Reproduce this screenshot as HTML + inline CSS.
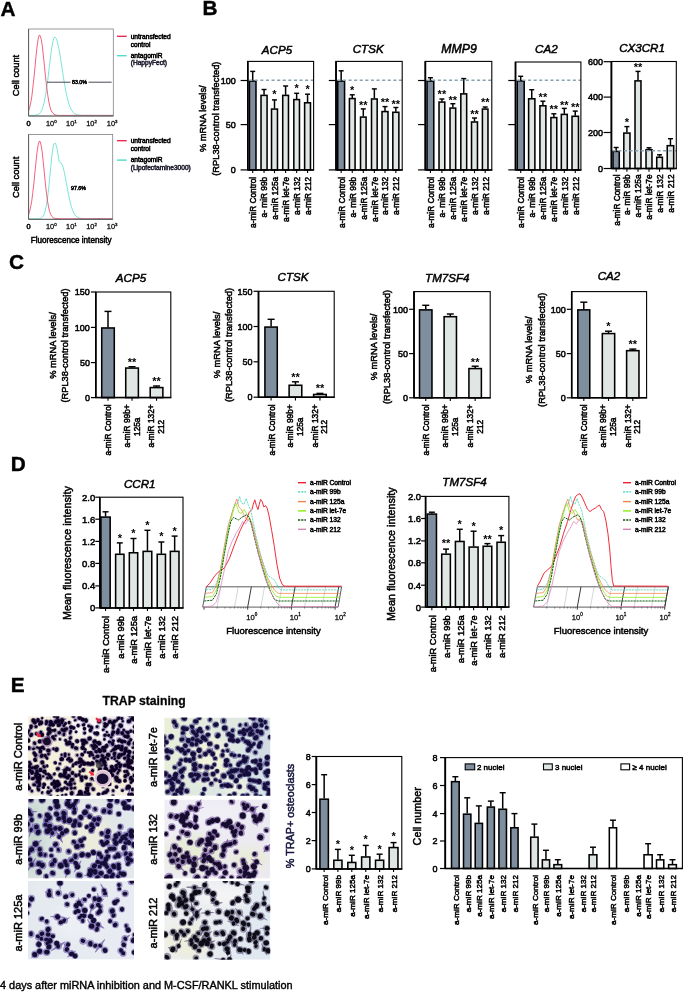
<!DOCTYPE html>
<html><head><meta charset="utf-8"><title>Figure</title>
<style>
html,body{margin:0;padding:0;background:#fff;}
svg{display:block;font-family:"Liberation Sans", sans-serif;}
</style></head>
<body>
<svg width="683" height="992" viewBox="0 0 683 992">
<defs>
<filter id="ident" x="0" y="0" width="683" height="992" filterUnits="userSpaceOnUse"><feOffset dx="0" dy="0"/></filter>
<filter id="blur1" x="-5%" y="-5%" width="110%" height="110%"><feGaussianBlur stdDeviation="0.5"/></filter>
<filter id="blur2" x="-20%" y="-20%" width="140%" height="140%"><feGaussianBlur stdDeviation="4"/></filter>
</defs>
<rect width="683" height="992" fill="#ffffff"/>
<g filter="url(#ident)">
<text font-size="20.8" text-anchor="start" fill="#000" font-weight="bold" x="0.40" y="16.00" stroke="#000" stroke-width="0.4">A</text>
<path d="M28.6 115.4 L29.7 115.4 L30.7 115.4 L31.8 115.4 L32.8 115.4 L33.9 115.3 L35.0 115.3 L36.0 115.1 L37.1 114.9 L38.1 114.5 L39.2 113.8 L40.2 112.7 L41.3 111.1 L42.4 108.7 L43.4 105.4 L44.5 101.0 L45.5 95.4 L46.6 88.6 L47.7 80.6 L48.7 71.9 L49.8 63.0 L50.8 54.4 L51.9 46.9 L53.0 41.2 L54.0 37.8 L55.1 37.1 L56.1 38.3 L57.2 41.2 L58.2 45.5 L59.3 50.9 L60.4 57.2 L61.4 64.0 L62.5 71.0 L63.5 77.9 L64.6 84.3 L65.7 90.2 L66.7 95.5 L67.8 99.9 L68.8 103.7 L69.9 106.7 L70.9 109.1 L72.0 110.9 L73.1 112.3 L74.1 113.3 L75.2 114.0 L76.2 114.5 L77.3 114.8 L78.4 115.0 L79.4 115.2 L80.5 115.3 L81.5 115.3 L82.6 115.4 L83.7 115.4 L84.7 115.4 L85.8 115.4 L86.8 115.4 L87.9 115.4 L88.9 115.4 L90.0 115.4 L91.1 115.4 L92.1 115.4 L93.2 115.4 L94.2 115.4 L95.3 115.4 L96.4 115.4 L97.4 115.4 L98.5 115.4 L99.5 115.4 L100.6 115.4 L101.7 115.4 L102.7 115.4 L103.8 115.4 L104.8 115.4 L105.9 115.4 L106.9 115.4 L108.0 115.4 L109.1 115.4 L110.1 115.4 L111.2 115.4 L112.2 115.4 L113.3 115.4" fill="none" stroke="#4fdcc8" stroke-width="0.75" stroke-linejoin="round" />
<path d="M28.6 110.8 L29.7 107.6 L30.7 102.9 L31.8 96.5 L32.8 88.1 L33.9 78.2 L35.0 67.1 L36.0 56.1 L37.1 46.3 L38.1 39.0 L39.2 35.3 L40.2 35.7 L41.3 39.7 L42.4 46.8 L43.4 56.1 L44.5 66.4 L45.5 76.8 L46.6 86.4 L47.7 94.6 L48.7 101.2 L49.8 106.1 L50.8 109.6 L51.9 111.9 L53.0 113.4 L54.0 114.3 L55.1 114.8 L56.1 115.1 L57.2 115.3 L58.2 115.3 L59.3 115.4 L60.4 115.4 L61.4 115.4 L62.5 115.4 L63.5 115.4 L64.6 115.4 L65.7 115.4 L66.7 115.4 L67.8 115.4 L68.8 115.4 L69.9 115.4 L70.9 115.4 L72.0 115.4 L73.1 115.4 L74.1 115.4 L75.2 115.4 L76.2 115.4 L77.3 115.4 L78.4 115.4 L79.4 115.4 L80.5 115.4 L81.5 115.4 L82.6 115.4 L83.7 115.4 L84.7 115.4 L85.8 115.4 L86.8 115.4 L87.9 115.4 L88.9 115.4 L90.0 115.4 L91.1 115.4 L92.1 115.4 L93.2 115.4 L94.2 115.4 L95.3 115.4 L96.4 115.4 L97.4 115.4 L98.5 115.4 L99.5 115.4 L100.6 115.4 L101.7 115.4 L102.7 115.4 L103.8 115.4 L104.8 115.4 L105.9 115.4 L106.9 115.4 L108.0 115.4 L109.1 115.4 L110.1 115.4 L111.2 115.4 L112.2 115.4 L113.3 115.4" fill="none" stroke="#ee2c55" stroke-width="0.75" stroke-linejoin="round" />
<rect x="28.60" y="29.00" width="84.70" height="87.00" fill="none" stroke="#808080" stroke-width="0.8"/>
<line x1="28.60" y1="29.00" x2="28.60" y2="116.00" stroke="#555" stroke-width="0.9" />
<line x1="28.60" y1="116.00" x2="113.30" y2="116.00" stroke="#555" stroke-width="0.9" />
<text font-size="7.4" text-anchor="middle" fill="#000" stroke="#000" stroke-width="0.5" x="28.60" y="125.60" >0</text>
<text x="51.30" y="125.60" font-size="7.4" text-anchor="middle" fill="#111" stroke="#111" stroke-width="0.3">10<tspan font-size="4.4" dy="-3.1">0</tspan></text>
<text x="71.40" y="125.60" font-size="7.4" text-anchor="middle" fill="#111" stroke="#111" stroke-width="0.3">10<tspan font-size="4.4" dy="-3.1">1</tspan></text>
<text x="91.60" y="125.60" font-size="7.4" text-anchor="middle" fill="#111" stroke="#111" stroke-width="0.3">10<tspan font-size="4.4" dy="-3.1">2</tspan></text>
<text x="112.20" y="125.60" font-size="7.4" text-anchor="middle" fill="#111" stroke="#111" stroke-width="0.3">10<tspan font-size="4.4" dy="-3.1">3</tspan></text>
<text font-size="9.3" text-anchor="middle" fill="#000" stroke="#000" stroke-width="0.5" transform="translate(18.87 75.50) rotate(-90)" >Cell count</text>
<line x1="117.00" y1="36.30" x2="126.70" y2="36.30" stroke="#ee2c55" stroke-width="1.4" />
<text font-size="6.6" text-anchor="start" fill="#000" stroke="#000" stroke-width="0.5" x="130.70" y="38.60" >untransfected</text>
<text font-size="6.6" text-anchor="start" fill="#000" stroke="#000" stroke-width="0.5" x="130.70" y="46.50" >control</text>
<line x1="117.00" y1="55.70" x2="126.70" y2="55.70" stroke="#4fdcc8" stroke-width="1.4" />
<text font-size="6.6" text-anchor="start" fill="#000" stroke="#000" stroke-width="0.5" x="130.70" y="57.50" >antagomiR</text>
<text font-size="6.6" text-anchor="start" fill="#223" stroke="#223" stroke-width="0.5" x="130.70" y="65.30" >(HappyFect)</text>
<path d="M28.6 218.7 L29.7 218.7 L30.7 218.7 L31.8 218.7 L32.8 218.7 L33.9 218.7 L34.9 218.7 L36.0 218.7 L37.0 218.7 L38.1 218.6 L39.1 218.5 L40.2 218.4 L41.2 218.0 L42.3 217.2 L43.3 215.9 L44.4 213.6 L45.4 210.1 L46.5 204.9 L47.5 197.9 L48.6 189.0 L49.6 178.6 L50.7 167.7 L51.7 157.4 L52.8 149.0 L53.8 144.0 L54.9 142.9 L55.9 144.6 L57.0 148.6 L58.0 154.3 L59.1 161.3 L60.1 162.6 L61.2 162.9 L62.2 164.7 L63.3 167.9 L64.3 172.3 L65.4 177.6 L66.4 183.2 L67.5 189.0 L68.5 194.5 L69.6 199.6 L70.7 204.0 L71.7 207.7 L72.8 210.7 L73.8 213.1 L74.9 214.9 L75.9 216.1 L77.0 217.0 L78.0 217.7 L79.1 218.1 L80.1 218.3 L81.2 218.5 L82.2 218.6 L83.3 218.6 L84.3 218.7 L85.4 218.7 L86.4 218.7 L87.5 218.7 L88.5 218.7 L89.6 218.7 L90.6 218.7 L91.7 218.7 L92.7 218.7 L93.8 218.7 L94.8 218.7 L95.9 218.7 L96.9 218.7 L98.0 218.7 L99.0 218.7 L100.1 218.7 L101.1 218.7 L102.2 218.7 L103.2 218.7 L104.3 218.7 L105.3 218.7 L106.4 218.7 L107.4 218.7 L108.5 218.7 L109.5 218.7 L110.6 218.7 L111.6 218.7 L112.7 218.7" fill="none" stroke="#4fdcc8" stroke-width="0.75" stroke-linejoin="round" />
<path d="M28.6 214.2 L29.7 211.2 L30.7 206.7 L31.8 200.6 L32.8 192.6 L33.9 183.1 L34.9 172.5 L36.0 161.9 L37.0 152.4 L38.1 145.2 L39.1 141.4 L40.2 141.6 L41.2 145.6 L42.3 153.0 L43.3 162.6 L44.4 173.3 L45.4 183.8 L46.5 193.2 L47.5 201.1 L48.6 207.1 L49.6 211.5 L50.7 214.4 L51.7 216.3 L52.8 217.4 L53.8 218.1 L54.9 218.4 L55.9 218.6 L57.0 218.6 L58.0 218.7 L59.1 218.7 L60.1 218.7 L61.2 218.7 L62.2 218.7 L63.3 218.7 L64.3 218.7 L65.4 218.7 L66.4 218.7 L67.5 218.7 L68.5 218.7 L69.6 218.7 L70.7 218.7 L71.7 218.7 L72.8 218.7 L73.8 218.7 L74.9 218.7 L75.9 218.7 L77.0 218.7 L78.0 218.7 L79.1 218.7 L80.1 218.7 L81.2 218.7 L82.2 218.7 L83.3 218.7 L84.3 218.7 L85.4 218.7 L86.4 218.7 L87.5 218.7 L88.5 218.7 L89.6 218.7 L90.6 218.7 L91.7 218.7 L92.7 218.7 L93.8 218.7 L94.8 218.7 L95.9 218.7 L96.9 218.7 L98.0 218.7 L99.0 218.7 L100.1 218.7 L101.1 218.7 L102.2 218.7 L103.2 218.7 L104.3 218.7 L105.3 218.7 L106.4 218.7 L107.4 218.7 L108.5 218.7 L109.5 218.7 L110.6 218.7 L111.6 218.7 L112.7 218.7" fill="none" stroke="#ee2c55" stroke-width="0.75" stroke-linejoin="round" />
<rect x="28.60" y="134.40" width="84.10" height="84.90" fill="none" stroke="#808080" stroke-width="0.8"/>
<line x1="28.60" y1="134.40" x2="28.60" y2="219.30" stroke="#555" stroke-width="0.9" />
<line x1="28.60" y1="219.30" x2="112.70" y2="219.30" stroke="#555" stroke-width="0.9" />
<text font-size="7.4" text-anchor="middle" fill="#000" stroke="#000" stroke-width="0.5" x="28.60" y="228.90" >0</text>
<text x="51.30" y="228.90" font-size="7.4" text-anchor="middle" fill="#111" stroke="#111" stroke-width="0.3">10<tspan font-size="4.4" dy="-3.1">0</tspan></text>
<text x="71.40" y="228.90" font-size="7.4" text-anchor="middle" fill="#111" stroke="#111" stroke-width="0.3">10<tspan font-size="4.4" dy="-3.1">1</tspan></text>
<text x="91.60" y="228.90" font-size="7.4" text-anchor="middle" fill="#111" stroke="#111" stroke-width="0.3">10<tspan font-size="4.4" dy="-3.1">2</tspan></text>
<text x="112.20" y="228.90" font-size="7.4" text-anchor="middle" fill="#111" stroke="#111" stroke-width="0.3">10<tspan font-size="4.4" dy="-3.1">3</tspan></text>
<text font-size="9.3" text-anchor="middle" fill="#000" stroke="#000" stroke-width="0.5" transform="translate(18.87 177.35) rotate(-90)" >Cell count</text>
<line x1="117.00" y1="140.70" x2="126.70" y2="140.70" stroke="#ee2c55" stroke-width="1.4" />
<text font-size="6.6" text-anchor="start" fill="#000" stroke="#000" stroke-width="0.5" x="130.70" y="143.00" >untransfected</text>
<text font-size="6.6" text-anchor="start" fill="#000" stroke="#000" stroke-width="0.5" x="130.70" y="150.90" >control</text>
<line x1="117.00" y1="160.10" x2="126.70" y2="160.10" stroke="#4fdcc8" stroke-width="1.4" />
<text font-size="6.6" text-anchor="start" fill="#000" stroke="#000" stroke-width="0.5" x="130.70" y="161.90" >antagomiR</text>
<text font-size="6.6" text-anchor="start" fill="#223" stroke="#223" stroke-width="0.5" x="130.70" y="169.70" >(Lipofectamine3000)</text>
<line x1="47.00" y1="82.20" x2="70.50" y2="82.20" stroke="#334" stroke-width="0.9" />
<line x1="88.50" y1="82.20" x2="111.60" y2="82.20" stroke="#334" stroke-width="0.9" />
<text font-size="5.3" text-anchor="middle" fill="#000" stroke="#000" stroke-width="0.5" x="79.50" y="84.20" >83.0%</text>
<text font-size="5.3" text-anchor="middle" fill="#000" stroke="#000" stroke-width="0.5" x="78.50" y="189.50" >97.6%</text>
<text font-size="8.15" text-anchor="middle" fill="#000" stroke="#000" stroke-width="0.5" x="71.20" y="243.40" >Fluorescence intensity</text>
<text font-size="20.8" text-anchor="start" fill="#000" font-weight="bold" x="202.50" y="14.50" stroke="#000" stroke-width="0.4">B</text>
<text font-size="9.3" text-anchor="middle" fill="#000" stroke="#000" stroke-width="0.5" transform="translate(206.07 118.70) rotate(-90)" >% mRNA levels/</text>
<text font-size="9.3" text-anchor="middle" fill="#000" stroke="#000" stroke-width="0.5" transform="translate(218.57 118.70) rotate(-90)" >(RPL38-control transfected)</text>
<line x1="252.70" y1="71.40" x2="252.70" y2="80.50" stroke="#000" stroke-width="1.5" />
<line x1="250.20" y1="71.40" x2="255.20" y2="71.40" stroke="#000" stroke-width="1.45" />
<rect x="249.43" y="81.08" width="6.55" height="88.83" fill="#7f8e9e" stroke="#000" stroke-width="1.55"/>
<line x1="264.05" y1="89.50" x2="264.05" y2="94.80" stroke="#000" stroke-width="1.5" />
<line x1="261.55" y1="89.50" x2="266.55" y2="89.50" stroke="#000" stroke-width="1.45" />
<rect x="261.02" y="95.38" width="6.05" height="74.53" fill="#e0e6e4" stroke="#000" stroke-width="1.55"/>
<line x1="274.50" y1="99.90" x2="274.50" y2="108.50" stroke="#000" stroke-width="1.5" />
<line x1="272.00" y1="99.90" x2="277.00" y2="99.90" stroke="#000" stroke-width="1.45" />
<rect x="271.52" y="109.08" width="5.95" height="60.83" fill="#e0e6e4" stroke="#000" stroke-width="1.55"/>
<text font-size="11" text-anchor="middle" fill="#000" font-weight="bold" x="274.50" y="97.80" >*</text>
<line x1="285.60" y1="86.00" x2="285.60" y2="94.80" stroke="#000" stroke-width="1.5" />
<line x1="283.10" y1="86.00" x2="288.10" y2="86.00" stroke="#000" stroke-width="1.45" />
<rect x="282.72" y="95.38" width="5.75" height="74.53" fill="#e0e6e4" stroke="#000" stroke-width="1.55"/>
<line x1="296.65" y1="93.30" x2="296.65" y2="99.00" stroke="#000" stroke-width="1.5" />
<line x1="294.15" y1="93.30" x2="299.15" y2="93.30" stroke="#000" stroke-width="1.45" />
<rect x="293.82" y="99.58" width="5.65" height="70.33" fill="#e0e6e4" stroke="#000" stroke-width="1.55"/>
<text font-size="11" text-anchor="middle" fill="#000" font-weight="bold" x="296.65" y="91.50" >*</text>
<line x1="307.55" y1="94.20" x2="307.55" y2="102.20" stroke="#000" stroke-width="1.5" />
<line x1="305.05" y1="94.20" x2="310.05" y2="94.20" stroke="#000" stroke-width="1.45" />
<rect x="304.62" y="102.78" width="5.85" height="67.12" fill="#e0e6e4" stroke="#000" stroke-width="1.55"/>
<text font-size="11" text-anchor="middle" fill="#000" font-weight="bold" x="307.55" y="92.70" >*</text>
<line x1="249.10" y1="80.30" x2="313.60" y2="80.30" stroke="#8aa2b2" stroke-width="1.6" stroke-dasharray="3.1 2.5"/>
<rect x="247.60" y="61.40" width="66.00" height="108.50" fill="none" stroke="#000" stroke-width="1.1"/>
<line x1="247.40" y1="169.90" x2="314.10" y2="169.90" stroke="#000" stroke-width="1.5" />
<line x1="247.90" y1="61.40" x2="247.90" y2="169.90" stroke="#000" stroke-width="1.7" />
<line x1="240.60" y1="80.50" x2="247.60" y2="80.50" stroke="#000" stroke-width="1.2" />
<text font-size="9.0" text-anchor="end" fill="#000" stroke="#000" stroke-width="0.5" x="235.80" y="83.74" >100</text>
<line x1="240.60" y1="124.60" x2="247.60" y2="124.60" stroke="#000" stroke-width="1.2" />
<text font-size="9.0" text-anchor="end" fill="#000" stroke="#000" stroke-width="0.5" x="235.80" y="127.84" >50</text>
<line x1="240.60" y1="169.90" x2="247.60" y2="169.90" stroke="#000" stroke-width="1.2" />
<text font-size="9.0" text-anchor="end" fill="#000" stroke="#000" stroke-width="0.5" x="235.80" y="173.14" >0</text>
<line x1="252.70" y1="169.90" x2="252.70" y2="173.10" stroke="#000" stroke-width="1.1" />
<text font-size="8.3" text-anchor="end" fill="#000" stroke="#000" stroke-width="0.5" transform="translate(256.14 176.80) rotate(-90)" >a-miR Control</text>
<line x1="264.05" y1="169.90" x2="264.05" y2="173.10" stroke="#000" stroke-width="1.1" />
<text font-size="8.3" text-anchor="end" fill="#000" stroke="#000" stroke-width="0.5" transform="translate(267.49 176.80) rotate(-90)" >a- miR 99b</text>
<line x1="274.50" y1="169.90" x2="274.50" y2="173.10" stroke="#000" stroke-width="1.1" />
<text font-size="8.3" text-anchor="end" fill="#000" stroke="#000" stroke-width="0.5" transform="translate(277.94 176.80) rotate(-90)" >a-miR 125a</text>
<line x1="285.60" y1="169.90" x2="285.60" y2="173.10" stroke="#000" stroke-width="1.1" />
<text font-size="8.3" text-anchor="end" fill="#000" stroke="#000" stroke-width="0.5" transform="translate(289.04 176.80) rotate(-90)" >a-miR let-7e</text>
<line x1="296.65" y1="169.90" x2="296.65" y2="173.10" stroke="#000" stroke-width="1.1" />
<text font-size="8.3" text-anchor="end" fill="#000" stroke="#000" stroke-width="0.5" transform="translate(300.09 176.80) rotate(-90)" >a-miR 132</text>
<line x1="307.55" y1="169.90" x2="307.55" y2="173.10" stroke="#000" stroke-width="1.1" />
<text font-size="8.3" text-anchor="end" fill="#000" stroke="#000" stroke-width="0.5" transform="translate(310.99 176.80) rotate(-90)" >a-miR 212</text>
<text font-size="11.6" text-anchor="middle" fill="#000" stroke="#000" stroke-width="0.5" font-style="italic" x="277.00" y="53.90" >ACP5</text>
<line x1="341.15" y1="70.80" x2="341.15" y2="80.50" stroke="#000" stroke-width="1.5" />
<line x1="338.65" y1="70.80" x2="343.65" y2="70.80" stroke="#000" stroke-width="1.45" />
<rect x="337.72" y="81.08" width="6.85" height="88.83" fill="#7f8e9e" stroke="#000" stroke-width="1.55"/>
<line x1="352.25" y1="94.80" x2="352.25" y2="98.00" stroke="#000" stroke-width="1.5" />
<line x1="349.75" y1="94.80" x2="354.75" y2="94.80" stroke="#000" stroke-width="1.45" />
<rect x="349.42" y="98.58" width="5.65" height="71.33" fill="#e0e6e4" stroke="#000" stroke-width="1.55"/>
<text font-size="11" text-anchor="middle" fill="#000" font-weight="bold" x="352.25" y="94.00" >*</text>
<line x1="363.30" y1="108.90" x2="363.30" y2="116.50" stroke="#000" stroke-width="1.5" />
<line x1="360.80" y1="108.90" x2="365.80" y2="108.90" stroke="#000" stroke-width="1.45" />
<rect x="360.52" y="117.08" width="5.55" height="52.83" fill="#e0e6e4" stroke="#000" stroke-width="1.55"/>
<text font-size="11" text-anchor="middle" fill="#000" font-weight="bold" x="363.30" y="108.70" >**</text>
<line x1="374.35" y1="88.90" x2="374.35" y2="98.40" stroke="#000" stroke-width="1.5" />
<line x1="371.85" y1="88.90" x2="376.85" y2="88.90" stroke="#000" stroke-width="1.45" />
<rect x="371.52" y="98.98" width="5.65" height="70.92" fill="#e0e6e4" stroke="#000" stroke-width="1.55"/>
<line x1="385.00" y1="106.60" x2="385.00" y2="111.00" stroke="#000" stroke-width="1.5" />
<line x1="382.50" y1="106.60" x2="387.50" y2="106.60" stroke="#000" stroke-width="1.45" />
<rect x="382.02" y="111.58" width="5.95" height="58.33" fill="#e0e6e4" stroke="#000" stroke-width="1.55"/>
<text font-size="11" text-anchor="middle" fill="#000" font-weight="bold" x="385.00" y="106.40" >**</text>
<line x1="395.85" y1="107.50" x2="395.85" y2="111.70" stroke="#000" stroke-width="1.5" />
<line x1="393.35" y1="107.50" x2="398.35" y2="107.50" stroke="#000" stroke-width="1.45" />
<rect x="392.82" y="112.28" width="6.05" height="57.62" fill="#e0e6e4" stroke="#000" stroke-width="1.55"/>
<text font-size="11" text-anchor="middle" fill="#000" font-weight="bold" x="395.85" y="107.70" >**</text>
<line x1="337.30" y1="80.30" x2="402.20" y2="80.30" stroke="#8aa2b2" stroke-width="1.6" stroke-dasharray="3.1 2.5"/>
<rect x="335.80" y="61.40" width="66.40" height="108.50" fill="none" stroke="#000" stroke-width="1.1"/>
<line x1="335.60" y1="169.90" x2="402.70" y2="169.90" stroke="#000" stroke-width="1.5" />
<line x1="336.10" y1="61.40" x2="336.10" y2="169.90" stroke="#000" stroke-width="1.7" />
<line x1="328.80" y1="80.50" x2="335.80" y2="80.50" stroke="#000" stroke-width="1.2" />
<line x1="328.80" y1="124.60" x2="335.80" y2="124.60" stroke="#000" stroke-width="1.2" />
<line x1="328.80" y1="169.90" x2="335.80" y2="169.90" stroke="#000" stroke-width="1.2" />
<line x1="341.15" y1="169.90" x2="341.15" y2="173.10" stroke="#000" stroke-width="1.1" />
<text font-size="8.3" text-anchor="end" fill="#000" stroke="#000" stroke-width="0.5" transform="translate(344.59 176.80) rotate(-90)" >a-miR Control</text>
<line x1="352.25" y1="169.90" x2="352.25" y2="173.10" stroke="#000" stroke-width="1.1" />
<text font-size="8.3" text-anchor="end" fill="#000" stroke="#000" stroke-width="0.5" transform="translate(355.69 176.80) rotate(-90)" >a- miR 99b</text>
<line x1="363.30" y1="169.90" x2="363.30" y2="173.10" stroke="#000" stroke-width="1.1" />
<text font-size="8.3" text-anchor="end" fill="#000" stroke="#000" stroke-width="0.5" transform="translate(366.74 176.80) rotate(-90)" >a-miR 125a</text>
<line x1="374.35" y1="169.90" x2="374.35" y2="173.10" stroke="#000" stroke-width="1.1" />
<text font-size="8.3" text-anchor="end" fill="#000" stroke="#000" stroke-width="0.5" transform="translate(377.79 176.80) rotate(-90)" >a-miR let-7e</text>
<line x1="385.00" y1="169.90" x2="385.00" y2="173.10" stroke="#000" stroke-width="1.1" />
<text font-size="8.3" text-anchor="end" fill="#000" stroke="#000" stroke-width="0.5" transform="translate(388.44 176.80) rotate(-90)" >a-miR 132</text>
<line x1="395.85" y1="169.90" x2="395.85" y2="173.10" stroke="#000" stroke-width="1.1" />
<text font-size="8.3" text-anchor="end" fill="#000" stroke="#000" stroke-width="0.5" transform="translate(399.29 176.80) rotate(-90)" >a-miR 212</text>
<text font-size="11.6" text-anchor="middle" fill="#000" stroke="#000" stroke-width="0.5" font-style="italic" x="368.20" y="53.30" >CTSK</text>
<line x1="430.40" y1="77.70" x2="430.40" y2="80.50" stroke="#000" stroke-width="1.5" />
<line x1="427.90" y1="77.70" x2="432.90" y2="77.70" stroke="#000" stroke-width="1.45" />
<rect x="427.02" y="81.08" width="6.75" height="88.83" fill="#7f8e9e" stroke="#000" stroke-width="1.55"/>
<line x1="441.90" y1="99.00" x2="441.90" y2="101.50" stroke="#000" stroke-width="1.5" />
<line x1="439.40" y1="99.00" x2="444.40" y2="99.00" stroke="#000" stroke-width="1.45" />
<rect x="439.02" y="102.08" width="5.75" height="67.83" fill="#e0e6e4" stroke="#000" stroke-width="1.55"/>
<text font-size="11" text-anchor="middle" fill="#000" font-weight="bold" x="441.90" y="97.80" >**</text>
<line x1="452.85" y1="103.70" x2="452.85" y2="107.50" stroke="#000" stroke-width="1.5" />
<line x1="450.35" y1="103.70" x2="455.35" y2="103.70" stroke="#000" stroke-width="1.45" />
<rect x="450.02" y="108.08" width="5.65" height="61.83" fill="#e0e6e4" stroke="#000" stroke-width="1.55"/>
<text font-size="11" text-anchor="middle" fill="#000" font-weight="bold" x="452.85" y="103.50" >**</text>
<line x1="463.75" y1="78.60" x2="463.75" y2="93.30" stroke="#000" stroke-width="1.5" />
<line x1="461.25" y1="78.60" x2="466.25" y2="78.60" stroke="#000" stroke-width="1.45" />
<rect x="460.82" y="93.88" width="5.85" height="76.03" fill="#e0e6e4" stroke="#000" stroke-width="1.55"/>
<line x1="474.50" y1="118.00" x2="474.50" y2="121.40" stroke="#000" stroke-width="1.5" />
<line x1="472.00" y1="118.00" x2="477.00" y2="118.00" stroke="#000" stroke-width="1.45" />
<rect x="471.52" y="121.98" width="5.95" height="47.92" fill="#e0e6e4" stroke="#000" stroke-width="1.55"/>
<text font-size="11" text-anchor="middle" fill="#000" font-weight="bold" x="474.50" y="117.80" >**</text>
<line x1="485.20" y1="107.00" x2="485.20" y2="108.50" stroke="#000" stroke-width="1.5" />
<line x1="482.70" y1="107.00" x2="487.70" y2="107.00" stroke="#000" stroke-width="1.45" />
<rect x="482.42" y="109.08" width="5.55" height="60.83" fill="#e0e6e4" stroke="#000" stroke-width="1.55"/>
<text font-size="11" text-anchor="middle" fill="#000" font-weight="bold" x="485.20" y="106.40" >**</text>
<line x1="426.60" y1="80.30" x2="491.80" y2="80.30" stroke="#8aa2b2" stroke-width="1.6" stroke-dasharray="3.1 2.5"/>
<rect x="425.10" y="61.40" width="66.70" height="108.50" fill="none" stroke="#000" stroke-width="1.1"/>
<line x1="424.90" y1="169.90" x2="492.30" y2="169.90" stroke="#000" stroke-width="1.5" />
<line x1="425.40" y1="61.40" x2="425.40" y2="169.90" stroke="#000" stroke-width="1.7" />
<line x1="418.10" y1="80.50" x2="425.10" y2="80.50" stroke="#000" stroke-width="1.2" />
<line x1="418.10" y1="124.60" x2="425.10" y2="124.60" stroke="#000" stroke-width="1.2" />
<line x1="418.10" y1="169.90" x2="425.10" y2="169.90" stroke="#000" stroke-width="1.2" />
<line x1="430.40" y1="169.90" x2="430.40" y2="173.10" stroke="#000" stroke-width="1.1" />
<text font-size="8.3" text-anchor="end" fill="#000" stroke="#000" stroke-width="0.5" transform="translate(433.84 176.80) rotate(-90)" >a-miR Control</text>
<line x1="441.90" y1="169.90" x2="441.90" y2="173.10" stroke="#000" stroke-width="1.1" />
<text font-size="8.3" text-anchor="end" fill="#000" stroke="#000" stroke-width="0.5" transform="translate(445.34 176.80) rotate(-90)" >a- miR 99b</text>
<line x1="452.85" y1="169.90" x2="452.85" y2="173.10" stroke="#000" stroke-width="1.1" />
<text font-size="8.3" text-anchor="end" fill="#000" stroke="#000" stroke-width="0.5" transform="translate(456.29 176.80) rotate(-90)" >a-miR 125a</text>
<line x1="463.75" y1="169.90" x2="463.75" y2="173.10" stroke="#000" stroke-width="1.1" />
<text font-size="8.3" text-anchor="end" fill="#000" stroke="#000" stroke-width="0.5" transform="translate(467.19 176.80) rotate(-90)" >a-miR let-7e</text>
<line x1="474.50" y1="169.90" x2="474.50" y2="173.10" stroke="#000" stroke-width="1.1" />
<text font-size="8.3" text-anchor="end" fill="#000" stroke="#000" stroke-width="0.5" transform="translate(477.94 176.80) rotate(-90)" >a-miR 132</text>
<line x1="485.20" y1="169.90" x2="485.20" y2="173.10" stroke="#000" stroke-width="1.1" />
<text font-size="8.3" text-anchor="end" fill="#000" stroke="#000" stroke-width="0.5" transform="translate(488.64 176.80) rotate(-90)" >a-miR 212</text>
<text font-size="12.3" text-anchor="middle" fill="#000" stroke="#000" stroke-width="0.5" font-style="italic" x="459.00" y="53.30" >MMP9</text>
<line x1="520.70" y1="76.30" x2="520.70" y2="80.30" stroke="#000" stroke-width="1.5" />
<line x1="518.20" y1="76.30" x2="523.20" y2="76.30" stroke="#000" stroke-width="1.45" />
<rect x="517.23" y="80.88" width="6.95" height="89.03" fill="#7f8e9e" stroke="#000" stroke-width="1.55"/>
<line x1="531.75" y1="89.70" x2="531.75" y2="98.20" stroke="#000" stroke-width="1.5" />
<line x1="529.25" y1="89.70" x2="534.25" y2="89.70" stroke="#000" stroke-width="1.45" />
<rect x="528.62" y="98.78" width="6.25" height="71.12" fill="#e0e6e4" stroke="#000" stroke-width="1.55"/>
<line x1="542.90" y1="101.20" x2="542.90" y2="105.20" stroke="#000" stroke-width="1.5" />
<line x1="540.40" y1="101.20" x2="545.40" y2="101.20" stroke="#000" stroke-width="1.45" />
<rect x="539.92" y="105.78" width="5.95" height="64.12" fill="#e0e6e4" stroke="#000" stroke-width="1.55"/>
<text font-size="11" text-anchor="middle" fill="#000" font-weight="bold" x="542.90" y="100.50" >**</text>
<line x1="553.85" y1="113.80" x2="553.85" y2="117.00" stroke="#000" stroke-width="1.5" />
<line x1="551.35" y1="113.80" x2="556.35" y2="113.80" stroke="#000" stroke-width="1.45" />
<rect x="550.92" y="117.58" width="5.85" height="52.33" fill="#e0e6e4" stroke="#000" stroke-width="1.55"/>
<text font-size="11" text-anchor="middle" fill="#000" font-weight="bold" x="553.85" y="112.50" >**</text>
<line x1="564.30" y1="108.40" x2="564.30" y2="113.80" stroke="#000" stroke-width="1.5" />
<line x1="561.80" y1="108.40" x2="566.80" y2="108.40" stroke="#000" stroke-width="1.45" />
<rect x="561.32" y="114.38" width="5.95" height="55.53" fill="#e0e6e4" stroke="#000" stroke-width="1.55"/>
<text font-size="11" text-anchor="middle" fill="#000" font-weight="bold" x="564.30" y="108.50" >**</text>
<line x1="575.25" y1="111.10" x2="575.25" y2="115.70" stroke="#000" stroke-width="1.5" />
<line x1="572.75" y1="111.10" x2="577.75" y2="111.10" stroke="#000" stroke-width="1.45" />
<rect x="572.02" y="116.28" width="6.45" height="53.62" fill="#e0e6e4" stroke="#000" stroke-width="1.55"/>
<text font-size="11" text-anchor="middle" fill="#000" font-weight="bold" x="575.25" y="110.50" >**</text>
<line x1="516.80" y1="80.30" x2="580.90" y2="80.30" stroke="#8aa2b2" stroke-width="1.6" stroke-dasharray="3.1 2.5"/>
<rect x="515.30" y="62.00" width="65.60" height="107.90" fill="none" stroke="#000" stroke-width="1.1"/>
<line x1="515.10" y1="169.90" x2="581.40" y2="169.90" stroke="#000" stroke-width="1.5" />
<line x1="515.60" y1="62.00" x2="515.60" y2="169.90" stroke="#000" stroke-width="1.7" />
<line x1="508.30" y1="80.50" x2="515.30" y2="80.50" stroke="#000" stroke-width="1.2" />
<line x1="508.30" y1="124.60" x2="515.30" y2="124.60" stroke="#000" stroke-width="1.2" />
<line x1="508.30" y1="169.90" x2="515.30" y2="169.90" stroke="#000" stroke-width="1.2" />
<line x1="520.70" y1="169.90" x2="520.70" y2="173.10" stroke="#000" stroke-width="1.1" />
<text font-size="8.3" text-anchor="end" fill="#000" stroke="#000" stroke-width="0.5" transform="translate(524.14 176.80) rotate(-90)" >a-miR Control</text>
<line x1="531.75" y1="169.90" x2="531.75" y2="173.10" stroke="#000" stroke-width="1.1" />
<text font-size="8.3" text-anchor="end" fill="#000" stroke="#000" stroke-width="0.5" transform="translate(535.19 176.80) rotate(-90)" >a- miR 99b</text>
<line x1="542.90" y1="169.90" x2="542.90" y2="173.10" stroke="#000" stroke-width="1.1" />
<text font-size="8.3" text-anchor="end" fill="#000" stroke="#000" stroke-width="0.5" transform="translate(546.34 176.80) rotate(-90)" >a-miR 125a</text>
<line x1="553.85" y1="169.90" x2="553.85" y2="173.10" stroke="#000" stroke-width="1.1" />
<text font-size="8.3" text-anchor="end" fill="#000" stroke="#000" stroke-width="0.5" transform="translate(557.29 176.80) rotate(-90)" >a-miR let-7e</text>
<line x1="564.30" y1="169.90" x2="564.30" y2="173.10" stroke="#000" stroke-width="1.1" />
<text font-size="8.3" text-anchor="end" fill="#000" stroke="#000" stroke-width="0.5" transform="translate(567.74 176.80) rotate(-90)" >a-miR 132</text>
<line x1="575.25" y1="169.90" x2="575.25" y2="173.10" stroke="#000" stroke-width="1.1" />
<text font-size="8.3" text-anchor="end" fill="#000" stroke="#000" stroke-width="0.5" transform="translate(578.69 176.80) rotate(-90)" >a-miR 212</text>
<text font-size="11.6" text-anchor="middle" fill="#000" stroke="#000" stroke-width="0.5" font-style="italic" x="546.40" y="52.70" >CA2</text>
<line x1="616.15" y1="147.50" x2="616.15" y2="150.80" stroke="#000" stroke-width="1.5" />
<line x1="613.65" y1="147.50" x2="618.65" y2="147.50" stroke="#000" stroke-width="1.45" />
<rect x="613.02" y="151.38" width="6.25" height="17.12" fill="#7f8e9e" stroke="#000" stroke-width="1.55"/>
<line x1="626.90" y1="126.60" x2="626.90" y2="132.50" stroke="#000" stroke-width="1.5" />
<line x1="624.40" y1="126.60" x2="629.40" y2="126.60" stroke="#000" stroke-width="1.45" />
<rect x="623.82" y="133.08" width="6.15" height="35.42" fill="#e0e6e4" stroke="#000" stroke-width="1.55"/>
<text font-size="11" text-anchor="middle" fill="#000" font-weight="bold" x="626.90" y="126.00" >*</text>
<line x1="638.00" y1="71.40" x2="638.00" y2="80.30" stroke="#000" stroke-width="1.5" />
<line x1="635.50" y1="71.40" x2="640.50" y2="71.40" stroke="#000" stroke-width="1.45" />
<rect x="635.02" y="80.88" width="5.95" height="87.62" fill="#e0e6e4" stroke="#000" stroke-width="1.55"/>
<text font-size="11" text-anchor="middle" fill="#000" font-weight="bold" x="638.00" y="71.00" >**</text>
<line x1="649.00" y1="147.80" x2="649.00" y2="149.20" stroke="#000" stroke-width="1.5" />
<line x1="646.50" y1="147.80" x2="651.50" y2="147.80" stroke="#000" stroke-width="1.45" />
<rect x="646.02" y="149.78" width="5.95" height="18.72" fill="#e0e6e4" stroke="#000" stroke-width="1.55"/>
<line x1="659.55" y1="154.80" x2="659.55" y2="156.70" stroke="#000" stroke-width="1.5" />
<line x1="657.05" y1="154.80" x2="662.05" y2="154.80" stroke="#000" stroke-width="1.45" />
<rect x="656.73" y="157.28" width="5.65" height="11.22" fill="#e0e6e4" stroke="#000" stroke-width="1.55"/>
<line x1="670.45" y1="138.70" x2="670.45" y2="145.10" stroke="#000" stroke-width="1.5" />
<line x1="667.95" y1="138.70" x2="672.95" y2="138.70" stroke="#000" stroke-width="1.45" />
<rect x="667.23" y="145.68" width="6.45" height="22.82" fill="#e0e6e4" stroke="#000" stroke-width="1.55"/>
<line x1="612.70" y1="150.80" x2="676.30" y2="150.80" stroke="#8aa2b2" stroke-width="1.6" stroke-dasharray="3.1 2.5"/>
<rect x="611.20" y="61.50" width="65.10" height="107.00" fill="none" stroke="#000" stroke-width="1.1"/>
<line x1="611.00" y1="168.50" x2="676.80" y2="168.50" stroke="#000" stroke-width="1.5" />
<line x1="611.50" y1="61.50" x2="611.50" y2="168.50" stroke="#000" stroke-width="1.7" />
<line x1="603.60" y1="61.70" x2="611.20" y2="61.70" stroke="#000" stroke-width="1.2" />
<text font-size="9.0" text-anchor="end" fill="#000" stroke="#000" stroke-width="0.5" x="603.00" y="64.94" >600</text>
<line x1="603.60" y1="97.10" x2="611.20" y2="97.10" stroke="#000" stroke-width="1.2" />
<text font-size="9.0" text-anchor="end" fill="#000" stroke="#000" stroke-width="0.5" x="603.00" y="100.34" >400</text>
<line x1="603.60" y1="132.50" x2="611.20" y2="132.50" stroke="#000" stroke-width="1.2" />
<text font-size="9.0" text-anchor="end" fill="#000" stroke="#000" stroke-width="0.5" x="603.00" y="135.74" >200</text>
<line x1="603.60" y1="168.50" x2="611.20" y2="168.50" stroke="#000" stroke-width="1.2" />
<text font-size="9.0" text-anchor="end" fill="#000" stroke="#000" stroke-width="0.5" x="603.00" y="171.74" >0</text>
<line x1="616.15" y1="168.50" x2="616.15" y2="171.70" stroke="#000" stroke-width="1.1" />
<text font-size="8.3" text-anchor="end" fill="#000" stroke="#000" stroke-width="0.5" transform="translate(619.59 174.50) rotate(-90)" >a-miR Control</text>
<line x1="626.90" y1="168.50" x2="626.90" y2="171.70" stroke="#000" stroke-width="1.1" />
<text font-size="8.3" text-anchor="end" fill="#000" stroke="#000" stroke-width="0.5" transform="translate(630.34 174.50) rotate(-90)" >a- miR 99b</text>
<line x1="638.00" y1="168.50" x2="638.00" y2="171.70" stroke="#000" stroke-width="1.1" />
<text font-size="8.3" text-anchor="end" fill="#000" stroke="#000" stroke-width="0.5" transform="translate(641.44 174.50) rotate(-90)" >a-miR 125a</text>
<line x1="649.00" y1="168.50" x2="649.00" y2="171.70" stroke="#000" stroke-width="1.1" />
<text font-size="8.3" text-anchor="end" fill="#000" stroke="#000" stroke-width="0.5" transform="translate(652.44 174.50) rotate(-90)" >a-miR let-7e</text>
<line x1="659.55" y1="168.50" x2="659.55" y2="171.70" stroke="#000" stroke-width="1.1" />
<text font-size="8.3" text-anchor="end" fill="#000" stroke="#000" stroke-width="0.5" transform="translate(662.99 174.50) rotate(-90)" >a-miR 132</text>
<line x1="670.45" y1="168.50" x2="670.45" y2="171.70" stroke="#000" stroke-width="1.1" />
<text font-size="8.3" text-anchor="end" fill="#000" stroke="#000" stroke-width="0.5" transform="translate(673.89 174.50) rotate(-90)" >a-miR 212</text>
<text font-size="11.6" text-anchor="middle" fill="#000" stroke="#000" stroke-width="0.5" font-style="italic" x="642.00" y="51.60" >CX3CR1</text>
<text font-size="20.8" text-anchor="start" fill="#000" font-weight="bold" x="9.00" y="268.90" stroke="#000" stroke-width="0.4">C</text>
<text font-size="9.3" text-anchor="middle" fill="#000" stroke="#000" stroke-width="0.5" transform="translate(55.77 345.50) rotate(-90)" >% mRNA levels/</text>
<text font-size="9.3" text-anchor="middle" fill="#000" stroke="#000" stroke-width="0.5" transform="translate(68.47 345.50) rotate(-90)" >(RPL38-control transfected)</text>
<line x1="108.00" y1="311.40" x2="108.00" y2="327.40" stroke="#000" stroke-width="1.5" />
<line x1="104.50" y1="311.40" x2="111.50" y2="311.40" stroke="#000" stroke-width="1.45" />
<rect x="101.73" y="327.97" width="12.55" height="69.63" fill="#7f8e9e" stroke="#000" stroke-width="1.55"/>
<line x1="132.05" y1="366.70" x2="132.05" y2="367.50" stroke="#000" stroke-width="1.5" />
<line x1="128.55" y1="366.70" x2="135.55" y2="366.70" stroke="#000" stroke-width="1.45" />
<rect x="125.73" y="368.07" width="12.65" height="29.53" fill="#e0e6e4" stroke="#000" stroke-width="1.55"/>
<text font-size="11" text-anchor="middle" fill="#000" font-weight="bold" x="132.05" y="365.50" >**</text>
<line x1="156.55" y1="386.00" x2="156.55" y2="387.00" stroke="#000" stroke-width="1.5" />
<line x1="153.05" y1="386.00" x2="160.05" y2="386.00" stroke="#000" stroke-width="1.45" />
<rect x="150.22" y="387.57" width="12.65" height="10.03" fill="#e0e6e4" stroke="#000" stroke-width="1.55"/>
<text font-size="11" text-anchor="middle" fill="#000" font-weight="bold" x="156.55" y="385.00" >**</text>
<rect x="95.60" y="292.00" width="75.20" height="105.60" fill="none" stroke="#000" stroke-width="1.1"/>
<line x1="95.40" y1="397.60" x2="171.30" y2="397.60" stroke="#000" stroke-width="1.5" />
<line x1="95.90" y1="292.00" x2="95.90" y2="397.60" stroke="#000" stroke-width="1.7" />
<line x1="90.90" y1="292.00" x2="95.60" y2="292.00" stroke="#000" stroke-width="1.2" />
<text font-size="9.0" text-anchor="end" fill="#000" stroke="#000" stroke-width="0.5" x="89.90" y="295.24" >150</text>
<line x1="90.90" y1="327.40" x2="95.60" y2="327.40" stroke="#000" stroke-width="1.2" />
<text font-size="9.0" text-anchor="end" fill="#000" stroke="#000" stroke-width="0.5" x="89.90" y="330.64" >100</text>
<line x1="90.90" y1="362.60" x2="95.60" y2="362.60" stroke="#000" stroke-width="1.2" />
<text font-size="9.0" text-anchor="end" fill="#000" stroke="#000" stroke-width="0.5" x="89.90" y="365.84" >50</text>
<line x1="90.90" y1="397.60" x2="95.60" y2="397.60" stroke="#000" stroke-width="1.2" />
<text font-size="9.0" text-anchor="end" fill="#000" stroke="#000" stroke-width="0.5" x="89.90" y="400.84" >0</text>
<line x1="108.00" y1="397.60" x2="108.00" y2="400.80" stroke="#000" stroke-width="1.1" />
<text font-size="8.3" text-anchor="end" fill="#000" stroke="#000" stroke-width="0.5" transform="translate(111.44 404.40) rotate(-90)" >a-miR Control</text>
<line x1="132.05" y1="397.60" x2="132.05" y2="400.80" stroke="#000" stroke-width="1.1" />
<text font-size="8.3" text-anchor="end" fill="#000" stroke="#000" stroke-width="0.5" transform="translate(129.89 404.40) rotate(-90)" >a-miR 99b+</text>
<text font-size="8.3" text-anchor="middle" fill="#000" stroke="#000" stroke-width="0.5" transform="translate(139.59 426.74) rotate(-90)" >125a</text>
<line x1="156.55" y1="397.60" x2="156.55" y2="400.80" stroke="#000" stroke-width="1.1" />
<text font-size="8.3" text-anchor="end" fill="#000" stroke="#000" stroke-width="0.5" transform="translate(154.39 404.40) rotate(-90)" >a-miR 132+</text>
<text font-size="8.3" text-anchor="middle" fill="#000" stroke="#000" stroke-width="0.5" transform="translate(164.09 426.74) rotate(-90)" >212</text>
<text font-size="11.6" text-anchor="middle" fill="#000" stroke="#000" stroke-width="0.5" font-style="italic" x="131.00" y="282.40" >ACP5</text>
<text font-size="9.3" text-anchor="middle" fill="#000" stroke="#000" stroke-width="0.5" transform="translate(220.07 345.00) rotate(-90)" >% mRNA levels/</text>
<text font-size="9.3" text-anchor="middle" fill="#000" stroke="#000" stroke-width="0.5" transform="translate(232.37 345.00) rotate(-90)" >(RPL38-control transfected)</text>
<line x1="271.10" y1="319.30" x2="271.10" y2="326.50" stroke="#000" stroke-width="1.5" />
<line x1="267.60" y1="319.30" x2="274.60" y2="319.30" stroke="#000" stroke-width="1.45" />
<rect x="264.92" y="327.07" width="12.35" height="70.12" fill="#7f8e9e" stroke="#000" stroke-width="1.55"/>
<line x1="295.45" y1="381.80" x2="295.45" y2="384.70" stroke="#000" stroke-width="1.5" />
<line x1="291.95" y1="381.80" x2="298.95" y2="381.80" stroke="#000" stroke-width="1.45" />
<rect x="289.12" y="385.27" width="12.65" height="11.93" fill="#e0e6e4" stroke="#000" stroke-width="1.55"/>
<text font-size="11" text-anchor="middle" fill="#000" font-weight="bold" x="295.45" y="380.50" >**</text>
<line x1="319.95" y1="393.40" x2="319.95" y2="393.90" stroke="#000" stroke-width="1.5" />
<line x1="316.45" y1="393.40" x2="323.45" y2="393.40" stroke="#000" stroke-width="1.45" />
<rect x="313.62" y="394.47" width="12.65" height="2.73" fill="#e0e6e4" stroke="#000" stroke-width="1.55"/>
<text font-size="11" text-anchor="middle" fill="#000" font-weight="bold" x="319.95" y="392.00" >**</text>
<rect x="258.30" y="291.30" width="75.90" height="105.90" fill="none" stroke="#000" stroke-width="1.1"/>
<line x1="258.10" y1="397.20" x2="334.70" y2="397.20" stroke="#000" stroke-width="1.5" />
<line x1="258.60" y1="291.30" x2="258.60" y2="397.20" stroke="#000" stroke-width="1.7" />
<line x1="253.60" y1="291.30" x2="258.30" y2="291.30" stroke="#000" stroke-width="1.2" />
<text font-size="9.0" text-anchor="end" fill="#000" stroke="#000" stroke-width="0.5" x="252.60" y="294.54" >150</text>
<line x1="253.60" y1="326.50" x2="258.30" y2="326.50" stroke="#000" stroke-width="1.2" />
<text font-size="9.0" text-anchor="end" fill="#000" stroke="#000" stroke-width="0.5" x="252.60" y="329.74" >100</text>
<line x1="253.60" y1="361.80" x2="258.30" y2="361.80" stroke="#000" stroke-width="1.2" />
<text font-size="9.0" text-anchor="end" fill="#000" stroke="#000" stroke-width="0.5" x="252.60" y="365.04" >50</text>
<line x1="253.60" y1="397.20" x2="258.30" y2="397.20" stroke="#000" stroke-width="1.2" />
<text font-size="9.0" text-anchor="end" fill="#000" stroke="#000" stroke-width="0.5" x="252.60" y="400.44" >0</text>
<line x1="271.10" y1="397.20" x2="271.10" y2="400.40" stroke="#000" stroke-width="1.1" />
<text font-size="8.3" text-anchor="end" fill="#000" stroke="#000" stroke-width="0.5" transform="translate(274.54 404.40) rotate(-90)" >a-miR Control</text>
<line x1="295.45" y1="397.20" x2="295.45" y2="400.40" stroke="#000" stroke-width="1.1" />
<text font-size="8.3" text-anchor="end" fill="#000" stroke="#000" stroke-width="0.5" transform="translate(293.29 404.40) rotate(-90)" >a-miR 99b+</text>
<text font-size="8.3" text-anchor="middle" fill="#000" stroke="#000" stroke-width="0.5" transform="translate(302.99 426.74) rotate(-90)" >125a</text>
<line x1="319.95" y1="397.20" x2="319.95" y2="400.40" stroke="#000" stroke-width="1.1" />
<text font-size="8.3" text-anchor="end" fill="#000" stroke="#000" stroke-width="0.5" transform="translate(317.79 404.40) rotate(-90)" >a-miR 132+</text>
<text font-size="8.3" text-anchor="middle" fill="#000" stroke="#000" stroke-width="0.5" transform="translate(327.49 426.74) rotate(-90)" >212</text>
<text font-size="11.6" text-anchor="middle" fill="#000" stroke="#000" stroke-width="0.5" font-style="italic" x="293.00" y="281.00" >CTSK</text>
<text font-size="9.3" text-anchor="middle" fill="#000" stroke="#000" stroke-width="0.5" transform="translate(377.37 347.00) rotate(-90)" >% mRNA levels/</text>
<text font-size="9.3" text-anchor="middle" fill="#000" stroke="#000" stroke-width="0.5" transform="translate(389.77 347.00) rotate(-90)" >(RPL38-control transfected)</text>
<line x1="425.75" y1="305.30" x2="425.75" y2="309.30" stroke="#000" stroke-width="1.5" />
<line x1="422.25" y1="305.30" x2="429.25" y2="305.30" stroke="#000" stroke-width="1.45" />
<rect x="419.52" y="309.88" width="12.45" height="87.93" fill="#7f8e9e" stroke="#000" stroke-width="1.55"/>
<line x1="450.30" y1="314.00" x2="450.30" y2="316.10" stroke="#000" stroke-width="1.5" />
<line x1="446.80" y1="314.00" x2="453.80" y2="314.00" stroke="#000" stroke-width="1.45" />
<rect x="444.12" y="316.68" width="12.35" height="81.12" fill="#e0e6e4" stroke="#000" stroke-width="1.55"/>
<line x1="475.15" y1="366.20" x2="475.15" y2="368.00" stroke="#000" stroke-width="1.5" />
<line x1="471.65" y1="366.20" x2="478.65" y2="366.20" stroke="#000" stroke-width="1.45" />
<rect x="468.92" y="368.57" width="12.45" height="29.23" fill="#e0e6e4" stroke="#000" stroke-width="1.55"/>
<text font-size="11" text-anchor="middle" fill="#000" font-weight="bold" x="475.15" y="366.00" >**</text>
<rect x="413.80" y="291.60" width="76.40" height="106.20" fill="none" stroke="#000" stroke-width="1.1"/>
<line x1="413.60" y1="397.80" x2="490.70" y2="397.80" stroke="#000" stroke-width="1.5" />
<line x1="414.10" y1="291.60" x2="414.10" y2="397.80" stroke="#000" stroke-width="1.7" />
<line x1="409.10" y1="309.30" x2="413.80" y2="309.30" stroke="#000" stroke-width="1.2" />
<text font-size="9.0" text-anchor="end" fill="#000" stroke="#000" stroke-width="0.5" x="408.10" y="312.54" >100</text>
<line x1="409.10" y1="353.60" x2="413.80" y2="353.60" stroke="#000" stroke-width="1.2" />
<text font-size="9.0" text-anchor="end" fill="#000" stroke="#000" stroke-width="0.5" x="408.10" y="356.84" >50</text>
<line x1="409.10" y1="397.80" x2="413.80" y2="397.80" stroke="#000" stroke-width="1.2" />
<text font-size="9.0" text-anchor="end" fill="#000" stroke="#000" stroke-width="0.5" x="408.10" y="401.04" >0</text>
<line x1="425.75" y1="397.80" x2="425.75" y2="401.00" stroke="#000" stroke-width="1.1" />
<text font-size="8.3" text-anchor="end" fill="#000" stroke="#000" stroke-width="0.5" transform="translate(429.19 404.40) rotate(-90)" >a-miR Control</text>
<line x1="450.30" y1="397.80" x2="450.30" y2="401.00" stroke="#000" stroke-width="1.1" />
<text font-size="8.3" text-anchor="end" fill="#000" stroke="#000" stroke-width="0.5" transform="translate(448.14 404.40) rotate(-90)" >a-miR 99b+</text>
<text font-size="8.3" text-anchor="middle" fill="#000" stroke="#000" stroke-width="0.5" transform="translate(457.84 426.74) rotate(-90)" >125a</text>
<line x1="475.15" y1="397.80" x2="475.15" y2="401.00" stroke="#000" stroke-width="1.1" />
<text font-size="8.3" text-anchor="end" fill="#000" stroke="#000" stroke-width="0.5" transform="translate(472.99 404.40) rotate(-90)" >a-miR 132+</text>
<text font-size="8.3" text-anchor="middle" fill="#000" stroke="#000" stroke-width="0.5" transform="translate(482.69 426.74) rotate(-90)" >212</text>
<text font-size="11.6" text-anchor="middle" fill="#000" stroke="#000" stroke-width="0.5" font-style="italic" x="447.30" y="281.60" >TM7SF4</text>
<text font-size="9.3" text-anchor="middle" fill="#000" stroke="#000" stroke-width="0.5" transform="translate(532.47 349.80) rotate(-90)" >% mRNA levels/</text>
<text font-size="9.3" text-anchor="middle" fill="#000" stroke="#000" stroke-width="0.5" transform="translate(544.77 349.80) rotate(-90)" >(RPL38-control transfected)</text>
<line x1="583.80" y1="302.20" x2="583.80" y2="309.30" stroke="#000" stroke-width="1.5" />
<line x1="580.30" y1="302.20" x2="587.30" y2="302.20" stroke="#000" stroke-width="1.45" />
<rect x="577.82" y="309.88" width="11.95" height="87.93" fill="#7f8e9e" stroke="#000" stroke-width="1.55"/>
<line x1="608.50" y1="331.20" x2="608.50" y2="333.00" stroke="#000" stroke-width="1.5" />
<line x1="605.00" y1="331.20" x2="612.00" y2="331.20" stroke="#000" stroke-width="1.45" />
<rect x="602.32" y="333.57" width="12.35" height="64.23" fill="#e0e6e4" stroke="#000" stroke-width="1.55"/>
<text font-size="11" text-anchor="middle" fill="#000" font-weight="bold" x="608.50" y="330.00" >*</text>
<line x1="632.80" y1="349.10" x2="632.80" y2="350.10" stroke="#000" stroke-width="1.5" />
<line x1="629.30" y1="349.10" x2="636.30" y2="349.10" stroke="#000" stroke-width="1.45" />
<rect x="626.62" y="350.68" width="12.35" height="47.12" fill="#e0e6e4" stroke="#000" stroke-width="1.55"/>
<text font-size="11" text-anchor="middle" fill="#000" font-weight="bold" x="632.80" y="347.50" >**</text>
<rect x="571.50" y="291.60" width="75.10" height="106.20" fill="none" stroke="#000" stroke-width="1.1"/>
<line x1="571.30" y1="397.80" x2="647.10" y2="397.80" stroke="#000" stroke-width="1.5" />
<line x1="571.80" y1="291.60" x2="571.80" y2="397.80" stroke="#000" stroke-width="1.7" />
<line x1="566.80" y1="309.30" x2="571.50" y2="309.30" stroke="#000" stroke-width="1.2" />
<text font-size="9.0" text-anchor="end" fill="#000" stroke="#000" stroke-width="0.5" x="565.80" y="312.54" >100</text>
<line x1="566.80" y1="353.60" x2="571.50" y2="353.60" stroke="#000" stroke-width="1.2" />
<text font-size="9.0" text-anchor="end" fill="#000" stroke="#000" stroke-width="0.5" x="565.80" y="356.84" >50</text>
<line x1="566.80" y1="397.80" x2="571.50" y2="397.80" stroke="#000" stroke-width="1.2" />
<text font-size="9.0" text-anchor="end" fill="#000" stroke="#000" stroke-width="0.5" x="565.80" y="401.04" >0</text>
<line x1="583.80" y1="397.80" x2="583.80" y2="401.00" stroke="#000" stroke-width="1.1" />
<text font-size="8.3" text-anchor="end" fill="#000" stroke="#000" stroke-width="0.5" transform="translate(587.24 404.40) rotate(-90)" >a-miR Control</text>
<line x1="608.50" y1="397.80" x2="608.50" y2="401.00" stroke="#000" stroke-width="1.1" />
<text font-size="8.3" text-anchor="end" fill="#000" stroke="#000" stroke-width="0.5" transform="translate(606.34 404.40) rotate(-90)" >a-miR 99b+</text>
<text font-size="8.3" text-anchor="middle" fill="#000" stroke="#000" stroke-width="0.5" transform="translate(616.04 426.74) rotate(-90)" >125a</text>
<line x1="632.80" y1="397.80" x2="632.80" y2="401.00" stroke="#000" stroke-width="1.1" />
<text font-size="8.3" text-anchor="end" fill="#000" stroke="#000" stroke-width="0.5" transform="translate(630.64 404.40) rotate(-90)" >a-miR 132+</text>
<text font-size="8.3" text-anchor="middle" fill="#000" stroke="#000" stroke-width="0.5" transform="translate(640.34 426.74) rotate(-90)" >212</text>
<text font-size="11.6" text-anchor="middle" fill="#000" stroke="#000" stroke-width="0.5" font-style="italic" x="609.00" y="279.80" >CA2</text>
<text font-size="20.8" text-anchor="start" fill="#000" font-weight="bold" x="10.80" y="470.90" stroke="#000" stroke-width="0.4">D</text>
<text font-size="10.8" text-anchor="middle" fill="#000" stroke="#000" stroke-width="0.5" transform="translate(71.46 553.10) rotate(-90)" >Mean fluorescence intensity</text>
<line x1="105.55" y1="511.80" x2="105.55" y2="516.50" stroke="#000" stroke-width="1.5" />
<line x1="102.55" y1="511.80" x2="108.55" y2="511.80" stroke="#000" stroke-width="1.45" />
<rect x="100.93" y="517.07" width="9.25" height="90.83" fill="#7f8e9e" stroke="#000" stroke-width="1.55"/>
<line x1="119.80" y1="542.90" x2="119.80" y2="553.70" stroke="#000" stroke-width="1.5" />
<line x1="116.80" y1="542.90" x2="122.80" y2="542.90" stroke="#000" stroke-width="1.45" />
<rect x="115.62" y="554.27" width="8.35" height="53.62" fill="#e0e6e4" stroke="#000" stroke-width="1.55"/>
<text font-size="11" text-anchor="middle" fill="#000" font-weight="bold" x="119.80" y="542.20" >*</text>
<line x1="133.50" y1="538.50" x2="133.50" y2="552.20" stroke="#000" stroke-width="1.5" />
<line x1="130.50" y1="538.50" x2="136.50" y2="538.50" stroke="#000" stroke-width="1.45" />
<rect x="129.33" y="552.77" width="8.35" height="55.12" fill="#e0e6e4" stroke="#000" stroke-width="1.55"/>
<text font-size="11" text-anchor="middle" fill="#000" font-weight="bold" x="133.50" y="537.20" >*</text>
<line x1="147.45" y1="530.30" x2="147.45" y2="550.80" stroke="#000" stroke-width="1.5" />
<line x1="144.45" y1="530.30" x2="150.45" y2="530.30" stroke="#000" stroke-width="1.45" />
<rect x="143.12" y="551.37" width="8.65" height="56.53" fill="#e0e6e4" stroke="#000" stroke-width="1.55"/>
<text font-size="11" text-anchor="middle" fill="#000" font-weight="bold" x="147.45" y="528.50" >*</text>
<line x1="161.35" y1="542.00" x2="161.35" y2="553.70" stroke="#000" stroke-width="1.5" />
<line x1="158.35" y1="542.00" x2="164.35" y2="542.00" stroke="#000" stroke-width="1.45" />
<rect x="157.22" y="554.27" width="8.25" height="53.62" fill="#e0e6e4" stroke="#000" stroke-width="1.55"/>
<text font-size="11" text-anchor="middle" fill="#000" font-weight="bold" x="161.35" y="540.20" >*</text>
<line x1="174.65" y1="536.10" x2="174.65" y2="550.80" stroke="#000" stroke-width="1.5" />
<line x1="171.65" y1="536.10" x2="177.65" y2="536.10" stroke="#000" stroke-width="1.45" />
<rect x="170.33" y="551.37" width="8.65" height="56.53" fill="#e0e6e4" stroke="#000" stroke-width="1.55"/>
<text font-size="11" text-anchor="middle" fill="#000" font-weight="bold" x="174.65" y="534.90" >*</text>
<rect x="99.60" y="497.20" width="83.40" height="110.70" fill="none" stroke="#000" stroke-width="1.1"/>
<line x1="99.40" y1="607.90" x2="183.50" y2="607.90" stroke="#000" stroke-width="1.5" />
<line x1="99.90" y1="497.20" x2="99.90" y2="607.90" stroke="#000" stroke-width="1.7" />
<line x1="95.30" y1="497.20" x2="99.60" y2="497.20" stroke="#000" stroke-width="1.2" />
<text font-size="9.5" text-anchor="end" fill="#000" stroke="#000" stroke-width="0.5" x="95.30" y="500.62" >2.0</text>
<line x1="95.30" y1="519.20" x2="99.60" y2="519.20" stroke="#000" stroke-width="1.2" />
<text font-size="9.5" text-anchor="end" fill="#000" stroke="#000" stroke-width="0.5" x="95.30" y="522.62" >1.6</text>
<line x1="95.30" y1="541.40" x2="99.60" y2="541.40" stroke="#000" stroke-width="1.2" />
<text font-size="9.5" text-anchor="end" fill="#000" stroke="#000" stroke-width="0.5" x="95.30" y="544.82" >1.2</text>
<line x1="95.30" y1="563.40" x2="99.60" y2="563.40" stroke="#000" stroke-width="1.2" />
<text font-size="9.5" text-anchor="end" fill="#000" stroke="#000" stroke-width="0.5" x="95.30" y="566.82" >0.8</text>
<line x1="95.30" y1="585.90" x2="99.60" y2="585.90" stroke="#000" stroke-width="1.2" />
<text font-size="9.5" text-anchor="end" fill="#000" stroke="#000" stroke-width="0.5" x="95.30" y="589.32" >0.4</text>
<line x1="95.30" y1="607.90" x2="99.60" y2="607.90" stroke="#000" stroke-width="1.2" />
<text font-size="9.5" text-anchor="end" fill="#000" stroke="#000" stroke-width="0.5" x="95.30" y="611.32" >0</text>
<line x1="105.55" y1="607.90" x2="105.55" y2="611.10" stroke="#000" stroke-width="1.1" />
<text font-size="9.25" text-anchor="end" fill="#000" stroke="#000" stroke-width="0.5" transform="translate(109.30 616.00) rotate(-90)" >a-miR Control</text>
<line x1="119.80" y1="607.90" x2="119.80" y2="611.10" stroke="#000" stroke-width="1.1" />
<text font-size="9.25" text-anchor="end" fill="#000" stroke="#000" stroke-width="0.5" transform="translate(123.55 616.00) rotate(-90)" >a-miR 99b</text>
<line x1="133.50" y1="607.90" x2="133.50" y2="611.10" stroke="#000" stroke-width="1.1" />
<text font-size="9.25" text-anchor="end" fill="#000" stroke="#000" stroke-width="0.5" transform="translate(137.25 616.00) rotate(-90)" >a-miR 125a</text>
<line x1="147.45" y1="607.90" x2="147.45" y2="611.10" stroke="#000" stroke-width="1.1" />
<text font-size="9.25" text-anchor="end" fill="#000" stroke="#000" stroke-width="0.5" transform="translate(151.20 616.00) rotate(-90)" >a-miR let-7e</text>
<line x1="161.35" y1="607.90" x2="161.35" y2="611.10" stroke="#000" stroke-width="1.1" />
<text font-size="9.25" text-anchor="end" fill="#000" stroke="#000" stroke-width="0.5" transform="translate(165.10 616.00) rotate(-90)" >a-miR 132</text>
<line x1="174.65" y1="607.90" x2="174.65" y2="611.10" stroke="#000" stroke-width="1.1" />
<text font-size="9.25" text-anchor="end" fill="#000" stroke="#000" stroke-width="0.5" transform="translate(178.40 616.00) rotate(-90)" >a-miR 212</text>
<text font-size="11.6" text-anchor="middle" fill="#000" stroke="#000" stroke-width="0.5" font-style="italic" x="139.70" y="487.80" >CCR1</text>
<text font-size="10.8" text-anchor="middle" fill="#000" stroke="#000" stroke-width="0.5" transform="translate(395.16 554.20) rotate(-90)" >Mean fluorescence intensity</text>
<line x1="431.85" y1="512.20" x2="431.85" y2="513.50" stroke="#000" stroke-width="1.5" />
<line x1="428.85" y1="512.20" x2="434.85" y2="512.20" stroke="#000" stroke-width="1.45" />
<rect x="427.22" y="514.07" width="9.25" height="93.03" fill="#7f8e9e" stroke="#000" stroke-width="1.55"/>
<line x1="446.05" y1="549.10" x2="446.05" y2="553.60" stroke="#000" stroke-width="1.5" />
<line x1="443.05" y1="549.10" x2="449.05" y2="549.10" stroke="#000" stroke-width="1.45" />
<rect x="441.72" y="554.17" width="8.65" height="52.93" fill="#e0e6e4" stroke="#000" stroke-width="1.55"/>
<text font-size="11" text-anchor="middle" fill="#000" font-weight="bold" x="446.05" y="547.20" >**</text>
<line x1="459.75" y1="529.30" x2="459.75" y2="540.90" stroke="#000" stroke-width="1.5" />
<line x1="456.75" y1="529.30" x2="462.75" y2="529.30" stroke="#000" stroke-width="1.45" />
<rect x="455.42" y="541.47" width="8.65" height="65.63" fill="#e0e6e4" stroke="#000" stroke-width="1.55"/>
<text font-size="11" text-anchor="middle" fill="#000" font-weight="bold" x="459.75" y="528.00" >*</text>
<line x1="473.60" y1="531.20" x2="473.60" y2="546.50" stroke="#000" stroke-width="1.5" />
<line x1="470.60" y1="531.20" x2="476.60" y2="531.20" stroke="#000" stroke-width="1.45" />
<rect x="469.12" y="547.07" width="8.95" height="60.03" fill="#e0e6e4" stroke="#000" stroke-width="1.55"/>
<text font-size="11" text-anchor="middle" fill="#000" font-weight="bold" x="473.60" y="530.10" >*</text>
<line x1="487.45" y1="543.60" x2="487.45" y2="545.70" stroke="#000" stroke-width="1.5" />
<line x1="484.45" y1="543.60" x2="490.45" y2="543.60" stroke="#000" stroke-width="1.45" />
<rect x="483.12" y="546.27" width="8.65" height="60.83" fill="#e0e6e4" stroke="#000" stroke-width="1.55"/>
<text font-size="11" text-anchor="middle" fill="#000" font-weight="bold" x="487.45" y="542.70" >**</text>
<line x1="501.15" y1="535.60" x2="501.15" y2="541.70" stroke="#000" stroke-width="1.5" />
<line x1="498.15" y1="535.60" x2="504.15" y2="535.60" stroke="#000" stroke-width="1.45" />
<rect x="497.02" y="542.27" width="8.25" height="64.83" fill="#e0e6e4" stroke="#000" stroke-width="1.55"/>
<text font-size="11" text-anchor="middle" fill="#000" font-weight="bold" x="501.15" y="534.00" >*</text>
<rect x="425.40" y="496.40" width="83.50" height="110.70" fill="none" stroke="#000" stroke-width="1.1"/>
<line x1="425.20" y1="607.10" x2="509.40" y2="607.10" stroke="#000" stroke-width="1.5" />
<line x1="425.70" y1="496.40" x2="425.70" y2="607.10" stroke="#000" stroke-width="1.7" />
<line x1="421.10" y1="496.40" x2="425.40" y2="496.40" stroke="#000" stroke-width="1.2" />
<text font-size="9.5" text-anchor="end" fill="#000" stroke="#000" stroke-width="0.5" x="421.10" y="499.82" >2.0</text>
<line x1="421.10" y1="518.50" x2="425.40" y2="518.50" stroke="#000" stroke-width="1.2" />
<text font-size="9.5" text-anchor="end" fill="#000" stroke="#000" stroke-width="0.5" x="421.10" y="521.92" >1.6</text>
<line x1="421.10" y1="540.90" x2="425.40" y2="540.90" stroke="#000" stroke-width="1.2" />
<text font-size="9.5" text-anchor="end" fill="#000" stroke="#000" stroke-width="0.5" x="421.10" y="544.32" >1.2</text>
<line x1="421.10" y1="562.80" x2="425.40" y2="562.80" stroke="#000" stroke-width="1.2" />
<text font-size="9.5" text-anchor="end" fill="#000" stroke="#000" stroke-width="0.5" x="421.10" y="566.22" >0.8</text>
<line x1="421.10" y1="585.20" x2="425.40" y2="585.20" stroke="#000" stroke-width="1.2" />
<text font-size="9.5" text-anchor="end" fill="#000" stroke="#000" stroke-width="0.5" x="421.10" y="588.62" >0.4</text>
<line x1="421.10" y1="607.10" x2="425.40" y2="607.10" stroke="#000" stroke-width="1.2" />
<text font-size="9.5" text-anchor="end" fill="#000" stroke="#000" stroke-width="0.5" x="421.10" y="610.52" >0</text>
<line x1="431.85" y1="607.10" x2="431.85" y2="610.30" stroke="#000" stroke-width="1.1" />
<text font-size="9.25" text-anchor="end" fill="#000" stroke="#000" stroke-width="0.5" transform="translate(435.60 615.30) rotate(-90)" >a-miR Control</text>
<line x1="446.05" y1="607.10" x2="446.05" y2="610.30" stroke="#000" stroke-width="1.1" />
<text font-size="9.25" text-anchor="end" fill="#000" stroke="#000" stroke-width="0.5" transform="translate(449.80 615.30) rotate(-90)" >a-miR 99b</text>
<line x1="459.75" y1="607.10" x2="459.75" y2="610.30" stroke="#000" stroke-width="1.1" />
<text font-size="9.25" text-anchor="end" fill="#000" stroke="#000" stroke-width="0.5" transform="translate(463.50 615.30) rotate(-90)" >a-miR 125a</text>
<line x1="473.60" y1="607.10" x2="473.60" y2="610.30" stroke="#000" stroke-width="1.1" />
<text font-size="9.25" text-anchor="end" fill="#000" stroke="#000" stroke-width="0.5" transform="translate(477.35 615.30) rotate(-90)" >a-miR let-7e</text>
<line x1="487.45" y1="607.10" x2="487.45" y2="610.30" stroke="#000" stroke-width="1.1" />
<text font-size="9.25" text-anchor="end" fill="#000" stroke="#000" stroke-width="0.5" transform="translate(491.20 615.30) rotate(-90)" >a-miR 132</text>
<line x1="501.15" y1="607.10" x2="501.15" y2="610.30" stroke="#000" stroke-width="1.1" />
<text font-size="9.25" text-anchor="end" fill="#000" stroke="#000" stroke-width="0.5" transform="translate(504.90 615.30) rotate(-90)" >a-miR 212</text>
<text font-size="11.6" text-anchor="middle" fill="#000" stroke="#000" stroke-width="0.5" font-style="italic" x="464.60" y="486.40" >TM7SF4</text>
<line x1="204.00" y1="607.06" x2="204.00" y2="609.66" stroke="#222" stroke-width="0.9" />
<line x1="217.16" y1="607.06" x2="220.85" y2="586.76" stroke="#b4bcc2" stroke-width="0.6" />
<line x1="217.16" y1="607.06" x2="217.16" y2="608.56" stroke="#444" stroke-width="0.6" />
<line x1="224.85" y1="607.06" x2="224.85" y2="608.56" stroke="#444" stroke-width="0.6" />
<line x1="230.31" y1="607.06" x2="230.31" y2="608.56" stroke="#444" stroke-width="0.6" />
<line x1="234.54" y1="607.06" x2="238.24" y2="586.76" stroke="#b4bcc2" stroke-width="0.6" />
<line x1="234.54" y1="607.06" x2="234.54" y2="608.56" stroke="#444" stroke-width="0.6" />
<line x1="238.01" y1="607.06" x2="238.01" y2="608.56" stroke="#444" stroke-width="0.6" />
<line x1="240.93" y1="607.06" x2="240.93" y2="608.56" stroke="#444" stroke-width="0.6" />
<line x1="243.47" y1="607.06" x2="243.47" y2="608.56" stroke="#444" stroke-width="0.6" />
<line x1="245.70" y1="607.06" x2="245.70" y2="608.56" stroke="#444" stroke-width="0.6" />
<line x1="247.70" y1="607.06" x2="251.39" y2="586.76" stroke="#222" stroke-width="0.9" />
<line x1="247.70" y1="607.06" x2="247.70" y2="609.66" stroke="#222" stroke-width="0.9" />
<line x1="260.86" y1="607.06" x2="264.55" y2="586.76" stroke="#b4bcc2" stroke-width="0.6" />
<line x1="260.86" y1="607.06" x2="260.86" y2="608.56" stroke="#444" stroke-width="0.6" />
<line x1="268.55" y1="607.06" x2="268.55" y2="608.56" stroke="#444" stroke-width="0.6" />
<line x1="274.01" y1="607.06" x2="274.01" y2="608.56" stroke="#444" stroke-width="0.6" />
<line x1="278.24" y1="607.06" x2="281.94" y2="586.76" stroke="#b4bcc2" stroke-width="0.6" />
<line x1="278.24" y1="607.06" x2="278.24" y2="608.56" stroke="#444" stroke-width="0.6" />
<line x1="281.71" y1="607.06" x2="281.71" y2="608.56" stroke="#444" stroke-width="0.6" />
<line x1="284.63" y1="607.06" x2="284.63" y2="608.56" stroke="#444" stroke-width="0.6" />
<line x1="287.17" y1="607.06" x2="287.17" y2="608.56" stroke="#444" stroke-width="0.6" />
<line x1="289.40" y1="607.06" x2="289.40" y2="608.56" stroke="#444" stroke-width="0.6" />
<line x1="291.40" y1="607.06" x2="295.09" y2="586.76" stroke="#222" stroke-width="0.9" />
<line x1="291.40" y1="607.06" x2="291.40" y2="609.66" stroke="#222" stroke-width="0.9" />
<line x1="304.56" y1="607.06" x2="308.25" y2="586.76" stroke="#b4bcc2" stroke-width="0.6" />
<line x1="304.56" y1="607.06" x2="304.56" y2="608.56" stroke="#444" stroke-width="0.6" />
<line x1="312.25" y1="607.06" x2="312.25" y2="608.56" stroke="#444" stroke-width="0.6" />
<line x1="317.71" y1="607.06" x2="317.71" y2="608.56" stroke="#444" stroke-width="0.6" />
<line x1="321.94" y1="607.06" x2="325.64" y2="586.76" stroke="#b4bcc2" stroke-width="0.6" />
<line x1="321.94" y1="607.06" x2="321.94" y2="608.56" stroke="#444" stroke-width="0.6" />
<line x1="325.41" y1="607.06" x2="325.41" y2="608.56" stroke="#444" stroke-width="0.6" />
<line x1="328.33" y1="607.06" x2="328.33" y2="608.56" stroke="#444" stroke-width="0.6" />
<line x1="330.87" y1="607.06" x2="330.87" y2="608.56" stroke="#444" stroke-width="0.6" />
<line x1="333.10" y1="607.06" x2="333.10" y2="608.56" stroke="#444" stroke-width="0.6" />
<line x1="335.10" y1="607.06" x2="338.79" y2="586.76" stroke="#222" stroke-width="0.9" />
<line x1="335.10" y1="607.06" x2="335.10" y2="609.66" stroke="#222" stroke-width="0.9" />
<path d="M206.3 586.8 L341.6 586.8 L338.1 607.1 L202.7 607.1 Z" fill="none" stroke="#333" stroke-width="0.8"/>
<path d="M206.3 586.8 L209.8 583.3 L215.0 575.4 L219.0 571.5 L224.3 568.0 L229.5 558.3 L234.8 543.8 L240.1 530.6 L244.0 522.7 L246.7 518.8 L249.3 512.2 L251.9 509.5 L253.3 504.3 L254.8 499.8 L256.4 505.6 L258.0 509.5 L259.3 504.3 L260.6 499.5 L262.2 501.6 L263.8 506.9 L265.6 505.6 L267.2 508.2 L269.1 516.1 L271.7 530.6 L274.3 546.4 L277.0 564.9 L279.6 578.1 L282.3 584.7 L284.9 586.2 L341.6 586.2" fill="none" stroke="#f0202e" stroke-width="0.95" stroke-linejoin="round" />
<path d="M205.8 589.9 L212.4 589.1 L216.4 583.3 L220.3 570.2 L224.3 549.1 L228.2 528.0 L232.2 512.2 L235.3 502.9 L237.4 504.3 L239.6 496.4 L241.4 502.9 L244.0 504.3 L246.1 498.5 L248.5 505.6 L250.6 509.5 L253.3 522.7 L255.9 535.9 L259.8 551.7 L263.8 564.9 L267.8 575.4 L271.7 578.1 L274.9 580.7 L278.3 587.3 L280.9 589.9 L340.8 589.9" fill="none" stroke="#3fd2b4" stroke-width="0.75" stroke-linejoin="round" stroke-dasharray="2.2 0.8"/>
<path d="M205.3 593.4 L212.4 592.6 L216.4 586.0 L220.3 570.2 L224.3 546.4 L228.2 525.4 L232.2 512.2 L234.8 504.3 L236.9 499.0 L238.8 506.9 L241.4 509.5 L244.0 514.8 L246.7 520.1 L249.3 518.8 L251.9 522.7 L254.6 533.3 L258.5 549.1 L262.5 562.3 L266.4 575.4 L270.4 583.3 L274.3 589.9 L278.3 593.4 L340.2 593.4" fill="none" stroke="#f0844c" stroke-width="0.75" stroke-linejoin="round" />
<path d="M204.8 597.3 L212.4 596.5 L216.4 589.9 L220.3 575.4 L224.3 551.7 L228.2 530.6 L231.6 517.4 L234.3 506.9 L236.4 504.3 L238.8 512.2 L241.4 513.5 L244.0 509.5 L246.7 513.5 L249.3 517.4 L251.9 526.7 L255.9 541.2 L259.8 557.0 L263.8 570.2 L267.8 580.7 L271.7 589.9 L275.7 596.0 L279.6 597.3 L339.7 597.3" fill="none" stroke="#86ee10" stroke-width="0.75" stroke-linejoin="round" />
<path d="M204.2 601.0 L212.4 600.2 L216.4 593.9 L220.3 578.1 L224.3 554.3 L228.2 533.3 L230.9 521.4 L233.5 517.4 L236.1 518.8 L238.8 520.1 L241.4 517.4 L244.0 516.1 L246.7 514.8 L249.3 517.4 L251.1 522.7 L254.6 538.5 L258.5 554.3 L262.5 567.5 L266.4 580.7 L270.4 591.2 L274.3 599.2 L278.3 601.0 L339.2 601.0" fill="none" stroke="#0e5a12" stroke-width="1.0" stroke-linejoin="round" stroke-dasharray="2.2 0.8"/>
<path d="M203.2 607.1 L212.4 606.0 L216.4 601.8 L220.3 588.6 L224.3 570.2 L228.2 551.7 L232.2 541.2 L236.1 533.3 L240.1 526.7 L242.7 521.4 L245.4 524.0 L248.0 520.1 L250.6 522.7 L253.3 530.6 L257.2 549.1 L261.2 564.9 L265.1 578.1 L269.1 588.6 L273.0 596.5 L277.0 603.1 L280.9 606.5 L338.1 606.5" fill="none" stroke="#d684b4" stroke-width="0.75" stroke-linejoin="round" />
<text x="251.80" y="619.66" font-size="7.6" text-anchor="middle" fill="#111" stroke="#111" stroke-width="0.3">10<tspan font-size="4.6" dy="-3.2">0</tspan></text>
<text x="295.20" y="619.66" font-size="7.6" text-anchor="middle" fill="#111" stroke="#111" stroke-width="0.3">10<tspan font-size="4.6" dy="-3.2">1</tspan></text>
<text x="340.20" y="619.66" font-size="7.6" text-anchor="middle" fill="#111" stroke="#111" stroke-width="0.3">10<tspan font-size="4.6" dy="-3.2">2</tspan></text>
<text font-size="9.5" text-anchor="middle" fill="#000" stroke="#000" stroke-width="0.5" x="273.50" y="633.60" >Fluorescence intensity</text>
<line x1="298.00" y1="482.70" x2="306.00" y2="482.70" stroke="#f0202e" stroke-width="1.4" />
<text font-size="6.65" text-anchor="start" fill="#000" stroke="#000" stroke-width="0.5" x="310.00" y="485.10" >a-miR Control</text>
<line x1="298.00" y1="491.90" x2="306.00" y2="491.90" stroke="#3fd2b4" stroke-width="1.4" stroke-dasharray="2.2 1"/>
<text font-size="6.65" text-anchor="start" fill="#000" stroke="#000" stroke-width="0.5" x="310.00" y="494.30" >a-miR 99b</text>
<line x1="298.00" y1="501.60" x2="306.00" y2="501.60" stroke="#f0844c" stroke-width="1.4" />
<text font-size="6.65" text-anchor="start" fill="#000" stroke="#000" stroke-width="0.5" x="310.00" y="504.00" >a-miR 125a</text>
<line x1="298.00" y1="510.90" x2="306.00" y2="510.90" stroke="#86ee10" stroke-width="1.4" />
<text font-size="6.65" text-anchor="start" fill="#000" stroke="#000" stroke-width="0.5" x="310.00" y="513.30" >a-miR let-7e</text>
<line x1="298.00" y1="520.00" x2="306.00" y2="520.00" stroke="#0e5a12" stroke-width="1.4" stroke-dasharray="2.2 1"/>
<text font-size="6.65" text-anchor="start" fill="#000" stroke="#000" stroke-width="0.5" x="310.00" y="522.40" >a-miR 132</text>
<line x1="298.00" y1="529.30" x2="306.00" y2="529.30" stroke="#d684b4" stroke-width="1.4" />
<text font-size="6.65" text-anchor="start" fill="#000" stroke="#000" stroke-width="0.5" x="310.00" y="531.70" >a-miR 212</text>
<line x1="546.76" y1="607.06" x2="550.45" y2="586.76" stroke="#b4bcc2" stroke-width="0.6" />
<line x1="546.76" y1="607.06" x2="546.76" y2="608.56" stroke="#444" stroke-width="0.6" />
<line x1="554.45" y1="607.06" x2="554.45" y2="608.56" stroke="#444" stroke-width="0.6" />
<line x1="559.91" y1="607.06" x2="559.91" y2="608.56" stroke="#444" stroke-width="0.6" />
<line x1="564.14" y1="607.06" x2="567.84" y2="586.76" stroke="#b4bcc2" stroke-width="0.6" />
<line x1="564.14" y1="607.06" x2="564.14" y2="608.56" stroke="#444" stroke-width="0.6" />
<line x1="567.61" y1="607.06" x2="567.61" y2="608.56" stroke="#444" stroke-width="0.6" />
<line x1="570.53" y1="607.06" x2="570.53" y2="608.56" stroke="#444" stroke-width="0.6" />
<line x1="573.07" y1="607.06" x2="573.07" y2="608.56" stroke="#444" stroke-width="0.6" />
<line x1="575.30" y1="607.06" x2="575.30" y2="608.56" stroke="#444" stroke-width="0.6" />
<line x1="577.30" y1="607.06" x2="580.99" y2="586.76" stroke="#222" stroke-width="0.9" />
<line x1="577.30" y1="607.06" x2="577.30" y2="609.66" stroke="#222" stroke-width="0.9" />
<line x1="590.46" y1="607.06" x2="594.15" y2="586.76" stroke="#b4bcc2" stroke-width="0.6" />
<line x1="590.46" y1="607.06" x2="590.46" y2="608.56" stroke="#444" stroke-width="0.6" />
<line x1="598.15" y1="607.06" x2="598.15" y2="608.56" stroke="#444" stroke-width="0.6" />
<line x1="603.61" y1="607.06" x2="603.61" y2="608.56" stroke="#444" stroke-width="0.6" />
<line x1="607.84" y1="607.06" x2="611.54" y2="586.76" stroke="#b4bcc2" stroke-width="0.6" />
<line x1="607.84" y1="607.06" x2="607.84" y2="608.56" stroke="#444" stroke-width="0.6" />
<line x1="611.31" y1="607.06" x2="611.31" y2="608.56" stroke="#444" stroke-width="0.6" />
<line x1="614.23" y1="607.06" x2="614.23" y2="608.56" stroke="#444" stroke-width="0.6" />
<line x1="616.77" y1="607.06" x2="616.77" y2="608.56" stroke="#444" stroke-width="0.6" />
<line x1="619.00" y1="607.06" x2="619.00" y2="608.56" stroke="#444" stroke-width="0.6" />
<line x1="621.00" y1="607.06" x2="624.69" y2="586.76" stroke="#222" stroke-width="0.9" />
<line x1="621.00" y1="607.06" x2="621.00" y2="609.66" stroke="#222" stroke-width="0.9" />
<line x1="634.16" y1="607.06" x2="637.85" y2="586.76" stroke="#b4bcc2" stroke-width="0.6" />
<line x1="634.16" y1="607.06" x2="634.16" y2="608.56" stroke="#444" stroke-width="0.6" />
<line x1="641.85" y1="607.06" x2="641.85" y2="608.56" stroke="#444" stroke-width="0.6" />
<line x1="647.31" y1="607.06" x2="647.31" y2="608.56" stroke="#444" stroke-width="0.6" />
<line x1="651.54" y1="607.06" x2="655.24" y2="586.76" stroke="#b4bcc2" stroke-width="0.6" />
<line x1="651.54" y1="607.06" x2="651.54" y2="608.56" stroke="#444" stroke-width="0.6" />
<line x1="655.01" y1="607.06" x2="655.01" y2="608.56" stroke="#444" stroke-width="0.6" />
<line x1="657.93" y1="607.06" x2="657.93" y2="608.56" stroke="#444" stroke-width="0.6" />
<line x1="660.47" y1="607.06" x2="660.47" y2="608.56" stroke="#444" stroke-width="0.6" />
<line x1="662.70" y1="607.06" x2="662.70" y2="608.56" stroke="#444" stroke-width="0.6" />
<line x1="664.70" y1="607.06" x2="668.39" y2="586.76" stroke="#222" stroke-width="0.9" />
<line x1="664.70" y1="607.06" x2="664.70" y2="609.66" stroke="#222" stroke-width="0.9" />
<path d="M537.3 586.8 L668.3 586.8 L664.8 607.1 L533.6 607.1 Z" fill="none" stroke="#333" stroke-width="0.8"/>
<path d="M537.3 586.2 L539.9 582.0 L543.9 573.3 L547.8 569.6 L551.8 566.2 L555.7 557.0 L559.7 546.4 L563.6 533.3 L567.6 521.4 L571.0 509.5 L573.6 501.6 L575.7 496.4 L577.9 494.5 L580.0 493.7 L582.1 497.1 L584.7 502.9 L587.3 509.0 L590.0 511.6 L592.6 509.5 L595.3 508.2 L597.4 506.4 L599.5 505.1 L601.6 509.5 L603.7 511.6 L605.8 520.1 L607.9 533.3 L609.7 549.1 L611.1 567.5 L612.4 580.7 L613.7 586.0 L668.3 586.2" fill="none" stroke="#f0202e" stroke-width="0.95" stroke-linejoin="round" />
<path d="M536.7 589.9 L543.3 589.1 L547.3 583.3 L551.2 570.2 L555.2 549.1 L559.1 528.0 L563.1 512.2 L566.3 502.9 L568.4 504.3 L570.5 496.4 L572.3 502.9 L575.0 504.3 L577.1 498.5 L579.4 505.6 L581.5 509.5 L584.2 522.7 L586.8 535.9 L590.8 551.7 L594.7 564.9 L598.7 575.4 L602.6 578.1 L605.8 580.7 L609.2 587.3 L611.9 589.9 L667.5 589.9" fill="none" stroke="#3fd2b4" stroke-width="0.75" stroke-linejoin="round" stroke-dasharray="2.2 0.8"/>
<path d="M536.2 593.4 L543.3 592.6 L547.3 586.0 L551.2 570.2 L555.2 546.4 L559.1 525.4 L563.1 512.2 L565.7 504.3 L567.8 499.0 L569.7 506.9 L572.3 509.5 L575.0 514.8 L577.6 520.1 L580.2 518.8 L582.9 522.7 L585.5 533.3 L589.5 549.1 L593.4 562.3 L597.4 575.4 L601.3 583.3 L605.3 589.9 L609.2 593.4 L666.9 593.4" fill="none" stroke="#f0844c" stroke-width="0.75" stroke-linejoin="round" />
<path d="M535.7 597.3 L543.3 596.5 L547.3 589.9 L551.2 575.4 L555.2 551.7 L559.1 530.6 L562.6 517.4 L565.2 506.9 L567.3 504.3 L569.7 512.2 L572.3 513.5 L575.0 509.5 L577.6 513.5 L580.2 517.4 L582.9 526.7 L586.8 541.2 L590.8 557.0 L594.7 570.2 L598.7 580.7 L602.6 589.9 L606.6 596.0 L610.5 597.3 L666.4 597.3" fill="none" stroke="#86ee10" stroke-width="0.75" stroke-linejoin="round" />
<path d="M535.2 601.0 L543.3 600.2 L547.3 593.9 L551.2 578.1 L555.2 554.3 L559.1 533.3 L561.8 521.4 L564.4 517.4 L567.0 518.8 L569.7 520.1 L572.3 517.4 L575.0 516.1 L577.6 514.8 L580.2 517.4 L582.1 522.7 L585.5 538.5 L589.5 554.3 L593.4 567.5 L597.4 580.7 L601.3 591.2 L605.3 599.2 L609.2 601.0 L665.9 601.0" fill="none" stroke="#0e5a12" stroke-width="1.0" stroke-linejoin="round" stroke-dasharray="2.2 0.8"/>
<path d="M534.1 607.1 L543.3 606.0 L547.3 601.8 L551.2 588.6 L555.2 570.2 L559.1 551.7 L563.1 541.2 L567.0 533.3 L571.0 526.7 L573.6 521.4 L576.3 524.0 L578.9 520.1 L581.5 522.7 L584.2 530.6 L588.1 549.1 L592.1 564.9 L596.0 578.1 L600.0 588.6 L603.9 596.5 L607.9 603.1 L611.9 606.5 L664.8 606.5" fill="none" stroke="#d684b4" stroke-width="0.75" stroke-linejoin="round" />
<text x="577.20" y="619.66" font-size="7.6" text-anchor="middle" fill="#111" stroke="#111" stroke-width="0.3">10<tspan font-size="4.6" dy="-3.2">0</tspan></text>
<text x="620.90" y="619.66" font-size="7.6" text-anchor="middle" fill="#111" stroke="#111" stroke-width="0.3">10<tspan font-size="4.6" dy="-3.2">1</tspan></text>
<text x="665.00" y="619.66" font-size="7.6" text-anchor="middle" fill="#111" stroke="#111" stroke-width="0.3">10<tspan font-size="4.6" dy="-3.2">2</tspan></text>
<text font-size="9.5" text-anchor="middle" fill="#000" stroke="#000" stroke-width="0.5" x="601.00" y="633.60" >Fluorescence intensity</text>
<line x1="623.00" y1="482.70" x2="631.00" y2="482.70" stroke="#f0202e" stroke-width="1.4" />
<text font-size="6.65" text-anchor="start" fill="#000" stroke="#000" stroke-width="0.5" x="635.00" y="485.10" >a-miR Control</text>
<line x1="623.00" y1="491.90" x2="631.00" y2="491.90" stroke="#3fd2b4" stroke-width="1.4" stroke-dasharray="2.2 1"/>
<text font-size="6.65" text-anchor="start" fill="#000" stroke="#000" stroke-width="0.5" x="635.00" y="494.30" >a-miR 99b</text>
<line x1="623.00" y1="501.60" x2="631.00" y2="501.60" stroke="#f0844c" stroke-width="1.4" />
<text font-size="6.65" text-anchor="start" fill="#000" stroke="#000" stroke-width="0.5" x="635.00" y="504.00" >a-miR 125a</text>
<line x1="623.00" y1="510.90" x2="631.00" y2="510.90" stroke="#86ee10" stroke-width="1.4" />
<text font-size="6.65" text-anchor="start" fill="#000" stroke="#000" stroke-width="0.5" x="635.00" y="513.30" >a-miR let-7e</text>
<line x1="623.00" y1="520.00" x2="631.00" y2="520.00" stroke="#0e5a12" stroke-width="1.4" stroke-dasharray="2.2 1"/>
<text font-size="6.65" text-anchor="start" fill="#000" stroke="#000" stroke-width="0.5" x="635.00" y="522.40" >a-miR 132</text>
<line x1="623.00" y1="529.30" x2="631.00" y2="529.30" stroke="#d684b4" stroke-width="1.4" />
<text font-size="6.65" text-anchor="start" fill="#000" stroke="#000" stroke-width="0.5" x="635.00" y="531.70" >a-miR 212</text>
<text font-size="20.8" text-anchor="start" fill="#000" font-weight="bold" x="10.80" y="691.50" stroke="#000" stroke-width="0.4">E</text>
<text font-size="12.2" text-anchor="start" fill="#000" font-weight="bold" x="102.60" y="705.00" stroke="#111" stroke-width="0.3">TRAP staining</text>
<defs><clipPath id="mc1"><rect x="28" y="716.3" width="106.0" height="79.5"/></clipPath><linearGradient id="mg1" x1="0" y1="0" x2="1" y2="0.3"><stop offset="0" stop-color="#f4f0da"/><stop offset="1" stop-color="#f2eee4"/></linearGradient></defs>
<g clip-path="url(#mc1)">
<rect x="28" y="716.3" width="106.0" height="79.5" fill="url(#mg1)"/>
<g filter="url(#blur2)">
<ellipse cx="90.0" cy="726.3" rx="18" ry="10" fill="#fbfbfa"/>
<ellipse cx="116.0" cy="738.3" rx="16" ry="9" fill="#f4f2f8"/>
<ellipse cx="126.0" cy="724.3" rx="10" ry="8" fill="#f0eef6"/>
<ellipse cx="43.0" cy="766.3" rx="14" ry="10" fill="#f6f1d4"/>
<ellipse cx="88.0" cy="778.3" rx="30" ry="14" fill="#f5f0d2"/>
<ellipse cx="123.0" cy="778.3" rx="12" ry="10" fill="#f4efd4"/>
</g><g filter="url(#blur1)">
<circle cx="87.1" cy="790.7" r="2.4" fill="#4a3288" opacity="0.45"/><circle cx="90.7" cy="730.7" r="2.6" fill="#4a3288" opacity="0.45"/><circle cx="112.4" cy="723.3" r="2.4" fill="#4a3288" opacity="0.45"/><circle cx="104.9" cy="718.5" r="2.5" fill="#4a3288" opacity="0.45"/><circle cx="75.6" cy="775.2" r="2.8" fill="#4a3288" opacity="0.45"/><circle cx="116.5" cy="720.7" r="2.0" fill="#4a3288" opacity="0.45"/><circle cx="91.5" cy="779.0" r="2.6" fill="#4a3288" opacity="0.45"/><circle cx="48.4" cy="734.1" r="2.6" fill="#4a3288" opacity="0.45"/><circle cx="31.8" cy="772.2" r="3.3" fill="#4a3288" opacity="0.45"/><circle cx="117.7" cy="773.2" r="2.3" fill="#4a3288" opacity="0.45"/><ellipse cx="58.2" cy="721.0" rx="8.9" ry="1.1" fill="#4a3288" opacity="0.8" transform="rotate(166 58.2 721.0)"/><circle cx="58.4" cy="720.8" r="3.2" fill="#4a3288" opacity="0.45"/><circle cx="118.7" cy="746.9" r="3.1" fill="#4a3288" opacity="0.45"/><circle cx="26.8" cy="732.4" r="3.2" fill="#4a3288" opacity="0.45"/><circle cx="132.7" cy="747.3" r="2.1" fill="#4a3288" opacity="0.45"/><circle cx="111.0" cy="737.7" r="2.2" fill="#4a3288" opacity="0.45"/><circle cx="130.9" cy="777.5" r="2.1" fill="#4a3288" opacity="0.45"/><circle cx="37.7" cy="720.4" r="2.8" fill="#4a3288" opacity="0.45"/><circle cx="110.2" cy="771.9" r="3.1" fill="#4a3288" opacity="0.45"/><circle cx="72.4" cy="746.9" r="2.6" fill="#4a3288" opacity="0.45"/><circle cx="27.3" cy="786.1" r="3.1" fill="#4a3288" opacity="0.45"/><circle cx="134.6" cy="717.0" r="2.3" fill="#4a3288" opacity="0.45"/><circle cx="92.2" cy="762.6" r="2.1" fill="#4a3288" opacity="0.45"/><circle cx="127.5" cy="761.9" r="2.4" fill="#4a3288" opacity="0.45"/><circle cx="34.6" cy="722.4" r="2.5" fill="#4a3288" opacity="0.45"/><circle cx="91.6" cy="745.7" r="2.5" fill="#4a3288" opacity="0.45"/><circle cx="78.9" cy="762.0" r="2.8" fill="#4a3288" opacity="0.45"/><circle cx="61.5" cy="789.8" r="2.8" fill="#4a3288" opacity="0.45"/><circle cx="44.1" cy="766.4" r="2.8" fill="#4a3288" opacity="0.45"/><circle cx="68.7" cy="754.5" r="2.3" fill="#4a3288" opacity="0.45"/><circle cx="48.1" cy="774.6" r="2.5" fill="#4a3288" opacity="0.45"/><circle cx="54.9" cy="782.4" r="2.9" fill="#4a3288" opacity="0.45"/><circle cx="45.8" cy="773.8" r="2.0" fill="#4a3288" opacity="0.45"/><circle cx="87.2" cy="784.9" r="2.8" fill="#4a3288" opacity="0.45"/><circle cx="126.0" cy="731.8" r="2.2" fill="#4a3288" opacity="0.45"/><circle cx="75.5" cy="720.0" r="2.3" fill="#4a3288" opacity="0.45"/><circle cx="89.2" cy="725.8" r="2.5" fill="#4a3288" opacity="0.45"/><circle cx="132.9" cy="769.0" r="2.6" fill="#4a3288" opacity="0.45"/><circle cx="42.0" cy="717.8" r="1.8" fill="#4a3288" opacity="0.45"/><circle cx="102.7" cy="793.4" r="1.9" fill="#4a3288" opacity="0.45"/><circle cx="78.8" cy="775.0" r="2.2" fill="#4a3288" opacity="0.45"/><circle cx="35.5" cy="759.7" r="2.9" fill="#4a3288" opacity="0.45"/><circle cx="106.4" cy="772.9" r="3.1" fill="#4a3288" opacity="0.45"/><circle cx="65.2" cy="771.5" r="2.9" fill="#4a3288" opacity="0.45"/><circle cx="72.2" cy="780.0" r="3.3" fill="#4a3288" opacity="0.45"/><circle cx="94.4" cy="746.1" r="2.5" fill="#4a3288" opacity="0.45"/><circle cx="35.4" cy="767.8" r="3.3" fill="#4a3288" opacity="0.45"/><circle cx="105.9" cy="746.6" r="2.7" fill="#4a3288" opacity="0.45"/><circle cx="74.3" cy="783.4" r="2.3" fill="#4a3288" opacity="0.45"/><circle cx="30.3" cy="764.6" r="2.8" fill="#4a3288" opacity="0.45"/><circle cx="102.7" cy="755.6" r="2.9" fill="#4a3288" opacity="0.45"/><circle cx="54.4" cy="716.3" r="2.3" fill="#4a3288" opacity="0.45"/><circle cx="49.0" cy="728.9" r="3.0" fill="#4a3288" opacity="0.45"/><circle cx="75.1" cy="788.1" r="2.3" fill="#4a3288" opacity="0.45"/><circle cx="48.5" cy="750.6" r="3.2" fill="#4a3288" opacity="0.45"/><circle cx="121.9" cy="746.4" r="2.8" fill="#4a3288" opacity="0.45"/><circle cx="41.3" cy="756.1" r="3.1" fill="#4a3288" opacity="0.45"/><circle cx="103.9" cy="792.9" r="2.4" fill="#4a3288" opacity="0.45"/><circle cx="114.8" cy="753.4" r="2.9" fill="#4a3288" opacity="0.45"/><circle cx="83.6" cy="770.0" r="2.7" fill="#4a3288" opacity="0.45"/><circle cx="94.5" cy="741.6" r="3.0" fill="#4a3288" opacity="0.45"/><circle cx="92.6" cy="770.3" r="2.3" fill="#4a3288" opacity="0.45"/><circle cx="97.3" cy="761.2" r="2.8" fill="#4a3288" opacity="0.45"/><circle cx="47.2" cy="778.4" r="2.4" fill="#4a3288" opacity="0.45"/><circle cx="112.9" cy="795.6" r="2.1" fill="#4a3288" opacity="0.45"/><circle cx="103.0" cy="759.0" r="3.2" fill="#4a3288" opacity="0.45"/><circle cx="48.9" cy="753.9" r="2.4" fill="#4a3288" opacity="0.45"/><circle cx="126.7" cy="751.3" r="2.4" fill="#4a3288" opacity="0.45"/><circle cx="85.3" cy="792.4" r="2.4" fill="#4a3288" opacity="0.45"/><circle cx="43.8" cy="784.5" r="2.7" fill="#4a3288" opacity="0.45"/><circle cx="71.0" cy="788.1" r="2.5" fill="#4a3288" opacity="0.45"/><circle cx="48.5" cy="787.7" r="2.2" fill="#4a3288" opacity="0.45"/><circle cx="97.8" cy="756.4" r="2.8" fill="#4a3288" opacity="0.45"/><circle cx="62.3" cy="795.5" r="2.0" fill="#4a3288" opacity="0.45"/><circle cx="113.1" cy="790.9" r="2.4" fill="#4a3288" opacity="0.45"/><circle cx="69.5" cy="722.7" r="2.3" fill="#4a3288" opacity="0.45"/><circle cx="127.8" cy="736.5" r="3.0" fill="#4a3288" opacity="0.45"/><circle cx="112.4" cy="768.7" r="2.7" fill="#4a3288" opacity="0.45"/><circle cx="79.5" cy="717.8" r="2.9" fill="#4a3288" opacity="0.45"/><circle cx="105.2" cy="726.1" r="3.0" fill="#4a3288" opacity="0.45"/><circle cx="78.2" cy="796.4" r="3.0" fill="#4a3288" opacity="0.45"/><circle cx="100.2" cy="751.1" r="3.2" fill="#4a3288" opacity="0.45"/><circle cx="101.5" cy="776.7" r="2.4" fill="#4a3288" opacity="0.45"/><circle cx="116.5" cy="760.7" r="2.1" fill="#4a3288" opacity="0.45"/><circle cx="124.6" cy="736.1" r="2.8" fill="#4a3288" opacity="0.45"/><circle cx="120.6" cy="765.1" r="2.2" fill="#4a3288" opacity="0.45"/><circle cx="101.8" cy="765.3" r="2.4" fill="#4a3288" opacity="0.45"/><circle cx="81.2" cy="764.6" r="2.1" fill="#4a3288" opacity="0.45"/><circle cx="82.6" cy="747.8" r="2.9" fill="#4a3288" opacity="0.45"/><circle cx="80.0" cy="771.5" r="2.3" fill="#4a3288" opacity="0.45"/><circle cx="72.0" cy="793.0" r="3.1" fill="#4a3288" opacity="0.45"/><circle cx="78.4" cy="725.4" r="2.4" fill="#4a3288" opacity="0.45"/><circle cx="124.3" cy="753.8" r="2.3" fill="#4a3288" opacity="0.45"/><circle cx="111.5" cy="767.3" r="3.0" fill="#4a3288" opacity="0.45"/><circle cx="31.2" cy="728.3" r="2.1" fill="#4a3288" opacity="0.45"/><circle cx="104.8" cy="735.4" r="2.5" fill="#4a3288" opacity="0.45"/><circle cx="90.1" cy="785.1" r="3.0" fill="#4a3288" opacity="0.45"/><circle cx="103.1" cy="787.0" r="1.9" fill="#4a3288" opacity="0.45"/><circle cx="116.1" cy="765.9" r="2.5" fill="#4a3288" opacity="0.45"/><circle cx="84.4" cy="733.0" r="2.4" fill="#4a3288" opacity="0.45"/><circle cx="64.7" cy="730.4" r="2.8" fill="#4a3288" opacity="0.45"/><circle cx="64.6" cy="787.7" r="2.3" fill="#4a3288" opacity="0.45"/><circle cx="128.5" cy="759.9" r="2.9" fill="#4a3288" opacity="0.45"/><circle cx="94.9" cy="780.0" r="2.2" fill="#4a3288" opacity="0.45"/><circle cx="65.4" cy="782.4" r="2.4" fill="#4a3288" opacity="0.45"/><circle cx="93.4" cy="789.2" r="2.7" fill="#4a3288" opacity="0.45"/><ellipse cx="38.7" cy="780.5" rx="7.1" ry="0.7" fill="#4a3288" opacity="0.8" transform="rotate(74 38.7 780.5)"/><circle cx="38.5" cy="780.2" r="3.1" fill="#4a3288" opacity="0.45"/><circle cx="109.9" cy="742.1" r="2.6" fill="#4a3288" opacity="0.45"/><circle cx="73.6" cy="764.4" r="2.0" fill="#4a3288" opacity="0.45"/><circle cx="118.5" cy="729.8" r="2.5" fill="#4a3288" opacity="0.45"/><circle cx="70.5" cy="731.1" r="2.4" fill="#4a3288" opacity="0.45"/><circle cx="28.8" cy="788.4" r="2.9" fill="#4a3288" opacity="0.45"/><circle cx="119.7" cy="766.5" r="2.7" fill="#4a3288" opacity="0.45"/><circle cx="81.2" cy="795.3" r="3.0" fill="#4a3288" opacity="0.45"/><circle cx="125.7" cy="776.2" r="2.9" fill="#4a3288" opacity="0.45"/><circle cx="109.5" cy="777.5" r="2.7" fill="#4a3288" opacity="0.45"/><circle cx="34.6" cy="743.4" r="2.8" fill="#4a3288" opacity="0.45"/><circle cx="63.5" cy="725.9" r="2.3" fill="#4a3288" opacity="0.45"/><circle cx="130.6" cy="739.5" r="2.2" fill="#4a3288" opacity="0.45"/><circle cx="46.8" cy="721.7" r="2.8" fill="#4a3288" opacity="0.45"/><circle cx="49.7" cy="725.0" r="2.6" fill="#4a3288" opacity="0.45"/><circle cx="39.7" cy="724.4" r="2.2" fill="#4a3288" opacity="0.45"/><circle cx="81.6" cy="777.2" r="2.8" fill="#4a3288" opacity="0.45"/><circle cx="52.9" cy="737.2" r="2.5" fill="#4a3288" opacity="0.45"/><circle cx="131.6" cy="761.9" r="3.0" fill="#4a3288" opacity="0.45"/><circle cx="114.5" cy="721.3" r="2.7" fill="#4a3288" opacity="0.45"/><circle cx="32.0" cy="791.2" r="2.3" fill="#4a3288" opacity="0.45"/><circle cx="45.2" cy="756.0" r="2.9" fill="#4a3288" opacity="0.45"/><circle cx="121.7" cy="754.6" r="2.8" fill="#4a3288" opacity="0.45"/><circle cx="57.9" cy="768.8" r="2.9" fill="#4a3288" opacity="0.45"/><circle cx="104.5" cy="739.6" r="2.0" fill="#4a3288" opacity="0.45"/><circle cx="129.1" cy="721.2" r="3.2" fill="#4a3288" opacity="0.45"/><circle cx="78.7" cy="794.4" r="2.2" fill="#4a3288" opacity="0.45"/><circle cx="127.9" cy="774.3" r="2.6" fill="#4a3288" opacity="0.45"/><circle cx="75.9" cy="731.8" r="1.9" fill="#4a3288" opacity="0.45"/><circle cx="40.3" cy="751.5" r="2.8" fill="#4a3288" opacity="0.45"/><circle cx="55.0" cy="762.8" r="2.4" fill="#4a3288" opacity="0.45"/><circle cx="84.1" cy="796.6" r="3.3" fill="#4a3288" opacity="0.45"/><circle cx="52.6" cy="724.6" r="3.0" fill="#4a3288" opacity="0.45"/><circle cx="94.7" cy="744.2" r="2.4" fill="#4a3288" opacity="0.45"/><circle cx="88.2" cy="763.9" r="2.9" fill="#4a3288" opacity="0.45"/><circle cx="122.1" cy="718.5" r="2.3" fill="#4a3288" opacity="0.45"/><circle cx="72.6" cy="765.9" r="2.0" fill="#4a3288" opacity="0.45"/><circle cx="64.4" cy="776.2" r="2.8" fill="#4a3288" opacity="0.45"/><circle cx="26.9" cy="774.6" r="3.1" fill="#4a3288" opacity="0.45"/><circle cx="54.2" cy="774.3" r="2.3" fill="#4a3288" opacity="0.45"/><circle cx="107.2" cy="790.4" r="2.8" fill="#4a3288" opacity="0.45"/><circle cx="37.7" cy="786.9" r="2.3" fill="#4a3288" opacity="0.45"/><circle cx="99.6" cy="762.7" r="2.8" fill="#4a3288" opacity="0.45"/><circle cx="27.7" cy="740.2" r="3.1" fill="#4a3288" opacity="0.45"/><circle cx="122.0" cy="733.4" r="2.8" fill="#4a3288" opacity="0.45"/><circle cx="124.9" cy="741.9" r="2.6" fill="#4a3288" opacity="0.45"/><circle cx="124.8" cy="771.6" r="2.2" fill="#4a3288" opacity="0.45"/><circle cx="134.0" cy="752.6" r="2.5" fill="#4a3288" opacity="0.45"/><circle cx="105.6" cy="757.5" r="2.0" fill="#4a3288" opacity="0.45"/><circle cx="30.0" cy="770.7" r="2.9" fill="#4a3288" opacity="0.45"/><circle cx="107.2" cy="745.6" r="2.6" fill="#4a3288" opacity="0.45"/><circle cx="105.2" cy="764.9" r="3.0" fill="#4a3288" opacity="0.45"/><circle cx="57.0" cy="717.0" r="2.7" fill="#4a3288" opacity="0.45"/><circle cx="88.4" cy="794.2" r="2.9" fill="#4a3288" opacity="0.45"/><circle cx="35.7" cy="773.9" r="2.4" fill="#4a3288" opacity="0.45"/><circle cx="67.4" cy="743.7" r="3.0" fill="#4a3288" opacity="0.45"/><circle cx="50.6" cy="777.7" r="2.8" fill="#4a3288" opacity="0.45"/><circle cx="69.3" cy="743.0" r="3.2" fill="#4a3288" opacity="0.45"/><circle cx="80.2" cy="759.1" r="2.9" fill="#4a3288" opacity="0.45"/><circle cx="126.0" cy="748.9" r="2.8" fill="#4a3288" opacity="0.45"/><circle cx="119.3" cy="781.0" r="2.9" fill="#4a3288" opacity="0.45"/><circle cx="130.3" cy="767.3" r="2.4" fill="#4a3288" opacity="0.45"/><circle cx="113.5" cy="749.4" r="2.5" fill="#4a3288" opacity="0.45"/><circle cx="69.4" cy="758.5" r="2.5" fill="#4a3288" opacity="0.45"/><circle cx="70.3" cy="782.2" r="2.3" fill="#4a3288" opacity="0.45"/><circle cx="113.2" cy="740.8" r="2.3" fill="#4a3288" opacity="0.45"/><circle cx="90.5" cy="764.2" r="2.5" fill="#4a3288" opacity="0.45"/><circle cx="128.4" cy="766.5" r="3.3" fill="#4a3288" opacity="0.45"/><circle cx="119.1" cy="754.4" r="2.3" fill="#4a3288" opacity="0.45"/><circle cx="98.4" cy="778.2" r="2.1" fill="#4a3288" opacity="0.45"/><circle cx="70.2" cy="733.0" r="2.3" fill="#4a3288" opacity="0.45"/><circle cx="132.4" cy="780.1" r="3.0" fill="#4a3288" opacity="0.45"/><circle cx="124.4" cy="751.6" r="2.5" fill="#4a3288" opacity="0.45"/><circle cx="121.8" cy="749.2" r="2.9" fill="#4a3288" opacity="0.45"/><circle cx="99.4" cy="721.3" r="3.1" fill="#4a3288" opacity="0.45"/><circle cx="82.4" cy="719.6" r="2.7" fill="#4a3288" opacity="0.45"/><circle cx="67.3" cy="777.4" r="2.9" fill="#4a3288" opacity="0.45"/><circle cx="36.2" cy="776.0" r="2.8" fill="#4a3288" opacity="0.45"/><circle cx="28.9" cy="730.6" r="2.4" fill="#4a3288" opacity="0.45"/><circle cx="111.2" cy="751.1" r="2.1" fill="#4a3288" opacity="0.45"/><circle cx="80.4" cy="792.1" r="3.0" fill="#4a3288" opacity="0.45"/><circle cx="70.6" cy="760.5" r="3.2" fill="#4a3288" opacity="0.45"/><circle cx="88.3" cy="752.4" r="2.0" fill="#4a3288" opacity="0.45"/><circle cx="113.2" cy="731.8" r="2.7" fill="#4a3288" opacity="0.45"/><circle cx="67.9" cy="759.5" r="2.3" fill="#4a3288" opacity="0.45"/><circle cx="69.3" cy="769.6" r="2.4" fill="#4a3288" opacity="0.45"/><circle cx="65.5" cy="740.3" r="2.2" fill="#4a3288" opacity="0.45"/><circle cx="96.1" cy="751.4" r="2.5" fill="#4a3288" opacity="0.45"/><circle cx="113.8" cy="770.7" r="2.7" fill="#4a3288" opacity="0.45"/><circle cx="37.6" cy="773.1" r="2.3" fill="#4a3288" opacity="0.45"/><circle cx="91.5" cy="727.7" r="2.9" fill="#4a3288" opacity="0.45"/><circle cx="115.6" cy="747.1" r="2.5" fill="#4a3288" opacity="0.45"/><circle cx="29.0" cy="748.3" r="3.0" fill="#4a3288" opacity="0.45"/><circle cx="54.9" cy="730.5" r="2.6" fill="#4a3288" opacity="0.45"/><circle cx="48.8" cy="742.0" r="2.4" fill="#4a3288" opacity="0.45"/><circle cx="65.3" cy="755.8" r="2.3" fill="#4a3288" opacity="0.45"/><circle cx="133.9" cy="757.3" r="3.0" fill="#4a3288" opacity="0.45"/><circle cx="48.3" cy="792.7" r="2.8" fill="#4a3288" opacity="0.45"/><circle cx="39.5" cy="775.3" r="2.6" fill="#4a3288" opacity="0.45"/><circle cx="85.7" cy="720.5" r="3.1" fill="#4a3288" opacity="0.45"/><circle cx="70.4" cy="737.6" r="2.7" fill="#4a3288" opacity="0.45"/><circle cx="107.1" cy="724.7" r="2.3" fill="#4a3288" opacity="0.45"/><circle cx="66.3" cy="728.7" r="2.8" fill="#4a3288" opacity="0.45"/><circle cx="76.4" cy="748.5" r="3.0" fill="#4a3288" opacity="0.45"/><circle cx="135.2" cy="726.6" r="2.9" fill="#4a3288" opacity="0.45"/><circle cx="124.6" cy="765.3" r="3.0" fill="#4a3288" opacity="0.45"/><circle cx="44.3" cy="749.1" r="1.9" fill="#4a3288" opacity="0.45"/><circle cx="40.0" cy="748.1" r="2.2" fill="#4a3288" opacity="0.45"/><circle cx="58.8" cy="784.6" r="3.0" fill="#4a3288" opacity="0.45"/><circle cx="63.9" cy="734.4" r="2.7" fill="#4a3288" opacity="0.45"/><circle cx="108.5" cy="754.7" r="3.1" fill="#4a3288" opacity="0.45"/><circle cx="125.0" cy="758.1" r="2.8" fill="#4a3288" opacity="0.45"/><circle cx="59.9" cy="763.9" r="2.2" fill="#4a3288" opacity="0.45"/><circle cx="128.9" cy="763.2" r="3.4" fill="#4a3288" opacity="0.45"/><circle cx="38.6" cy="789.6" r="2.8" fill="#4a3288" opacity="0.45"/><circle cx="128.2" cy="787.1" r="3.1" fill="#4a3288" opacity="0.45"/><circle cx="42.9" cy="776.4" r="2.2" fill="#4a3288" opacity="0.45"/><circle cx="129.7" cy="715.6" r="2.4" fill="#4a3288" opacity="0.45"/><circle cx="62.0" cy="720.1" r="3.2" fill="#4a3288" opacity="0.45"/><circle cx="104.5" cy="723.0" r="2.3" fill="#4a3288" opacity="0.45"/><circle cx="126.8" cy="788.4" r="2.5" fill="#4a3288" opacity="0.45"/><circle cx="64.9" cy="754.1" r="2.3" fill="#4a3288" opacity="0.45"/><circle cx="134.5" cy="731.6" r="2.6" fill="#4a3288" opacity="0.45"/><circle cx="56.4" cy="749.4" r="3.1" fill="#4a3288" opacity="0.45"/><circle cx="130.6" cy="778.9" r="2.6" fill="#4a3288" opacity="0.45"/><circle cx="95.0" cy="733.4" r="2.4" fill="#4a3288" opacity="0.45"/><circle cx="83.5" cy="724.6" r="2.5" fill="#4a3288" opacity="0.45"/><circle cx="123.8" cy="730.3" r="2.1" fill="#4a3288" opacity="0.45"/><circle cx="72.5" cy="744.8" r="2.3" fill="#4a3288" opacity="0.45"/><circle cx="53.7" cy="780.4" r="2.0" fill="#4a3288" opacity="0.45"/><circle cx="109.0" cy="735.4" r="2.2" fill="#4a3288" opacity="0.45"/><circle cx="134.8" cy="747.4" r="2.2" fill="#4a3288" opacity="0.45"/><circle cx="33.3" cy="720.7" r="3.0" fill="#4a3288" opacity="0.45"/><circle cx="61.9" cy="754.9" r="2.2" fill="#4a3288" opacity="0.45"/><circle cx="84.5" cy="763.3" r="2.9" fill="#4a3288" opacity="0.45"/><circle cx="112.4" cy="734.7" r="2.8" fill="#4a3288" opacity="0.45"/><circle cx="89.9" cy="756.1" r="2.0" fill="#4a3288" opacity="0.45"/><circle cx="104.5" cy="761.7" r="2.9" fill="#4a3288" opacity="0.45"/><circle cx="57.7" cy="782.3" r="3.1" fill="#4a3288" opacity="0.45"/><circle cx="104.9" cy="784.8" r="1.8" fill="#4a3288" opacity="0.45"/><circle cx="42.7" cy="740.7" r="2.3" fill="#4a3288" opacity="0.45"/><circle cx="94.1" cy="758.0" r="2.4" fill="#4a3288" opacity="0.45"/><circle cx="36.4" cy="782.5" r="2.4" fill="#4a3288" opacity="0.45"/><circle cx="44.3" cy="771.3" r="2.9" fill="#4a3288" opacity="0.45"/><circle cx="33.4" cy="748.5" r="2.5" fill="#4a3288" opacity="0.45"/><circle cx="132.1" cy="718.4" r="2.8" fill="#4a3288" opacity="0.45"/><circle cx="31.1" cy="734.7" r="2.9" fill="#4a3288" opacity="0.45"/><circle cx="100.1" cy="773.8" r="3.3" fill="#4a3288" opacity="0.45"/><circle cx="58.7" cy="724.9" r="2.9" fill="#4a3288" opacity="0.45"/><circle cx="36.6" cy="733.6" r="2.6" fill="#4a3288" opacity="0.45"/><circle cx="134.5" cy="775.0" r="2.8" fill="#4a3288" opacity="0.45"/><circle cx="122.3" cy="790.2" r="2.2" fill="#4a3288" opacity="0.45"/><circle cx="128.0" cy="732.6" r="2.6" fill="#4a3288" opacity="0.45"/><circle cx="57.2" cy="790.1" r="2.7" fill="#4a3288" opacity="0.45"/><circle cx="80.0" cy="766.4" r="2.2" fill="#4a3288" opacity="0.45"/><circle cx="85.1" cy="749.8" r="2.2" fill="#4a3288" opacity="0.45"/><circle cx="82.5" cy="761.8" r="2.7" fill="#4a3288" opacity="0.45"/><circle cx="41.8" cy="734.6" r="2.9" fill="#4a3288" opacity="0.45"/><circle cx="55.6" cy="721.9" r="3.2" fill="#4a3288" opacity="0.45"/><circle cx="55.0" cy="787.0" r="2.9" fill="#4a3288" opacity="0.45"/><circle cx="93.0" cy="755.3" r="2.2" fill="#4a3288" opacity="0.45"/><circle cx="40.8" cy="732.5" r="2.7" fill="#4a3288" opacity="0.45"/><circle cx="84.9" cy="752.1" r="2.0" fill="#4a3288" opacity="0.45"/><circle cx="65.1" cy="723.3" r="2.3" fill="#4a3288" opacity="0.45"/><circle cx="28.6" cy="777.5" r="3.1" fill="#4a3288" opacity="0.45"/><circle cx="34.1" cy="784.5" r="2.8" fill="#4a3288" opacity="0.45"/><circle cx="40.0" cy="778.3" r="2.6" fill="#4a3288" opacity="0.45"/><circle cx="50.9" cy="790.4" r="2.4" fill="#4a3288" opacity="0.45"/><circle cx="64.8" cy="773.1" r="2.5" fill="#4a3288" opacity="0.45"/><circle cx="125.1" cy="780.7" r="2.4" fill="#4a3288" opacity="0.45"/><circle cx="119.2" cy="740.2" r="3.1" fill="#4a3288" opacity="0.45"/><circle cx="67.9" cy="784.5" r="2.4" fill="#4a3288" opacity="0.45"/><circle cx="122.8" cy="721.5" r="2.0" fill="#4a3288" opacity="0.45"/><ellipse cx="96.4" cy="746.6" rx="7.8" ry="0.7" fill="#4a3288" opacity="0.8" transform="rotate(113 96.4 746.6)"/><circle cx="96.4" cy="746.4" r="2.3" fill="#4a3288" opacity="0.45"/><circle cx="32.1" cy="768.2" r="2.5" fill="#4a3288" opacity="0.45"/><circle cx="116.4" cy="786.7" r="2.3" fill="#4a3288" opacity="0.45"/><circle cx="31.4" cy="726.0" r="2.5" fill="#4a3288" opacity="0.45"/><circle cx="66.0" cy="794.8" r="2.0" fill="#4a3288" opacity="0.45"/><circle cx="133.2" cy="715.6" r="2.9" fill="#4a3288" opacity="0.45"/><circle cx="109.9" cy="721.3" r="3.1" fill="#4a3288" opacity="0.45"/><circle cx="101.8" cy="780.5" r="2.5" fill="#4a3288" opacity="0.45"/><circle cx="32.9" cy="778.6" r="2.7" fill="#4a3288" opacity="0.45"/><circle cx="130.9" cy="782.7" r="2.1" fill="#4a3288" opacity="0.45"/><circle cx="108.2" cy="758.9" r="2.2" fill="#4a3288" opacity="0.45"/><circle cx="62.0" cy="729.5" r="2.6" fill="#4a3288" opacity="0.45"/><circle cx="119.0" cy="756.8" r="3.0" fill="#4a3288" opacity="0.45"/><circle cx="114.9" cy="758.7" r="2.3" fill="#4a3288" opacity="0.45"/><circle cx="81.4" cy="780.2" r="2.6" fill="#4a3288" opacity="0.45"/><circle cx="108.8" cy="783.6" r="2.8" fill="#4a3288" opacity="0.45"/><circle cx="72.2" cy="772.7" r="2.8" fill="#4a3288" opacity="0.45"/><circle cx="113.9" cy="725.2" r="2.6" fill="#4a3288" opacity="0.45"/><circle cx="51.8" cy="730.6" r="2.1" fill="#4a3288" opacity="0.45"/><ellipse cx="128.6" cy="794.4" rx="6.4" ry="0.7" fill="#4a3288" opacity="0.8" transform="rotate(102 128.6 794.4)"/><circle cx="129.0" cy="794.5" r="2.1" fill="#4a3288" opacity="0.45"/><circle cx="133.6" cy="719.1" r="2.9" fill="#4a3288" opacity="0.45"/><circle cx="97.0" cy="733.8" r="2.9" fill="#4a3288" opacity="0.45"/><circle cx="42.1" cy="762.4" r="2.9" fill="#4a3288" opacity="0.45"/><circle cx="57.9" cy="785.9" r="2.8" fill="#4a3288" opacity="0.45"/><circle cx="87.5" cy="788.3" r="3.0" fill="#4a3288" opacity="0.45"/><circle cx="43.2" cy="787.1" r="2.2" fill="#4a3288" opacity="0.45"/><circle cx="97.4" cy="726.9" r="2.5" fill="#4a3288" opacity="0.45"/><circle cx="101.0" cy="760.4" r="2.2" fill="#4a3288" opacity="0.45"/><circle cx="56.0" cy="784.6" r="2.5" fill="#4a3288" opacity="0.45"/><circle cx="112.6" cy="775.2" r="2.4" fill="#4a3288" opacity="0.45"/><circle cx="116.2" cy="777.6" r="3.3" fill="#4a3288" opacity="0.45"/><circle cx="29.6" cy="762.0" r="2.2" fill="#4a3288" opacity="0.45"/><ellipse cx="66.9" cy="768.8" rx="5.7" ry="1.0" fill="#4a3288" opacity="0.8" transform="rotate(168 66.9 768.8)"/><circle cx="66.5" cy="768.6" r="3.0" fill="#4a3288" opacity="0.45"/><circle cx="61.9" cy="723.4" r="2.6" fill="#4a3288" opacity="0.45"/><circle cx="50.1" cy="776.1" r="2.7" fill="#4a3288" opacity="0.45"/><circle cx="46.2" cy="723.7" r="2.3" fill="#4a3288" opacity="0.45"/><circle cx="73.5" cy="715.7" r="2.8" fill="#4a3288" opacity="0.45"/><circle cx="61.8" cy="758.9" r="2.9" fill="#4a3288" opacity="0.45"/><circle cx="122.2" cy="741.3" r="2.7" fill="#4a3288" opacity="0.45"/><circle cx="103.5" cy="729.7" r="2.3" fill="#4a3288" opacity="0.45"/><circle cx="129.1" cy="741.4" r="2.4" fill="#4a3288" opacity="0.45"/><circle cx="39.4" cy="783.9" r="2.6" fill="#4a3288" opacity="0.45"/><circle cx="98.9" cy="749.5" r="2.4" fill="#4a3288" opacity="0.45"/><circle cx="60.1" cy="739.2" r="2.1" fill="#4a3288" opacity="0.45"/><circle cx="61.1" cy="775.3" r="3.4" fill="#4a3288" opacity="0.45"/><circle cx="120.5" cy="725.8" r="3.3" fill="#4a3288" opacity="0.45"/><circle cx="52.3" cy="783.7" r="2.6" fill="#4a3288" opacity="0.45"/><circle cx="116.2" cy="780.4" r="2.5" fill="#4a3288" opacity="0.45"/><circle cx="48.0" cy="738.3" r="2.8" fill="#4a3288" opacity="0.45"/><circle cx="100.2" cy="769.3" r="3.2" fill="#4a3288" opacity="0.45"/><circle cx="134.6" cy="743.5" r="2.9" fill="#4a3288" opacity="0.45"/><circle cx="112.9" cy="727.8" r="2.3" fill="#4a3288" opacity="0.45"/><circle cx="47.0" cy="766.2" r="2.0" fill="#4a3288" opacity="0.45"/><circle cx="76.9" cy="755.2" r="2.3" fill="#4a3288" opacity="0.45"/><circle cx="84.5" cy="741.0" r="3.3" fill="#4a3288" opacity="0.45"/><circle cx="87.3" cy="796.1" r="2.6" fill="#4a3288" opacity="0.45"/><circle cx="102.7" cy="784.2" r="3.3" fill="#4a3288" opacity="0.45"/><circle cx="49.7" cy="732.6" r="3.0" fill="#4a3288" opacity="0.45"/><circle cx="71.2" cy="727.2" r="2.8" fill="#4a3288" opacity="0.45"/><circle cx="115.8" cy="748.4" r="2.5" fill="#4a3288" opacity="0.45"/><circle cx="128.7" cy="743.7" r="3.1" fill="#4a3288" opacity="0.45"/><circle cx="89.5" cy="738.4" r="2.9" fill="#4a3288" opacity="0.45"/><circle cx="119.5" cy="770.1" r="2.7" fill="#4a3288" opacity="0.45"/><circle cx="68.7" cy="775.7" r="2.9" fill="#4a3288" opacity="0.45"/><circle cx="53.2" cy="748.9" r="2.1" fill="#4a3288" opacity="0.45"/><circle cx="119.0" cy="763.2" r="2.6" fill="#4a3288" opacity="0.45"/><circle cx="67.3" cy="788.5" r="2.4" fill="#4a3288" opacity="0.45"/><circle cx="99.5" cy="743.5" r="3.0" fill="#4a3288" opacity="0.45"/><circle cx="29.2" cy="766.7" r="2.5" fill="#4a3288" opacity="0.45"/><circle cx="76.9" cy="741.2" r="2.7" fill="#4a3288" opacity="0.45"/><circle cx="132.1" cy="794.6" r="3.0" fill="#4a3288" opacity="0.45"/><circle cx="116.5" cy="768.0" r="2.8" fill="#4a3288" opacity="0.45"/><circle cx="34.1" cy="753.3" r="2.5" fill="#4a3288" opacity="0.45"/><circle cx="50.2" cy="795.6" r="2.5" fill="#4a3288" opacity="0.45"/><circle cx="42.5" cy="747.7" r="2.8" fill="#4a3288" opacity="0.45"/><circle cx="70.3" cy="784.0" r="3.1" fill="#4a3288" opacity="0.45"/><circle cx="98.7" cy="794.6" r="2.7" fill="#4a3288" opacity="0.45"/><circle cx="73.9" cy="727.9" r="2.3" fill="#4a3288" opacity="0.45"/><circle cx="82.2" cy="740.6" r="2.6" fill="#4a3288" opacity="0.45"/><circle cx="90.8" cy="753.4" r="3.0" fill="#4a3288" opacity="0.45"/><circle cx="114.3" cy="756.2" r="2.3" fill="#4a3288" opacity="0.45"/><circle cx="93.9" cy="748.3" r="2.8" fill="#4a3288" opacity="0.45"/><circle cx="85.5" cy="777.4" r="2.8" fill="#4a3288" opacity="0.45"/><circle cx="59.7" cy="732.8" r="2.9" fill="#4a3288" opacity="0.45"/><circle cx="37.7" cy="766.2" r="2.3" fill="#4a3288" opacity="0.45"/><circle cx="50.6" cy="722.2" r="2.9" fill="#4a3288" opacity="0.45"/><circle cx="96.9" cy="742.9" r="1.9" fill="#4a3288" opacity="0.45"/><circle cx="84.6" cy="728.7" r="2.3" fill="#4a3288" opacity="0.45"/><circle cx="105.9" cy="769.2" r="3.0" fill="#4a3288" opacity="0.45"/><circle cx="117.8" cy="732.8" r="3.2" fill="#4a3288" opacity="0.45"/><circle cx="37.5" cy="778.0" r="2.9" fill="#4a3288" opacity="0.45"/><circle cx="37.2" cy="747.9" r="2.4" fill="#4a3288" opacity="0.45"/><circle cx="57.5" cy="797.1" r="2.4" fill="#4a3288" opacity="0.45"/><circle cx="35.7" cy="726.9" r="2.3" fill="#4a3288" opacity="0.45"/><circle cx="40.0" cy="741.5" r="2.8" fill="#4a3288" opacity="0.45"/><circle cx="40.8" cy="769.8" r="2.9" fill="#4a3288" opacity="0.45"/><circle cx="102.8" cy="748.0" r="2.6" fill="#4a3288" opacity="0.45"/><circle cx="39.6" cy="785.8" r="2.0" fill="#4a3288" opacity="0.45"/><circle cx="42.4" cy="792.9" r="2.1" fill="#4a3288" opacity="0.45"/><circle cx="82.0" cy="754.4" r="2.5" fill="#4a3288" opacity="0.45"/><circle cx="76.3" cy="763.5" r="2.6" fill="#4a3288" opacity="0.45"/><circle cx="128.6" cy="756.1" r="2.8" fill="#4a3288" opacity="0.45"/><circle cx="104.6" cy="750.5" r="2.8" fill="#4a3288" opacity="0.45"/><circle cx="132.7" cy="789.6" r="2.5" fill="#4a3288" opacity="0.45"/><circle cx="118.5" cy="717.8" r="2.7" fill="#4a3288" opacity="0.45"/><circle cx="86.8" cy="742.5" r="2.4" fill="#4a3288" opacity="0.45"/><ellipse cx="109.6" cy="781.0" rx="5.3" ry="1.1" fill="#4a3288" opacity="0.8" transform="rotate(74 109.6 781.0)"/><circle cx="109.5" cy="780.9" r="2.0" fill="#4a3288" opacity="0.45"/><circle cx="127.0" cy="771.3" r="2.4" fill="#4a3288" opacity="0.45"/><circle cx="55.6" cy="735.4" r="2.3" fill="#4a3288" opacity="0.45"/><circle cx="54.8" cy="739.5" r="2.2" fill="#4a3288" opacity="0.45"/><circle cx="129.4" cy="752.3" r="2.8" fill="#4a3288" opacity="0.45"/><circle cx="40.8" cy="722.6" r="3.2" fill="#4a3288" opacity="0.45"/><circle cx="105.5" cy="792.3" r="2.7" fill="#4a3288" opacity="0.45"/><circle cx="130.8" cy="730.9" r="2.3" fill="#4a3288" opacity="0.45"/><circle cx="112.5" cy="744.3" r="3.1" fill="#4a3288" opacity="0.45"/><circle cx="112.1" cy="758.1" r="2.1" fill="#4a3288" opacity="0.45"/><circle cx="47.1" cy="758.1" r="2.4" fill="#4a3288" opacity="0.45"/><circle cx="35.9" cy="755.3" r="2.8" fill="#4a3288" opacity="0.45"/><circle cx="83.6" cy="744.0" r="2.7" fill="#4a3288" opacity="0.45"/><circle cx="92.8" cy="763.9" r="2.7" fill="#4a3288" opacity="0.45"/><circle cx="107.1" cy="732.3" r="2.0" fill="#4a3288" opacity="0.45"/><circle cx="37.4" cy="770.8" r="2.7" fill="#4a3288" opacity="0.45"/>
<ellipse cx="87.5" cy="790.6" rx="1.9" ry="1.7" fill="#0b0620" transform="rotate(13 87.5 790.6)"/><ellipse cx="90.4" cy="730.3" rx="1.9" ry="1.8" fill="#0b0620" transform="rotate(42 90.4 730.3)"/><ellipse cx="112.6" cy="723.0" rx="1.7" ry="1.6" fill="#0b0620" transform="rotate(12 112.6 723.0)"/><ellipse cx="104.6" cy="718.9" rx="2.0" ry="2.0" fill="#0b0620" transform="rotate(76 104.6 718.9)"/><ellipse cx="75.9" cy="775.5" rx="2.1" ry="1.7" fill="#0b0620" transform="rotate(57 75.9 775.5)"/><ellipse cx="116.8" cy="720.4" rx="1.3" ry="1.0" fill="#0b0620" transform="rotate(43 116.8 720.4)"/><ellipse cx="91.8" cy="778.7" rx="1.7" ry="1.6" fill="#0b0620" transform="rotate(66 91.8 778.7)"/><ellipse cx="48.1" cy="734.3" rx="1.7" ry="1.6" fill="#0b0620" transform="rotate(131 48.1 734.3)"/><ellipse cx="32.1" cy="772.4" rx="2.5" ry="2.0" fill="#0b0620" transform="rotate(94 32.1 772.4)"/><ellipse cx="117.7" cy="773.0" rx="1.7" ry="1.3" fill="#0b0620" transform="rotate(118 117.7 773.0)"/><ellipse cx="58.2" cy="721.0" rx="2.2" ry="2.0" fill="#0b0620" transform="rotate(19 58.2 721.0)"/><ellipse cx="118.4" cy="746.8" rx="2.4" ry="2.4" fill="#0b0620" transform="rotate(88 118.4 746.8)"/><ellipse cx="27.1" cy="732.4" rx="2.4" ry="2.1" fill="#0b0620" transform="rotate(105 27.1 732.4)"/><ellipse cx="132.9" cy="747.7" rx="1.4" ry="1.3" fill="#0b0620" transform="rotate(173 132.9 747.7)"/><ellipse cx="111.1" cy="737.3" rx="1.4" ry="1.1" fill="#0b0620" transform="rotate(4 111.1 737.3)"/><ellipse cx="131.1" cy="777.1" rx="1.4" ry="1.4" fill="#0b0620" transform="rotate(101 131.1 777.1)"/><ellipse cx="37.9" cy="720.2" rx="2.3" ry="1.8" fill="#0b0620" transform="rotate(104 37.9 720.2)"/><ellipse cx="110.3" cy="771.8" rx="2.5" ry="2.5" fill="#0b0620" transform="rotate(88 110.3 771.8)"/><ellipse cx="72.3" cy="746.6" rx="1.8" ry="1.5" fill="#0b0620" transform="rotate(101 72.3 746.6)"/><ellipse cx="27.1" cy="785.7" rx="2.5" ry="2.2" fill="#0b0620" transform="rotate(73 27.1 785.7)"/><ellipse cx="134.8" cy="716.9" rx="1.5" ry="1.1" fill="#0b0620" transform="rotate(86 134.8 716.9)"/><ellipse cx="92.0" cy="762.3" rx="1.4" ry="1.2" fill="#0b0620" transform="rotate(119 92.0 762.3)"/><ellipse cx="127.5" cy="761.6" rx="1.7" ry="1.3" fill="#0b0620" transform="rotate(58 127.5 761.6)"/><ellipse cx="34.9" cy="722.6" rx="2.0" ry="1.8" fill="#0b0620" transform="rotate(9 34.9 722.6)"/><ellipse cx="91.9" cy="745.6" rx="1.8" ry="1.4" fill="#0b0620" transform="rotate(35 91.9 745.6)"/><ellipse cx="79.2" cy="762.1" rx="2.3" ry="1.8" fill="#0b0620" transform="rotate(155 79.2 762.1)"/><ellipse cx="61.7" cy="789.6" rx="2.0" ry="2.0" fill="#0b0620" transform="rotate(116 61.7 789.6)"/><ellipse cx="44.1" cy="766.6" rx="2.0" ry="1.5" fill="#0b0620" transform="rotate(44 44.1 766.6)"/><ellipse cx="68.9" cy="754.6" rx="1.4" ry="1.1" fill="#0b0620" transform="rotate(86 68.9 754.6)"/><ellipse cx="48.4" cy="774.4" rx="1.6" ry="1.5" fill="#0b0620" transform="rotate(85 48.4 774.4)"/><ellipse cx="54.8" cy="782.4" rx="2.0" ry="1.9" fill="#0b0620" transform="rotate(176 54.8 782.4)"/><ellipse cx="45.9" cy="774.0" rx="1.4" ry="1.1" fill="#0b0620" transform="rotate(110 45.9 774.0)"/><ellipse cx="87.4" cy="784.8" rx="2.0" ry="1.9" fill="#0b0620" transform="rotate(120 87.4 784.8)"/><ellipse cx="126.1" cy="731.9" rx="1.3" ry="1.0" fill="#0b0620" transform="rotate(48 126.1 731.9)"/><ellipse cx="75.1" cy="720.2" rx="1.5" ry="1.1" fill="#0b0620" transform="rotate(159 75.1 720.2)"/><ellipse cx="88.8" cy="726.0" rx="1.7" ry="1.4" fill="#0b0620" transform="rotate(28 88.8 726.0)"/><ellipse cx="132.9" cy="768.8" rx="2.1" ry="1.7" fill="#0b0620" transform="rotate(139 132.9 768.8)"/><ellipse cx="42.2" cy="718.2" rx="1.3" ry="1.2" fill="#0b0620" transform="rotate(105 42.2 718.2)"/><ellipse cx="102.7" cy="793.8" rx="1.3" ry="1.1" fill="#0b0620" transform="rotate(179 102.7 793.8)"/><ellipse cx="79.1" cy="774.8" rx="1.7" ry="1.6" fill="#0b0620" transform="rotate(95 79.1 774.8)"/><ellipse cx="35.1" cy="759.8" rx="2.2" ry="1.9" fill="#0b0620" transform="rotate(61 35.1 759.8)"/><ellipse cx="106.6" cy="772.7" rx="2.3" ry="2.0" fill="#0b0620" transform="rotate(39 106.6 772.7)"/><ellipse cx="65.0" cy="771.1" rx="2.4" ry="2.0" fill="#0b0620" transform="rotate(86 65.0 771.1)"/><ellipse cx="72.1" cy="779.7" rx="2.3" ry="2.0" fill="#0b0620" transform="rotate(171 72.1 779.7)"/><ellipse cx="94.5" cy="746.5" rx="2.0" ry="1.6" fill="#0b0620" transform="rotate(178 94.5 746.5)"/><ellipse cx="35.7" cy="767.4" rx="2.5" ry="2.2" fill="#0b0620" transform="rotate(168 35.7 767.4)"/><ellipse cx="105.6" cy="747.0" rx="2.2" ry="1.7" fill="#0b0620" transform="rotate(176 105.6 747.0)"/><ellipse cx="74.6" cy="783.6" rx="1.4" ry="1.2" fill="#0b0620" transform="rotate(0 74.6 783.6)"/><ellipse cx="30.2" cy="764.3" rx="1.9" ry="1.6" fill="#0b0620" transform="rotate(141 30.2 764.3)"/><ellipse cx="102.4" cy="755.8" rx="2.0" ry="1.7" fill="#0b0620" transform="rotate(16 102.4 755.8)"/><ellipse cx="54.6" cy="716.2" rx="1.7" ry="1.4" fill="#0b0620" transform="rotate(134 54.6 716.2)"/><ellipse cx="48.9" cy="729.1" rx="2.4" ry="2.2" fill="#0b0620" transform="rotate(178 48.9 729.1)"/><ellipse cx="74.7" cy="788.0" rx="1.7" ry="1.3" fill="#0b0620" transform="rotate(150 74.7 788.0)"/><ellipse cx="48.4" cy="750.4" rx="2.3" ry="1.8" fill="#0b0620" transform="rotate(6 48.4 750.4)"/><ellipse cx="122.1" cy="746.6" rx="2.0" ry="1.6" fill="#0b0620" transform="rotate(78 122.1 746.6)"/><ellipse cx="41.7" cy="755.8" rx="2.3" ry="1.8" fill="#0b0620" transform="rotate(132 41.7 755.8)"/><ellipse cx="103.8" cy="792.7" rx="1.6" ry="1.4" fill="#0b0620" transform="rotate(144 103.8 792.7)"/><ellipse cx="114.5" cy="753.7" rx="2.3" ry="1.9" fill="#0b0620" transform="rotate(109 114.5 753.7)"/><ellipse cx="83.2" cy="770.1" rx="2.2" ry="1.8" fill="#0b0620" transform="rotate(108 83.2 770.1)"/><ellipse cx="94.5" cy="741.4" rx="2.3" ry="1.9" fill="#0b0620" transform="rotate(151 94.5 741.4)"/><ellipse cx="92.6" cy="770.6" rx="1.6" ry="1.6" fill="#0b0620" transform="rotate(54 92.6 770.6)"/><ellipse cx="97.1" cy="761.3" rx="2.1" ry="1.6" fill="#0b0620" transform="rotate(39 97.1 761.3)"/><ellipse cx="47.5" cy="778.0" rx="1.6" ry="1.4" fill="#0b0620" transform="rotate(66 47.5 778.0)"/><ellipse cx="113.1" cy="795.5" rx="1.4" ry="1.1" fill="#0b0620" transform="rotate(5 113.1 795.5)"/><ellipse cx="102.9" cy="758.8" rx="2.5" ry="1.9" fill="#0b0620" transform="rotate(136 102.9 758.8)"/><ellipse cx="48.5" cy="754.0" rx="1.5" ry="1.4" fill="#0b0620" transform="rotate(89 48.5 754.0)"/><ellipse cx="126.4" cy="750.9" rx="1.6" ry="1.2" fill="#0b0620" transform="rotate(9 126.4 750.9)"/><ellipse cx="85.3" cy="792.5" rx="1.9" ry="1.6" fill="#0b0620" transform="rotate(78 85.3 792.5)"/><ellipse cx="44.2" cy="784.5" rx="2.1" ry="1.8" fill="#0b0620" transform="rotate(39 44.2 784.5)"/><ellipse cx="71.3" cy="788.1" rx="1.8" ry="1.6" fill="#0b0620" transform="rotate(72 71.3 788.1)"/><ellipse cx="48.3" cy="787.6" rx="1.3" ry="1.2" fill="#0b0620" transform="rotate(37 48.3 787.6)"/><ellipse cx="97.5" cy="756.3" rx="2.3" ry="1.8" fill="#0b0620" transform="rotate(4 97.5 756.3)"/><ellipse cx="62.3" cy="795.4" rx="1.4" ry="1.2" fill="#0b0620" transform="rotate(112 62.3 795.4)"/><ellipse cx="113.2" cy="790.6" rx="1.4" ry="1.4" fill="#0b0620" transform="rotate(126 113.2 790.6)"/><ellipse cx="69.1" cy="722.5" rx="1.7" ry="1.5" fill="#0b0620" transform="rotate(65 69.1 722.5)"/><ellipse cx="127.7" cy="736.6" rx="2.2" ry="2.1" fill="#0b0620" transform="rotate(142 127.7 736.6)"/><ellipse cx="112.7" cy="769.0" rx="2.0" ry="1.8" fill="#0b0620" transform="rotate(85 112.7 769.0)"/><ellipse cx="79.6" cy="717.6" rx="2.3" ry="2.2" fill="#0b0620" transform="rotate(86 79.6 717.6)"/><ellipse cx="105.2" cy="725.9" rx="2.1" ry="2.0" fill="#0b0620" transform="rotate(138 105.2 725.9)"/><ellipse cx="77.8" cy="796.8" rx="2.4" ry="2.1" fill="#0b0620" transform="rotate(137 77.8 796.8)"/><ellipse cx="100.2" cy="751.2" rx="2.4" ry="2.0" fill="#0b0620" transform="rotate(164 100.2 751.2)"/><ellipse cx="101.4" cy="777.1" rx="1.8" ry="1.7" fill="#0b0620" transform="rotate(10 101.4 777.1)"/><ellipse cx="116.8" cy="761.1" rx="1.5" ry="1.1" fill="#0b0620" transform="rotate(166 116.8 761.1)"/><ellipse cx="125.0" cy="736.2" rx="2.1" ry="1.7" fill="#0b0620" transform="rotate(31 125.0 736.2)"/><ellipse cx="121.0" cy="765.0" rx="1.7" ry="1.5" fill="#0b0620" transform="rotate(158 121.0 765.0)"/><ellipse cx="101.6" cy="765.3" rx="1.5" ry="1.2" fill="#0b0620" transform="rotate(147 101.6 765.3)"/><ellipse cx="81.3" cy="764.6" rx="1.3" ry="1.3" fill="#0b0620" transform="rotate(145 81.3 764.6)"/><ellipse cx="82.7" cy="747.9" rx="2.3" ry="2.1" fill="#0b0620" transform="rotate(7 82.7 747.9)"/><ellipse cx="80.0" cy="771.6" rx="1.4" ry="1.2" fill="#0b0620" transform="rotate(83 80.0 771.6)"/><ellipse cx="71.7" cy="793.3" rx="2.4" ry="1.9" fill="#0b0620" transform="rotate(104 71.7 793.3)"/><ellipse cx="78.1" cy="725.6" rx="1.8" ry="1.6" fill="#0b0620" transform="rotate(60 78.1 725.6)"/><ellipse cx="124.3" cy="754.1" rx="1.7" ry="1.4" fill="#0b0620" transform="rotate(172 124.3 754.1)"/><ellipse cx="111.8" cy="767.0" rx="2.1" ry="2.0" fill="#0b0620" transform="rotate(135 111.8 767.0)"/><ellipse cx="30.8" cy="728.0" rx="1.3" ry="1.2" fill="#0b0620" transform="rotate(10 30.8 728.0)"/><ellipse cx="105.1" cy="735.2" rx="1.9" ry="1.7" fill="#0b0620" transform="rotate(168 105.1 735.2)"/><ellipse cx="89.9" cy="784.7" rx="2.0" ry="1.9" fill="#0b0620" transform="rotate(2 89.9 784.7)"/><ellipse cx="102.7" cy="786.9" rx="1.3" ry="1.1" fill="#0b0620" transform="rotate(32 102.7 786.9)"/><ellipse cx="116.1" cy="765.5" rx="1.9" ry="1.6" fill="#0b0620" transform="rotate(143 116.1 765.5)"/><ellipse cx="84.7" cy="733.1" rx="1.6" ry="1.4" fill="#0b0620" transform="rotate(142 84.7 733.1)"/><ellipse cx="64.5" cy="730.1" rx="2.0" ry="2.0" fill="#0b0620" transform="rotate(145 64.5 730.1)"/><ellipse cx="64.4" cy="787.9" rx="1.8" ry="1.3" fill="#0b0620" transform="rotate(123 64.4 787.9)"/><ellipse cx="128.6" cy="759.6" rx="2.1" ry="1.8" fill="#0b0620" transform="rotate(117 128.6 759.6)"/><ellipse cx="94.8" cy="780.4" rx="1.4" ry="1.2" fill="#0b0620" transform="rotate(36 94.8 780.4)"/><ellipse cx="65.6" cy="782.2" rx="1.7" ry="1.7" fill="#0b0620" transform="rotate(120 65.6 782.2)"/><ellipse cx="93.2" cy="789.1" rx="1.9" ry="1.8" fill="#0b0620" transform="rotate(58 93.2 789.1)"/><ellipse cx="38.7" cy="780.5" rx="2.5" ry="2.2" fill="#0b0620" transform="rotate(100 38.7 780.5)"/><ellipse cx="109.6" cy="741.9" rx="1.9" ry="1.5" fill="#0b0620" transform="rotate(2 109.6 741.9)"/><ellipse cx="73.4" cy="764.3" rx="1.3" ry="1.1" fill="#0b0620" transform="rotate(8 73.4 764.3)"/><ellipse cx="118.2" cy="730.1" rx="1.8" ry="1.5" fill="#0b0620" transform="rotate(78 118.2 730.1)"/><ellipse cx="70.8" cy="731.2" rx="1.5" ry="1.3" fill="#0b0620" transform="rotate(12 70.8 731.2)"/><ellipse cx="28.7" cy="788.1" rx="2.3" ry="2.1" fill="#0b0620" transform="rotate(26 28.7 788.1)"/><ellipse cx="120.0" cy="766.6" rx="1.8" ry="1.7" fill="#0b0620" transform="rotate(107 120.0 766.6)"/><ellipse cx="81.5" cy="795.4" rx="2.3" ry="1.7" fill="#0b0620" transform="rotate(94 81.5 795.4)"/><ellipse cx="125.4" cy="776.0" rx="2.2" ry="1.9" fill="#0b0620" transform="rotate(134 125.4 776.0)"/><ellipse cx="109.9" cy="777.7" rx="1.8" ry="1.4" fill="#0b0620" transform="rotate(145 109.9 777.7)"/><ellipse cx="34.6" cy="743.2" rx="1.9" ry="1.5" fill="#0b0620" transform="rotate(51 34.6 743.2)"/><ellipse cx="63.8" cy="725.7" rx="1.4" ry="1.3" fill="#0b0620" transform="rotate(19 63.8 725.7)"/><ellipse cx="130.8" cy="739.7" rx="1.6" ry="1.6" fill="#0b0620" transform="rotate(18 130.8 739.7)"/><ellipse cx="46.7" cy="721.6" rx="1.9" ry="1.6" fill="#0b0620" transform="rotate(45 46.7 721.6)"/><ellipse cx="50.0" cy="725.0" rx="1.8" ry="1.6" fill="#0b0620" transform="rotate(122 50.0 725.0)"/><ellipse cx="39.4" cy="724.1" rx="1.6" ry="1.3" fill="#0b0620" transform="rotate(87 39.4 724.1)"/><ellipse cx="81.5" cy="777.3" rx="2.1" ry="1.6" fill="#0b0620" transform="rotate(140 81.5 777.3)"/><ellipse cx="52.9" cy="737.2" rx="2.0" ry="1.9" fill="#0b0620" transform="rotate(70 52.9 737.2)"/><ellipse cx="131.5" cy="761.6" rx="2.5" ry="2.0" fill="#0b0620" transform="rotate(91 131.5 761.6)"/><ellipse cx="114.4" cy="721.5" rx="2.0" ry="1.8" fill="#0b0620" transform="rotate(132 114.4 721.5)"/><ellipse cx="31.9" cy="791.1" rx="1.5" ry="1.3" fill="#0b0620" transform="rotate(91 31.9 791.1)"/><ellipse cx="45.3" cy="755.7" rx="2.0" ry="1.6" fill="#0b0620" transform="rotate(83 45.3 755.7)"/><ellipse cx="121.6" cy="754.8" rx="2.0" ry="1.6" fill="#0b0620" transform="rotate(130 121.6 754.8)"/><ellipse cx="57.9" cy="768.7" rx="2.0" ry="1.8" fill="#0b0620" transform="rotate(173 57.9 768.7)"/><ellipse cx="104.4" cy="739.4" rx="1.3" ry="1.3" fill="#0b0620" transform="rotate(98 104.4 739.4)"/><ellipse cx="129.0" cy="721.3" rx="2.4" ry="2.0" fill="#0b0620" transform="rotate(168 129.0 721.3)"/><ellipse cx="78.6" cy="794.6" rx="1.6" ry="1.4" fill="#0b0620" transform="rotate(151 78.6 794.6)"/><ellipse cx="128.2" cy="774.2" rx="1.9" ry="1.4" fill="#0b0620" transform="rotate(106 128.2 774.2)"/><ellipse cx="76.2" cy="731.9" rx="1.4" ry="1.3" fill="#0b0620" transform="rotate(155 76.2 731.9)"/><ellipse cx="40.4" cy="751.4" rx="2.1" ry="1.8" fill="#0b0620" transform="rotate(115 40.4 751.4)"/><ellipse cx="55.3" cy="762.8" rx="1.8" ry="1.6" fill="#0b0620" transform="rotate(51 55.3 762.8)"/><ellipse cx="84.3" cy="796.6" rx="2.4" ry="2.1" fill="#0b0620" transform="rotate(164 84.3 796.6)"/><ellipse cx="52.7" cy="724.6" rx="2.4" ry="2.0" fill="#0b0620" transform="rotate(17 52.7 724.6)"/><ellipse cx="94.5" cy="744.6" rx="1.6" ry="1.4" fill="#0b0620" transform="rotate(50 94.5 744.6)"/><ellipse cx="88.0" cy="763.5" rx="2.1" ry="2.0" fill="#0b0620" transform="rotate(15 88.0 763.5)"/><ellipse cx="121.9" cy="718.5" rx="1.4" ry="1.4" fill="#0b0620" transform="rotate(80 121.9 718.5)"/><ellipse cx="72.9" cy="766.1" rx="1.4" ry="1.3" fill="#0b0620" transform="rotate(56 72.9 766.1)"/><ellipse cx="64.1" cy="776.0" rx="2.3" ry="1.8" fill="#0b0620" transform="rotate(26 64.1 776.0)"/><ellipse cx="27.2" cy="774.3" rx="2.3" ry="2.1" fill="#0b0620" transform="rotate(28 27.2 774.3)"/><ellipse cx="54.4" cy="773.9" rx="1.7" ry="1.3" fill="#0b0620" transform="rotate(127 54.4 773.9)"/><ellipse cx="107.6" cy="790.3" rx="1.8" ry="1.5" fill="#0b0620" transform="rotate(72 107.6 790.3)"/><ellipse cx="37.5" cy="786.6" rx="1.4" ry="1.1" fill="#0b0620" transform="rotate(89 37.5 786.6)"/><ellipse cx="99.6" cy="762.5" rx="1.9" ry="1.6" fill="#0b0620" transform="rotate(28 99.6 762.5)"/><ellipse cx="28.0" cy="740.6" rx="2.4" ry="2.4" fill="#0b0620" transform="rotate(175 28.0 740.6)"/><ellipse cx="122.2" cy="733.1" rx="2.1" ry="1.9" fill="#0b0620" transform="rotate(51 122.2 733.1)"/><ellipse cx="124.9" cy="741.6" rx="1.8" ry="1.5" fill="#0b0620" transform="rotate(44 124.9 741.6)"/><ellipse cx="124.5" cy="771.3" rx="1.6" ry="1.3" fill="#0b0620" transform="rotate(92 124.5 771.3)"/><ellipse cx="134.2" cy="752.6" rx="1.6" ry="1.4" fill="#0b0620" transform="rotate(36 134.2 752.6)"/><ellipse cx="105.8" cy="757.4" rx="1.4" ry="1.1" fill="#0b0620" transform="rotate(91 105.8 757.4)"/><ellipse cx="29.6" cy="770.5" rx="2.0" ry="1.9" fill="#0b0620" transform="rotate(78 29.6 770.5)"/><ellipse cx="106.8" cy="745.3" rx="1.8" ry="1.4" fill="#0b0620" transform="rotate(45 106.8 745.3)"/><ellipse cx="105.1" cy="765.1" rx="2.2" ry="1.7" fill="#0b0620" transform="rotate(52 105.1 765.1)"/><ellipse cx="57.4" cy="717.1" rx="1.9" ry="1.9" fill="#0b0620" transform="rotate(31 57.4 717.1)"/><ellipse cx="88.3" cy="794.1" rx="2.1" ry="2.1" fill="#0b0620" transform="rotate(96 88.3 794.1)"/><ellipse cx="35.7" cy="773.6" rx="1.7" ry="1.3" fill="#0b0620" transform="rotate(12 35.7 773.6)"/><ellipse cx="67.1" cy="743.5" rx="2.1" ry="2.0" fill="#0b0620" transform="rotate(55 67.1 743.5)"/><ellipse cx="50.8" cy="777.7" rx="1.9" ry="1.7" fill="#0b0620" transform="rotate(2 50.8 777.7)"/><ellipse cx="69.6" cy="742.8" rx="2.5" ry="2.0" fill="#0b0620" transform="rotate(84 69.6 742.8)"/><ellipse cx="80.3" cy="759.1" rx="2.2" ry="1.8" fill="#0b0620" transform="rotate(24 80.3 759.1)"/><ellipse cx="125.8" cy="748.8" rx="2.3" ry="1.9" fill="#0b0620" transform="rotate(113 125.8 748.8)"/><ellipse cx="119.2" cy="781.0" rx="2.3" ry="2.1" fill="#0b0620" transform="rotate(54 119.2 781.0)"/><ellipse cx="130.4" cy="767.5" rx="1.9" ry="1.7" fill="#0b0620" transform="rotate(6 130.4 767.5)"/><ellipse cx="113.6" cy="749.7" rx="1.8" ry="1.7" fill="#0b0620" transform="rotate(145 113.6 749.7)"/><ellipse cx="69.0" cy="758.4" rx="1.6" ry="1.5" fill="#0b0620" transform="rotate(80 69.0 758.4)"/><ellipse cx="70.1" cy="781.9" rx="1.3" ry="1.2" fill="#0b0620" transform="rotate(20 70.1 781.9)"/><ellipse cx="113.4" cy="740.8" rx="1.5" ry="1.4" fill="#0b0620" transform="rotate(19 113.4 740.8)"/><ellipse cx="90.5" cy="764.2" rx="1.9" ry="1.8" fill="#0b0620" transform="rotate(38 90.5 764.2)"/><ellipse cx="128.2" cy="766.4" rx="2.4" ry="1.9" fill="#0b0620" transform="rotate(59 128.2 766.4)"/><ellipse cx="119.2" cy="754.8" rx="1.8" ry="1.5" fill="#0b0620" transform="rotate(99 119.2 754.8)"/><ellipse cx="98.3" cy="778.2" rx="1.4" ry="1.4" fill="#0b0620" transform="rotate(38 98.3 778.2)"/><ellipse cx="70.1" cy="733.0" rx="1.5" ry="1.3" fill="#0b0620" transform="rotate(127 70.1 733.0)"/><ellipse cx="132.4" cy="780.1" rx="2.2" ry="1.9" fill="#0b0620" transform="rotate(77 132.4 780.1)"/><ellipse cx="124.8" cy="752.0" rx="1.6" ry="1.6" fill="#0b0620" transform="rotate(16 124.8 752.0)"/><ellipse cx="121.5" cy="749.2" rx="2.2" ry="2.2" fill="#0b0620" transform="rotate(5 121.5 749.2)"/><ellipse cx="99.2" cy="721.3" rx="2.2" ry="2.1" fill="#0b0620" transform="rotate(175 99.2 721.3)"/><ellipse cx="82.7" cy="719.6" rx="2.0" ry="2.0" fill="#0b0620" transform="rotate(99 82.7 719.6)"/><ellipse cx="67.2" cy="777.6" rx="2.3" ry="1.8" fill="#0b0620" transform="rotate(40 67.2 777.6)"/><ellipse cx="35.9" cy="776.3" rx="2.0" ry="1.8" fill="#0b0620" transform="rotate(61 35.9 776.3)"/><ellipse cx="29.1" cy="730.6" rx="1.5" ry="1.2" fill="#0b0620" transform="rotate(147 29.1 730.6)"/><ellipse cx="111.4" cy="751.2" rx="1.3" ry="1.0" fill="#0b0620" transform="rotate(151 111.4 751.2)"/><ellipse cx="80.4" cy="792.4" rx="2.5" ry="2.4" fill="#0b0620" transform="rotate(168 80.4 792.4)"/><ellipse cx="70.8" cy="760.6" rx="2.5" ry="1.9" fill="#0b0620" transform="rotate(153 70.8 760.6)"/><ellipse cx="87.9" cy="752.6" rx="1.3" ry="1.3" fill="#0b0620" transform="rotate(14 87.9 752.6)"/><ellipse cx="113.3" cy="732.1" rx="2.0" ry="1.9" fill="#0b0620" transform="rotate(6 113.3 732.1)"/><ellipse cx="67.6" cy="759.3" rx="1.7" ry="1.3" fill="#0b0620" transform="rotate(154 67.6 759.3)"/><ellipse cx="69.4" cy="769.6" rx="1.6" ry="1.4" fill="#0b0620" transform="rotate(90 69.4 769.6)"/><ellipse cx="65.7" cy="740.5" rx="1.6" ry="1.6" fill="#0b0620" transform="rotate(97 65.7 740.5)"/><ellipse cx="96.2" cy="751.7" rx="1.8" ry="1.7" fill="#0b0620" transform="rotate(17 96.2 751.7)"/><ellipse cx="114.2" cy="770.5" rx="2.1" ry="1.7" fill="#0b0620" transform="rotate(145 114.2 770.5)"/><ellipse cx="37.4" cy="773.4" rx="1.8" ry="1.6" fill="#0b0620" transform="rotate(29 37.4 773.4)"/><ellipse cx="91.6" cy="727.5" rx="2.1" ry="1.6" fill="#0b0620" transform="rotate(70 91.6 727.5)"/><ellipse cx="115.7" cy="746.8" rx="1.7" ry="1.6" fill="#0b0620" transform="rotate(26 115.7 746.8)"/><ellipse cx="28.7" cy="748.0" rx="2.1" ry="1.9" fill="#0b0620" transform="rotate(178 28.7 748.0)"/><ellipse cx="54.6" cy="730.3" rx="1.8" ry="1.6" fill="#0b0620" transform="rotate(160 54.6 730.3)"/><ellipse cx="49.1" cy="742.4" rx="1.7" ry="1.6" fill="#0b0620" transform="rotate(49 49.1 742.4)"/><ellipse cx="65.1" cy="756.1" rx="1.5" ry="1.4" fill="#0b0620" transform="rotate(78 65.1 756.1)"/><ellipse cx="133.6" cy="757.4" rx="2.2" ry="2.0" fill="#0b0620" transform="rotate(173 133.6 757.4)"/><ellipse cx="48.3" cy="792.3" rx="2.1" ry="1.9" fill="#0b0620" transform="rotate(14 48.3 792.3)"/><ellipse cx="39.7" cy="775.6" rx="1.8" ry="1.5" fill="#0b0620" transform="rotate(83 39.7 775.6)"/><ellipse cx="86.0" cy="720.5" rx="2.4" ry="1.9" fill="#0b0620" transform="rotate(69 86.0 720.5)"/><ellipse cx="70.4" cy="737.9" rx="2.0" ry="1.5" fill="#0b0620" transform="rotate(132 70.4 737.9)"/><ellipse cx="107.1" cy="724.5" rx="1.7" ry="1.7" fill="#0b0620" transform="rotate(87 107.1 724.5)"/><ellipse cx="66.2" cy="728.8" rx="2.0" ry="1.6" fill="#0b0620" transform="rotate(168 66.2 728.8)"/><ellipse cx="76.1" cy="748.2" rx="2.2" ry="1.7" fill="#0b0620" transform="rotate(21 76.1 748.2)"/><ellipse cx="134.9" cy="726.6" rx="2.2" ry="1.8" fill="#0b0620" transform="rotate(163 134.9 726.6)"/><ellipse cx="124.9" cy="765.4" rx="2.1" ry="1.9" fill="#0b0620" transform="rotate(172 124.9 765.4)"/><ellipse cx="44.1" cy="748.9" rx="1.3" ry="1.1" fill="#0b0620" transform="rotate(171 44.1 748.9)"/><ellipse cx="39.8" cy="748.4" rx="1.7" ry="1.6" fill="#0b0620" transform="rotate(74 39.8 748.4)"/><ellipse cx="58.9" cy="784.4" rx="2.1" ry="2.0" fill="#0b0620" transform="rotate(134 58.9 784.4)"/><ellipse cx="63.9" cy="734.3" rx="1.9" ry="1.4" fill="#0b0620" transform="rotate(105 63.9 734.3)"/><ellipse cx="108.2" cy="754.9" rx="2.5" ry="2.1" fill="#0b0620" transform="rotate(11 108.2 754.9)"/><ellipse cx="124.8" cy="758.2" rx="1.9" ry="1.6" fill="#0b0620" transform="rotate(170 124.8 758.2)"/><ellipse cx="59.9" cy="763.7" rx="1.4" ry="1.1" fill="#0b0620" transform="rotate(178 59.9 763.7)"/><ellipse cx="128.6" cy="763.5" rx="2.5" ry="2.4" fill="#0b0620" transform="rotate(106 128.6 763.5)"/><ellipse cx="38.4" cy="789.5" rx="2.0" ry="1.6" fill="#0b0620" transform="rotate(55 38.4 789.5)"/><ellipse cx="128.5" cy="787.0" rx="2.5" ry="2.5" fill="#0b0620" transform="rotate(153 128.5 787.0)"/><ellipse cx="43.2" cy="776.4" rx="1.4" ry="1.1" fill="#0b0620" transform="rotate(166 43.2 776.4)"/><ellipse cx="129.7" cy="715.3" rx="1.6" ry="1.4" fill="#0b0620" transform="rotate(31 129.7 715.3)"/><ellipse cx="62.1" cy="720.4" rx="2.4" ry="2.0" fill="#0b0620" transform="rotate(88 62.1 720.4)"/><ellipse cx="104.7" cy="723.3" rx="1.5" ry="1.2" fill="#0b0620" transform="rotate(162 104.7 723.3)"/><ellipse cx="126.6" cy="788.4" rx="1.5" ry="1.2" fill="#0b0620" transform="rotate(103 126.6 788.4)"/><ellipse cx="65.2" cy="753.8" rx="1.5" ry="1.4" fill="#0b0620" transform="rotate(134 65.2 753.8)"/><ellipse cx="134.5" cy="731.8" rx="2.1" ry="1.9" fill="#0b0620" transform="rotate(123 134.5 731.8)"/><ellipse cx="56.6" cy="749.6" rx="2.4" ry="2.0" fill="#0b0620" transform="rotate(124 56.6 749.6)"/><ellipse cx="130.4" cy="778.8" rx="1.8" ry="1.5" fill="#0b0620" transform="rotate(73 130.4 778.8)"/><ellipse cx="94.7" cy="733.1" rx="1.5" ry="1.5" fill="#0b0620" transform="rotate(24 94.7 733.1)"/><ellipse cx="83.6" cy="724.7" rx="1.9" ry="1.5" fill="#0b0620" transform="rotate(150 83.6 724.7)"/><ellipse cx="123.7" cy="730.0" rx="1.6" ry="1.4" fill="#0b0620" transform="rotate(83 123.7 730.0)"/><ellipse cx="72.6" cy="744.4" rx="1.8" ry="1.6" fill="#0b0620" transform="rotate(148 72.6 744.4)"/><ellipse cx="54.1" cy="780.8" rx="1.4" ry="1.2" fill="#0b0620" transform="rotate(77 54.1 780.8)"/><ellipse cx="108.6" cy="735.3" rx="1.6" ry="1.5" fill="#0b0620" transform="rotate(129 108.6 735.3)"/><ellipse cx="134.9" cy="747.3" rx="1.3" ry="1.1" fill="#0b0620" transform="rotate(92 134.9 747.3)"/><ellipse cx="33.5" cy="720.5" rx="2.2" ry="2.1" fill="#0b0620" transform="rotate(24 33.5 720.5)"/><ellipse cx="61.6" cy="754.7" rx="1.3" ry="1.2" fill="#0b0620" transform="rotate(81 61.6 754.7)"/><ellipse cx="84.4" cy="763.7" rx="2.2" ry="2.2" fill="#0b0620" transform="rotate(59 84.4 763.7)"/><ellipse cx="112.4" cy="734.5" rx="1.9" ry="1.5" fill="#0b0620" transform="rotate(93 112.4 734.5)"/><ellipse cx="89.6" cy="756.0" rx="1.3" ry="1.0" fill="#0b0620" transform="rotate(71 89.6 756.0)"/><ellipse cx="104.2" cy="762.0" rx="2.3" ry="2.3" fill="#0b0620" transform="rotate(140 104.2 762.0)"/><ellipse cx="57.7" cy="782.0" rx="2.3" ry="1.9" fill="#0b0620" transform="rotate(70 57.7 782.0)"/><ellipse cx="105.1" cy="785.1" rx="1.3" ry="1.3" fill="#0b0620" transform="rotate(29 105.1 785.1)"/><ellipse cx="42.8" cy="740.6" rx="1.4" ry="1.1" fill="#0b0620" transform="rotate(34 42.8 740.6)"/><ellipse cx="94.1" cy="758.1" rx="1.6" ry="1.4" fill="#0b0620" transform="rotate(44 94.1 758.1)"/><ellipse cx="36.6" cy="782.2" rx="1.5" ry="1.2" fill="#0b0620" transform="rotate(53 36.6 782.2)"/><ellipse cx="44.3" cy="771.6" rx="2.3" ry="2.0" fill="#0b0620" transform="rotate(148 44.3 771.6)"/><ellipse cx="33.6" cy="748.8" rx="1.7" ry="1.3" fill="#0b0620" transform="rotate(165 33.6 748.8)"/><ellipse cx="131.8" cy="718.7" rx="1.9" ry="1.5" fill="#0b0620" transform="rotate(154 131.8 718.7)"/><ellipse cx="31.2" cy="734.9" rx="2.4" ry="1.8" fill="#0b0620" transform="rotate(133 31.2 734.9)"/><ellipse cx="100.4" cy="773.7" rx="2.5" ry="2.0" fill="#0b0620" transform="rotate(98 100.4 773.7)"/><ellipse cx="58.9" cy="725.0" rx="2.3" ry="2.0" fill="#0b0620" transform="rotate(176 58.9 725.0)"/><ellipse cx="36.3" cy="733.8" rx="1.7" ry="1.5" fill="#0b0620" transform="rotate(62 36.3 733.8)"/><ellipse cx="134.4" cy="775.4" rx="2.0" ry="1.7" fill="#0b0620" transform="rotate(130 134.4 775.4)"/><ellipse cx="122.5" cy="790.6" rx="1.5" ry="1.3" fill="#0b0620" transform="rotate(179 122.5 790.6)"/><ellipse cx="128.0" cy="732.7" rx="1.8" ry="1.7" fill="#0b0620" transform="rotate(75 128.0 732.7)"/><ellipse cx="57.6" cy="790.2" rx="2.2" ry="1.8" fill="#0b0620" transform="rotate(163 57.6 790.2)"/><ellipse cx="79.9" cy="766.4" rx="1.5" ry="1.3" fill="#0b0620" transform="rotate(94 79.9 766.4)"/><ellipse cx="85.4" cy="749.5" rx="1.4" ry="1.3" fill="#0b0620" transform="rotate(34 85.4 749.5)"/><ellipse cx="82.3" cy="761.5" rx="2.1" ry="1.7" fill="#0b0620" transform="rotate(80 82.3 761.5)"/><ellipse cx="41.8" cy="734.9" rx="2.3" ry="2.2" fill="#0b0620" transform="rotate(174 41.8 734.9)"/><ellipse cx="55.9" cy="721.7" rx="2.3" ry="1.9" fill="#0b0620" transform="rotate(99 55.9 721.7)"/><ellipse cx="54.7" cy="786.9" rx="2.1" ry="1.9" fill="#0b0620" transform="rotate(96 54.7 786.9)"/><ellipse cx="92.7" cy="755.1" rx="1.5" ry="1.2" fill="#0b0620" transform="rotate(15 92.7 755.1)"/><ellipse cx="40.8" cy="732.3" rx="1.8" ry="1.4" fill="#0b0620" transform="rotate(112 40.8 732.3)"/><ellipse cx="84.8" cy="751.9" rx="1.5" ry="1.3" fill="#0b0620" transform="rotate(118 84.8 751.9)"/><ellipse cx="65.4" cy="723.7" rx="1.7" ry="1.5" fill="#0b0620" transform="rotate(122 65.4 723.7)"/><ellipse cx="28.2" cy="777.4" rx="2.2" ry="2.0" fill="#0b0620" transform="rotate(98 28.2 777.4)"/><ellipse cx="34.2" cy="784.8" rx="2.0" ry="1.5" fill="#0b0620" transform="rotate(12 34.2 784.8)"/><ellipse cx="40.2" cy="778.4" rx="1.7" ry="1.5" fill="#0b0620" transform="rotate(84 40.2 778.4)"/><ellipse cx="50.9" cy="790.7" rx="1.5" ry="1.3" fill="#0b0620" transform="rotate(116 50.9 790.7)"/><ellipse cx="64.9" cy="773.4" rx="1.9" ry="1.9" fill="#0b0620" transform="rotate(95 64.9 773.4)"/><ellipse cx="125.0" cy="780.8" rx="1.9" ry="1.8" fill="#0b0620" transform="rotate(146 125.0 780.8)"/><ellipse cx="119.1" cy="740.4" rx="2.4" ry="1.8" fill="#0b0620" transform="rotate(143 119.1 740.4)"/><ellipse cx="67.7" cy="784.3" rx="1.7" ry="1.3" fill="#0b0620" transform="rotate(12 67.7 784.3)"/><ellipse cx="122.7" cy="721.2" rx="1.3" ry="1.1" fill="#0b0620" transform="rotate(159 122.7 721.2)"/><ellipse cx="96.4" cy="746.6" rx="1.7" ry="1.5" fill="#0b0620" transform="rotate(18 96.4 746.6)"/><ellipse cx="32.3" cy="767.8" rx="1.8" ry="1.4" fill="#0b0620" transform="rotate(157 32.3 767.8)"/><ellipse cx="116.6" cy="787.0" rx="1.8" ry="1.7" fill="#0b0620" transform="rotate(53 116.6 787.0)"/><ellipse cx="31.1" cy="726.4" rx="1.9" ry="1.8" fill="#0b0620" transform="rotate(107 31.1 726.4)"/><ellipse cx="65.9" cy="794.9" rx="1.5" ry="1.5" fill="#0b0620" transform="rotate(4 65.9 794.9)"/><ellipse cx="132.8" cy="715.6" rx="2.0" ry="1.8" fill="#0b0620" transform="rotate(125 132.8 715.6)"/><ellipse cx="109.7" cy="721.7" rx="2.3" ry="1.8" fill="#0b0620" transform="rotate(129 109.7 721.7)"/><ellipse cx="101.6" cy="780.2" rx="1.6" ry="1.4" fill="#0b0620" transform="rotate(25 101.6 780.2)"/><ellipse cx="32.9" cy="778.6" rx="2.1" ry="1.7" fill="#0b0620" transform="rotate(168 32.9 778.6)"/><ellipse cx="131.1" cy="782.5" rx="1.5" ry="1.2" fill="#0b0620" transform="rotate(137 131.1 782.5)"/><ellipse cx="107.9" cy="758.8" rx="1.6" ry="1.2" fill="#0b0620" transform="rotate(91 107.9 758.8)"/><ellipse cx="62.1" cy="729.8" rx="1.9" ry="1.5" fill="#0b0620" transform="rotate(57 62.1 729.8)"/><ellipse cx="118.7" cy="757.1" rx="2.1" ry="2.1" fill="#0b0620" transform="rotate(88 118.7 757.1)"/><ellipse cx="114.7" cy="758.8" rx="1.4" ry="1.1" fill="#0b0620" transform="rotate(155 114.7 758.8)"/><ellipse cx="81.8" cy="780.2" rx="1.8" ry="1.7" fill="#0b0620" transform="rotate(70 81.8 780.2)"/><ellipse cx="109.0" cy="784.0" rx="2.3" ry="2.2" fill="#0b0620" transform="rotate(33 109.0 784.0)"/><ellipse cx="72.4" cy="772.9" rx="2.0" ry="1.8" fill="#0b0620" transform="rotate(99 72.4 772.9)"/><ellipse cx="113.5" cy="725.5" rx="1.8" ry="1.7" fill="#0b0620" transform="rotate(154 113.5 725.5)"/><ellipse cx="52.0" cy="730.3" rx="1.3" ry="1.3" fill="#0b0620" transform="rotate(147 52.0 730.3)"/><ellipse cx="128.6" cy="794.4" rx="1.5" ry="1.3" fill="#0b0620" transform="rotate(106 128.6 794.4)"/><ellipse cx="133.8" cy="719.3" rx="2.2" ry="1.9" fill="#0b0620" transform="rotate(38 133.8 719.3)"/><ellipse cx="97.2" cy="733.5" rx="2.2" ry="2.0" fill="#0b0620" transform="rotate(114 97.2 733.5)"/><ellipse cx="42.3" cy="762.3" rx="2.1" ry="2.0" fill="#0b0620" transform="rotate(65 42.3 762.3)"/><ellipse cx="57.5" cy="785.9" rx="1.8" ry="1.7" fill="#0b0620" transform="rotate(112 57.5 785.9)"/><ellipse cx="87.1" cy="788.4" rx="2.4" ry="1.9" fill="#0b0620" transform="rotate(165 87.1 788.4)"/><ellipse cx="43.4" cy="787.4" rx="1.6" ry="1.4" fill="#0b0620" transform="rotate(22 43.4 787.4)"/><ellipse cx="97.1" cy="726.6" rx="1.5" ry="1.4" fill="#0b0620" transform="rotate(167 97.1 726.6)"/><ellipse cx="101.0" cy="760.0" rx="1.6" ry="1.5" fill="#0b0620" transform="rotate(70 101.0 760.0)"/><ellipse cx="55.7" cy="784.5" rx="1.6" ry="1.3" fill="#0b0620" transform="rotate(19 55.7 784.5)"/><ellipse cx="112.6" cy="775.2" rx="1.8" ry="1.7" fill="#0b0620" transform="rotate(75 112.6 775.2)"/><ellipse cx="116.4" cy="777.9" rx="2.5" ry="2.2" fill="#0b0620" transform="rotate(42 116.4 777.9)"/><ellipse cx="29.5" cy="762.3" rx="1.6" ry="1.3" fill="#0b0620" transform="rotate(18 29.5 762.3)"/><ellipse cx="66.9" cy="768.8" rx="2.3" ry="1.8" fill="#0b0620" transform="rotate(113 66.9 768.8)"/><ellipse cx="61.7" cy="723.0" rx="1.7" ry="1.3" fill="#0b0620" transform="rotate(8 61.7 723.0)"/><ellipse cx="49.8" cy="775.9" rx="2.0" ry="1.6" fill="#0b0620" transform="rotate(83 49.8 775.9)"/><ellipse cx="46.1" cy="723.9" rx="1.5" ry="1.2" fill="#0b0620" transform="rotate(135 46.1 723.9)"/><ellipse cx="73.5" cy="716.1" rx="1.9" ry="1.8" fill="#0b0620" transform="rotate(15 73.5 716.1)"/><ellipse cx="61.7" cy="759.1" rx="2.4" ry="2.1" fill="#0b0620" transform="rotate(166 61.7 759.1)"/><ellipse cx="122.1" cy="741.5" rx="2.2" ry="2.2" fill="#0b0620" transform="rotate(47 122.1 741.5)"/><ellipse cx="103.3" cy="729.8" rx="1.6" ry="1.2" fill="#0b0620" transform="rotate(151 103.3 729.8)"/><ellipse cx="129.4" cy="741.6" rx="1.5" ry="1.3" fill="#0b0620" transform="rotate(149 129.4 741.6)"/><ellipse cx="39.3" cy="783.6" rx="2.1" ry="1.8" fill="#0b0620" transform="rotate(94 39.3 783.6)"/><ellipse cx="98.9" cy="749.5" rx="1.8" ry="1.6" fill="#0b0620" transform="rotate(89 98.9 749.5)"/><ellipse cx="59.9" cy="739.3" rx="1.4" ry="1.0" fill="#0b0620" transform="rotate(64 59.9 739.3)"/><ellipse cx="60.8" cy="775.3" rx="2.5" ry="2.3" fill="#0b0620" transform="rotate(25 60.8 775.3)"/><ellipse cx="120.7" cy="725.6" rx="2.5" ry="2.2" fill="#0b0620" transform="rotate(31 120.7 725.6)"/><ellipse cx="52.3" cy="783.8" rx="2.1" ry="1.8" fill="#0b0620" transform="rotate(146 52.3 783.8)"/><ellipse cx="116.6" cy="780.3" rx="1.9" ry="1.7" fill="#0b0620" transform="rotate(40 116.6 780.3)"/><ellipse cx="48.2" cy="738.1" rx="2.1" ry="1.8" fill="#0b0620" transform="rotate(114 48.2 738.1)"/><ellipse cx="100.2" cy="769.4" rx="2.4" ry="2.0" fill="#0b0620" transform="rotate(36 100.2 769.4)"/><ellipse cx="134.3" cy="743.2" rx="2.0" ry="1.7" fill="#0b0620" transform="rotate(105 134.3 743.2)"/><ellipse cx="113.1" cy="727.7" rx="1.7" ry="1.5" fill="#0b0620" transform="rotate(64 113.1 727.7)"/><ellipse cx="47.2" cy="765.9" rx="1.6" ry="1.2" fill="#0b0620" transform="rotate(84 47.2 765.9)"/><ellipse cx="77.3" cy="755.2" rx="1.4" ry="1.1" fill="#0b0620" transform="rotate(100 77.3 755.2)"/><ellipse cx="84.5" cy="741.1" rx="2.4" ry="2.2" fill="#0b0620" transform="rotate(51 84.5 741.1)"/><ellipse cx="87.5" cy="796.3" rx="1.8" ry="1.5" fill="#0b0620" transform="rotate(51 87.5 796.3)"/><ellipse cx="102.6" cy="784.1" rx="2.4" ry="1.9" fill="#0b0620" transform="rotate(179 102.6 784.1)"/><ellipse cx="49.5" cy="732.4" rx="2.2" ry="1.8" fill="#0b0620" transform="rotate(170 49.5 732.4)"/><ellipse cx="71.1" cy="727.2" rx="2.1" ry="2.0" fill="#0b0620" transform="rotate(162 71.1 727.2)"/><ellipse cx="115.6" cy="748.6" rx="1.8" ry="1.7" fill="#0b0620" transform="rotate(119 115.6 748.6)"/><ellipse cx="128.7" cy="743.5" rx="2.1" ry="1.9" fill="#0b0620" transform="rotate(118 128.7 743.5)"/><ellipse cx="89.6" cy="738.5" rx="2.3" ry="2.1" fill="#0b0620" transform="rotate(170 89.6 738.5)"/><ellipse cx="119.3" cy="770.4" rx="1.8" ry="1.6" fill="#0b0620" transform="rotate(89 119.3 770.4)"/><ellipse cx="68.9" cy="775.9" rx="2.0" ry="1.8" fill="#0b0620" transform="rotate(24 68.9 775.9)"/><ellipse cx="53.4" cy="748.8" rx="1.5" ry="1.1" fill="#0b0620" transform="rotate(99 53.4 748.8)"/><ellipse cx="118.8" cy="763.4" rx="2.0" ry="1.8" fill="#0b0620" transform="rotate(82 118.8 763.4)"/><ellipse cx="67.0" cy="788.8" rx="1.7" ry="1.5" fill="#0b0620" transform="rotate(123 67.0 788.8)"/><ellipse cx="99.3" cy="743.3" rx="2.4" ry="2.0" fill="#0b0620" transform="rotate(72 99.3 743.3)"/><ellipse cx="29.5" cy="766.9" rx="1.9" ry="1.5" fill="#0b0620" transform="rotate(55 29.5 766.9)"/><ellipse cx="77.2" cy="741.1" rx="2.1" ry="2.0" fill="#0b0620" transform="rotate(47 77.2 741.1)"/><ellipse cx="131.8" cy="794.9" rx="2.5" ry="2.2" fill="#0b0620" transform="rotate(49 131.8 794.9)"/><ellipse cx="116.5" cy="768.3" rx="2.1" ry="1.6" fill="#0b0620" transform="rotate(102 116.5 768.3)"/><ellipse cx="34.2" cy="753.0" rx="1.8" ry="1.7" fill="#0b0620" transform="rotate(2 34.2 753.0)"/><ellipse cx="50.6" cy="796.0" rx="1.6" ry="1.3" fill="#0b0620" transform="rotate(124 50.6 796.0)"/><ellipse cx="42.4" cy="747.5" rx="2.2" ry="1.9" fill="#0b0620" transform="rotate(153 42.4 747.5)"/><ellipse cx="70.5" cy="784.3" rx="2.2" ry="2.1" fill="#0b0620" transform="rotate(164 70.5 784.3)"/><ellipse cx="98.6" cy="794.3" rx="1.9" ry="1.7" fill="#0b0620" transform="rotate(152 98.6 794.3)"/><ellipse cx="73.8" cy="728.0" rx="1.7" ry="1.5" fill="#0b0620" transform="rotate(125 73.8 728.0)"/><ellipse cx="82.0" cy="740.4" rx="1.7" ry="1.6" fill="#0b0620" transform="rotate(166 82.0 740.4)"/><ellipse cx="90.8" cy="753.3" rx="2.5" ry="2.1" fill="#0b0620" transform="rotate(93 90.8 753.3)"/><ellipse cx="114.4" cy="756.4" rx="1.5" ry="1.1" fill="#0b0620" transform="rotate(35 114.4 756.4)"/><ellipse cx="93.8" cy="748.3" rx="1.9" ry="1.8" fill="#0b0620" transform="rotate(82 93.8 748.3)"/><ellipse cx="85.7" cy="777.4" rx="2.2" ry="1.8" fill="#0b0620" transform="rotate(27 85.7 777.4)"/><ellipse cx="59.3" cy="732.8" rx="1.9" ry="1.7" fill="#0b0620" transform="rotate(1 59.3 732.8)"/><ellipse cx="37.5" cy="766.3" rx="1.6" ry="1.3" fill="#0b0620" transform="rotate(57 37.5 766.3)"/><ellipse cx="50.8" cy="722.2" rx="2.3" ry="2.1" fill="#0b0620" transform="rotate(69 50.8 722.2)"/><ellipse cx="97.1" cy="742.5" rx="1.4" ry="1.4" fill="#0b0620" transform="rotate(158 97.1 742.5)"/><ellipse cx="84.4" cy="728.6" rx="1.8" ry="1.7" fill="#0b0620" transform="rotate(81 84.4 728.6)"/><ellipse cx="105.7" cy="769.2" rx="2.5" ry="2.4" fill="#0b0620" transform="rotate(127 105.7 769.2)"/><ellipse cx="117.7" cy="732.4" rx="2.2" ry="2.1" fill="#0b0620" transform="rotate(60 117.7 732.4)"/><ellipse cx="37.5" cy="777.8" rx="2.3" ry="2.1" fill="#0b0620" transform="rotate(81 37.5 777.8)"/><ellipse cx="37.5" cy="747.6" rx="1.6" ry="1.2" fill="#0b0620" transform="rotate(15 37.5 747.6)"/><ellipse cx="57.5" cy="796.8" rx="1.9" ry="1.8" fill="#0b0620" transform="rotate(141 57.5 796.8)"/><ellipse cx="36.0" cy="726.6" rx="1.7" ry="1.7" fill="#0b0620" transform="rotate(90 36.0 726.6)"/><ellipse cx="39.7" cy="741.4" rx="2.2" ry="2.1" fill="#0b0620" transform="rotate(85 39.7 741.4)"/><ellipse cx="40.5" cy="770.0" rx="2.3" ry="2.0" fill="#0b0620" transform="rotate(89 40.5 770.0)"/><ellipse cx="102.9" cy="747.7" rx="2.1" ry="1.7" fill="#0b0620" transform="rotate(131 102.9 747.7)"/><ellipse cx="39.3" cy="786.0" rx="1.4" ry="1.3" fill="#0b0620" transform="rotate(173 39.3 786.0)"/><ellipse cx="42.1" cy="792.5" rx="1.5" ry="1.1" fill="#0b0620" transform="rotate(123 42.1 792.5)"/><ellipse cx="82.2" cy="754.6" rx="2.0" ry="1.8" fill="#0b0620" transform="rotate(33 82.2 754.6)"/><ellipse cx="75.9" cy="763.3" rx="1.9" ry="1.7" fill="#0b0620" transform="rotate(69 75.9 763.3)"/><ellipse cx="128.5" cy="755.9" rx="2.2" ry="2.1" fill="#0b0620" transform="rotate(155 128.5 755.9)"/><ellipse cx="104.4" cy="750.6" rx="2.0" ry="2.0" fill="#0b0620" transform="rotate(169 104.4 750.6)"/><ellipse cx="132.4" cy="789.4" rx="1.8" ry="1.5" fill="#0b0620" transform="rotate(79 132.4 789.4)"/><ellipse cx="118.5" cy="718.2" rx="2.1" ry="1.7" fill="#0b0620" transform="rotate(147 118.5 718.2)"/><ellipse cx="86.6" cy="742.4" rx="1.5" ry="1.3" fill="#0b0620" transform="rotate(84 86.6 742.4)"/><ellipse cx="109.6" cy="781.0" rx="1.4" ry="1.2" fill="#0b0620" transform="rotate(89 109.6 781.0)"/><ellipse cx="126.8" cy="771.5" rx="1.7" ry="1.7" fill="#0b0620" transform="rotate(119 126.8 771.5)"/><ellipse cx="55.6" cy="735.6" rx="1.3" ry="1.2" fill="#0b0620" transform="rotate(172 55.6 735.6)"/><ellipse cx="54.4" cy="739.2" rx="1.6" ry="1.2" fill="#0b0620" transform="rotate(170 54.4 739.2)"/><ellipse cx="129.3" cy="752.0" rx="2.3" ry="2.2" fill="#0b0620" transform="rotate(117 129.3 752.0)"/><ellipse cx="41.1" cy="722.6" rx="2.3" ry="2.1" fill="#0b0620" transform="rotate(65 41.1 722.6)"/><ellipse cx="105.8" cy="792.2" rx="1.9" ry="1.7" fill="#0b0620" transform="rotate(178 105.8 792.2)"/><ellipse cx="130.8" cy="731.2" rx="1.7" ry="1.5" fill="#0b0620" transform="rotate(103 130.8 731.2)"/><ellipse cx="112.6" cy="743.9" rx="2.1" ry="1.7" fill="#0b0620" transform="rotate(78 112.6 743.9)"/><ellipse cx="111.8" cy="757.8" rx="1.4" ry="1.2" fill="#0b0620" transform="rotate(113 111.8 757.8)"/><ellipse cx="46.9" cy="758.2" rx="1.7" ry="1.3" fill="#0b0620" transform="rotate(63 46.9 758.2)"/><ellipse cx="35.5" cy="755.0" rx="2.0" ry="1.9" fill="#0b0620" transform="rotate(137 35.5 755.0)"/><ellipse cx="83.3" cy="744.0" rx="2.1" ry="2.1" fill="#0b0620" transform="rotate(44 83.3 744.0)"/><ellipse cx="92.9" cy="763.8" rx="2.0" ry="1.6" fill="#0b0620" transform="rotate(100 92.9 763.8)"/><ellipse cx="106.9" cy="732.0" rx="1.3" ry="1.0" fill="#0b0620" transform="rotate(51 106.9 732.0)"/><ellipse cx="37.0" cy="771.1" rx="1.9" ry="1.7" fill="#0b0620" transform="rotate(132 37.0 771.1)"/>
</g></g>
<g filter="url(#blur1)"><circle cx="102.8" cy="778.5" r="9" fill="#efe4e6"/><circle cx="102.8" cy="778.5" r="7.8" fill="#cfa8c6" opacity="0.6"/><ellipse cx="102.6" cy="778.8" rx="5.9" ry="5.3" fill="#180d32"/><circle cx="46.9" cy="741.5" r="5.8" fill="#8a68a6" opacity="0.6"/><circle cx="46.9" cy="741.5" r="3.8" fill="#150c2c"/><circle cx="99" cy="765" r="3.2" fill="#3a3a40" opacity="0.8"/></g>
<g transform="translate(39.7 736.1) rotate(42)"><path d="M-4.6 -1 L-1.4 -1 L-1.4 -2.6 L1.8 0 L-1.4 2.6 L-1.4 1 L-4.6 1 Z" fill="#f02040"/></g>
<g transform="translate(99.5 721.2) rotate(40)"><path d="M-4.6 -1 L-1.4 -1 L-1.4 -2.6 L1.8 0 L-1.4 2.6 L-1.4 1 L-4.6 1 Z" fill="#f02040"/></g>
<g transform="translate(92.7 774.4) rotate(41)"><path d="M-4.6 -1 L-1.4 -1 L-1.4 -2.6 L1.8 0 L-1.4 2.6 L-1.4 1 L-4.6 1 Z" fill="#f02040"/></g>
<defs><clipPath id="mc2"><rect x="28" y="799" width="106.0" height="79.5"/></clipPath><linearGradient id="mg2" x1="0" y1="0" x2="1" y2="0.3"><stop offset="0" stop-color="#d2ded8"/><stop offset="1" stop-color="#e2e8ec"/></linearGradient></defs>
<g clip-path="url(#mc2)">
<rect x="28" y="799" width="106.0" height="79.5" fill="url(#mg2)"/>
<g filter="url(#blur2)">
<ellipse cx="33.0" cy="839.0" rx="9" ry="34" fill="#c6d6ce"/>
<ellipse cx="83.0" cy="834.0" rx="28" ry="22" fill="#ececdc"/>
<ellipse cx="88.0" cy="807.0" rx="22" ry="7" fill="#e8ecea"/>
<ellipse cx="128.0" cy="811.0" rx="10" ry="8" fill="#e2e8ee"/>
</g><g filter="url(#blur1)">
<circle cx="42.2" cy="799.9" r="3.8" fill="#6a58a8" opacity="0.70"/><circle cx="106.4" cy="842.7" r="3.8" fill="#6a58a8" opacity="0.70"/><circle cx="129.2" cy="842.3" r="3.8" fill="#6a58a8" opacity="0.70"/><circle cx="100.8" cy="873.4" r="3.8" fill="#6a58a8" opacity="0.70"/><circle cx="101.6" cy="857.0" r="3.4" fill="#6a58a8" opacity="0.70"/><ellipse cx="89.9" cy="874.4" rx="6.0" ry="1.0" fill="#6a58a8" opacity="0.8" transform="rotate(167 89.9 874.4)"/><circle cx="90.2" cy="874.4" r="4.0" fill="#6a58a8" opacity="0.70"/><circle cx="87.9" cy="855.3" r="3.5" fill="#6a58a8" opacity="0.70"/><circle cx="118.5" cy="855.1" r="4.2" fill="#6a58a8" opacity="0.70"/><circle cx="42.4" cy="865.4" r="4.0" fill="#6a58a8" opacity="0.70"/><circle cx="97.4" cy="877.0" r="3.7" fill="#6a58a8" opacity="0.70"/><circle cx="115.7" cy="843.5" r="3.5" fill="#6a58a8" opacity="0.70"/><circle cx="60.3" cy="828.3" r="3.9" fill="#6a58a8" opacity="0.70"/><circle cx="64.0" cy="813.2" r="4.1" fill="#6a58a8" opacity="0.70"/><circle cx="72.9" cy="805.6" r="3.6" fill="#6a58a8" opacity="0.70"/><circle cx="104.3" cy="863.2" r="3.9" fill="#6a58a8" opacity="0.70"/><ellipse cx="69.4" cy="820.5" rx="5.5" ry="0.8" fill="#6a58a8" opacity="0.8" transform="rotate(170 69.4 820.5)"/><circle cx="69.5" cy="820.7" r="4.3" fill="#6a58a8" opacity="0.70"/><circle cx="75.1" cy="803.4" r="2.8" fill="#6a58a8" opacity="0.70"/><circle cx="106.8" cy="851.7" r="2.8" fill="#6a58a8" opacity="0.70"/><circle cx="80.6" cy="840.7" r="3.5" fill="#6a58a8" opacity="0.70"/><circle cx="107.6" cy="836.7" r="4.0" fill="#6a58a8" opacity="0.70"/><circle cx="65.1" cy="862.2" r="3.8" fill="#6a58a8" opacity="0.70"/><circle cx="128.5" cy="799.1" r="3.6" fill="#6a58a8" opacity="0.70"/><circle cx="55.9" cy="801.7" r="3.8" fill="#6a58a8" opacity="0.70"/><circle cx="39.9" cy="816.0" r="3.0" fill="#6a58a8" opacity="0.70"/><circle cx="46.2" cy="820.4" r="3.3" fill="#6a58a8" opacity="0.70"/><circle cx="49.6" cy="825.9" r="4.1" fill="#6a58a8" opacity="0.70"/><circle cx="117.0" cy="801.3" r="3.4" fill="#6a58a8" opacity="0.70"/><circle cx="30.5" cy="814.8" r="3.5" fill="#6a58a8" opacity="0.70"/><circle cx="108.0" cy="856.6" r="3.4" fill="#6a58a8" opacity="0.70"/><circle cx="123.5" cy="874.0" r="3.7" fill="#6a58a8" opacity="0.70"/><circle cx="46.2" cy="876.5" r="3.2" fill="#6a58a8" opacity="0.70"/><circle cx="106.2" cy="859.0" r="3.2" fill="#6a58a8" opacity="0.70"/><circle cx="111.7" cy="876.9" r="3.8" fill="#6a58a8" opacity="0.70"/><circle cx="74.7" cy="832.7" r="3.4" fill="#6a58a8" opacity="0.70"/><circle cx="80.7" cy="817.6" r="3.7" fill="#6a58a8" opacity="0.70"/><circle cx="82.1" cy="854.5" r="3.8" fill="#6a58a8" opacity="0.70"/><circle cx="47.4" cy="831.4" r="4.0" fill="#6a58a8" opacity="0.70"/><circle cx="68.7" cy="851.6" r="3.4" fill="#6a58a8" opacity="0.70"/><circle cx="115.0" cy="857.0" r="3.0" fill="#6a58a8" opacity="0.70"/><circle cx="118.7" cy="813.9" r="3.2" fill="#6a58a8" opacity="0.70"/><circle cx="27.3" cy="824.1" r="4.1" fill="#6a58a8" opacity="0.70"/><circle cx="67.6" cy="803.5" r="3.9" fill="#6a58a8" opacity="0.70"/><circle cx="85.3" cy="812.7" r="4.2" fill="#6a58a8" opacity="0.70"/><ellipse cx="97.4" cy="824.2" rx="4.7" ry="1.1" fill="#6a58a8" opacity="0.8" transform="rotate(149 97.4 824.2)"/><circle cx="97.1" cy="823.9" r="3.1" fill="#6a58a8" opacity="0.70"/><circle cx="114.0" cy="866.5" r="4.1" fill="#6a58a8" opacity="0.70"/><circle cx="38.8" cy="872.0" r="3.6" fill="#6a58a8" opacity="0.70"/><circle cx="50.2" cy="808.5" r="2.9" fill="#6a58a8" opacity="0.70"/><circle cx="101.8" cy="863.2" r="3.4" fill="#6a58a8" opacity="0.70"/><circle cx="58.8" cy="819.1" r="3.3" fill="#6a58a8" opacity="0.70"/><circle cx="124.4" cy="847.9" r="3.6" fill="#6a58a8" opacity="0.70"/><circle cx="74.0" cy="842.3" r="3.4" fill="#6a58a8" opacity="0.70"/><circle cx="119.2" cy="833.8" r="3.3" fill="#6a58a8" opacity="0.70"/><circle cx="128.2" cy="807.4" r="3.6" fill="#6a58a8" opacity="0.70"/><ellipse cx="35.6" cy="843.9" rx="7.6" ry="1.0" fill="#6a58a8" opacity="0.8" transform="rotate(148 35.6 843.9)"/><circle cx="35.7" cy="843.9" r="3.9" fill="#6a58a8" opacity="0.70"/><circle cx="128.1" cy="863.6" r="3.3" fill="#6a58a8" opacity="0.70"/><circle cx="75.8" cy="856.3" r="3.9" fill="#6a58a8" opacity="0.70"/><circle cx="75.8" cy="863.4" r="3.1" fill="#6a58a8" opacity="0.70"/><circle cx="49.5" cy="818.0" r="3.7" fill="#6a58a8" opacity="0.70"/><circle cx="114.2" cy="840.1" r="3.1" fill="#6a58a8" opacity="0.70"/><circle cx="89.8" cy="816.3" r="3.5" fill="#6a58a8" opacity="0.70"/><circle cx="79.3" cy="824.5" r="3.6" fill="#6a58a8" opacity="0.70"/><ellipse cx="38.7" cy="863.8" rx="5.2" ry="1.0" fill="#6a58a8" opacity="0.8" transform="rotate(144 38.7 863.8)"/><circle cx="38.8" cy="863.4" r="3.7" fill="#6a58a8" opacity="0.70"/><circle cx="69.7" cy="806.2" r="3.8" fill="#6a58a8" opacity="0.70"/><ellipse cx="28.4" cy="811.5" rx="8.9" ry="1.0" fill="#6a58a8" opacity="0.8" transform="rotate(1 28.4 811.5)"/><circle cx="28.5" cy="811.4" r="4.1" fill="#6a58a8" opacity="0.70"/><circle cx="98.9" cy="853.6" r="3.4" fill="#6a58a8" opacity="0.70"/><circle cx="66.2" cy="831.1" r="3.6" fill="#6a58a8" opacity="0.70"/><circle cx="93.1" cy="827.8" r="2.8" fill="#6a58a8" opacity="0.70"/><circle cx="130.8" cy="831.3" r="3.9" fill="#6a58a8" opacity="0.70"/><circle cx="109.9" cy="805.9" r="3.6" fill="#6a58a8" opacity="0.70"/><circle cx="55.8" cy="844.5" r="3.7" fill="#6a58a8" opacity="0.70"/><circle cx="88.4" cy="806.7" r="3.3" fill="#6a58a8" opacity="0.70"/><circle cx="101.5" cy="842.2" r="3.2" fill="#6a58a8" opacity="0.70"/><ellipse cx="126.3" cy="834.8" rx="5.0" ry="1.0" fill="#6a58a8" opacity="0.8" transform="rotate(164 126.3 834.8)"/><circle cx="125.9" cy="834.8" r="3.3" fill="#6a58a8" opacity="0.70"/><circle cx="74.1" cy="812.5" r="3.1" fill="#6a58a8" opacity="0.70"/><ellipse cx="31.5" cy="864.6" rx="8.0" ry="1.1" fill="#6a58a8" opacity="0.8" transform="rotate(123 31.5 864.6)"/><circle cx="31.7" cy="864.4" r="3.4" fill="#6a58a8" opacity="0.70"/><circle cx="114.3" cy="848.5" r="3.4" fill="#6a58a8" opacity="0.70"/><circle cx="123.2" cy="837.6" r="3.7" fill="#6a58a8" opacity="0.70"/><circle cx="47.6" cy="815.5" r="3.9" fill="#6a58a8" opacity="0.70"/><circle cx="130.2" cy="854.1" r="3.3" fill="#6a58a8" opacity="0.70"/><circle cx="110.8" cy="848.5" r="4.0" fill="#6a58a8" opacity="0.70"/><circle cx="125.4" cy="853.8" r="3.3" fill="#6a58a8" opacity="0.70"/><circle cx="93.2" cy="852.5" r="3.5" fill="#6a58a8" opacity="0.70"/><circle cx="51.2" cy="849.5" r="2.9" fill="#6a58a8" opacity="0.70"/><circle cx="125.9" cy="838.9" r="3.2" fill="#6a58a8" opacity="0.70"/><circle cx="107.7" cy="831.7" r="4.0" fill="#6a58a8" opacity="0.70"/><circle cx="109.9" cy="811.9" r="3.3" fill="#6a58a8" opacity="0.70"/><circle cx="118.3" cy="864.5" r="3.3" fill="#6a58a8" opacity="0.70"/><circle cx="38.0" cy="832.0" r="4.2" fill="#6a58a8" opacity="0.70"/><circle cx="118.6" cy="868.0" r="3.3" fill="#6a58a8" opacity="0.70"/><circle cx="120.4" cy="826.8" r="3.4" fill="#6a58a8" opacity="0.70"/><circle cx="66.7" cy="864.8" r="3.3" fill="#6a58a8" opacity="0.70"/><ellipse cx="52.4" cy="833.1" rx="6.1" ry="1.1" fill="#6a58a8" opacity="0.8" transform="rotate(115 52.4 833.1)"/><circle cx="52.7" cy="833.4" r="3.3" fill="#6a58a8" opacity="0.70"/><circle cx="36.3" cy="826.9" r="3.8" fill="#6a58a8" opacity="0.70"/><circle cx="91.4" cy="830.4" r="3.5" fill="#6a58a8" opacity="0.70"/><ellipse cx="67.3" cy="871.7" rx="6.9" ry="0.9" fill="#6a58a8" opacity="0.8" transform="rotate(106 67.3 871.7)"/><circle cx="67.4" cy="871.6" r="3.8" fill="#6a58a8" opacity="0.70"/><circle cx="103.4" cy="844.3" r="3.1" fill="#6a58a8" opacity="0.70"/><circle cx="79.3" cy="875.5" r="4.1" fill="#6a58a8" opacity="0.70"/><circle cx="99.8" cy="866.7" r="2.7" fill="#6a58a8" opacity="0.70"/><circle cx="29.6" cy="859.3" r="3.3" fill="#6a58a8" opacity="0.70"/><circle cx="82.5" cy="845.8" r="2.8" fill="#6a58a8" opacity="0.70"/><ellipse cx="31.1" cy="829.9" rx="8.1" ry="0.7" fill="#6a58a8" opacity="0.8" transform="rotate(106 31.1 829.9)"/><circle cx="31.0" cy="830.0" r="3.2" fill="#6a58a8" opacity="0.70"/><circle cx="107.0" cy="866.6" r="3.5" fill="#6a58a8" opacity="0.70"/><circle cx="86.9" cy="826.9" r="2.9" fill="#6a58a8" opacity="0.70"/><circle cx="90.5" cy="870.4" r="3.9" fill="#6a58a8" opacity="0.70"/><ellipse cx="97.7" cy="862.0" rx="6.6" ry="0.9" fill="#6a58a8" opacity="0.8" transform="rotate(77 97.7 862.0)"/><circle cx="98.0" cy="862.1" r="3.1" fill="#6a58a8" opacity="0.70"/><ellipse cx="118.0" cy="876.5" rx="5.0" ry="0.8" fill="#6a58a8" opacity="0.8" transform="rotate(6 118.0 876.5)"/><circle cx="118.3" cy="876.1" r="3.1" fill="#6a58a8" opacity="0.70"/><circle cx="127.5" cy="858.8" r="3.7" fill="#6a58a8" opacity="0.70"/><circle cx="56.5" cy="814.1" r="3.5" fill="#6a58a8" opacity="0.70"/><circle cx="95.1" cy="809.2" r="3.3" fill="#6a58a8" opacity="0.70"/><circle cx="109.7" cy="871.1" r="4.0" fill="#6a58a8" opacity="0.70"/><circle cx="101.8" cy="833.8" r="3.2" fill="#6a58a8" opacity="0.70"/><circle cx="62.6" cy="833.8" r="3.2" fill="#6a58a8" opacity="0.70"/><circle cx="94.1" cy="866.3" r="4.0" fill="#6a58a8" opacity="0.70"/><circle cx="75.6" cy="821.4" r="3.6" fill="#6a58a8" opacity="0.70"/><circle cx="31.7" cy="849.6" r="4.0" fill="#6a58a8" opacity="0.70"/><circle cx="68.4" cy="799.9" r="3.4" fill="#6a58a8" opacity="0.70"/><circle cx="104.1" cy="810.9" r="3.9" fill="#6a58a8" opacity="0.70"/><circle cx="54.5" cy="860.7" r="3.4" fill="#6a58a8" opacity="0.70"/><circle cx="134.2" cy="808.2" r="3.8" fill="#6a58a8" opacity="0.70"/><circle cx="57.1" cy="806.5" r="4.2" fill="#6a58a8" opacity="0.70"/><circle cx="83.8" cy="838.6" r="3.0" fill="#6a58a8" opacity="0.70"/><circle cx="55.3" cy="828.2" r="3.4" fill="#6a58a8" opacity="0.70"/><circle cx="39.8" cy="849.4" r="3.6" fill="#6a58a8" opacity="0.70"/><ellipse cx="77.5" cy="866.7" rx="7.2" ry="0.9" fill="#6a58a8" opacity="0.8" transform="rotate(122 77.5 866.7)"/><circle cx="77.3" cy="866.5" r="3.5" fill="#6a58a8" opacity="0.70"/><circle cx="52.7" cy="873.3" r="3.5" fill="#6a58a8" opacity="0.70"/><circle cx="131.7" cy="835.9" r="4.2" fill="#6a58a8" opacity="0.70"/><circle cx="28.2" cy="853.1" r="3.3" fill="#6a58a8" opacity="0.70"/><ellipse cx="106.3" cy="876.9" rx="8.0" ry="0.8" fill="#6a58a8" opacity="0.8" transform="rotate(180 106.3 876.9)"/><circle cx="106.6" cy="877.2" r="3.5" fill="#6a58a8" opacity="0.70"/><circle cx="94.3" cy="819.5" r="3.5" fill="#6a58a8" opacity="0.70"/><circle cx="134.0" cy="845.1" r="3.8" fill="#6a58a8" opacity="0.70"/><circle cx="116.0" cy="836.2" r="3.6" fill="#6a58a8" opacity="0.70"/><circle cx="123.9" cy="803.3" r="3.7" fill="#6a58a8" opacity="0.70"/><circle cx="31.7" cy="819.8" r="3.1" fill="#6a58a8" opacity="0.70"/><circle cx="119.8" cy="873.1" r="3.1" fill="#6a58a8" opacity="0.70"/><circle cx="130.9" cy="860.6" r="3.6" fill="#6a58a8" opacity="0.70"/><circle cx="112.9" cy="874.5" r="2.9" fill="#6a58a8" opacity="0.70"/><circle cx="91.9" cy="825.0" r="3.7" fill="#6a58a8" opacity="0.70"/><circle cx="30.9" cy="800.0" r="3.4" fill="#6a58a8" opacity="0.70"/><circle cx="45.0" cy="855.0" r="3.2" fill="#6a58a8" opacity="0.70"/><ellipse cx="59.2" cy="836.8" rx="7.2" ry="1.1" fill="#6a58a8" opacity="0.8" transform="rotate(60 59.2 836.8)"/><circle cx="59.4" cy="836.5" r="3.3" fill="#6a58a8" opacity="0.70"/><circle cx="64.1" cy="817.4" r="4.0" fill="#6a58a8" opacity="0.70"/><circle cx="60.6" cy="865.5" r="4.0" fill="#6a58a8" opacity="0.70"/><circle cx="74.0" cy="825.2" r="3.5" fill="#6a58a8" opacity="0.70"/><circle cx="50.3" cy="829.2" r="3.4" fill="#6a58a8" opacity="0.70"/><circle cx="110.1" cy="799.3" r="3.7" fill="#6a58a8" opacity="0.70"/><circle cx="77.4" cy="846.4" r="3.9" fill="#6a58a8" opacity="0.70"/><circle cx="51.5" cy="855.8" r="2.9" fill="#6a58a8" opacity="0.70"/><circle cx="76.6" cy="800.5" r="3.5" fill="#6a58a8" opacity="0.70"/><circle cx="52.2" cy="864.0" r="3.9" fill="#6a58a8" opacity="0.70"/><circle cx="71.1" cy="860.3" r="3.7" fill="#6a58a8" opacity="0.70"/><circle cx="120.4" cy="840.6" r="3.7" fill="#6a58a8" opacity="0.70"/><circle cx="95.2" cy="871.8" r="4.0" fill="#6a58a8" opacity="0.70"/><circle cx="40.4" cy="854.1" r="3.7" fill="#6a58a8" opacity="0.70"/><ellipse cx="45.4" cy="824.9" rx="8.4" ry="0.8" fill="#6a58a8" opacity="0.8" transform="rotate(86 45.4 824.9)"/><circle cx="45.4" cy="825.1" r="3.5" fill="#6a58a8" opacity="0.70"/><circle cx="58.8" cy="850.0" r="3.2" fill="#6a58a8" opacity="0.70"/><circle cx="64.4" cy="821.1" r="3.3" fill="#6a58a8" opacity="0.70"/><circle cx="98.7" cy="818.8" r="3.7" fill="#6a58a8" opacity="0.70"/><circle cx="74.7" cy="809.2" r="3.4" fill="#6a58a8" opacity="0.70"/><circle cx="125.2" cy="807.5" r="3.2" fill="#6a58a8" opacity="0.70"/><circle cx="125.8" cy="842.9" r="2.9" fill="#6a58a8" opacity="0.70"/>
<ellipse cx="42.2" cy="799.9" rx="3.0" ry="2.7" fill="#120c34" transform="rotate(154 42.2 799.9)"/><ellipse cx="106.8" cy="842.6" rx="2.8" ry="2.1" fill="#120c34" transform="rotate(133 106.8 842.6)"/><ellipse cx="128.9" cy="842.5" rx="2.6" ry="2.2" fill="#120c34" transform="rotate(50 128.9 842.5)"/><ellipse cx="101.0" cy="873.3" rx="2.7" ry="2.3" fill="#120c34" transform="rotate(15 101.0 873.3)"/><ellipse cx="101.4" cy="856.9" rx="2.1" ry="1.9" fill="#120c34" transform="rotate(90 101.4 856.9)"/><ellipse cx="89.9" cy="874.4" rx="2.8" ry="2.6" fill="#120c34" transform="rotate(22 89.9 874.4)"/><ellipse cx="88.2" cy="854.9" rx="2.6" ry="2.4" fill="#120c34" transform="rotate(20 88.2 854.9)"/><ellipse cx="118.3" cy="855.3" rx="3.0" ry="2.2" fill="#120c34" transform="rotate(66 118.3 855.3)"/><ellipse cx="42.4" cy="865.3" rx="2.6" ry="2.4" fill="#120c34" transform="rotate(141 42.4 865.3)"/><ellipse cx="97.4" cy="877.2" rx="2.4" ry="1.8" fill="#120c34" transform="rotate(163 97.4 877.2)"/><ellipse cx="115.9" cy="843.2" rx="2.6" ry="2.6" fill="#120c34" transform="rotate(52 115.9 843.2)"/><ellipse cx="60.2" cy="828.5" rx="2.5" ry="2.5" fill="#120c34" transform="rotate(69 60.2 828.5)"/><ellipse cx="63.9" cy="813.3" rx="2.7" ry="2.2" fill="#120c34" transform="rotate(27 63.9 813.3)"/><ellipse cx="73.2" cy="805.4" rx="2.4" ry="1.9" fill="#120c34" transform="rotate(45 73.2 805.4)"/><ellipse cx="104.7" cy="863.4" rx="2.9" ry="2.6" fill="#120c34" transform="rotate(68 104.7 863.4)"/><ellipse cx="69.4" cy="820.5" rx="2.9" ry="2.6" fill="#120c34" transform="rotate(137 69.4 820.5)"/><ellipse cx="74.9" cy="803.1" rx="2.0" ry="1.6" fill="#120c34" transform="rotate(96 74.9 803.1)"/><ellipse cx="106.8" cy="851.4" rx="2.0" ry="1.8" fill="#120c34" transform="rotate(85 106.8 851.4)"/><ellipse cx="80.8" cy="840.7" rx="2.5" ry="2.3" fill="#120c34" transform="rotate(38 80.8 840.7)"/><ellipse cx="107.3" cy="836.6" rx="2.7" ry="2.1" fill="#120c34" transform="rotate(173 107.3 836.6)"/><ellipse cx="65.2" cy="861.9" rx="2.8" ry="2.1" fill="#120c34" transform="rotate(82 65.2 861.9)"/><ellipse cx="128.8" cy="799.5" rx="2.5" ry="2.2" fill="#120c34" transform="rotate(62 128.8 799.5)"/><ellipse cx="56.1" cy="801.4" rx="3.0" ry="2.9" fill="#120c34" transform="rotate(168 56.1 801.4)"/><ellipse cx="39.8" cy="815.6" rx="2.2" ry="1.6" fill="#120c34" transform="rotate(61 39.8 815.6)"/><ellipse cx="46.5" cy="820.5" rx="2.0" ry="1.8" fill="#120c34" transform="rotate(162 46.5 820.5)"/><ellipse cx="49.4" cy="826.0" rx="2.7" ry="2.1" fill="#120c34" transform="rotate(160 49.4 826.0)"/><ellipse cx="117.1" cy="801.1" rx="2.3" ry="2.2" fill="#120c34" transform="rotate(16 117.1 801.1)"/><ellipse cx="30.6" cy="814.6" rx="2.4" ry="2.0" fill="#120c34" transform="rotate(28 30.6 814.6)"/><ellipse cx="108.0" cy="856.5" rx="2.4" ry="2.1" fill="#120c34" transform="rotate(11 108.0 856.5)"/><ellipse cx="123.5" cy="874.2" rx="2.9" ry="2.5" fill="#120c34" transform="rotate(16 123.5 874.2)"/><ellipse cx="46.3" cy="876.4" rx="2.3" ry="1.7" fill="#120c34" transform="rotate(76 46.3 876.4)"/><ellipse cx="105.9" cy="859.4" rx="2.4" ry="2.4" fill="#120c34" transform="rotate(8 105.9 859.4)"/><ellipse cx="111.6" cy="877.1" rx="2.4" ry="2.0" fill="#120c34" transform="rotate(52 111.6 877.1)"/><ellipse cx="74.8" cy="833.0" rx="2.3" ry="2.2" fill="#120c34" transform="rotate(62 74.8 833.0)"/><ellipse cx="80.8" cy="817.4" rx="2.6" ry="2.4" fill="#120c34" transform="rotate(68 80.8 817.4)"/><ellipse cx="82.1" cy="854.8" rx="2.8" ry="2.5" fill="#120c34" transform="rotate(136 82.1 854.8)"/><ellipse cx="47.6" cy="831.1" rx="2.9" ry="2.8" fill="#120c34" transform="rotate(159 47.6 831.1)"/><ellipse cx="68.8" cy="851.4" rx="2.1" ry="1.7" fill="#120c34" transform="rotate(52 68.8 851.4)"/><ellipse cx="115.2" cy="857.1" rx="2.0" ry="1.8" fill="#120c34" transform="rotate(12 115.2 857.1)"/><ellipse cx="118.8" cy="814.0" rx="2.3" ry="2.2" fill="#120c34" transform="rotate(11 118.8 814.0)"/><ellipse cx="27.1" cy="824.2" rx="2.7" ry="2.7" fill="#120c34" transform="rotate(46 27.1 824.2)"/><ellipse cx="67.4" cy="803.6" rx="2.8" ry="2.4" fill="#120c34" transform="rotate(123 67.4 803.6)"/><ellipse cx="85.0" cy="812.4" rx="2.9" ry="2.7" fill="#120c34" transform="rotate(136 85.0 812.4)"/><ellipse cx="97.4" cy="824.2" rx="2.2" ry="1.7" fill="#120c34" transform="rotate(34 97.4 824.2)"/><ellipse cx="113.8" cy="866.3" rx="2.9" ry="2.4" fill="#120c34" transform="rotate(64 113.8 866.3)"/><ellipse cx="39.2" cy="871.9" rx="2.8" ry="2.4" fill="#120c34" transform="rotate(59 39.2 871.9)"/><ellipse cx="50.5" cy="808.4" rx="2.2" ry="1.9" fill="#120c34" transform="rotate(29 50.5 808.4)"/><ellipse cx="101.5" cy="863.4" rx="2.2" ry="2.0" fill="#120c34" transform="rotate(40 101.5 863.4)"/><ellipse cx="58.7" cy="818.7" rx="2.5" ry="2.1" fill="#120c34" transform="rotate(168 58.7 818.7)"/><ellipse cx="124.0" cy="847.6" rx="2.6" ry="2.4" fill="#120c34" transform="rotate(100 124.0 847.6)"/><ellipse cx="73.9" cy="841.9" rx="2.3" ry="1.8" fill="#120c34" transform="rotate(42 73.9 841.9)"/><ellipse cx="119.1" cy="833.9" rx="2.1" ry="1.6" fill="#120c34" transform="rotate(74 119.1 833.9)"/><ellipse cx="128.1" cy="807.4" rx="2.8" ry="2.7" fill="#120c34" transform="rotate(25 128.1 807.4)"/><ellipse cx="35.6" cy="843.9" rx="2.8" ry="2.7" fill="#120c34" transform="rotate(148 35.6 843.9)"/><ellipse cx="128.1" cy="863.6" rx="2.5" ry="1.9" fill="#120c34" transform="rotate(130 128.1 863.6)"/><ellipse cx="75.5" cy="856.4" rx="2.8" ry="2.1" fill="#120c34" transform="rotate(99 75.5 856.4)"/><ellipse cx="75.7" cy="863.1" rx="2.4" ry="2.1" fill="#120c34" transform="rotate(25 75.7 863.1)"/><ellipse cx="49.5" cy="817.9" rx="2.6" ry="2.1" fill="#120c34" transform="rotate(149 49.5 817.9)"/><ellipse cx="114.5" cy="839.8" rx="2.2" ry="1.9" fill="#120c34" transform="rotate(176 114.5 839.8)"/><ellipse cx="89.7" cy="816.6" rx="2.4" ry="2.2" fill="#120c34" transform="rotate(45 89.7 816.6)"/><ellipse cx="79.5" cy="824.7" rx="2.5" ry="2.1" fill="#120c34" transform="rotate(83 79.5 824.7)"/><ellipse cx="38.7" cy="863.8" rx="2.5" ry="2.4" fill="#120c34" transform="rotate(101 38.7 863.8)"/><ellipse cx="69.8" cy="806.3" rx="2.5" ry="2.3" fill="#120c34" transform="rotate(16 69.8 806.3)"/><ellipse cx="28.4" cy="811.5" rx="3.0" ry="2.6" fill="#120c34" transform="rotate(82 28.4 811.5)"/><ellipse cx="99.2" cy="853.9" rx="2.5" ry="2.3" fill="#120c34" transform="rotate(11 99.2 853.9)"/><ellipse cx="66.2" cy="830.9" rx="2.7" ry="2.4" fill="#120c34" transform="rotate(144 66.2 830.9)"/><ellipse cx="93.3" cy="827.6" rx="1.9" ry="1.6" fill="#120c34" transform="rotate(135 93.3 827.6)"/><ellipse cx="131.2" cy="831.6" rx="2.9" ry="2.7" fill="#120c34" transform="rotate(120 131.2 831.6)"/><ellipse cx="109.8" cy="805.7" rx="2.8" ry="2.6" fill="#120c34" transform="rotate(20 109.8 805.7)"/><ellipse cx="55.5" cy="844.4" rx="2.6" ry="2.1" fill="#120c34" transform="rotate(146 55.5 844.4)"/><ellipse cx="88.1" cy="806.8" rx="2.5" ry="2.0" fill="#120c34" transform="rotate(5 88.1 806.8)"/><ellipse cx="101.5" cy="841.9" rx="2.1" ry="1.9" fill="#120c34" transform="rotate(68 101.5 841.9)"/><ellipse cx="126.3" cy="834.8" rx="2.3" ry="1.8" fill="#120c34" transform="rotate(158 126.3 834.8)"/><ellipse cx="74.3" cy="812.3" rx="2.2" ry="2.2" fill="#120c34" transform="rotate(67 74.3 812.3)"/><ellipse cx="31.5" cy="864.6" rx="2.2" ry="2.1" fill="#120c34" transform="rotate(105 31.5 864.6)"/><ellipse cx="114.1" cy="848.8" rx="2.4" ry="2.0" fill="#120c34" transform="rotate(176 114.1 848.8)"/><ellipse cx="123.2" cy="837.4" rx="2.9" ry="2.4" fill="#120c34" transform="rotate(150 123.2 837.4)"/><ellipse cx="47.5" cy="815.3" rx="2.7" ry="2.5" fill="#120c34" transform="rotate(55 47.5 815.3)"/><ellipse cx="130.4" cy="854.5" rx="2.1" ry="1.9" fill="#120c34" transform="rotate(49 130.4 854.5)"/><ellipse cx="110.4" cy="848.8" rx="2.7" ry="2.1" fill="#120c34" transform="rotate(169 110.4 848.8)"/><ellipse cx="125.7" cy="853.6" rx="2.3" ry="1.8" fill="#120c34" transform="rotate(128 125.7 853.6)"/><ellipse cx="93.4" cy="852.5" rx="2.6" ry="2.5" fill="#120c34" transform="rotate(66 93.4 852.5)"/><ellipse cx="51.1" cy="849.7" rx="2.0" ry="1.9" fill="#120c34" transform="rotate(106 51.1 849.7)"/><ellipse cx="126.0" cy="839.0" rx="2.0" ry="1.7" fill="#120c34" transform="rotate(39 126.0 839.0)"/><ellipse cx="108.0" cy="831.6" rx="2.6" ry="2.3" fill="#120c34" transform="rotate(128 108.0 831.6)"/><ellipse cx="109.6" cy="812.2" rx="2.2" ry="2.1" fill="#120c34" transform="rotate(170 109.6 812.2)"/><ellipse cx="118.6" cy="864.8" rx="2.2" ry="2.0" fill="#120c34" transform="rotate(32 118.6 864.8)"/><ellipse cx="38.2" cy="832.3" rx="2.8" ry="2.4" fill="#120c34" transform="rotate(115 38.2 832.3)"/><ellipse cx="118.7" cy="868.2" rx="2.3" ry="2.2" fill="#120c34" transform="rotate(109 118.7 868.2)"/><ellipse cx="120.0" cy="826.5" rx="2.3" ry="1.9" fill="#120c34" transform="rotate(78 120.0 826.5)"/><ellipse cx="66.6" cy="865.2" rx="2.2" ry="2.1" fill="#120c34" transform="rotate(165 66.6 865.2)"/><ellipse cx="52.4" cy="833.1" rx="2.0" ry="1.9" fill="#120c34" transform="rotate(137 52.4 833.1)"/><ellipse cx="36.4" cy="826.8" rx="2.4" ry="2.4" fill="#120c34" transform="rotate(88 36.4 826.8)"/><ellipse cx="91.2" cy="830.3" rx="2.4" ry="2.3" fill="#120c34" transform="rotate(140 91.2 830.3)"/><ellipse cx="67.3" cy="871.7" rx="2.7" ry="2.5" fill="#120c34" transform="rotate(64 67.3 871.7)"/><ellipse cx="103.3" cy="844.5" rx="2.3" ry="2.2" fill="#120c34" transform="rotate(116 103.3 844.5)"/><ellipse cx="79.3" cy="875.2" rx="2.8" ry="2.2" fill="#120c34" transform="rotate(17 79.3 875.2)"/><ellipse cx="99.7" cy="866.7" rx="2.0" ry="1.9" fill="#120c34" transform="rotate(180 99.7 866.7)"/><ellipse cx="29.9" cy="859.6" rx="2.4" ry="2.1" fill="#120c34" transform="rotate(13 29.9 859.6)"/><ellipse cx="82.1" cy="845.6" rx="2.0" ry="1.8" fill="#120c34" transform="rotate(6 82.1 845.6)"/><ellipse cx="31.1" cy="829.9" rx="2.1" ry="1.7" fill="#120c34" transform="rotate(105 31.1 829.9)"/><ellipse cx="106.8" cy="866.6" rx="2.4" ry="2.1" fill="#120c34" transform="rotate(46 106.8 866.6)"/><ellipse cx="86.8" cy="826.9" rx="2.1" ry="1.9" fill="#120c34" transform="rotate(151 86.8 826.9)"/><ellipse cx="90.8" cy="870.6" rx="3.0" ry="2.4" fill="#120c34" transform="rotate(11 90.8 870.6)"/><ellipse cx="97.7" cy="862.0" rx="2.4" ry="2.0" fill="#120c34" transform="rotate(7 97.7 862.0)"/><ellipse cx="118.0" cy="876.5" rx="1.9" ry="1.9" fill="#120c34" transform="rotate(39 118.0 876.5)"/><ellipse cx="127.8" cy="858.4" rx="2.5" ry="2.3" fill="#120c34" transform="rotate(85 127.8 858.4)"/><ellipse cx="56.6" cy="814.1" rx="2.7" ry="2.4" fill="#120c34" transform="rotate(49 56.6 814.1)"/><ellipse cx="95.2" cy="809.0" rx="2.1" ry="1.6" fill="#120c34" transform="rotate(60 95.2 809.0)"/><ellipse cx="109.7" cy="871.3" rx="2.7" ry="2.4" fill="#120c34" transform="rotate(135 109.7 871.3)"/><ellipse cx="101.8" cy="833.4" rx="2.2" ry="2.0" fill="#120c34" transform="rotate(70 101.8 833.4)"/><ellipse cx="62.2" cy="833.4" rx="2.3" ry="2.2" fill="#120c34" transform="rotate(105 62.2 833.4)"/><ellipse cx="94.4" cy="865.9" rx="2.8" ry="2.4" fill="#120c34" transform="rotate(140 94.4 865.9)"/><ellipse cx="75.3" cy="821.6" rx="2.5" ry="2.3" fill="#120c34" transform="rotate(84 75.3 821.6)"/><ellipse cx="31.4" cy="849.6" rx="2.8" ry="2.4" fill="#120c34" transform="rotate(145 31.4 849.6)"/><ellipse cx="68.3" cy="799.5" rx="2.4" ry="1.9" fill="#120c34" transform="rotate(27 68.3 799.5)"/><ellipse cx="103.9" cy="811.0" rx="2.6" ry="2.2" fill="#120c34" transform="rotate(109 103.9 811.0)"/><ellipse cx="54.7" cy="860.6" rx="2.5" ry="2.0" fill="#120c34" transform="rotate(71 54.7 860.6)"/><ellipse cx="134.1" cy="808.2" rx="2.7" ry="2.7" fill="#120c34" transform="rotate(67 134.1 808.2)"/><ellipse cx="57.2" cy="806.1" rx="2.9" ry="2.7" fill="#120c34" transform="rotate(161 57.2 806.1)"/><ellipse cx="84.1" cy="838.6" rx="2.1" ry="1.7" fill="#120c34" transform="rotate(171 84.1 838.6)"/><ellipse cx="55.4" cy="828.4" rx="2.3" ry="2.2" fill="#120c34" transform="rotate(149 55.4 828.4)"/><ellipse cx="39.7" cy="849.2" rx="2.2" ry="2.1" fill="#120c34" transform="rotate(90 39.7 849.2)"/><ellipse cx="77.5" cy="866.7" rx="2.7" ry="2.6" fill="#120c34" transform="rotate(28 77.5 866.7)"/><ellipse cx="52.7" cy="873.1" rx="2.5" ry="2.1" fill="#120c34" transform="rotate(20 52.7 873.1)"/><ellipse cx="131.5" cy="836.0" rx="2.8" ry="2.4" fill="#120c34" transform="rotate(38 131.5 836.0)"/><ellipse cx="27.9" cy="853.3" rx="2.4" ry="2.3" fill="#120c34" transform="rotate(42 27.9 853.3)"/><ellipse cx="106.3" cy="876.9" rx="2.6" ry="2.6" fill="#120c34" transform="rotate(90 106.3 876.9)"/><ellipse cx="94.2" cy="819.6" rx="2.4" ry="2.1" fill="#120c34" transform="rotate(98 94.2 819.6)"/><ellipse cx="133.9" cy="844.9" rx="3.0" ry="2.4" fill="#120c34" transform="rotate(79 133.9 844.9)"/><ellipse cx="115.9" cy="836.1" rx="2.8" ry="2.3" fill="#120c34" transform="rotate(72 115.9 836.1)"/><ellipse cx="123.9" cy="803.4" rx="2.8" ry="2.7" fill="#120c34" transform="rotate(61 123.9 803.4)"/><ellipse cx="31.7" cy="819.9" rx="2.2" ry="2.1" fill="#120c34" transform="rotate(48 31.7 819.9)"/><ellipse cx="120.0" cy="873.0" rx="1.9" ry="1.4" fill="#120c34" transform="rotate(81 120.0 873.0)"/><ellipse cx="131.1" cy="860.3" rx="2.3" ry="2.1" fill="#120c34" transform="rotate(25 131.1 860.3)"/><ellipse cx="113.0" cy="874.6" rx="2.2" ry="1.9" fill="#120c34" transform="rotate(95 113.0 874.6)"/><ellipse cx="91.6" cy="824.8" rx="2.6" ry="2.3" fill="#120c34" transform="rotate(119 91.6 824.8)"/><ellipse cx="31.0" cy="799.8" rx="2.3" ry="1.9" fill="#120c34" transform="rotate(145 31.0 799.8)"/><ellipse cx="45.2" cy="855.0" rx="2.0" ry="1.5" fill="#120c34" transform="rotate(102 45.2 855.0)"/><ellipse cx="59.2" cy="836.8" rx="2.2" ry="1.8" fill="#120c34" transform="rotate(127 59.2 836.8)"/><ellipse cx="63.7" cy="817.5" rx="2.8" ry="2.3" fill="#120c34" transform="rotate(89 63.7 817.5)"/><ellipse cx="60.8" cy="865.6" rx="3.0" ry="2.8" fill="#120c34" transform="rotate(61 60.8 865.6)"/><ellipse cx="73.7" cy="825.3" rx="2.4" ry="2.4" fill="#120c34" transform="rotate(21 73.7 825.3)"/><ellipse cx="50.5" cy="829.5" rx="2.4" ry="2.1" fill="#120c34" transform="rotate(177 50.5 829.5)"/><ellipse cx="110.3" cy="799.3" rx="2.8" ry="2.7" fill="#120c34" transform="rotate(4 110.3 799.3)"/><ellipse cx="77.0" cy="846.5" rx="2.8" ry="2.4" fill="#120c34" transform="rotate(179 77.0 846.5)"/><ellipse cx="51.3" cy="855.7" rx="2.0" ry="1.6" fill="#120c34" transform="rotate(179 51.3 855.7)"/><ellipse cx="76.3" cy="800.5" rx="2.5" ry="2.0" fill="#120c34" transform="rotate(123 76.3 800.5)"/><ellipse cx="52.1" cy="864.3" rx="2.5" ry="2.1" fill="#120c34" transform="rotate(154 52.1 864.3)"/><ellipse cx="71.4" cy="860.3" rx="2.4" ry="1.8" fill="#120c34" transform="rotate(158 71.4 860.3)"/><ellipse cx="120.5" cy="840.9" rx="2.5" ry="2.0" fill="#120c34" transform="rotate(133 120.5 840.9)"/><ellipse cx="95.2" cy="871.9" rx="2.8" ry="2.3" fill="#120c34" transform="rotate(88 95.2 871.9)"/><ellipse cx="40.4" cy="854.3" rx="2.4" ry="2.2" fill="#120c34" transform="rotate(74 40.4 854.3)"/><ellipse cx="45.4" cy="824.9" rx="2.2" ry="1.8" fill="#120c34" transform="rotate(178 45.4 824.9)"/><ellipse cx="58.4" cy="849.7" rx="1.9" ry="1.5" fill="#120c34" transform="rotate(49 58.4 849.7)"/><ellipse cx="64.6" cy="821.2" rx="1.9" ry="1.8" fill="#120c34" transform="rotate(131 64.6 821.2)"/><ellipse cx="98.6" cy="819.0" rx="2.4" ry="2.3" fill="#120c34" transform="rotate(31 98.6 819.0)"/><ellipse cx="74.4" cy="808.9" rx="2.0" ry="1.6" fill="#120c34" transform="rotate(27 74.4 808.9)"/><ellipse cx="124.8" cy="807.9" rx="2.3" ry="2.2" fill="#120c34" transform="rotate(119 124.8 807.9)"/><ellipse cx="125.4" cy="843.1" rx="2.1" ry="1.6" fill="#120c34" transform="rotate(44 125.4 843.1)"/>
</g></g>
<defs><clipPath id="mc3"><rect x="28" y="880.8" width="106.0" height="78.8"/></clipPath><linearGradient id="mg3" x1="0" y1="0" x2="1" y2="0.3"><stop offset="0" stop-color="#e3e9ee"/><stop offset="1" stop-color="#e8ecf2"/></linearGradient></defs>
<g clip-path="url(#mc3)">
<rect x="28" y="880.8" width="106.0" height="78.8" fill="url(#mg3)"/>
<g filter="url(#blur2)">
<ellipse cx="78.0" cy="920.8" rx="26" ry="18" fill="#eceff4"/>
<ellipse cx="48.0" cy="890.8" rx="14" ry="8" fill="#e8ecf0"/>
</g><g filter="url(#blur1)">
<circle cx="95.4" cy="945.7" r="3.2" fill="#7464ac" opacity="0.65"/><circle cx="123.1" cy="953.4" r="3.4" fill="#7464ac" opacity="0.65"/><ellipse cx="93.6" cy="920.5" rx="6.1" ry="0.9" fill="#7464ac" opacity="0.8" transform="rotate(65 93.6 920.5)"/><circle cx="93.4" cy="920.5" r="3.5" fill="#7464ac" opacity="0.65"/><circle cx="75.0" cy="955.8" r="3.3" fill="#7464ac" opacity="0.65"/><circle cx="30.9" cy="934.1" r="3.8" fill="#7464ac" opacity="0.65"/><ellipse cx="100.1" cy="945.7" rx="8.5" ry="1.1" fill="#7464ac" opacity="0.8" transform="rotate(127 100.1 945.7)"/><circle cx="100.4" cy="945.6" r="2.8" fill="#7464ac" opacity="0.65"/><circle cx="84.5" cy="910.1" r="3.6" fill="#7464ac" opacity="0.65"/><circle cx="110.3" cy="920.9" r="3.0" fill="#7464ac" opacity="0.65"/><ellipse cx="98.1" cy="924.6" rx="7.5" ry="1.0" fill="#7464ac" opacity="0.8" transform="rotate(31 98.1 924.6)"/><circle cx="98.3" cy="924.8" r="3.2" fill="#7464ac" opacity="0.65"/><circle cx="121.8" cy="909.3" r="3.3" fill="#7464ac" opacity="0.65"/><circle cx="119.3" cy="885.0" r="3.2" fill="#7464ac" opacity="0.65"/><circle cx="27.0" cy="913.1" r="3.0" fill="#7464ac" opacity="0.65"/><circle cx="100.4" cy="911.0" r="3.2" fill="#7464ac" opacity="0.65"/><circle cx="90.6" cy="916.6" r="3.4" fill="#7464ac" opacity="0.65"/><ellipse cx="99.1" cy="899.5" rx="7.2" ry="0.8" fill="#7464ac" opacity="0.8" transform="rotate(74 99.1 899.5)"/><circle cx="99.3" cy="899.3" r="3.5" fill="#7464ac" opacity="0.65"/><circle cx="104.8" cy="950.2" r="3.6" fill="#7464ac" opacity="0.65"/><ellipse cx="125.3" cy="938.7" rx="6.3" ry="1.0" fill="#7464ac" opacity="0.8" transform="rotate(140 125.3 938.7)"/><circle cx="124.9" cy="938.6" r="3.5" fill="#7464ac" opacity="0.65"/><circle cx="46.6" cy="952.1" r="3.9" fill="#7464ac" opacity="0.65"/><ellipse cx="98.0" cy="904.8" rx="8.8" ry="0.8" fill="#7464ac" opacity="0.8" transform="rotate(135 98.0 904.8)"/><circle cx="97.7" cy="904.7" r="2.9" fill="#7464ac" opacity="0.65"/><circle cx="125.1" cy="893.5" r="3.7" fill="#7464ac" opacity="0.65"/><ellipse cx="66.8" cy="949.4" rx="6.7" ry="1.1" fill="#7464ac" opacity="0.8" transform="rotate(65 66.8 949.4)"/><circle cx="66.5" cy="949.6" r="3.6" fill="#7464ac" opacity="0.65"/><circle cx="88.7" cy="896.1" r="2.8" fill="#7464ac" opacity="0.65"/><ellipse cx="34.7" cy="954.7" rx="4.9" ry="0.6" fill="#7464ac" opacity="0.8" transform="rotate(135 34.7 954.7)"/><circle cx="35.1" cy="954.4" r="3.9" fill="#7464ac" opacity="0.65"/><circle cx="134.6" cy="935.0" r="3.1" fill="#7464ac" opacity="0.65"/><ellipse cx="71.6" cy="953.9" rx="5.6" ry="0.6" fill="#7464ac" opacity="0.8" transform="rotate(144 71.6 953.9)"/><circle cx="71.5" cy="953.5" r="3.6" fill="#7464ac" opacity="0.65"/><circle cx="84.5" cy="900.0" r="3.1" fill="#7464ac" opacity="0.65"/><circle cx="100.4" cy="906.5" r="3.1" fill="#7464ac" opacity="0.65"/><ellipse cx="80.9" cy="904.8" rx="8.2" ry="0.8" fill="#7464ac" opacity="0.8" transform="rotate(71 80.9 904.8)"/><circle cx="81.2" cy="904.5" r="2.8" fill="#7464ac" opacity="0.65"/><ellipse cx="123.8" cy="944.9" rx="4.8" ry="0.6" fill="#7464ac" opacity="0.8" transform="rotate(56 123.8 944.9)"/><circle cx="123.9" cy="944.6" r="3.2" fill="#7464ac" opacity="0.65"/><circle cx="46.3" cy="939.9" r="3.2" fill="#7464ac" opacity="0.65"/><circle cx="48.3" cy="929.2" r="3.7" fill="#7464ac" opacity="0.65"/><circle cx="117.1" cy="900.4" r="3.1" fill="#7464ac" opacity="0.65"/><circle cx="41.5" cy="919.0" r="3.3" fill="#7464ac" opacity="0.65"/><circle cx="49.1" cy="946.6" r="3.5" fill="#7464ac" opacity="0.65"/><ellipse cx="91.7" cy="926.1" rx="8.3" ry="0.8" fill="#7464ac" opacity="0.8" transform="rotate(57 91.7 926.1)"/><circle cx="91.9" cy="926.3" r="4.0" fill="#7464ac" opacity="0.65"/><circle cx="81.7" cy="915.8" r="2.8" fill="#7464ac" opacity="0.65"/><circle cx="71.9" cy="894.7" r="3.5" fill="#7464ac" opacity="0.65"/><circle cx="31.2" cy="898.7" r="4.0" fill="#7464ac" opacity="0.65"/><circle cx="112.0" cy="911.0" r="3.9" fill="#7464ac" opacity="0.65"/><circle cx="49.7" cy="940.7" r="4.0" fill="#7464ac" opacity="0.65"/><circle cx="114.9" cy="902.6" r="3.5" fill="#7464ac" opacity="0.65"/><circle cx="94.9" cy="899.1" r="3.6" fill="#7464ac" opacity="0.65"/><circle cx="113.5" cy="915.3" r="3.3" fill="#7464ac" opacity="0.65"/><circle cx="39.8" cy="951.5" r="3.8" fill="#7464ac" opacity="0.65"/><circle cx="126.4" cy="925.7" r="2.9" fill="#7464ac" opacity="0.65"/><circle cx="134.2" cy="952.2" r="3.2" fill="#7464ac" opacity="0.65"/><circle cx="90.2" cy="943.5" r="4.0" fill="#7464ac" opacity="0.65"/><ellipse cx="57.6" cy="916.8" rx="7.6" ry="0.9" fill="#7464ac" opacity="0.8" transform="rotate(3 57.6 916.8)"/><circle cx="57.2" cy="916.9" r="3.7" fill="#7464ac" opacity="0.65"/><circle cx="52.7" cy="935.8" r="3.1" fill="#7464ac" opacity="0.65"/><circle cx="28.6" cy="905.1" r="3.3" fill="#7464ac" opacity="0.65"/><ellipse cx="60.0" cy="883.0" rx="6.9" ry="0.8" fill="#7464ac" opacity="0.8" transform="rotate(88 60.0 883.0)"/><circle cx="60.0" cy="882.8" r="3.7" fill="#7464ac" opacity="0.65"/><circle cx="60.6" cy="922.4" r="3.3" fill="#7464ac" opacity="0.65"/><circle cx="78.0" cy="910.9" r="3.3" fill="#7464ac" opacity="0.65"/><circle cx="133.3" cy="940.3" r="3.6" fill="#7464ac" opacity="0.65"/><circle cx="46.8" cy="921.8" r="3.1" fill="#7464ac" opacity="0.65"/><ellipse cx="58.1" cy="946.4" rx="8.6" ry="1.1" fill="#7464ac" opacity="0.8" transform="rotate(147 58.1 946.4)"/><circle cx="58.4" cy="946.0" r="3.7" fill="#7464ac" opacity="0.65"/><circle cx="75.3" cy="912.1" r="2.9" fill="#7464ac" opacity="0.65"/><ellipse cx="92.1" cy="906.5" rx="8.9" ry="1.1" fill="#7464ac" opacity="0.8" transform="rotate(106 92.1 906.5)"/><circle cx="92.2" cy="906.2" r="3.1" fill="#7464ac" opacity="0.65"/><circle cx="41.8" cy="938.6" r="3.1" fill="#7464ac" opacity="0.65"/><ellipse cx="104.2" cy="890.4" rx="8.1" ry="0.9" fill="#7464ac" opacity="0.8" transform="rotate(62 104.2 890.4)"/><circle cx="104.1" cy="890.7" r="3.2" fill="#7464ac" opacity="0.65"/><circle cx="67.1" cy="904.5" r="3.3" fill="#7464ac" opacity="0.65"/><circle cx="79.6" cy="917.5" r="3.2" fill="#7464ac" opacity="0.65"/><circle cx="98.0" cy="913.3" r="3.2" fill="#7464ac" opacity="0.65"/><circle cx="58.5" cy="893.2" r="3.6" fill="#7464ac" opacity="0.65"/><circle cx="47.9" cy="934.9" r="3.7" fill="#7464ac" opacity="0.65"/><circle cx="41.9" cy="933.4" r="3.7" fill="#7464ac" opacity="0.65"/><circle cx="104.8" cy="893.9" r="3.3" fill="#7464ac" opacity="0.65"/><circle cx="119.2" cy="889.2" r="2.6" fill="#7464ac" opacity="0.65"/><circle cx="97.0" cy="929.2" r="3.3" fill="#7464ac" opacity="0.65"/><circle cx="127.9" cy="929.8" r="3.4" fill="#7464ac" opacity="0.65"/><circle cx="67.9" cy="944.3" r="3.0" fill="#7464ac" opacity="0.65"/><circle cx="65.7" cy="896.5" r="3.3" fill="#7464ac" opacity="0.65"/><circle cx="49.5" cy="891.3" r="3.3" fill="#7464ac" opacity="0.65"/><circle cx="84.2" cy="915.6" r="3.3" fill="#7464ac" opacity="0.65"/><circle cx="47.5" cy="942.9" r="3.6" fill="#7464ac" opacity="0.65"/><ellipse cx="78.8" cy="903.0" rx="7.2" ry="0.9" fill="#7464ac" opacity="0.8" transform="rotate(127 78.8 903.0)"/><circle cx="78.6" cy="902.6" r="3.3" fill="#7464ac" opacity="0.65"/><circle cx="115.4" cy="924.6" r="3.6" fill="#7464ac" opacity="0.65"/><ellipse cx="64.2" cy="920.6" rx="6.7" ry="0.9" fill="#7464ac" opacity="0.8" transform="rotate(150 64.2 920.6)"/><circle cx="64.5" cy="920.5" r="3.6" fill="#7464ac" opacity="0.65"/><circle cx="38.1" cy="936.9" r="3.3" fill="#7464ac" opacity="0.65"/><circle cx="76.1" cy="905.8" r="3.4" fill="#7464ac" opacity="0.65"/><circle cx="56.5" cy="943.5" r="3.3" fill="#7464ac" opacity="0.65"/><ellipse cx="38.9" cy="944.3" rx="5.9" ry="0.9" fill="#7464ac" opacity="0.8" transform="rotate(81 38.9 944.3)"/><circle cx="38.6" cy="944.3" r="3.4" fill="#7464ac" opacity="0.65"/><circle cx="120.7" cy="950.6" r="3.4" fill="#7464ac" opacity="0.65"/><circle cx="94.0" cy="889.2" r="3.0" fill="#7464ac" opacity="0.65"/><ellipse cx="49.2" cy="894.8" rx="5.6" ry="1.0" fill="#7464ac" opacity="0.8" transform="rotate(38 49.2 894.8)"/><circle cx="49.2" cy="894.6" r="3.8" fill="#7464ac" opacity="0.65"/><circle cx="83.0" cy="941.0" r="3.7" fill="#7464ac" opacity="0.65"/><circle cx="82.6" cy="920.8" r="3.1" fill="#7464ac" opacity="0.65"/><circle cx="131.7" cy="881.2" r="4.1" fill="#7464ac" opacity="0.65"/>
<ellipse cx="95.3" cy="945.8" rx="2.1" ry="1.9" fill="#120c34" transform="rotate(160 95.3 945.8)"/><ellipse cx="123.2" cy="953.2" rx="2.0" ry="2.0" fill="#120c34" transform="rotate(104 123.2 953.2)"/><ellipse cx="93.6" cy="920.5" rx="2.8" ry="2.5" fill="#120c34" transform="rotate(136 93.6 920.5)"/><ellipse cx="75.1" cy="956.0" rx="2.4" ry="2.4" fill="#120c34" transform="rotate(64 75.1 956.0)"/><ellipse cx="31.0" cy="933.8" rx="2.5" ry="1.9" fill="#120c34" transform="rotate(90 31.0 933.8)"/><ellipse cx="100.1" cy="945.7" rx="2.1" ry="1.6" fill="#120c34" transform="rotate(37 100.1 945.7)"/><ellipse cx="84.8" cy="910.4" rx="2.8" ry="2.6" fill="#120c34" transform="rotate(17 84.8 910.4)"/><ellipse cx="110.1" cy="921.2" rx="2.1" ry="1.9" fill="#120c34" transform="rotate(123 110.1 921.2)"/><ellipse cx="98.1" cy="924.6" rx="2.2" ry="2.0" fill="#120c34" transform="rotate(106 98.1 924.6)"/><ellipse cx="122.0" cy="909.3" rx="2.4" ry="2.1" fill="#120c34" transform="rotate(102 122.0 909.3)"/><ellipse cx="119.0" cy="884.9" rx="1.9" ry="1.9" fill="#120c34" transform="rotate(133 119.0 884.9)"/><ellipse cx="27.3" cy="912.9" rx="2.1" ry="1.8" fill="#120c34" transform="rotate(51 27.3 912.9)"/><ellipse cx="100.1" cy="911.2" rx="2.4" ry="2.1" fill="#120c34" transform="rotate(60 100.1 911.2)"/><ellipse cx="90.7" cy="916.5" rx="2.7" ry="2.4" fill="#120c34" transform="rotate(18 90.7 916.5)"/><ellipse cx="99.1" cy="899.5" rx="2.7" ry="2.3" fill="#120c34" transform="rotate(162 99.1 899.5)"/><ellipse cx="105.1" cy="950.3" rx="2.6" ry="2.3" fill="#120c34" transform="rotate(65 105.1 950.3)"/><ellipse cx="125.3" cy="938.7" rx="2.3" ry="1.7" fill="#120c34" transform="rotate(52 125.3 938.7)"/><ellipse cx="46.9" cy="952.1" rx="2.8" ry="2.4" fill="#120c34" transform="rotate(175 46.9 952.1)"/><ellipse cx="98.0" cy="904.8" rx="2.1" ry="2.0" fill="#120c34" transform="rotate(157 98.0 904.8)"/><ellipse cx="125.0" cy="893.7" rx="2.5" ry="2.0" fill="#120c34" transform="rotate(1 125.0 893.7)"/><ellipse cx="66.8" cy="949.4" rx="2.5" ry="2.0" fill="#120c34" transform="rotate(129 66.8 949.4)"/><ellipse cx="88.9" cy="895.8" rx="2.0" ry="2.0" fill="#120c34" transform="rotate(9 88.9 895.8)"/><ellipse cx="34.7" cy="954.7" rx="2.6" ry="2.6" fill="#120c34" transform="rotate(87 34.7 954.7)"/><ellipse cx="134.5" cy="934.7" rx="1.8" ry="1.7" fill="#120c34" transform="rotate(121 134.5 934.7)"/><ellipse cx="71.6" cy="953.9" rx="2.6" ry="2.2" fill="#120c34" transform="rotate(163 71.6 953.9)"/><ellipse cx="84.8" cy="899.6" rx="2.0" ry="1.8" fill="#120c34" transform="rotate(10 84.8 899.6)"/><ellipse cx="100.0" cy="906.8" rx="1.9" ry="1.8" fill="#120c34" transform="rotate(83 100.0 906.8)"/><ellipse cx="80.9" cy="904.8" rx="1.8" ry="1.5" fill="#120c34" transform="rotate(22 80.9 904.8)"/><ellipse cx="123.8" cy="944.9" rx="2.3" ry="2.2" fill="#120c34" transform="rotate(43 123.8 944.9)"/><ellipse cx="46.1" cy="939.5" rx="2.1" ry="1.6" fill="#120c34" transform="rotate(163 46.1 939.5)"/><ellipse cx="48.1" cy="929.4" rx="2.7" ry="2.4" fill="#120c34" transform="rotate(139 48.1 929.4)"/><ellipse cx="117.5" cy="900.7" rx="2.0" ry="1.7" fill="#120c34" transform="rotate(180 117.5 900.7)"/><ellipse cx="41.8" cy="918.7" rx="2.3" ry="1.8" fill="#120c34" transform="rotate(155 41.8 918.7)"/><ellipse cx="48.9" cy="946.8" rx="2.6" ry="2.5" fill="#120c34" transform="rotate(104 48.9 946.8)"/><ellipse cx="91.7" cy="926.1" rx="2.8" ry="2.6" fill="#120c34" transform="rotate(20 91.7 926.1)"/><ellipse cx="81.4" cy="915.6" rx="1.8" ry="1.6" fill="#120c34" transform="rotate(38 81.4 915.6)"/><ellipse cx="72.3" cy="895.0" rx="2.1" ry="1.8" fill="#120c34" transform="rotate(157 72.3 895.0)"/><ellipse cx="31.5" cy="899.0" rx="2.6" ry="2.5" fill="#120c34" transform="rotate(119 31.5 899.0)"/><ellipse cx="112.3" cy="911.0" rx="2.7" ry="2.4" fill="#120c34" transform="rotate(143 112.3 911.0)"/><ellipse cx="50.0" cy="940.7" rx="2.7" ry="2.6" fill="#120c34" transform="rotate(71 50.0 940.7)"/><ellipse cx="114.8" cy="902.7" rx="2.5" ry="2.5" fill="#120c34" transform="rotate(70 114.8 902.7)"/><ellipse cx="94.7" cy="898.8" rx="2.5" ry="2.0" fill="#120c34" transform="rotate(78 94.7 898.8)"/><ellipse cx="113.5" cy="915.7" rx="2.2" ry="1.8" fill="#120c34" transform="rotate(141 113.5 915.7)"/><ellipse cx="39.6" cy="951.3" rx="2.6" ry="2.6" fill="#120c34" transform="rotate(18 39.6 951.3)"/><ellipse cx="126.1" cy="925.8" rx="1.9" ry="1.5" fill="#120c34" transform="rotate(87 126.1 925.8)"/><ellipse cx="134.2" cy="952.5" rx="2.3" ry="2.3" fill="#120c34" transform="rotate(55 134.2 952.5)"/><ellipse cx="90.4" cy="943.7" rx="2.8" ry="2.2" fill="#120c34" transform="rotate(89 90.4 943.7)"/><ellipse cx="57.6" cy="916.8" rx="2.7" ry="2.4" fill="#120c34" transform="rotate(62 57.6 916.8)"/><ellipse cx="52.8" cy="936.2" rx="2.3" ry="2.0" fill="#120c34" transform="rotate(2 52.8 936.2)"/><ellipse cx="28.6" cy="904.8" rx="2.1" ry="2.0" fill="#120c34" transform="rotate(129 28.6 904.8)"/><ellipse cx="60.0" cy="883.0" rx="2.8" ry="2.6" fill="#120c34" transform="rotate(179 60.0 883.0)"/><ellipse cx="60.8" cy="922.3" rx="2.2" ry="2.1" fill="#120c34" transform="rotate(171 60.8 922.3)"/><ellipse cx="78.3" cy="911.0" rx="2.5" ry="2.0" fill="#120c34" transform="rotate(27 78.3 911.0)"/><ellipse cx="133.5" cy="940.2" rx="2.8" ry="2.3" fill="#120c34" transform="rotate(129 133.5 940.2)"/><ellipse cx="46.8" cy="921.4" rx="2.0" ry="1.8" fill="#120c34" transform="rotate(65 46.8 921.4)"/><ellipse cx="58.1" cy="946.4" rx="2.3" ry="1.9" fill="#120c34" transform="rotate(91 58.1 946.4)"/><ellipse cx="75.4" cy="912.2" rx="2.2" ry="1.8" fill="#120c34" transform="rotate(111 75.4 912.2)"/><ellipse cx="92.1" cy="906.5" rx="2.3" ry="1.8" fill="#120c34" transform="rotate(111 92.1 906.5)"/><ellipse cx="41.4" cy="938.8" rx="2.0" ry="1.8" fill="#120c34" transform="rotate(67 41.4 938.8)"/><ellipse cx="104.2" cy="890.4" rx="2.0" ry="1.8" fill="#120c34" transform="rotate(11 104.2 890.4)"/><ellipse cx="67.2" cy="904.2" rx="2.1" ry="1.9" fill="#120c34" transform="rotate(22 67.2 904.2)"/><ellipse cx="79.5" cy="917.5" rx="1.9" ry="1.6" fill="#120c34" transform="rotate(171 79.5 917.5)"/><ellipse cx="98.0" cy="913.1" rx="2.0" ry="1.8" fill="#120c34" transform="rotate(93 98.0 913.1)"/><ellipse cx="58.2" cy="893.1" rx="2.3" ry="2.1" fill="#120c34" transform="rotate(55 58.2 893.1)"/><ellipse cx="48.1" cy="934.6" rx="2.4" ry="2.2" fill="#120c34" transform="rotate(10 48.1 934.6)"/><ellipse cx="41.9" cy="933.8" rx="2.4" ry="2.1" fill="#120c34" transform="rotate(162 41.9 933.8)"/><ellipse cx="105.1" cy="893.7" rx="2.1" ry="1.6" fill="#120c34" transform="rotate(170 105.1 893.7)"/><ellipse cx="119.5" cy="888.9" rx="1.9" ry="1.5" fill="#120c34" transform="rotate(5 119.5 888.9)"/><ellipse cx="97.0" cy="929.2" rx="2.5" ry="1.9" fill="#120c34" transform="rotate(104 97.0 929.2)"/><ellipse cx="128.2" cy="929.9" rx="2.7" ry="2.4" fill="#120c34" transform="rotate(51 128.2 929.9)"/><ellipse cx="68.1" cy="944.6" rx="2.2" ry="2.1" fill="#120c34" transform="rotate(117 68.1 944.6)"/><ellipse cx="65.7" cy="896.8" rx="2.6" ry="2.1" fill="#120c34" transform="rotate(161 65.7 896.8)"/><ellipse cx="49.3" cy="891.0" rx="1.9" ry="1.6" fill="#120c34" transform="rotate(68 49.3 891.0)"/><ellipse cx="84.1" cy="915.8" rx="2.3" ry="2.2" fill="#120c34" transform="rotate(27 84.1 915.8)"/><ellipse cx="47.5" cy="943.0" rx="2.3" ry="1.7" fill="#120c34" transform="rotate(139 47.5 943.0)"/><ellipse cx="78.8" cy="903.0" rx="2.6" ry="2.2" fill="#120c34" transform="rotate(81 78.8 903.0)"/><ellipse cx="115.2" cy="924.9" rx="2.4" ry="2.1" fill="#120c34" transform="rotate(149 115.2 924.9)"/><ellipse cx="64.2" cy="920.6" rx="2.3" ry="1.8" fill="#120c34" transform="rotate(114 64.2 920.6)"/><ellipse cx="37.9" cy="936.5" rx="2.1" ry="1.8" fill="#120c34" transform="rotate(29 37.9 936.5)"/><ellipse cx="76.3" cy="905.7" rx="2.6" ry="2.4" fill="#120c34" transform="rotate(42 76.3 905.7)"/><ellipse cx="56.7" cy="943.2" rx="2.5" ry="2.5" fill="#120c34" transform="rotate(4 56.7 943.2)"/><ellipse cx="38.9" cy="944.3" rx="2.6" ry="2.6" fill="#120c34" transform="rotate(36 38.9 944.3)"/><ellipse cx="121.0" cy="950.3" rx="2.1" ry="2.0" fill="#120c34" transform="rotate(119 121.0 950.3)"/><ellipse cx="93.8" cy="889.5" rx="2.1" ry="1.9" fill="#120c34" transform="rotate(21 93.8 889.5)"/><ellipse cx="49.2" cy="894.8" rx="2.5" ry="2.3" fill="#120c34" transform="rotate(78 49.2 894.8)"/><ellipse cx="82.9" cy="940.9" rx="2.3" ry="2.0" fill="#120c34" transform="rotate(15 82.9 940.9)"/><ellipse cx="82.8" cy="920.9" rx="2.1" ry="1.7" fill="#120c34" transform="rotate(92 82.8 920.9)"/><ellipse cx="132.1" cy="881.4" rx="2.7" ry="2.2" fill="#120c34" transform="rotate(167 132.1 881.4)"/>
</g></g>
<defs><clipPath id="mc4"><rect x="164.2" y="717.4" width="106.1" height="78.4"/></clipPath><linearGradient id="mg4" x1="0" y1="0" x2="1" y2="0.3"><stop offset="0" stop-color="#eaf0d8"/><stop offset="1" stop-color="#d8e3e6"/></linearGradient></defs>
<g clip-path="url(#mc4)">
<rect x="164.2" y="717.4" width="106.1" height="78.4" fill="url(#mg4)"/>
<g filter="url(#blur2)">
<ellipse cx="209.2" cy="759.4" rx="18" ry="24" fill="#f2f3da"/>
<ellipse cx="236.2" cy="785.4" rx="14" ry="10" fill="#eef2e0"/>
<ellipse cx="262.2" cy="747.4" rx="10" ry="28" fill="#d0dce2"/>
</g><g filter="url(#blur1)">
<circle cx="222.1" cy="786.0" r="3.1" fill="#544e94" opacity="0.60"/><circle cx="173.4" cy="785.4" r="2.9" fill="#544e94" opacity="0.60"/><ellipse cx="237.7" cy="740.8" rx="7.1" ry="0.7" fill="#544e94" opacity="0.8" transform="rotate(179 237.7 740.8)"/><circle cx="237.8" cy="740.4" r="3.2" fill="#544e94" opacity="0.60"/><circle cx="246.2" cy="770.7" r="2.8" fill="#544e94" opacity="0.60"/><circle cx="246.9" cy="730.7" r="2.5" fill="#544e94" opacity="0.60"/><circle cx="255.9" cy="737.7" r="3.8" fill="#544e94" opacity="0.60"/><circle cx="200.8" cy="741.8" r="2.6" fill="#544e94" opacity="0.60"/><circle cx="259.8" cy="765.2" r="4.0" fill="#544e94" opacity="0.60"/><circle cx="239.9" cy="776.1" r="3.3" fill="#544e94" opacity="0.60"/><circle cx="250.7" cy="746.3" r="3.4" fill="#544e94" opacity="0.60"/><ellipse cx="249.9" cy="728.5" rx="7.5" ry="0.6" fill="#544e94" opacity="0.8" transform="rotate(158 249.9 728.5)"/><circle cx="249.7" cy="728.3" r="3.1" fill="#544e94" opacity="0.60"/><circle cx="243.2" cy="796.3" r="3.4" fill="#544e94" opacity="0.60"/><circle cx="242.7" cy="738.9" r="2.8" fill="#544e94" opacity="0.60"/><circle cx="225.7" cy="765.0" r="3.2" fill="#544e94" opacity="0.60"/><circle cx="243.9" cy="729.9" r="2.8" fill="#544e94" opacity="0.60"/><circle cx="197.3" cy="740.6" r="3.2" fill="#544e94" opacity="0.60"/><circle cx="230.6" cy="739.8" r="3.2" fill="#544e94" opacity="0.60"/><circle cx="169.0" cy="780.5" r="3.4" fill="#544e94" opacity="0.60"/><circle cx="256.0" cy="795.3" r="3.0" fill="#544e94" opacity="0.60"/><circle cx="269.2" cy="794.6" r="3.9" fill="#544e94" opacity="0.60"/><circle cx="248.5" cy="742.6" r="3.6" fill="#544e94" opacity="0.60"/><circle cx="191.7" cy="744.2" r="3.4" fill="#544e94" opacity="0.60"/><circle cx="171.0" cy="737.0" r="3.5" fill="#544e94" opacity="0.60"/><circle cx="171.1" cy="751.6" r="3.4" fill="#544e94" opacity="0.60"/><circle cx="171.9" cy="788.8" r="3.5" fill="#544e94" opacity="0.60"/><circle cx="255.2" cy="725.3" r="4.1" fill="#544e94" opacity="0.60"/><circle cx="177.7" cy="790.4" r="2.9" fill="#544e94" opacity="0.60"/><circle cx="252.1" cy="730.5" r="3.0" fill="#544e94" opacity="0.60"/><circle cx="206.9" cy="767.5" r="3.7" fill="#544e94" opacity="0.60"/><circle cx="186.6" cy="728.6" r="2.9" fill="#544e94" opacity="0.60"/><circle cx="199.1" cy="717.4" r="3.2" fill="#544e94" opacity="0.60"/><circle cx="180.9" cy="759.9" r="2.7" fill="#544e94" opacity="0.60"/><circle cx="169.1" cy="775.9" r="2.6" fill="#544e94" opacity="0.60"/><circle cx="231.7" cy="770.7" r="3.6" fill="#544e94" opacity="0.60"/><circle cx="257.4" cy="731.3" r="3.2" fill="#544e94" opacity="0.60"/><circle cx="260.4" cy="768.0" r="2.8" fill="#544e94" opacity="0.60"/><circle cx="256.0" cy="791.2" r="2.8" fill="#544e94" opacity="0.60"/><circle cx="265.1" cy="787.7" r="3.5" fill="#544e94" opacity="0.60"/><circle cx="181.2" cy="792.5" r="3.4" fill="#544e94" opacity="0.60"/><circle cx="182.4" cy="739.5" r="3.6" fill="#544e94" opacity="0.60"/><circle cx="216.7" cy="747.1" r="3.3" fill="#544e94" opacity="0.60"/><circle cx="193.1" cy="731.8" r="3.8" fill="#544e94" opacity="0.60"/><circle cx="232.9" cy="730.3" r="2.8" fill="#544e94" opacity="0.60"/><circle cx="186.1" cy="759.9" r="3.3" fill="#544e94" opacity="0.60"/><circle cx="255.7" cy="761.6" r="3.6" fill="#544e94" opacity="0.60"/><circle cx="200.1" cy="756.2" r="2.9" fill="#544e94" opacity="0.60"/><circle cx="194.7" cy="769.2" r="3.8" fill="#544e94" opacity="0.60"/><circle cx="174.8" cy="778.0" r="3.8" fill="#544e94" opacity="0.60"/><circle cx="265.1" cy="722.4" r="3.2" fill="#544e94" opacity="0.60"/><circle cx="253.2" cy="734.2" r="3.0" fill="#544e94" opacity="0.60"/><circle cx="178.2" cy="781.2" r="3.3" fill="#544e94" opacity="0.60"/><circle cx="239.1" cy="755.8" r="2.5" fill="#544e94" opacity="0.60"/><circle cx="252.6" cy="761.5" r="2.5" fill="#544e94" opacity="0.60"/><circle cx="228.3" cy="734.1" r="3.3" fill="#544e94" opacity="0.60"/><circle cx="223.5" cy="720.7" r="3.5" fill="#544e94" opacity="0.60"/><circle cx="219.1" cy="795.8" r="2.9" fill="#544e94" opacity="0.60"/><circle cx="200.1" cy="766.5" r="3.3" fill="#544e94" opacity="0.60"/><circle cx="199.4" cy="750.0" r="3.3" fill="#544e94" opacity="0.60"/><circle cx="177.8" cy="748.3" r="3.1" fill="#544e94" opacity="0.60"/><circle cx="205.1" cy="753.9" r="3.3" fill="#544e94" opacity="0.60"/><circle cx="249.9" cy="733.7" r="3.6" fill="#544e94" opacity="0.60"/><circle cx="234.4" cy="794.1" r="3.0" fill="#544e94" opacity="0.60"/><circle cx="194.7" cy="764.4" r="3.8" fill="#544e94" opacity="0.60"/><circle cx="229.6" cy="796.2" r="3.0" fill="#544e94" opacity="0.60"/><circle cx="256.2" cy="772.8" r="2.7" fill="#544e94" opacity="0.60"/><circle cx="183.1" cy="733.3" r="3.2" fill="#544e94" opacity="0.60"/><circle cx="239.2" cy="786.6" r="3.2" fill="#544e94" opacity="0.60"/><circle cx="224.9" cy="728.1" r="3.7" fill="#544e94" opacity="0.60"/><circle cx="193.0" cy="739.0" r="3.1" fill="#544e94" opacity="0.60"/><circle cx="246.9" cy="796.1" r="3.5" fill="#544e94" opacity="0.60"/><circle cx="245.0" cy="761.0" r="4.1" fill="#544e94" opacity="0.60"/><circle cx="216.9" cy="771.4" r="2.8" fill="#544e94" opacity="0.60"/><circle cx="191.0" cy="775.4" r="3.4" fill="#544e94" opacity="0.60"/><circle cx="249.8" cy="779.8" r="2.9" fill="#544e94" opacity="0.60"/><circle cx="253.7" cy="717.9" r="3.7" fill="#544e94" opacity="0.60"/><circle cx="185.3" cy="745.9" r="3.2" fill="#544e94" opacity="0.60"/><circle cx="215.5" cy="758.7" r="2.6" fill="#544e94" opacity="0.60"/><circle cx="227.7" cy="750.3" r="2.8" fill="#544e94" opacity="0.60"/><circle cx="210.0" cy="743.9" r="3.4" fill="#544e94" opacity="0.60"/><circle cx="235.2" cy="770.8" r="3.7" fill="#544e94" opacity="0.60"/><circle cx="266.6" cy="775.3" r="3.1" fill="#544e94" opacity="0.60"/><circle cx="240.3" cy="732.5" r="3.4" fill="#544e94" opacity="0.60"/><circle cx="223.1" cy="751.1" r="2.7" fill="#544e94" opacity="0.60"/><circle cx="211.4" cy="783.9" r="3.0" fill="#544e94" opacity="0.60"/><circle cx="179.4" cy="764.0" r="3.2" fill="#544e94" opacity="0.60"/><circle cx="166.4" cy="782.2" r="3.0" fill="#544e94" opacity="0.60"/><circle cx="210.0" cy="719.8" r="2.9" fill="#544e94" opacity="0.60"/><circle cx="200.1" cy="729.0" r="2.8" fill="#544e94" opacity="0.60"/><circle cx="223.5" cy="776.0" r="3.7" fill="#544e94" opacity="0.60"/><circle cx="165.3" cy="774.2" r="3.9" fill="#544e94" opacity="0.60"/><circle cx="208.0" cy="735.0" r="3.1" fill="#544e94" opacity="0.60"/><circle cx="252.9" cy="788.8" r="3.9" fill="#544e94" opacity="0.60"/><circle cx="246.2" cy="724.7" r="2.9" fill="#544e94" opacity="0.60"/><circle cx="245.5" cy="741.4" r="3.0" fill="#544e94" opacity="0.60"/><circle cx="205.8" cy="774.7" r="3.9" fill="#544e94" opacity="0.60"/><circle cx="231.4" cy="735.9" r="4.0" fill="#544e94" opacity="0.60"/><circle cx="226.2" cy="745.0" r="2.6" fill="#544e94" opacity="0.60"/><circle cx="197.6" cy="778.1" r="2.9" fill="#544e94" opacity="0.60"/><circle cx="248.0" cy="774.0" r="3.6" fill="#544e94" opacity="0.60"/><circle cx="209.2" cy="750.9" r="3.5" fill="#544e94" opacity="0.60"/><circle cx="167.2" cy="750.7" r="3.8" fill="#544e94" opacity="0.60"/><circle cx="231.9" cy="776.4" r="3.8" fill="#544e94" opacity="0.60"/><circle cx="258.7" cy="781.7" r="3.4" fill="#544e94" opacity="0.60"/><circle cx="252.8" cy="780.6" r="3.0" fill="#544e94" opacity="0.60"/><circle cx="211.9" cy="767.2" r="2.5" fill="#544e94" opacity="0.60"/><circle cx="167.4" cy="757.5" r="3.4" fill="#544e94" opacity="0.60"/><circle cx="270.2" cy="737.4" r="3.0" fill="#544e94" opacity="0.60"/><circle cx="163.6" cy="745.2" r="2.7" fill="#544e94" opacity="0.60"/><circle cx="253.6" cy="743.7" r="2.7" fill="#544e94" opacity="0.60"/><circle cx="204.5" cy="789.3" r="2.8" fill="#544e94" opacity="0.60"/><circle cx="194.6" cy="774.3" r="3.0" fill="#544e94" opacity="0.60"/><ellipse cx="188.4" cy="740.6" rx="6.4" ry="1.0" fill="#544e94" opacity="0.8" transform="rotate(52 188.4 740.6)"/><circle cx="188.4" cy="740.7" r="3.3" fill="#544e94" opacity="0.60"/><circle cx="214.3" cy="764.8" r="2.7" fill="#544e94" opacity="0.60"/><circle cx="241.6" cy="770.4" r="3.2" fill="#544e94" opacity="0.60"/><circle cx="231.9" cy="754.2" r="3.2" fill="#544e94" opacity="0.60"/><circle cx="231.2" cy="785.8" r="2.8" fill="#544e94" opacity="0.60"/><circle cx="181.2" cy="771.3" r="4.0" fill="#544e94" opacity="0.60"/><circle cx="251.5" cy="769.7" r="3.0" fill="#544e94" opacity="0.60"/><circle cx="188.7" cy="750.6" r="2.8" fill="#544e94" opacity="0.60"/><circle cx="238.2" cy="770.0" r="2.9" fill="#544e94" opacity="0.60"/><circle cx="240.2" cy="725.2" r="2.6" fill="#544e94" opacity="0.60"/><circle cx="185.0" cy="752.7" r="3.5" fill="#544e94" opacity="0.60"/><circle cx="243.8" cy="756.7" r="2.8" fill="#544e94" opacity="0.60"/><circle cx="203.0" cy="738.0" r="3.9" fill="#544e94" opacity="0.60"/><circle cx="207.8" cy="728.1" r="3.0" fill="#544e94" opacity="0.60"/><circle cx="174.6" cy="794.9" r="3.6" fill="#544e94" opacity="0.60"/><circle cx="195.7" cy="721.7" r="3.5" fill="#544e94" opacity="0.60"/><circle cx="226.8" cy="761.0" r="3.6" fill="#544e94" opacity="0.60"/><circle cx="244.3" cy="773.9" r="3.4" fill="#544e94" opacity="0.60"/><circle cx="228.7" cy="773.0" r="3.1" fill="#544e94" opacity="0.60"/><circle cx="243.8" cy="733.6" r="3.2" fill="#544e94" opacity="0.60"/><circle cx="246.9" cy="758.1" r="3.0" fill="#544e94" opacity="0.60"/><circle cx="174.9" cy="767.2" r="3.0" fill="#544e94" opacity="0.60"/><circle cx="174.0" cy="721.6" r="3.1" fill="#544e94" opacity="0.60"/><circle cx="186.9" cy="790.9" r="3.3" fill="#544e94" opacity="0.60"/><circle cx="219.8" cy="781.1" r="2.5" fill="#544e94" opacity="0.60"/><circle cx="261.1" cy="725.5" r="2.9" fill="#544e94" opacity="0.60"/><circle cx="224.7" cy="784.9" r="3.1" fill="#544e94" opacity="0.60"/><ellipse cx="212.8" cy="754.1" rx="6.6" ry="1.0" fill="#544e94" opacity="0.8" transform="rotate(85 212.8 754.1)"/><circle cx="212.6" cy="753.8" r="3.2" fill="#544e94" opacity="0.60"/><circle cx="175.9" cy="725.5" r="3.5" fill="#544e94" opacity="0.60"/><circle cx="217.6" cy="735.3" r="3.5" fill="#544e94" opacity="0.60"/><circle cx="184.1" cy="768.5" r="3.0" fill="#544e94" opacity="0.60"/><circle cx="249.6" cy="786.4" r="3.6" fill="#544e94" opacity="0.60"/><circle cx="268.6" cy="790.0" r="3.2" fill="#544e94" opacity="0.60"/><circle cx="168.0" cy="791.9" r="3.4" fill="#544e94" opacity="0.60"/><circle cx="230.0" cy="765.5" r="2.9" fill="#544e94" opacity="0.60"/><circle cx="255.3" cy="769.8" r="3.5" fill="#544e94" opacity="0.60"/><circle cx="247.9" cy="767.9" r="3.5" fill="#544e94" opacity="0.60"/><circle cx="264.2" cy="784.2" r="3.1" fill="#544e94" opacity="0.60"/><circle cx="260.3" cy="743.2" r="3.1" fill="#544e94" opacity="0.60"/><circle cx="215.4" cy="779.8" r="2.7" fill="#544e94" opacity="0.60"/><circle cx="193.4" cy="753.6" r="3.6" fill="#544e94" opacity="0.60"/><circle cx="201.8" cy="731.9" r="2.8" fill="#544e94" opacity="0.60"/><circle cx="238.8" cy="764.3" r="3.3" fill="#544e94" opacity="0.60"/><circle cx="261.0" cy="732.9" r="3.8" fill="#544e94" opacity="0.60"/><circle cx="213.0" cy="774.3" r="3.2" fill="#544e94" opacity="0.60"/><circle cx="260.2" cy="760.0" r="2.6" fill="#544e94" opacity="0.60"/><circle cx="171.8" cy="783.7" r="3.5" fill="#544e94" opacity="0.60"/><circle cx="259.3" cy="746.1" r="3.4" fill="#544e94" opacity="0.60"/><circle cx="266.5" cy="763.3" r="3.6" fill="#544e94" opacity="0.60"/><circle cx="255.3" cy="781.0" r="3.1" fill="#544e94" opacity="0.60"/><circle cx="260.8" cy="720.0" r="3.5" fill="#544e94" opacity="0.60"/><circle cx="166.0" cy="741.8" r="3.4" fill="#544e94" opacity="0.60"/><circle cx="233.2" cy="740.7" r="3.0" fill="#544e94" opacity="0.60"/><circle cx="202.6" cy="794.3" r="3.0" fill="#544e94" opacity="0.60"/><circle cx="255.3" cy="752.6" r="3.0" fill="#544e94" opacity="0.60"/><circle cx="267.7" cy="771.2" r="3.3" fill="#544e94" opacity="0.60"/><circle cx="198.8" cy="775.1" r="3.8" fill="#544e94" opacity="0.60"/><circle cx="197.9" cy="730.6" r="3.0" fill="#544e94" opacity="0.60"/><circle cx="196.5" cy="744.5" r="3.0" fill="#544e94" opacity="0.60"/><circle cx="182.0" cy="776.9" r="2.8" fill="#544e94" opacity="0.60"/><circle cx="205.8" cy="739.7" r="3.1" fill="#544e94" opacity="0.60"/><circle cx="222.2" cy="755.5" r="3.1" fill="#544e94" opacity="0.60"/><circle cx="250.4" cy="717.2" r="2.6" fill="#544e94" opacity="0.60"/><circle cx="260.4" cy="796.9" r="2.9" fill="#544e94" opacity="0.60"/><circle cx="265.2" cy="772.4" r="2.9" fill="#544e94" opacity="0.60"/><circle cx="235.9" cy="780.6" r="3.3" fill="#544e94" opacity="0.60"/><circle cx="184.0" cy="718.2" r="3.6" fill="#544e94" opacity="0.60"/><circle cx="196.3" cy="735.0" r="3.6" fill="#544e94" opacity="0.60"/><circle cx="204.2" cy="779.9" r="3.3" fill="#544e94" opacity="0.60"/><circle cx="193.5" cy="758.2" r="3.2" fill="#544e94" opacity="0.60"/><circle cx="190.1" cy="760.4" r="3.1" fill="#544e94" opacity="0.60"/><circle cx="248.4" cy="749.7" r="3.5" fill="#544e94" opacity="0.60"/><circle cx="228.0" cy="785.3" r="3.5" fill="#544e94" opacity="0.60"/><circle cx="172.4" cy="778.8" r="2.5" fill="#544e94" opacity="0.60"/><circle cx="240.4" cy="762.4" r="2.8" fill="#544e94" opacity="0.60"/><circle cx="207.7" cy="779.3" r="2.8" fill="#544e94" opacity="0.60"/><circle cx="266.8" cy="727.9" r="2.7" fill="#544e94" opacity="0.60"/><circle cx="183.8" cy="728.5" r="3.7" fill="#544e94" opacity="0.60"/><circle cx="175.9" cy="774.8" r="3.5" fill="#544e94" opacity="0.60"/><circle cx="267.7" cy="757.9" r="3.6" fill="#544e94" opacity="0.60"/><circle cx="163.6" cy="737.0" r="3.6" fill="#544e94" opacity="0.60"/><circle cx="182.3" cy="784.7" r="3.3" fill="#544e94" opacity="0.60"/><circle cx="181.9" cy="750.2" r="3.8" fill="#544e94" opacity="0.60"/><circle cx="181.0" cy="788.8" r="3.4" fill="#544e94" opacity="0.60"/><circle cx="193.6" cy="780.1" r="3.1" fill="#544e94" opacity="0.60"/><circle cx="191.8" cy="726.8" r="3.3" fill="#544e94" opacity="0.60"/><circle cx="215.6" cy="724.7" r="3.5" fill="#544e94" opacity="0.60"/><circle cx="234.8" cy="755.9" r="2.9" fill="#544e94" opacity="0.60"/><circle cx="268.1" cy="783.8" r="3.2" fill="#544e94" opacity="0.60"/>
<ellipse cx="221.8" cy="785.7" rx="2.0" ry="1.9" fill="#14103a" transform="rotate(3 221.8 785.7)"/><ellipse cx="173.2" cy="785.8" rx="1.9" ry="1.5" fill="#14103a" transform="rotate(22 173.2 785.8)"/><ellipse cx="237.7" cy="740.8" rx="2.5" ry="2.4" fill="#14103a" transform="rotate(133 237.7 740.8)"/><ellipse cx="246.0" cy="770.3" rx="2.2" ry="1.9" fill="#14103a" transform="rotate(30 246.0 770.3)"/><ellipse cx="247.0" cy="730.4" rx="1.9" ry="1.8" fill="#14103a" transform="rotate(112 247.0 730.4)"/><ellipse cx="255.8" cy="737.7" rx="2.9" ry="2.3" fill="#14103a" transform="rotate(148 255.8 737.7)"/><ellipse cx="200.8" cy="741.9" rx="2.0" ry="1.9" fill="#14103a" transform="rotate(140 200.8 741.9)"/><ellipse cx="259.6" cy="765.0" rx="2.9" ry="2.4" fill="#14103a" transform="rotate(158 259.6 765.0)"/><ellipse cx="239.9" cy="775.8" rx="2.6" ry="2.0" fill="#14103a" transform="rotate(155 239.9 775.8)"/><ellipse cx="250.9" cy="746.1" rx="2.3" ry="2.1" fill="#14103a" transform="rotate(83 250.9 746.1)"/><ellipse cx="249.9" cy="728.5" rx="2.3" ry="1.8" fill="#14103a" transform="rotate(139 249.9 728.5)"/><ellipse cx="242.8" cy="796.4" rx="2.5" ry="2.5" fill="#14103a" transform="rotate(25 242.8 796.4)"/><ellipse cx="242.9" cy="738.7" rx="1.8" ry="1.8" fill="#14103a" transform="rotate(106 242.9 738.7)"/><ellipse cx="225.9" cy="764.9" rx="2.4" ry="2.1" fill="#14103a" transform="rotate(49 225.9 764.9)"/><ellipse cx="243.6" cy="730.0" rx="2.2" ry="1.9" fill="#14103a" transform="rotate(126 243.6 730.0)"/><ellipse cx="197.4" cy="740.5" rx="2.5" ry="2.3" fill="#14103a" transform="rotate(171 197.4 740.5)"/><ellipse cx="230.2" cy="740.0" rx="2.5" ry="2.1" fill="#14103a" transform="rotate(178 230.2 740.0)"/><ellipse cx="169.3" cy="780.6" rx="2.4" ry="1.9" fill="#14103a" transform="rotate(178 169.3 780.6)"/><ellipse cx="256.0" cy="795.1" rx="1.9" ry="1.8" fill="#14103a" transform="rotate(178 256.0 795.1)"/><ellipse cx="268.9" cy="794.7" rx="2.9" ry="2.5" fill="#14103a" transform="rotate(106 268.9 794.7)"/><ellipse cx="248.4" cy="742.9" rx="2.7" ry="2.4" fill="#14103a" transform="rotate(65 248.4 742.9)"/><ellipse cx="192.0" cy="744.2" rx="2.4" ry="2.2" fill="#14103a" transform="rotate(38 192.0 744.2)"/><ellipse cx="171.1" cy="736.7" rx="2.8" ry="2.5" fill="#14103a" transform="rotate(137 171.1 736.7)"/><ellipse cx="171.2" cy="751.9" rx="2.5" ry="2.1" fill="#14103a" transform="rotate(21 171.2 751.9)"/><ellipse cx="172.3" cy="788.9" rx="2.6" ry="2.6" fill="#14103a" transform="rotate(123 172.3 788.9)"/><ellipse cx="255.3" cy="725.5" rx="2.9" ry="2.9" fill="#14103a" transform="rotate(9 255.3 725.5)"/><ellipse cx="177.4" cy="790.8" rx="2.2" ry="2.2" fill="#14103a" transform="rotate(155 177.4 790.8)"/><ellipse cx="252.1" cy="730.7" rx="1.8" ry="1.4" fill="#14103a" transform="rotate(168 252.1 730.7)"/><ellipse cx="207.1" cy="767.4" rx="2.6" ry="2.3" fill="#14103a" transform="rotate(3 207.1 767.4)"/><ellipse cx="187.0" cy="729.0" rx="2.0" ry="1.8" fill="#14103a" transform="rotate(131 187.0 729.0)"/><ellipse cx="199.3" cy="717.5" rx="2.6" ry="2.0" fill="#14103a" transform="rotate(94 199.3 717.5)"/><ellipse cx="181.2" cy="760.1" rx="1.9" ry="1.7" fill="#14103a" transform="rotate(175 181.2 760.1)"/><ellipse cx="169.4" cy="776.1" rx="1.9" ry="1.8" fill="#14103a" transform="rotate(20 169.4 776.1)"/><ellipse cx="231.5" cy="771.0" rx="2.6" ry="2.1" fill="#14103a" transform="rotate(97 231.5 771.0)"/><ellipse cx="257.5" cy="731.2" rx="2.1" ry="2.0" fill="#14103a" transform="rotate(116 257.5 731.2)"/><ellipse cx="260.3" cy="768.4" rx="1.9" ry="1.8" fill="#14103a" transform="rotate(92 260.3 768.4)"/><ellipse cx="255.9" cy="790.8" rx="2.0" ry="1.8" fill="#14103a" transform="rotate(169 255.9 790.8)"/><ellipse cx="265.0" cy="787.8" rx="2.7" ry="2.5" fill="#14103a" transform="rotate(108 265.0 787.8)"/><ellipse cx="180.9" cy="792.6" rx="2.3" ry="2.0" fill="#14103a" transform="rotate(52 180.9 792.6)"/><ellipse cx="182.0" cy="739.5" rx="2.6" ry="2.0" fill="#14103a" transform="rotate(164 182.0 739.5)"/><ellipse cx="216.9" cy="746.8" rx="2.3" ry="2.2" fill="#14103a" transform="rotate(53 216.9 746.8)"/><ellipse cx="193.3" cy="731.9" rx="2.7" ry="2.1" fill="#14103a" transform="rotate(44 193.3 731.9)"/><ellipse cx="232.5" cy="730.4" rx="1.8" ry="1.8" fill="#14103a" transform="rotate(169 232.5 730.4)"/><ellipse cx="185.9" cy="760.0" rx="2.4" ry="2.3" fill="#14103a" transform="rotate(42 185.9 760.0)"/><ellipse cx="255.6" cy="761.3" rx="2.6" ry="2.2" fill="#14103a" transform="rotate(101 255.6 761.3)"/><ellipse cx="199.9" cy="756.4" rx="1.8" ry="1.7" fill="#14103a" transform="rotate(3 199.9 756.4)"/><ellipse cx="194.8" cy="768.9" rx="2.6" ry="2.5" fill="#14103a" transform="rotate(127 194.8 768.9)"/><ellipse cx="175.0" cy="778.3" rx="2.7" ry="2.2" fill="#14103a" transform="rotate(117 175.0 778.3)"/><ellipse cx="265.2" cy="722.3" rx="2.2" ry="1.8" fill="#14103a" transform="rotate(92 265.2 722.3)"/><ellipse cx="253.2" cy="734.0" rx="1.8" ry="1.4" fill="#14103a" transform="rotate(118 253.2 734.0)"/><ellipse cx="178.2" cy="781.5" rx="2.6" ry="2.1" fill="#14103a" transform="rotate(14 178.2 781.5)"/><ellipse cx="239.3" cy="755.6" rx="1.8" ry="1.5" fill="#14103a" transform="rotate(179 239.3 755.6)"/><ellipse cx="252.7" cy="761.3" rx="1.9" ry="1.8" fill="#14103a" transform="rotate(147 252.7 761.3)"/><ellipse cx="228.5" cy="734.0" rx="2.5" ry="2.0" fill="#14103a" transform="rotate(144 228.5 734.0)"/><ellipse cx="223.6" cy="720.7" rx="2.3" ry="1.7" fill="#14103a" transform="rotate(90 223.6 720.7)"/><ellipse cx="219.5" cy="796.1" rx="2.0" ry="1.8" fill="#14103a" transform="rotate(90 219.5 796.1)"/><ellipse cx="200.3" cy="766.2" rx="2.2" ry="2.2" fill="#14103a" transform="rotate(88 200.3 766.2)"/><ellipse cx="199.1" cy="750.3" rx="2.6" ry="2.5" fill="#14103a" transform="rotate(113 199.1 750.3)"/><ellipse cx="178.0" cy="748.2" rx="2.0" ry="1.8" fill="#14103a" transform="rotate(52 178.0 748.2)"/><ellipse cx="205.4" cy="754.1" rx="2.4" ry="2.3" fill="#14103a" transform="rotate(174 205.4 754.1)"/><ellipse cx="250.2" cy="733.9" rx="2.6" ry="2.2" fill="#14103a" transform="rotate(97 250.2 733.9)"/><ellipse cx="234.4" cy="793.8" rx="2.1" ry="1.9" fill="#14103a" transform="rotate(6 234.4 793.8)"/><ellipse cx="194.4" cy="764.6" rx="2.8" ry="2.5" fill="#14103a" transform="rotate(150 194.4 764.6)"/><ellipse cx="229.7" cy="795.8" rx="2.3" ry="2.0" fill="#14103a" transform="rotate(23 229.7 795.8)"/><ellipse cx="256.3" cy="773.1" rx="1.8" ry="1.8" fill="#14103a" transform="rotate(131 256.3 773.1)"/><ellipse cx="182.9" cy="733.0" rx="2.1" ry="1.8" fill="#14103a" transform="rotate(169 182.9 733.0)"/><ellipse cx="239.6" cy="786.7" rx="2.3" ry="2.2" fill="#14103a" transform="rotate(87 239.6 786.7)"/><ellipse cx="224.7" cy="728.0" rx="2.8" ry="2.6" fill="#14103a" transform="rotate(179 224.7 728.0)"/><ellipse cx="192.8" cy="738.9" rx="2.1" ry="2.1" fill="#14103a" transform="rotate(95 192.8 738.9)"/><ellipse cx="247.3" cy="795.8" rx="2.4" ry="1.9" fill="#14103a" transform="rotate(106 247.3 795.8)"/><ellipse cx="244.6" cy="760.7" rx="2.9" ry="2.7" fill="#14103a" transform="rotate(41 244.6 760.7)"/><ellipse cx="217.1" cy="771.0" rx="2.0" ry="2.0" fill="#14103a" transform="rotate(35 217.1 771.0)"/><ellipse cx="191.2" cy="775.1" rx="2.8" ry="2.7" fill="#14103a" transform="rotate(71 191.2 775.1)"/><ellipse cx="249.8" cy="780.1" rx="2.1" ry="1.9" fill="#14103a" transform="rotate(80 249.8 780.1)"/><ellipse cx="253.4" cy="717.7" rx="2.8" ry="2.3" fill="#14103a" transform="rotate(90 253.4 717.7)"/><ellipse cx="185.4" cy="745.7" rx="2.5" ry="2.2" fill="#14103a" transform="rotate(33 185.4 745.7)"/><ellipse cx="215.2" cy="758.4" rx="1.9" ry="1.6" fill="#14103a" transform="rotate(164 215.2 758.4)"/><ellipse cx="227.6" cy="750.6" rx="1.8" ry="1.5" fill="#14103a" transform="rotate(54 227.6 750.6)"/><ellipse cx="209.7" cy="743.8" rx="2.7" ry="2.1" fill="#14103a" transform="rotate(171 209.7 743.8)"/><ellipse cx="235.0" cy="770.5" rx="2.8" ry="2.3" fill="#14103a" transform="rotate(163 235.0 770.5)"/><ellipse cx="267.0" cy="775.6" rx="2.2" ry="1.7" fill="#14103a" transform="rotate(63 267.0 775.6)"/><ellipse cx="240.3" cy="732.3" rx="2.5" ry="2.0" fill="#14103a" transform="rotate(171 240.3 732.3)"/><ellipse cx="223.0" cy="751.0" rx="1.8" ry="1.6" fill="#14103a" transform="rotate(47 223.0 751.0)"/><ellipse cx="211.2" cy="783.5" rx="2.1" ry="1.7" fill="#14103a" transform="rotate(147 211.2 783.5)"/><ellipse cx="179.6" cy="763.8" rx="2.1" ry="2.1" fill="#14103a" transform="rotate(63 179.6 763.8)"/><ellipse cx="166.0" cy="782.4" rx="2.1" ry="1.9" fill="#14103a" transform="rotate(179 166.0 782.4)"/><ellipse cx="210.1" cy="719.5" rx="1.9" ry="1.5" fill="#14103a" transform="rotate(121 210.1 719.5)"/><ellipse cx="200.0" cy="728.8" rx="2.1" ry="2.0" fill="#14103a" transform="rotate(29 200.0 728.8)"/><ellipse cx="223.8" cy="776.0" rx="2.6" ry="2.5" fill="#14103a" transform="rotate(174 223.8 776.0)"/><ellipse cx="165.2" cy="773.9" rx="2.8" ry="2.5" fill="#14103a" transform="rotate(104 165.2 773.9)"/><ellipse cx="207.9" cy="734.7" rx="2.5" ry="2.0" fill="#14103a" transform="rotate(168 207.9 734.7)"/><ellipse cx="252.5" cy="788.7" rx="2.9" ry="2.2" fill="#14103a" transform="rotate(163 252.5 788.7)"/><ellipse cx="245.9" cy="724.7" rx="1.9" ry="1.5" fill="#14103a" transform="rotate(82 245.9 724.7)"/><ellipse cx="245.6" cy="741.4" rx="1.9" ry="1.7" fill="#14103a" transform="rotate(135 245.6 741.4)"/><ellipse cx="205.6" cy="774.4" rx="2.7" ry="2.1" fill="#14103a" transform="rotate(13 205.6 774.4)"/><ellipse cx="231.7" cy="736.1" rx="2.8" ry="2.5" fill="#14103a" transform="rotate(26 231.7 736.1)"/><ellipse cx="226.1" cy="745.2" rx="2.0" ry="1.8" fill="#14103a" transform="rotate(129 226.1 745.2)"/><ellipse cx="197.3" cy="778.5" rx="1.9" ry="1.5" fill="#14103a" transform="rotate(130 197.3 778.5)"/><ellipse cx="248.3" cy="773.9" rx="2.8" ry="2.6" fill="#14103a" transform="rotate(164 248.3 773.9)"/><ellipse cx="209.3" cy="751.2" rx="2.4" ry="1.9" fill="#14103a" transform="rotate(0 209.3 751.2)"/><ellipse cx="167.0" cy="750.8" rx="2.7" ry="2.5" fill="#14103a" transform="rotate(49 167.0 750.8)"/><ellipse cx="231.7" cy="776.6" rx="2.7" ry="2.5" fill="#14103a" transform="rotate(13 231.7 776.6)"/><ellipse cx="259.0" cy="781.4" rx="2.7" ry="2.7" fill="#14103a" transform="rotate(12 259.0 781.4)"/><ellipse cx="252.6" cy="780.5" rx="2.0" ry="1.6" fill="#14103a" transform="rotate(92 252.6 780.5)"/><ellipse cx="212.0" cy="767.6" rx="1.9" ry="1.7" fill="#14103a" transform="rotate(180 212.0 767.6)"/><ellipse cx="167.7" cy="757.6" rx="2.8" ry="2.1" fill="#14103a" transform="rotate(46 167.7 757.6)"/><ellipse cx="270.3" cy="737.1" rx="2.3" ry="2.1" fill="#14103a" transform="rotate(30 270.3 737.1)"/><ellipse cx="163.3" cy="745.3" rx="2.0" ry="1.9" fill="#14103a" transform="rotate(156 163.3 745.3)"/><ellipse cx="253.8" cy="744.0" rx="2.0" ry="1.8" fill="#14103a" transform="rotate(134 253.8 744.0)"/><ellipse cx="204.3" cy="789.1" rx="2.2" ry="2.0" fill="#14103a" transform="rotate(86 204.3 789.1)"/><ellipse cx="195.0" cy="774.5" rx="1.9" ry="1.9" fill="#14103a" transform="rotate(125 195.0 774.5)"/><ellipse cx="188.4" cy="740.6" rx="2.7" ry="2.4" fill="#14103a" transform="rotate(98 188.4 740.6)"/><ellipse cx="214.4" cy="764.6" rx="1.9" ry="1.9" fill="#14103a" transform="rotate(113 214.4 764.6)"/><ellipse cx="241.8" cy="770.6" rx="2.4" ry="2.3" fill="#14103a" transform="rotate(91 241.8 770.6)"/><ellipse cx="231.6" cy="754.6" rx="2.0" ry="1.8" fill="#14103a" transform="rotate(143 231.6 754.6)"/><ellipse cx="230.9" cy="786.1" rx="2.1" ry="1.6" fill="#14103a" transform="rotate(30 230.9 786.1)"/><ellipse cx="181.3" cy="771.2" rx="2.9" ry="2.4" fill="#14103a" transform="rotate(124 181.3 771.2)"/><ellipse cx="251.7" cy="769.8" rx="2.1" ry="1.7" fill="#14103a" transform="rotate(175 251.7 769.8)"/><ellipse cx="188.3" cy="750.6" rx="2.0" ry="1.9" fill="#14103a" transform="rotate(5 188.3 750.6)"/><ellipse cx="237.9" cy="769.7" rx="1.8" ry="1.4" fill="#14103a" transform="rotate(146 237.9 769.7)"/><ellipse cx="240.0" cy="725.1" rx="1.8" ry="1.4" fill="#14103a" transform="rotate(128 240.0 725.1)"/><ellipse cx="185.0" cy="753.0" rx="2.6" ry="2.0" fill="#14103a" transform="rotate(97 185.0 753.0)"/><ellipse cx="243.8" cy="756.8" rx="2.1" ry="1.7" fill="#14103a" transform="rotate(76 243.8 756.8)"/><ellipse cx="203.3" cy="737.8" rx="2.8" ry="2.5" fill="#14103a" transform="rotate(34 203.3 737.8)"/><ellipse cx="207.5" cy="727.8" rx="2.0" ry="1.7" fill="#14103a" transform="rotate(41 207.5 727.8)"/><ellipse cx="174.9" cy="795.2" rx="2.8" ry="2.5" fill="#14103a" transform="rotate(101 174.9 795.2)"/><ellipse cx="195.8" cy="721.4" rx="2.7" ry="2.1" fill="#14103a" transform="rotate(172 195.8 721.4)"/><ellipse cx="226.5" cy="760.7" rx="2.7" ry="2.5" fill="#14103a" transform="rotate(162 226.5 760.7)"/><ellipse cx="244.4" cy="774.2" rx="2.4" ry="2.3" fill="#14103a" transform="rotate(113 244.4 774.2)"/><ellipse cx="228.8" cy="773.0" rx="2.2" ry="1.7" fill="#14103a" transform="rotate(178 228.8 773.0)"/><ellipse cx="244.1" cy="733.7" rx="2.4" ry="2.2" fill="#14103a" transform="rotate(67 244.1 733.7)"/><ellipse cx="246.8" cy="758.1" rx="2.0" ry="1.6" fill="#14103a" transform="rotate(149 246.8 758.1)"/><ellipse cx="174.7" cy="767.5" rx="2.0" ry="1.6" fill="#14103a" transform="rotate(8 174.7 767.5)"/><ellipse cx="174.2" cy="722.0" rx="2.2" ry="2.2" fill="#14103a" transform="rotate(23 174.2 722.0)"/><ellipse cx="186.7" cy="791.1" rx="2.5" ry="2.1" fill="#14103a" transform="rotate(37 186.7 791.1)"/><ellipse cx="220.0" cy="781.3" rx="1.8" ry="1.5" fill="#14103a" transform="rotate(41 220.0 781.3)"/><ellipse cx="261.5" cy="725.2" rx="2.2" ry="2.1" fill="#14103a" transform="rotate(25 261.5 725.2)"/><ellipse cx="224.9" cy="785.1" rx="2.0" ry="1.5" fill="#14103a" transform="rotate(59 224.9 785.1)"/><ellipse cx="212.8" cy="754.1" rx="2.4" ry="2.3" fill="#14103a" transform="rotate(119 212.8 754.1)"/><ellipse cx="176.2" cy="725.4" rx="2.3" ry="1.7" fill="#14103a" transform="rotate(84 176.2 725.4)"/><ellipse cx="217.9" cy="735.7" rx="2.8" ry="2.2" fill="#14103a" transform="rotate(127 217.9 735.7)"/><ellipse cx="183.8" cy="768.8" rx="2.0" ry="1.9" fill="#14103a" transform="rotate(168 183.8 768.8)"/><ellipse cx="249.7" cy="786.7" rx="2.4" ry="2.2" fill="#14103a" transform="rotate(166 249.7 786.7)"/><ellipse cx="268.8" cy="790.3" rx="2.6" ry="2.2" fill="#14103a" transform="rotate(36 268.8 790.3)"/><ellipse cx="167.6" cy="791.8" rx="2.3" ry="1.9" fill="#14103a" transform="rotate(157 167.6 791.8)"/><ellipse cx="230.3" cy="765.3" rx="1.9" ry="1.7" fill="#14103a" transform="rotate(179 230.3 765.3)"/><ellipse cx="255.5" cy="770.0" rx="2.8" ry="2.3" fill="#14103a" transform="rotate(74 255.5 770.0)"/><ellipse cx="248.3" cy="767.7" rx="2.9" ry="2.5" fill="#14103a" transform="rotate(162 248.3 767.7)"/><ellipse cx="264.5" cy="784.4" rx="2.1" ry="1.6" fill="#14103a" transform="rotate(56 264.5 784.4)"/><ellipse cx="260.3" cy="742.9" rx="2.4" ry="1.9" fill="#14103a" transform="rotate(155 260.3 742.9)"/><ellipse cx="215.6" cy="779.8" rx="2.0" ry="1.6" fill="#14103a" transform="rotate(12 215.6 779.8)"/><ellipse cx="193.1" cy="753.9" rx="2.9" ry="2.5" fill="#14103a" transform="rotate(20 193.1 753.9)"/><ellipse cx="201.6" cy="731.8" rx="1.9" ry="1.5" fill="#14103a" transform="rotate(153 201.6 731.8)"/><ellipse cx="238.4" cy="764.6" rx="2.3" ry="2.2" fill="#14103a" transform="rotate(113 238.4 764.6)"/><ellipse cx="261.1" cy="732.6" rx="2.8" ry="2.4" fill="#14103a" transform="rotate(74 261.1 732.6)"/><ellipse cx="213.1" cy="774.1" rx="2.4" ry="2.3" fill="#14103a" transform="rotate(6 213.1 774.1)"/><ellipse cx="260.4" cy="760.3" rx="1.9" ry="1.7" fill="#14103a" transform="rotate(79 260.4 760.3)"/><ellipse cx="171.9" cy="783.5" rx="2.3" ry="2.2" fill="#14103a" transform="rotate(41 171.9 783.5)"/><ellipse cx="259.0" cy="746.3" rx="2.5" ry="2.1" fill="#14103a" transform="rotate(81 259.0 746.3)"/><ellipse cx="266.9" cy="763.7" rx="2.5" ry="2.3" fill="#14103a" transform="rotate(24 266.9 763.7)"/><ellipse cx="255.2" cy="781.0" rx="2.1" ry="1.8" fill="#14103a" transform="rotate(7 255.2 781.0)"/><ellipse cx="260.7" cy="720.3" rx="2.7" ry="2.1" fill="#14103a" transform="rotate(27 260.7 720.3)"/><ellipse cx="166.3" cy="742.1" rx="2.6" ry="2.0" fill="#14103a" transform="rotate(29 166.3 742.1)"/><ellipse cx="233.2" cy="740.5" rx="2.2" ry="2.1" fill="#14103a" transform="rotate(48 233.2 740.5)"/><ellipse cx="202.8" cy="794.1" rx="2.0" ry="2.0" fill="#14103a" transform="rotate(126 202.8 794.1)"/><ellipse cx="255.3" cy="752.4" rx="1.8" ry="1.7" fill="#14103a" transform="rotate(17 255.3 752.4)"/><ellipse cx="268.1" cy="771.4" rx="2.7" ry="2.6" fill="#14103a" transform="rotate(169 268.1 771.4)"/><ellipse cx="198.4" cy="775.3" rx="2.8" ry="2.1" fill="#14103a" transform="rotate(36 198.4 775.3)"/><ellipse cx="198.0" cy="731.0" rx="2.3" ry="1.8" fill="#14103a" transform="rotate(66 198.0 731.0)"/><ellipse cx="196.4" cy="744.2" rx="2.0" ry="1.8" fill="#14103a" transform="rotate(131 196.4 744.2)"/><ellipse cx="182.3" cy="776.5" rx="2.2" ry="1.8" fill="#14103a" transform="rotate(133 182.3 776.5)"/><ellipse cx="205.8" cy="739.9" rx="2.0" ry="1.9" fill="#14103a" transform="rotate(11 205.8 739.9)"/><ellipse cx="222.5" cy="755.2" rx="2.1" ry="2.0" fill="#14103a" transform="rotate(117 222.5 755.2)"/><ellipse cx="250.4" cy="717.3" rx="2.0" ry="1.5" fill="#14103a" transform="rotate(115 250.4 717.3)"/><ellipse cx="260.5" cy="796.8" rx="2.1" ry="2.1" fill="#14103a" transform="rotate(86 260.5 796.8)"/><ellipse cx="265.0" cy="772.5" rx="2.0" ry="1.5" fill="#14103a" transform="rotate(115 265.0 772.5)"/><ellipse cx="236.3" cy="780.7" rx="2.6" ry="2.4" fill="#14103a" transform="rotate(116 236.3 780.7)"/><ellipse cx="184.3" cy="718.1" rx="2.8" ry="2.5" fill="#14103a" transform="rotate(21 184.3 718.1)"/><ellipse cx="196.4" cy="735.1" rx="2.5" ry="2.2" fill="#14103a" transform="rotate(54 196.4 735.1)"/><ellipse cx="204.0" cy="779.7" rx="2.5" ry="2.2" fill="#14103a" transform="rotate(167 204.0 779.7)"/><ellipse cx="193.7" cy="758.5" rx="2.4" ry="2.0" fill="#14103a" transform="rotate(93 193.7 758.5)"/><ellipse cx="189.8" cy="760.5" rx="2.4" ry="2.1" fill="#14103a" transform="rotate(52 189.8 760.5)"/><ellipse cx="248.4" cy="749.9" rx="2.7" ry="2.2" fill="#14103a" transform="rotate(138 248.4 749.9)"/><ellipse cx="227.9" cy="785.5" rx="2.5" ry="2.5" fill="#14103a" transform="rotate(136 227.9 785.5)"/><ellipse cx="172.2" cy="778.6" rx="1.9" ry="1.5" fill="#14103a" transform="rotate(139 172.2 778.6)"/><ellipse cx="240.8" cy="762.3" rx="1.9" ry="1.7" fill="#14103a" transform="rotate(144 240.8 762.3)"/><ellipse cx="207.9" cy="779.3" rx="1.9" ry="1.9" fill="#14103a" transform="rotate(55 207.9 779.3)"/><ellipse cx="266.6" cy="727.6" rx="1.9" ry="1.9" fill="#14103a" transform="rotate(118 266.6 727.6)"/><ellipse cx="183.7" cy="728.5" rx="2.7" ry="2.4" fill="#14103a" transform="rotate(31 183.7 728.5)"/><ellipse cx="175.5" cy="774.7" rx="2.8" ry="2.5" fill="#14103a" transform="rotate(121 175.5 774.7)"/><ellipse cx="267.3" cy="757.5" rx="2.6" ry="2.5" fill="#14103a" transform="rotate(54 267.3 757.5)"/><ellipse cx="163.8" cy="737.3" rx="2.6" ry="2.0" fill="#14103a" transform="rotate(69 163.8 737.3)"/><ellipse cx="182.4" cy="784.6" rx="2.3" ry="2.1" fill="#14103a" transform="rotate(124 182.4 784.6)"/><ellipse cx="181.6" cy="750.0" rx="2.9" ry="2.5" fill="#14103a" transform="rotate(158 181.6 750.0)"/><ellipse cx="181.1" cy="788.6" rx="2.6" ry="2.2" fill="#14103a" transform="rotate(23 181.1 788.6)"/><ellipse cx="193.7" cy="780.2" rx="2.3" ry="1.9" fill="#14103a" transform="rotate(45 193.7 780.2)"/><ellipse cx="192.0" cy="726.8" rx="2.3" ry="1.9" fill="#14103a" transform="rotate(34 192.0 726.8)"/><ellipse cx="215.9" cy="724.6" rx="2.8" ry="2.2" fill="#14103a" transform="rotate(161 215.9 724.6)"/><ellipse cx="234.6" cy="755.6" rx="1.9" ry="1.5" fill="#14103a" transform="rotate(146 234.6 755.6)"/><ellipse cx="267.7" cy="783.4" rx="2.1" ry="2.1" fill="#14103a" transform="rotate(94 267.7 783.4)"/>
</g></g>
<defs><clipPath id="mc5"><rect x="164.2" y="799.4" width="106.1" height="79.1"/></clipPath><linearGradient id="mg5" x1="0" y1="0" x2="1" y2="0.3"><stop offset="0" stop-color="#f0eef5"/><stop offset="1" stop-color="#eceaf1"/></linearGradient></defs>
<g clip-path="url(#mc5)">
<rect x="164.2" y="799.4" width="106.1" height="79.1" fill="url(#mg5)"/>
<g filter="url(#blur2)">
<ellipse cx="194.2" cy="854.4" rx="30" ry="20" fill="#e6ecd6"/>
<ellipse cx="214.2" cy="814.4" rx="30" ry="10" fill="#f1eff6"/>
<ellipse cx="249.2" cy="859.4" rx="18" ry="12" fill="#e8ecd8"/>
</g><g filter="url(#blur1)">
<circle cx="215.1" cy="847.0" r="4.1" fill="#70509a" opacity="0.60"/><circle cx="195.9" cy="826.6" r="3.6" fill="#70509a" opacity="0.60"/><circle cx="234.6" cy="842.2" r="3.7" fill="#70509a" opacity="0.60"/><circle cx="241.3" cy="833.0" r="3.5" fill="#70509a" opacity="0.60"/><circle cx="231.8" cy="801.7" r="3.5" fill="#70509a" opacity="0.60"/><circle cx="224.8" cy="866.7" r="3.3" fill="#70509a" opacity="0.60"/><circle cx="175.1" cy="854.3" r="3.4" fill="#70509a" opacity="0.60"/><ellipse cx="205.3" cy="850.0" rx="5.5" ry="0.7" fill="#70509a" opacity="0.8" transform="rotate(128 205.3 850.0)"/><circle cx="205.2" cy="849.7" r="3.1" fill="#70509a" opacity="0.60"/><ellipse cx="254.2" cy="816.3" rx="5.2" ry="0.7" fill="#70509a" opacity="0.8" transform="rotate(90 254.2 816.3)"/><circle cx="254.5" cy="815.9" r="3.7" fill="#70509a" opacity="0.60"/><ellipse cx="195.8" cy="809.0" rx="8.3" ry="0.7" fill="#70509a" opacity="0.8" transform="rotate(169 195.8 809.0)"/><circle cx="195.7" cy="808.8" r="4.1" fill="#70509a" opacity="0.60"/><circle cx="259.5" cy="819.0" r="4.1" fill="#70509a" opacity="0.60"/><ellipse cx="195.4" cy="820.3" rx="7.8" ry="1.0" fill="#70509a" opacity="0.8" transform="rotate(77 195.4 820.3)"/><circle cx="195.7" cy="820.1" r="2.8" fill="#70509a" opacity="0.60"/><circle cx="212.2" cy="837.6" r="3.8" fill="#70509a" opacity="0.60"/><circle cx="176.6" cy="817.0" r="4.0" fill="#70509a" opacity="0.60"/><circle cx="182.3" cy="820.7" r="4.2" fill="#70509a" opacity="0.60"/><circle cx="242.1" cy="827.3" r="3.6" fill="#70509a" opacity="0.60"/><circle cx="224.2" cy="850.5" r="3.4" fill="#70509a" opacity="0.60"/><circle cx="184.9" cy="824.9" r="3.4" fill="#70509a" opacity="0.60"/><circle cx="189.9" cy="842.4" r="3.5" fill="#70509a" opacity="0.60"/><circle cx="211.6" cy="851.0" r="3.4" fill="#70509a" opacity="0.60"/><circle cx="223.7" cy="846.6" r="3.5" fill="#70509a" opacity="0.60"/><circle cx="232.6" cy="832.0" r="3.0" fill="#70509a" opacity="0.60"/><circle cx="166.0" cy="834.0" r="3.2" fill="#70509a" opacity="0.60"/><circle cx="222.2" cy="879.1" r="4.2" fill="#70509a" opacity="0.60"/><circle cx="208.1" cy="839.8" r="4.0" fill="#70509a" opacity="0.60"/><circle cx="234.3" cy="865.2" r="3.4" fill="#70509a" opacity="0.60"/><ellipse cx="202.5" cy="868.1" rx="5.8" ry="1.0" fill="#70509a" opacity="0.8" transform="rotate(165 202.5 868.1)"/><circle cx="202.8" cy="868.1" r="4.1" fill="#70509a" opacity="0.60"/><ellipse cx="208.8" cy="858.0" rx="6.1" ry="0.9" fill="#70509a" opacity="0.8" transform="rotate(103 208.8 858.0)"/><circle cx="208.5" cy="858.2" r="3.8" fill="#70509a" opacity="0.60"/><circle cx="171.8" cy="827.2" r="3.9" fill="#70509a" opacity="0.60"/><circle cx="240.0" cy="871.0" r="3.7" fill="#70509a" opacity="0.60"/><circle cx="179.5" cy="850.3" r="3.5" fill="#70509a" opacity="0.60"/><circle cx="217.3" cy="819.9" r="3.6" fill="#70509a" opacity="0.60"/><ellipse cx="222.8" cy="824.2" rx="4.9" ry="0.8" fill="#70509a" opacity="0.8" transform="rotate(117 222.8 824.2)"/><circle cx="223.0" cy="824.4" r="3.2" fill="#70509a" opacity="0.60"/><circle cx="174.5" cy="846.8" r="4.1" fill="#70509a" opacity="0.60"/><circle cx="195.6" cy="817.4" r="3.1" fill="#70509a" opacity="0.60"/><circle cx="260.6" cy="837.2" r="4.1" fill="#70509a" opacity="0.60"/><circle cx="166.4" cy="878.9" r="3.9" fill="#70509a" opacity="0.60"/><circle cx="178.8" cy="838.0" r="3.0" fill="#70509a" opacity="0.60"/><circle cx="243.5" cy="804.0" r="3.4" fill="#70509a" opacity="0.60"/><ellipse cx="226.4" cy="844.8" rx="6.2" ry="1.0" fill="#70509a" opacity="0.8" transform="rotate(102 226.4 844.8)"/><circle cx="226.1" cy="844.7" r="3.7" fill="#70509a" opacity="0.60"/><circle cx="242.5" cy="815.7" r="4.0" fill="#70509a" opacity="0.60"/><circle cx="266.4" cy="830.1" r="3.2" fill="#70509a" opacity="0.60"/><circle cx="206.8" cy="868.3" r="3.0" fill="#70509a" opacity="0.60"/><circle cx="173.7" cy="802.3" r="4.3" fill="#70509a" opacity="0.60"/><circle cx="234.7" cy="835.5" r="3.3" fill="#70509a" opacity="0.60"/><circle cx="239.8" cy="878.2" r="3.9" fill="#70509a" opacity="0.60"/><circle cx="188.3" cy="856.9" r="3.2" fill="#70509a" opacity="0.60"/><circle cx="244.8" cy="876.0" r="3.3" fill="#70509a" opacity="0.60"/><circle cx="244.1" cy="863.9" r="3.6" fill="#70509a" opacity="0.60"/><circle cx="247.5" cy="805.9" r="3.7" fill="#70509a" opacity="0.60"/><circle cx="220.1" cy="867.2" r="3.8" fill="#70509a" opacity="0.60"/><circle cx="209.8" cy="843.2" r="3.7" fill="#70509a" opacity="0.60"/><ellipse cx="198.7" cy="803.9" rx="8.0" ry="0.6" fill="#70509a" opacity="0.8" transform="rotate(119 198.7 803.9)"/><circle cx="198.7" cy="803.8" r="3.3" fill="#70509a" opacity="0.60"/><circle cx="205.6" cy="878.4" r="3.3" fill="#70509a" opacity="0.60"/><circle cx="196.8" cy="878.0" r="4.5" fill="#70509a" opacity="0.60"/><ellipse cx="178.7" cy="866.4" rx="7.4" ry="0.8" fill="#70509a" opacity="0.8" transform="rotate(39 178.7 866.4)"/><circle cx="178.7" cy="866.5" r="3.7" fill="#70509a" opacity="0.60"/><circle cx="231.5" cy="827.2" r="3.4" fill="#70509a" opacity="0.60"/><ellipse cx="252.3" cy="809.2" rx="7.2" ry="1.1" fill="#70509a" opacity="0.8" transform="rotate(155 252.3 809.2)"/><circle cx="252.6" cy="809.6" r="3.8" fill="#70509a" opacity="0.60"/><circle cx="245.9" cy="868.2" r="4.0" fill="#70509a" opacity="0.60"/><ellipse cx="255.9" cy="820.4" rx="6.6" ry="0.7" fill="#70509a" opacity="0.8" transform="rotate(76 255.9 820.4)"/><circle cx="255.8" cy="820.5" r="4.2" fill="#70509a" opacity="0.60"/><circle cx="190.4" cy="808.2" r="3.9" fill="#70509a" opacity="0.60"/><circle cx="194.9" cy="858.9" r="3.6" fill="#70509a" opacity="0.60"/><circle cx="200.9" cy="841.0" r="4.0" fill="#70509a" opacity="0.60"/><circle cx="245.1" cy="872.7" r="3.7" fill="#70509a" opacity="0.60"/><circle cx="203.8" cy="860.1" r="4.1" fill="#70509a" opacity="0.60"/><ellipse cx="266.9" cy="848.3" rx="5.3" ry="0.9" fill="#70509a" opacity="0.8" transform="rotate(129 266.9 848.3)"/><circle cx="266.9" cy="848.4" r="3.5" fill="#70509a" opacity="0.60"/><circle cx="208.8" cy="822.2" r="3.9" fill="#70509a" opacity="0.60"/><circle cx="209.3" cy="834.0" r="3.5" fill="#70509a" opacity="0.60"/><circle cx="190.1" cy="824.6" r="4.3" fill="#70509a" opacity="0.60"/><circle cx="183.2" cy="862.0" r="3.7" fill="#70509a" opacity="0.60"/><circle cx="192.9" cy="870.3" r="3.7" fill="#70509a" opacity="0.60"/><circle cx="235.5" cy="831.4" r="3.9" fill="#70509a" opacity="0.60"/><circle cx="214.5" cy="863.0" r="3.1" fill="#70509a" opacity="0.60"/><circle cx="185.5" cy="817.2" r="3.9" fill="#70509a" opacity="0.60"/><circle cx="189.5" cy="860.9" r="4.2" fill="#70509a" opacity="0.60"/><circle cx="182.5" cy="815.8" r="4.1" fill="#70509a" opacity="0.60"/><circle cx="198.6" cy="843.6" r="4.0" fill="#70509a" opacity="0.60"/><circle cx="194.5" cy="864.3" r="4.1" fill="#70509a" opacity="0.60"/><circle cx="226.7" cy="825.5" r="4.1" fill="#70509a" opacity="0.60"/><circle cx="214.3" cy="831.8" r="3.4" fill="#70509a" opacity="0.60"/><circle cx="172.7" cy="861.0" r="4.0" fill="#70509a" opacity="0.60"/><circle cx="254.9" cy="872.3" r="3.5" fill="#70509a" opacity="0.60"/><circle cx="187.5" cy="834.0" r="4.0" fill="#70509a" opacity="0.60"/><ellipse cx="204.2" cy="855.6" rx="8.9" ry="1.1" fill="#70509a" opacity="0.8" transform="rotate(148 204.2 855.6)"/><circle cx="204.2" cy="855.8" r="3.7" fill="#70509a" opacity="0.60"/><circle cx="215.3" cy="872.8" r="3.6" fill="#70509a" opacity="0.60"/><circle cx="187.2" cy="853.1" r="3.2" fill="#70509a" opacity="0.60"/><ellipse cx="206.8" cy="844.7" rx="7.9" ry="0.8" fill="#70509a" opacity="0.8" transform="rotate(22 206.8 844.7)"/><circle cx="207.0" cy="844.6" r="3.1" fill="#70509a" opacity="0.60"/><circle cx="244.8" cy="808.4" r="3.3" fill="#70509a" opacity="0.60"/><circle cx="254.9" cy="854.2" r="3.3" fill="#70509a" opacity="0.60"/><circle cx="177.6" cy="860.0" r="3.3" fill="#70509a" opacity="0.60"/><circle cx="225.4" cy="873.0" r="3.5" fill="#70509a" opacity="0.60"/><circle cx="222.6" cy="855.3" r="3.8" fill="#70509a" opacity="0.60"/><circle cx="237.8" cy="825.0" r="3.7" fill="#70509a" opacity="0.60"/><ellipse cx="169.9" cy="854.7" rx="7.8" ry="0.8" fill="#70509a" opacity="0.8" transform="rotate(96 169.9 854.7)"/><circle cx="169.8" cy="854.5" r="3.6" fill="#70509a" opacity="0.60"/><circle cx="185.1" cy="873.5" r="3.1" fill="#70509a" opacity="0.60"/><circle cx="252.6" cy="875.2" r="4.1" fill="#70509a" opacity="0.60"/><circle cx="261.4" cy="815.7" r="3.6" fill="#70509a" opacity="0.60"/><circle cx="212.2" cy="820.4" r="4.0" fill="#70509a" opacity="0.60"/><circle cx="248.2" cy="874.0" r="3.0" fill="#70509a" opacity="0.60"/><circle cx="236.1" cy="851.8" r="3.1" fill="#70509a" opacity="0.60"/><circle cx="170.9" cy="815.8" r="3.7" fill="#70509a" opacity="0.60"/><circle cx="211.8" cy="860.3" r="3.5" fill="#70509a" opacity="0.60"/><ellipse cx="212.1" cy="869.7" rx="8.0" ry="0.9" fill="#70509a" opacity="0.8" transform="rotate(119 212.1 869.7)"/><circle cx="212.4" cy="869.8" r="3.5" fill="#70509a" opacity="0.60"/><circle cx="208.2" cy="873.2" r="3.7" fill="#70509a" opacity="0.60"/><circle cx="231.6" cy="877.3" r="2.8" fill="#70509a" opacity="0.60"/><circle cx="187.0" cy="813.2" r="3.4" fill="#70509a" opacity="0.60"/><circle cx="182.1" cy="832.0" r="3.4" fill="#70509a" opacity="0.60"/><circle cx="253.6" cy="866.3" r="3.9" fill="#70509a" opacity="0.60"/><ellipse cx="230.2" cy="844.1" rx="8.4" ry="1.0" fill="#70509a" opacity="0.8" transform="rotate(165 230.2 844.1)"/><circle cx="230.0" cy="843.9" r="3.9" fill="#70509a" opacity="0.60"/><circle cx="229.0" cy="822.0" r="4.2" fill="#70509a" opacity="0.60"/><ellipse cx="256.6" cy="861.9" rx="6.8" ry="0.7" fill="#70509a" opacity="0.8" transform="rotate(29 256.6 861.9)"/><circle cx="256.2" cy="862.0" r="3.6" fill="#70509a" opacity="0.60"/><circle cx="169.2" cy="876.9" r="4.1" fill="#70509a" opacity="0.60"/><circle cx="217.2" cy="835.0" r="3.1" fill="#70509a" opacity="0.60"/><circle cx="248.6" cy="878.4" r="3.3" fill="#70509a" opacity="0.60"/><circle cx="264.9" cy="806.0" r="3.3" fill="#70509a" opacity="0.60"/><circle cx="218.1" cy="864.0" r="4.2" fill="#70509a" opacity="0.60"/><circle cx="183.4" cy="857.2" r="4.0" fill="#70509a" opacity="0.60"/><circle cx="243.0" cy="860.6" r="3.3" fill="#70509a" opacity="0.60"/>
<ellipse cx="215.0" cy="847.4" rx="3.0" ry="2.4" fill="#130a2c" transform="rotate(91 215.0 847.4)"/><ellipse cx="195.8" cy="826.9" rx="2.9" ry="2.4" fill="#130a2c" transform="rotate(151 195.8 826.9)"/><ellipse cx="234.8" cy="842.2" rx="2.5" ry="2.0" fill="#130a2c" transform="rotate(94 234.8 842.2)"/><ellipse cx="240.9" cy="833.2" rx="2.6" ry="2.1" fill="#130a2c" transform="rotate(82 240.9 833.2)"/><ellipse cx="231.6" cy="801.7" rx="2.3" ry="1.7" fill="#130a2c" transform="rotate(40 231.6 801.7)"/><ellipse cx="224.9" cy="866.4" rx="2.1" ry="1.7" fill="#130a2c" transform="rotate(99 224.9 866.4)"/><ellipse cx="175.3" cy="854.4" rx="2.3" ry="2.2" fill="#130a2c" transform="rotate(107 175.3 854.4)"/><ellipse cx="205.3" cy="850.0" rx="2.1" ry="1.8" fill="#130a2c" transform="rotate(73 205.3 850.0)"/><ellipse cx="254.2" cy="816.3" rx="2.7" ry="2.1" fill="#130a2c" transform="rotate(6 254.2 816.3)"/><ellipse cx="195.8" cy="809.0" rx="2.8" ry="2.4" fill="#130a2c" transform="rotate(88 195.8 809.0)"/><ellipse cx="259.5" cy="819.0" rx="3.0" ry="2.3" fill="#130a2c" transform="rotate(21 259.5 819.0)"/><ellipse cx="195.4" cy="820.3" rx="2.1" ry="2.1" fill="#130a2c" transform="rotate(62 195.4 820.3)"/><ellipse cx="212.0" cy="837.9" rx="2.6" ry="2.6" fill="#130a2c" transform="rotate(100 212.0 837.9)"/><ellipse cx="176.7" cy="816.6" rx="2.7" ry="2.2" fill="#130a2c" transform="rotate(139 176.7 816.6)"/><ellipse cx="182.1" cy="820.8" rx="3.2" ry="3.0" fill="#130a2c" transform="rotate(35 182.1 820.8)"/><ellipse cx="241.8" cy="827.2" rx="2.5" ry="2.2" fill="#130a2c" transform="rotate(127 241.8 827.2)"/><ellipse cx="223.9" cy="850.3" rx="2.0" ry="2.0" fill="#130a2c" transform="rotate(56 223.9 850.3)"/><ellipse cx="184.8" cy="825.0" rx="2.6" ry="2.5" fill="#130a2c" transform="rotate(19 184.8 825.0)"/><ellipse cx="190.0" cy="842.3" rx="2.8" ry="2.5" fill="#130a2c" transform="rotate(23 190.0 842.3)"/><ellipse cx="211.4" cy="850.9" rx="2.0" ry="1.6" fill="#130a2c" transform="rotate(150 211.4 850.9)"/><ellipse cx="223.6" cy="846.7" rx="2.3" ry="2.3" fill="#130a2c" transform="rotate(167 223.6 846.7)"/><ellipse cx="232.7" cy="831.9" rx="2.1" ry="1.9" fill="#130a2c" transform="rotate(88 232.7 831.9)"/><ellipse cx="166.0" cy="834.0" rx="2.1" ry="2.0" fill="#130a2c" transform="rotate(148 166.0 834.0)"/><ellipse cx="222.6" cy="879.0" rx="3.0" ry="2.4" fill="#130a2c" transform="rotate(124 222.6 879.0)"/><ellipse cx="208.0" cy="839.9" rx="2.9" ry="2.6" fill="#130a2c" transform="rotate(80 208.0 839.9)"/><ellipse cx="234.0" cy="864.9" rx="2.3" ry="2.2" fill="#130a2c" transform="rotate(18 234.0 864.9)"/><ellipse cx="202.5" cy="868.1" rx="3.2" ry="3.1" fill="#130a2c" transform="rotate(165 202.5 868.1)"/><ellipse cx="208.8" cy="858.0" rx="2.9" ry="2.8" fill="#130a2c" transform="rotate(145 208.8 858.0)"/><ellipse cx="172.0" cy="827.2" rx="2.8" ry="2.3" fill="#130a2c" transform="rotate(166 172.0 827.2)"/><ellipse cx="240.4" cy="871.3" rx="2.3" ry="1.9" fill="#130a2c" transform="rotate(64 240.4 871.3)"/><ellipse cx="179.3" cy="850.1" rx="2.6" ry="2.2" fill="#130a2c" transform="rotate(74 179.3 850.1)"/><ellipse cx="217.3" cy="820.1" rx="2.8" ry="2.8" fill="#130a2c" transform="rotate(58 217.3 820.1)"/><ellipse cx="222.8" cy="824.2" rx="2.1" ry="1.8" fill="#130a2c" transform="rotate(117 222.8 824.2)"/><ellipse cx="174.6" cy="846.8" rx="2.8" ry="2.3" fill="#130a2c" transform="rotate(68 174.6 846.8)"/><ellipse cx="195.8" cy="817.4" rx="2.2" ry="2.2" fill="#130a2c" transform="rotate(32 195.8 817.4)"/><ellipse cx="260.3" cy="837.4" rx="2.9" ry="2.8" fill="#130a2c" transform="rotate(28 260.3 837.4)"/><ellipse cx="166.2" cy="878.7" rx="2.5" ry="2.4" fill="#130a2c" transform="rotate(164 166.2 878.7)"/><ellipse cx="178.6" cy="837.9" rx="2.0" ry="1.9" fill="#130a2c" transform="rotate(2 178.6 837.9)"/><ellipse cx="243.6" cy="804.3" rx="2.1" ry="1.9" fill="#130a2c" transform="rotate(11 243.6 804.3)"/><ellipse cx="226.4" cy="844.8" rx="2.6" ry="2.0" fill="#130a2c" transform="rotate(6 226.4 844.8)"/><ellipse cx="242.8" cy="815.7" rx="3.1" ry="3.0" fill="#130a2c" transform="rotate(84 242.8 815.7)"/><ellipse cx="266.2" cy="830.5" rx="2.0" ry="1.6" fill="#130a2c" transform="rotate(26 266.2 830.5)"/><ellipse cx="206.7" cy="868.0" rx="2.0" ry="1.6" fill="#130a2c" transform="rotate(38 206.7 868.0)"/><ellipse cx="173.8" cy="802.2" rx="3.0" ry="2.9" fill="#130a2c" transform="rotate(96 173.8 802.2)"/><ellipse cx="234.4" cy="835.4" rx="2.3" ry="2.2" fill="#130a2c" transform="rotate(48 234.4 835.4)"/><ellipse cx="239.4" cy="878.4" rx="2.8" ry="2.3" fill="#130a2c" transform="rotate(168 239.4 878.4)"/><ellipse cx="188.1" cy="856.9" rx="2.1" ry="2.0" fill="#130a2c" transform="rotate(111 188.1 856.9)"/><ellipse cx="244.5" cy="875.7" rx="2.2" ry="2.0" fill="#130a2c" transform="rotate(139 244.5 875.7)"/><ellipse cx="243.9" cy="863.7" rx="2.3" ry="1.9" fill="#130a2c" transform="rotate(10 243.9 863.7)"/><ellipse cx="247.7" cy="805.8" rx="2.3" ry="1.7" fill="#130a2c" transform="rotate(60 247.7 805.8)"/><ellipse cx="220.2" cy="867.5" rx="2.6" ry="2.1" fill="#130a2c" transform="rotate(143 220.2 867.5)"/><ellipse cx="209.4" cy="843.4" rx="2.6" ry="2.5" fill="#130a2c" transform="rotate(78 209.4 843.4)"/><ellipse cx="198.7" cy="803.9" rx="2.0" ry="1.8" fill="#130a2c" transform="rotate(80 198.7 803.9)"/><ellipse cx="205.8" cy="878.4" rx="2.3" ry="1.7" fill="#130a2c" transform="rotate(91 205.8 878.4)"/><ellipse cx="197.0" cy="877.7" rx="3.1" ry="2.4" fill="#130a2c" transform="rotate(135 197.0 877.7)"/><ellipse cx="178.7" cy="866.4" rx="2.4" ry="2.4" fill="#130a2c" transform="rotate(125 178.7 866.4)"/><ellipse cx="231.4" cy="827.5" rx="2.6" ry="2.5" fill="#130a2c" transform="rotate(167 231.4 827.5)"/><ellipse cx="252.3" cy="809.2" rx="2.4" ry="2.3" fill="#130a2c" transform="rotate(29 252.3 809.2)"/><ellipse cx="245.8" cy="867.9" rx="3.2" ry="3.1" fill="#130a2c" transform="rotate(49 245.8 867.9)"/><ellipse cx="255.9" cy="820.4" rx="2.9" ry="2.7" fill="#130a2c" transform="rotate(37 255.9 820.4)"/><ellipse cx="190.7" cy="807.8" rx="2.6" ry="2.2" fill="#130a2c" transform="rotate(41 190.7 807.8)"/><ellipse cx="194.5" cy="858.7" rx="2.3" ry="2.1" fill="#130a2c" transform="rotate(142 194.5 858.7)"/><ellipse cx="201.2" cy="840.9" rx="3.1" ry="2.4" fill="#130a2c" transform="rotate(139 201.2 840.9)"/><ellipse cx="245.3" cy="872.7" rx="2.5" ry="2.3" fill="#130a2c" transform="rotate(42 245.3 872.7)"/><ellipse cx="203.9" cy="860.5" rx="2.9" ry="2.2" fill="#130a2c" transform="rotate(118 203.9 860.5)"/><ellipse cx="266.9" cy="848.3" rx="2.1" ry="1.8" fill="#130a2c" transform="rotate(65 266.9 848.3)"/><ellipse cx="209.0" cy="822.4" rx="2.6" ry="2.5" fill="#130a2c" transform="rotate(4 209.0 822.4)"/><ellipse cx="209.7" cy="833.9" rx="2.1" ry="1.9" fill="#130a2c" transform="rotate(30 209.7 833.9)"/><ellipse cx="190.0" cy="824.9" rx="3.1" ry="2.6" fill="#130a2c" transform="rotate(44 190.0 824.9)"/><ellipse cx="182.8" cy="861.8" rx="2.3" ry="2.1" fill="#130a2c" transform="rotate(80 182.8 861.8)"/><ellipse cx="193.1" cy="870.3" rx="2.9" ry="2.6" fill="#130a2c" transform="rotate(90 193.1 870.3)"/><ellipse cx="235.6" cy="831.2" rx="2.5" ry="1.9" fill="#130a2c" transform="rotate(103 235.6 831.2)"/><ellipse cx="214.5" cy="863.4" rx="2.0" ry="1.7" fill="#130a2c" transform="rotate(9 214.5 863.4)"/><ellipse cx="185.8" cy="817.0" rx="2.8" ry="2.4" fill="#130a2c" transform="rotate(94 185.8 817.0)"/><ellipse cx="189.4" cy="861.2" rx="2.7" ry="2.5" fill="#130a2c" transform="rotate(77 189.4 861.2)"/><ellipse cx="182.3" cy="816.0" rx="2.9" ry="2.7" fill="#130a2c" transform="rotate(59 182.3 816.0)"/><ellipse cx="198.9" cy="843.6" rx="2.6" ry="2.0" fill="#130a2c" transform="rotate(110 198.9 843.6)"/><ellipse cx="194.1" cy="864.5" rx="3.2" ry="2.7" fill="#130a2c" transform="rotate(82 194.1 864.5)"/><ellipse cx="226.3" cy="825.1" rx="3.0" ry="3.0" fill="#130a2c" transform="rotate(11 226.3 825.1)"/><ellipse cx="214.5" cy="831.7" rx="2.5" ry="2.3" fill="#130a2c" transform="rotate(24 214.5 831.7)"/><ellipse cx="172.3" cy="861.1" rx="2.6" ry="2.4" fill="#130a2c" transform="rotate(164 172.3 861.1)"/><ellipse cx="254.8" cy="872.3" rx="2.4" ry="2.1" fill="#130a2c" transform="rotate(75 254.8 872.3)"/><ellipse cx="187.2" cy="833.8" rx="2.8" ry="2.3" fill="#130a2c" transform="rotate(8 187.2 833.8)"/><ellipse cx="204.2" cy="855.6" rx="2.4" ry="2.1" fill="#130a2c" transform="rotate(136 204.2 855.6)"/><ellipse cx="215.5" cy="872.8" rx="2.4" ry="2.1" fill="#130a2c" transform="rotate(23 215.5 872.8)"/><ellipse cx="186.9" cy="853.2" rx="2.2" ry="2.1" fill="#130a2c" transform="rotate(150 186.9 853.2)"/><ellipse cx="206.8" cy="844.7" rx="2.0" ry="1.9" fill="#130a2c" transform="rotate(88 206.8 844.7)"/><ellipse cx="244.9" cy="808.1" rx="2.5" ry="2.1" fill="#130a2c" transform="rotate(39 244.9 808.1)"/><ellipse cx="254.5" cy="854.0" rx="2.2" ry="2.0" fill="#130a2c" transform="rotate(142 254.5 854.0)"/><ellipse cx="177.8" cy="859.8" rx="2.1" ry="1.8" fill="#130a2c" transform="rotate(125 177.8 859.8)"/><ellipse cx="225.2" cy="872.7" rx="2.6" ry="2.5" fill="#130a2c" transform="rotate(154 225.2 872.7)"/><ellipse cx="222.6" cy="855.0" rx="2.6" ry="2.4" fill="#130a2c" transform="rotate(48 222.6 855.0)"/><ellipse cx="238.2" cy="824.7" rx="2.4" ry="2.0" fill="#130a2c" transform="rotate(124 238.2 824.7)"/><ellipse cx="169.9" cy="854.7" rx="2.8" ry="2.1" fill="#130a2c" transform="rotate(132 169.9 854.7)"/><ellipse cx="185.1" cy="873.4" rx="2.3" ry="1.9" fill="#130a2c" transform="rotate(96 185.1 873.4)"/><ellipse cx="252.8" cy="875.2" rx="3.2" ry="2.6" fill="#130a2c" transform="rotate(173 252.8 875.2)"/><ellipse cx="261.1" cy="815.5" rx="2.7" ry="2.7" fill="#130a2c" transform="rotate(108 261.1 815.5)"/><ellipse cx="212.4" cy="820.8" rx="2.8" ry="2.5" fill="#130a2c" transform="rotate(130 212.4 820.8)"/><ellipse cx="248.5" cy="873.9" rx="2.1" ry="2.0" fill="#130a2c" transform="rotate(75 248.5 873.9)"/><ellipse cx="236.2" cy="852.1" rx="2.2" ry="1.7" fill="#130a2c" transform="rotate(167 236.2 852.1)"/><ellipse cx="170.8" cy="816.0" rx="2.4" ry="2.0" fill="#130a2c" transform="rotate(126 170.8 816.0)"/><ellipse cx="211.4" cy="860.5" rx="2.6" ry="2.5" fill="#130a2c" transform="rotate(166 211.4 860.5)"/><ellipse cx="212.1" cy="869.7" rx="2.7" ry="2.6" fill="#130a2c" transform="rotate(143 212.1 869.7)"/><ellipse cx="208.2" cy="872.9" rx="2.7" ry="2.6" fill="#130a2c" transform="rotate(73 208.2 872.9)"/><ellipse cx="231.5" cy="877.5" rx="2.1" ry="1.9" fill="#130a2c" transform="rotate(32 231.5 877.5)"/><ellipse cx="187.4" cy="813.5" rx="2.5" ry="2.1" fill="#130a2c" transform="rotate(59 187.4 813.5)"/><ellipse cx="182.4" cy="831.7" rx="2.1" ry="1.8" fill="#130a2c" transform="rotate(138 182.4 831.7)"/><ellipse cx="253.9" cy="866.5" rx="3.1" ry="2.8" fill="#130a2c" transform="rotate(46 253.9 866.5)"/><ellipse cx="230.2" cy="844.1" rx="2.6" ry="2.2" fill="#130a2c" transform="rotate(149 230.2 844.1)"/><ellipse cx="229.3" cy="822.1" rx="3.1" ry="2.9" fill="#130a2c" transform="rotate(162 229.3 822.1)"/><ellipse cx="256.6" cy="861.9" rx="2.5" ry="2.3" fill="#130a2c" transform="rotate(70 256.6 861.9)"/><ellipse cx="169.4" cy="877.2" rx="3.1" ry="2.6" fill="#130a2c" transform="rotate(167 169.4 877.2)"/><ellipse cx="217.3" cy="835.3" rx="2.1" ry="2.0" fill="#130a2c" transform="rotate(69 217.3 835.3)"/><ellipse cx="248.8" cy="878.2" rx="2.3" ry="2.2" fill="#130a2c" transform="rotate(157 248.8 878.2)"/><ellipse cx="264.5" cy="806.3" rx="2.5" ry="2.5" fill="#130a2c" transform="rotate(111 264.5 806.3)"/><ellipse cx="218.3" cy="864.2" rx="2.8" ry="2.5" fill="#130a2c" transform="rotate(163 218.3 864.2)"/><ellipse cx="183.6" cy="856.9" rx="2.8" ry="2.4" fill="#130a2c" transform="rotate(12 183.6 856.9)"/><ellipse cx="243.2" cy="860.4" rx="2.1" ry="1.9" fill="#130a2c" transform="rotate(164 243.2 860.4)"/>
</g></g>
<defs><clipPath id="mc6"><rect x="164.2" y="881" width="106.1" height="78.7"/></clipPath><linearGradient id="mg6" x1="0" y1="0" x2="1" y2="0.3"><stop offset="0" stop-color="#f2f2f0"/><stop offset="1" stop-color="#e0e8f0"/></linearGradient></defs>
<g clip-path="url(#mc6)">
<rect x="164.2" y="881" width="106.1" height="78.7" fill="url(#mg6)"/>
<g filter="url(#blur2)">
<ellipse cx="189.2" cy="941.0" rx="25" ry="16" fill="#eeeedc"/>
<ellipse cx="224.2" cy="896.0" rx="25" ry="10" fill="#f4f4f4"/>
</g><g filter="url(#blur1)">
<circle cx="266.8" cy="933.6" r="3.0" fill="#5f587c" opacity="0.60"/><circle cx="248.3" cy="887.5" r="3.8" fill="#5f587c" opacity="0.60"/><circle cx="182.8" cy="922.5" r="3.8" fill="#5f587c" opacity="0.60"/><circle cx="240.6" cy="939.1" r="3.2" fill="#5f587c" opacity="0.60"/><circle cx="231.9" cy="882.3" r="2.9" fill="#5f587c" opacity="0.60"/><circle cx="177.7" cy="882.2" r="3.2" fill="#5f587c" opacity="0.60"/><circle cx="261.2" cy="938.4" r="3.3" fill="#5f587c" opacity="0.60"/><circle cx="196.4" cy="903.3" r="3.3" fill="#5f587c" opacity="0.60"/><ellipse cx="268.1" cy="950.7" rx="6.8" ry="0.7" fill="#5f587c" opacity="0.8" transform="rotate(176 268.1 950.7)"/><circle cx="268.1" cy="950.6" r="3.9" fill="#5f587c" opacity="0.60"/><ellipse cx="196.8" cy="912.6" rx="6.9" ry="1.1" fill="#5f587c" opacity="0.8" transform="rotate(139 196.8 912.6)"/><circle cx="196.4" cy="912.6" r="3.3" fill="#5f587c" opacity="0.60"/><ellipse cx="254.3" cy="937.5" rx="6.1" ry="1.0" fill="#5f587c" opacity="0.8" transform="rotate(140 254.3 937.5)"/><circle cx="254.3" cy="937.8" r="3.6" fill="#5f587c" opacity="0.60"/><circle cx="243.4" cy="929.1" r="3.6" fill="#5f587c" opacity="0.60"/><circle cx="248.5" cy="951.5" r="3.4" fill="#5f587c" opacity="0.60"/><ellipse cx="195.3" cy="892.7" rx="7.9" ry="1.0" fill="#5f587c" opacity="0.8" transform="rotate(106 195.3 892.7)"/><circle cx="195.0" cy="892.8" r="3.7" fill="#5f587c" opacity="0.60"/><circle cx="227.7" cy="942.2" r="3.1" fill="#5f587c" opacity="0.60"/><ellipse cx="182.1" cy="903.3" rx="6.2" ry="0.9" fill="#5f587c" opacity="0.8" transform="rotate(94 182.1 903.3)"/><circle cx="181.9" cy="903.4" r="3.8" fill="#5f587c" opacity="0.60"/><ellipse cx="234.6" cy="944.8" rx="8.0" ry="1.0" fill="#5f587c" opacity="0.8" transform="rotate(45 234.6 944.8)"/><circle cx="234.4" cy="944.6" r="3.3" fill="#5f587c" opacity="0.60"/><circle cx="222.5" cy="933.1" r="4.0" fill="#5f587c" opacity="0.60"/><circle cx="174.2" cy="913.9" r="3.9" fill="#5f587c" opacity="0.60"/><circle cx="174.1" cy="899.4" r="3.0" fill="#5f587c" opacity="0.60"/><ellipse cx="203.6" cy="928.8" rx="7.9" ry="0.9" fill="#5f587c" opacity="0.8" transform="rotate(112 203.6 928.8)"/><circle cx="203.3" cy="928.5" r="4.0" fill="#5f587c" opacity="0.60"/><circle cx="186.4" cy="913.4" r="3.1" fill="#5f587c" opacity="0.60"/><ellipse cx="206.6" cy="934.5" rx="6.5" ry="0.9" fill="#5f587c" opacity="0.8" transform="rotate(151 206.6 934.5)"/><circle cx="206.7" cy="934.7" r="3.7" fill="#5f587c" opacity="0.60"/><circle cx="266.0" cy="943.0" r="3.6" fill="#5f587c" opacity="0.60"/><circle cx="244.8" cy="949.9" r="2.8" fill="#5f587c" opacity="0.60"/><ellipse cx="227.1" cy="948.9" rx="7.7" ry="1.0" fill="#5f587c" opacity="0.8" transform="rotate(86 227.1 948.9)"/><circle cx="226.8" cy="949.0" r="4.1" fill="#5f587c" opacity="0.60"/><ellipse cx="204.0" cy="940.6" rx="6.3" ry="0.6" fill="#5f587c" opacity="0.8" transform="rotate(74 204.0 940.6)"/><circle cx="204.1" cy="940.5" r="3.7" fill="#5f587c" opacity="0.60"/><ellipse cx="239.2" cy="912.5" rx="6.6" ry="0.6" fill="#5f587c" opacity="0.8" transform="rotate(47 239.2 912.5)"/><circle cx="239.3" cy="912.8" r="3.9" fill="#5f587c" opacity="0.60"/><ellipse cx="223.0" cy="959.7" rx="9.0" ry="0.8" fill="#5f587c" opacity="0.8" transform="rotate(8 223.0 959.7)"/><circle cx="223.3" cy="959.9" r="2.8" fill="#5f587c" opacity="0.60"/><circle cx="190.3" cy="922.9" r="3.2" fill="#5f587c" opacity="0.60"/><circle cx="210.0" cy="954.2" r="3.6" fill="#5f587c" opacity="0.60"/><circle cx="245.4" cy="895.9" r="3.0" fill="#5f587c" opacity="0.60"/><ellipse cx="198.4" cy="933.2" rx="4.5" ry="0.8" fill="#5f587c" opacity="0.8" transform="rotate(117 198.4 933.2)"/><circle cx="198.4" cy="933.4" r="3.4" fill="#5f587c" opacity="0.60"/><ellipse cx="229.5" cy="959.3" rx="5.4" ry="0.8" fill="#5f587c" opacity="0.8" transform="rotate(110 229.5 959.3)"/><circle cx="229.5" cy="959.5" r="3.1" fill="#5f587c" opacity="0.60"/><circle cx="211.6" cy="946.4" r="3.8" fill="#5f587c" opacity="0.60"/><circle cx="243.6" cy="923.3" r="3.9" fill="#5f587c" opacity="0.60"/><ellipse cx="260.3" cy="916.2" rx="8.3" ry="0.7" fill="#5f587c" opacity="0.8" transform="rotate(30 260.3 916.2)"/><circle cx="260.5" cy="916.4" r="4.1" fill="#5f587c" opacity="0.60"/><ellipse cx="201.3" cy="943.8" rx="5.0" ry="0.9" fill="#5f587c" opacity="0.8" transform="rotate(149 201.3 943.8)"/><circle cx="201.1" cy="943.9" r="4.0" fill="#5f587c" opacity="0.60"/><circle cx="197.3" cy="940.3" r="3.4" fill="#5f587c" opacity="0.60"/><circle cx="256.8" cy="905.4" r="3.9" fill="#5f587c" opacity="0.60"/><circle cx="185.5" cy="900.2" r="3.7" fill="#5f587c" opacity="0.60"/><circle cx="231.5" cy="918.1" r="3.8" fill="#5f587c" opacity="0.60"/><circle cx="251.6" cy="881.1" r="3.7" fill="#5f587c" opacity="0.60"/><ellipse cx="233.5" cy="923.5" rx="6.7" ry="0.7" fill="#5f587c" opacity="0.8" transform="rotate(23 233.5 923.5)"/><circle cx="233.9" cy="923.1" r="3.3" fill="#5f587c" opacity="0.60"/><circle cx="178.5" cy="904.7" r="4.1" fill="#5f587c" opacity="0.60"/><ellipse cx="207.5" cy="912.8" rx="7.0" ry="0.8" fill="#5f587c" opacity="0.8" transform="rotate(177 207.5 912.8)"/><circle cx="207.8" cy="913.0" r="3.4" fill="#5f587c" opacity="0.60"/><ellipse cx="267.1" cy="928.4" rx="7.7" ry="0.8" fill="#5f587c" opacity="0.8" transform="rotate(1 267.1 928.4)"/><circle cx="266.7" cy="928.4" r="3.6" fill="#5f587c" opacity="0.60"/><ellipse cx="238.2" cy="899.7" rx="6.2" ry="0.7" fill="#5f587c" opacity="0.8" transform="rotate(177 238.2 899.7)"/><circle cx="237.9" cy="899.5" r="4.1" fill="#5f587c" opacity="0.60"/><ellipse cx="264.2" cy="949.2" rx="6.7" ry="0.8" fill="#5f587c" opacity="0.8" transform="rotate(65 264.2 949.2)"/><circle cx="264.2" cy="949.0" r="2.9" fill="#5f587c" opacity="0.60"/><circle cx="228.3" cy="952.3" r="2.9" fill="#5f587c" opacity="0.60"/><circle cx="215.9" cy="922.5" r="3.3" fill="#5f587c" opacity="0.60"/><ellipse cx="227.3" cy="913.4" rx="5.0" ry="0.6" fill="#5f587c" opacity="0.8" transform="rotate(81 227.3 913.4)"/><circle cx="227.5" cy="913.5" r="4.1" fill="#5f587c" opacity="0.60"/><ellipse cx="196.7" cy="915.5" rx="5.4" ry="1.0" fill="#5f587c" opacity="0.8" transform="rotate(91 196.7 915.5)"/><circle cx="196.9" cy="915.5" r="3.5" fill="#5f587c" opacity="0.60"/><circle cx="191.7" cy="919.3" r="3.0" fill="#5f587c" opacity="0.60"/><ellipse cx="254.2" cy="934.6" rx="5.9" ry="0.9" fill="#5f587c" opacity="0.8" transform="rotate(12 254.2 934.6)"/><circle cx="254.6" cy="934.7" r="3.2" fill="#5f587c" opacity="0.60"/><circle cx="195.9" cy="957.9" r="3.3" fill="#5f587c" opacity="0.60"/><circle cx="249.6" cy="939.1" r="4.1" fill="#5f587c" opacity="0.60"/><circle cx="175.8" cy="885.0" r="3.2" fill="#5f587c" opacity="0.60"/><circle cx="166.3" cy="912.9" r="3.2" fill="#5f587c" opacity="0.60"/><circle cx="269.0" cy="908.4" r="4.0" fill="#5f587c" opacity="0.60"/><circle cx="213.2" cy="899.9" r="3.3" fill="#5f587c" opacity="0.60"/><circle cx="207.7" cy="891.5" r="3.9" fill="#5f587c" opacity="0.60"/><circle cx="216.4" cy="933.4" r="3.5" fill="#5f587c" opacity="0.60"/><ellipse cx="240.0" cy="949.8" rx="6.4" ry="0.6" fill="#5f587c" opacity="0.8" transform="rotate(54 240.0 949.8)"/><circle cx="239.8" cy="950.0" r="4.0" fill="#5f587c" opacity="0.60"/><circle cx="225.3" cy="880.3" r="3.4" fill="#5f587c" opacity="0.60"/><ellipse cx="249.6" cy="934.4" rx="9.0" ry="1.0" fill="#5f587c" opacity="0.8" transform="rotate(99 249.6 934.4)"/><circle cx="249.2" cy="934.4" r="3.5" fill="#5f587c" opacity="0.60"/><circle cx="187.6" cy="931.1" r="3.4" fill="#5f587c" opacity="0.60"/><circle cx="219.8" cy="921.9" r="3.2" fill="#5f587c" opacity="0.60"/><circle cx="169.2" cy="886.4" r="3.4" fill="#5f587c" opacity="0.60"/><ellipse cx="237.6" cy="883.9" rx="7.4" ry="0.8" fill="#5f587c" opacity="0.8" transform="rotate(10 237.6 883.9)"/><circle cx="237.3" cy="883.7" r="3.2" fill="#5f587c" opacity="0.60"/><circle cx="191.6" cy="895.5" r="3.0" fill="#5f587c" opacity="0.60"/><ellipse cx="204.7" cy="885.1" rx="6.6" ry="1.0" fill="#5f587c" opacity="0.8" transform="rotate(116 204.7 885.1)"/><circle cx="205.0" cy="885.3" r="3.5" fill="#5f587c" opacity="0.60"/><circle cx="224.4" cy="943.5" r="3.6" fill="#5f587c" opacity="0.60"/><circle cx="219.3" cy="943.6" r="2.8" fill="#5f587c" opacity="0.60"/><circle cx="263.7" cy="903.5" r="3.2" fill="#5f587c" opacity="0.60"/><circle cx="253.9" cy="908.5" r="3.5" fill="#5f587c" opacity="0.60"/><ellipse cx="248.1" cy="891.2" rx="7.6" ry="0.7" fill="#5f587c" opacity="0.8" transform="rotate(112 248.1 891.2)"/><circle cx="248.5" cy="891.4" r="3.8" fill="#5f587c" opacity="0.60"/><circle cx="168.6" cy="905.2" r="3.5" fill="#5f587c" opacity="0.60"/><circle cx="181.2" cy="931.5" r="3.2" fill="#5f587c" opacity="0.60"/><circle cx="184.0" cy="934.6" r="3.5" fill="#5f587c" opacity="0.60"/><circle cx="183.2" cy="892.5" r="4.2" fill="#5f587c" opacity="0.60"/><circle cx="266.1" cy="887.4" r="3.1" fill="#5f587c" opacity="0.60"/><circle cx="191.3" cy="943.6" r="3.7" fill="#5f587c" opacity="0.60"/><circle cx="232.1" cy="912.1" r="3.5" fill="#5f587c" opacity="0.60"/><circle cx="164.6" cy="934.3" r="3.9" fill="#5f587c" opacity="0.60"/><circle cx="247.2" cy="900.2" r="4.3" fill="#5f587c" opacity="0.60"/><circle cx="236.8" cy="920.3" r="3.9" fill="#5f587c" opacity="0.60"/><ellipse cx="194.4" cy="887.5" rx="8.6" ry="1.0" fill="#5f587c" opacity="0.8" transform="rotate(3 194.4 887.5)"/><circle cx="194.4" cy="887.4" r="3.2" fill="#5f587c" opacity="0.60"/><ellipse cx="208.8" cy="939.4" rx="8.9" ry="0.7" fill="#5f587c" opacity="0.8" transform="rotate(98 208.8 939.4)"/><circle cx="208.6" cy="939.3" r="3.4" fill="#5f587c" opacity="0.60"/><ellipse cx="264.1" cy="898.2" rx="8.1" ry="0.9" fill="#5f587c" opacity="0.8" transform="rotate(82 264.1 898.2)"/><circle cx="264.3" cy="898.4" r="2.8" fill="#5f587c" opacity="0.60"/><ellipse cx="216.7" cy="903.0" rx="6.3" ry="0.9" fill="#5f587c" opacity="0.8" transform="rotate(178 216.7 903.0)"/><circle cx="216.4" cy="903.2" r="3.5" fill="#5f587c" opacity="0.60"/><circle cx="167.0" cy="957.0" r="4.2" fill="#5f587c" opacity="0.60"/><circle cx="218.7" cy="911.5" r="3.7" fill="#5f587c" opacity="0.60"/><circle cx="199.1" cy="892.1" r="3.5" fill="#5f587c" opacity="0.60"/><circle cx="176.3" cy="937.9" r="3.5" fill="#5f587c" opacity="0.60"/><circle cx="185.9" cy="907.0" r="4.1" fill="#5f587c" opacity="0.60"/><ellipse cx="178.6" cy="946.0" rx="8.2" ry="0.7" fill="#5f587c" opacity="0.8" transform="rotate(112 178.6 946.0)"/><circle cx="178.3" cy="945.9" r="3.0" fill="#5f587c" opacity="0.60"/><circle cx="173.2" cy="932.2" r="3.8" fill="#5f587c" opacity="0.60"/><circle cx="177.0" cy="935.1" r="3.4" fill="#5f587c" opacity="0.60"/><circle cx="256.3" cy="946.5" r="3.1" fill="#5f587c" opacity="0.60"/><circle cx="194.6" cy="947.0" r="3.4" fill="#5f587c" opacity="0.60"/><circle cx="233.4" cy="933.1" r="4.0" fill="#5f587c" opacity="0.60"/><ellipse cx="191.1" cy="940.3" rx="7.3" ry="0.7" fill="#5f587c" opacity="0.8" transform="rotate(172 191.1 940.3)"/><circle cx="191.4" cy="940.5" r="3.3" fill="#5f587c" opacity="0.60"/><circle cx="253.1" cy="914.1" r="4.0" fill="#5f587c" opacity="0.60"/><circle cx="257.5" cy="932.5" r="3.5" fill="#5f587c" opacity="0.60"/><circle cx="248.4" cy="924.7" r="3.0" fill="#5f587c" opacity="0.60"/><circle cx="207.4" cy="928.3" r="3.2" fill="#5f587c" opacity="0.60"/><circle cx="198.7" cy="950.5" r="3.2" fill="#5f587c" opacity="0.60"/><circle cx="228.2" cy="939.8" r="3.4" fill="#5f587c" opacity="0.60"/><circle cx="168.9" cy="908.6" r="4.1" fill="#5f587c" opacity="0.60"/><circle cx="232.8" cy="902.8" r="3.5" fill="#5f587c" opacity="0.60"/><circle cx="247.4" cy="918.3" r="3.0" fill="#5f587c" opacity="0.60"/><circle cx="204.8" cy="922.5" r="3.6" fill="#5f587c" opacity="0.60"/><circle cx="234.9" cy="941.3" r="3.8" fill="#5f587c" opacity="0.60"/><circle cx="194.4" cy="937.2" r="3.6" fill="#5f587c" opacity="0.60"/><ellipse cx="192.4" cy="909.3" rx="6.9" ry="1.1" fill="#5f587c" opacity="0.8" transform="rotate(79 192.4 909.3)"/><circle cx="192.4" cy="909.1" r="3.4" fill="#5f587c" opacity="0.60"/><circle cx="192.0" cy="899.4" r="3.6" fill="#5f587c" opacity="0.60"/><ellipse cx="172.8" cy="949.4" rx="5.2" ry="1.0" fill="#5f587c" opacity="0.8" transform="rotate(24 172.8 949.4)"/><circle cx="172.9" cy="949.1" r="3.7" fill="#5f587c" opacity="0.60"/><circle cx="184.1" cy="896.2" r="3.3" fill="#5f587c" opacity="0.60"/><ellipse cx="207.2" cy="943.3" rx="8.6" ry="1.1" fill="#5f587c" opacity="0.8" transform="rotate(163 207.2 943.3)"/><circle cx="207.6" cy="942.9" r="4.2" fill="#5f587c" opacity="0.60"/><ellipse cx="230.1" cy="937.0" rx="6.6" ry="0.8" fill="#5f587c" opacity="0.8" transform="rotate(115 230.1 937.0)"/><circle cx="230.1" cy="936.7" r="3.4" fill="#5f587c" opacity="0.60"/><circle cx="213.3" cy="894.2" r="4.0" fill="#5f587c" opacity="0.60"/><ellipse cx="172.0" cy="896.5" rx="4.8" ry="0.7" fill="#5f587c" opacity="0.8" transform="rotate(89 172.0 896.5)"/><circle cx="172.1" cy="896.2" r="3.9" fill="#5f587c" opacity="0.60"/><circle cx="256.0" cy="941.9" r="3.3" fill="#5f587c" opacity="0.60"/><circle cx="179.4" cy="899.1" r="3.8" fill="#5f587c" opacity="0.60"/>
<ellipse cx="267.1" cy="933.3" rx="2.2" ry="2.0" fill="#0c0a14" transform="rotate(143 267.1 933.3)"/><ellipse cx="247.9" cy="887.7" rx="2.9" ry="2.3" fill="#0c0a14" transform="rotate(175 247.9 887.7)"/><ellipse cx="183.1" cy="922.2" rx="2.9" ry="2.9" fill="#0c0a14" transform="rotate(53 183.1 922.2)"/><ellipse cx="240.4" cy="938.8" rx="2.3" ry="2.3" fill="#0c0a14" transform="rotate(73 240.4 938.8)"/><ellipse cx="232.2" cy="882.5" rx="2.0" ry="1.6" fill="#0c0a14" transform="rotate(66 232.2 882.5)"/><ellipse cx="177.9" cy="881.9" rx="1.9" ry="1.8" fill="#0c0a14" transform="rotate(8 177.9 881.9)"/><ellipse cx="260.9" cy="938.3" rx="2.3" ry="2.2" fill="#0c0a14" transform="rotate(7 260.9 938.3)"/><ellipse cx="196.3" cy="903.5" rx="2.1" ry="1.8" fill="#0c0a14" transform="rotate(167 196.3 903.5)"/><ellipse cx="268.1" cy="950.7" rx="2.8" ry="2.5" fill="#0c0a14" transform="rotate(43 268.1 950.7)"/><ellipse cx="196.8" cy="912.6" rx="1.9" ry="1.7" fill="#0c0a14" transform="rotate(107 196.8 912.6)"/><ellipse cx="254.3" cy="937.5" rx="2.3" ry="2.1" fill="#0c0a14" transform="rotate(162 254.3 937.5)"/><ellipse cx="243.2" cy="928.8" rx="2.2" ry="2.1" fill="#0c0a14" transform="rotate(119 243.2 928.8)"/><ellipse cx="248.7" cy="951.3" rx="2.7" ry="2.2" fill="#0c0a14" transform="rotate(89 248.7 951.3)"/><ellipse cx="195.3" cy="892.7" rx="2.8" ry="2.7" fill="#0c0a14" transform="rotate(152 195.3 892.7)"/><ellipse cx="227.5" cy="942.2" rx="1.9" ry="1.5" fill="#0c0a14" transform="rotate(168 227.5 942.2)"/><ellipse cx="182.1" cy="903.3" rx="2.9" ry="2.2" fill="#0c0a14" transform="rotate(77 182.1 903.3)"/><ellipse cx="234.6" cy="944.8" rx="1.9" ry="1.6" fill="#0c0a14" transform="rotate(134 234.6 944.8)"/><ellipse cx="222.8" cy="933.3" rx="3.0" ry="2.2" fill="#0c0a14" transform="rotate(62 222.8 933.3)"/><ellipse cx="174.1" cy="914.1" rx="2.5" ry="2.3" fill="#0c0a14" transform="rotate(51 174.1 914.1)"/><ellipse cx="173.8" cy="899.5" rx="2.1" ry="1.9" fill="#0c0a14" transform="rotate(153 173.8 899.5)"/><ellipse cx="203.6" cy="928.8" rx="2.8" ry="2.1" fill="#0c0a14" transform="rotate(160 203.6 928.8)"/><ellipse cx="186.2" cy="913.5" rx="2.3" ry="2.1" fill="#0c0a14" transform="rotate(48 186.2 913.5)"/><ellipse cx="206.6" cy="934.5" rx="2.7" ry="2.3" fill="#0c0a14" transform="rotate(34 206.6 934.5)"/><ellipse cx="266.2" cy="942.9" rx="2.8" ry="2.6" fill="#0c0a14" transform="rotate(160 266.2 942.9)"/><ellipse cx="244.6" cy="950.0" rx="2.0" ry="1.7" fill="#0c0a14" transform="rotate(101 244.6 950.0)"/><ellipse cx="227.1" cy="948.9" rx="2.7" ry="2.4" fill="#0c0a14" transform="rotate(12 227.1 948.9)"/><ellipse cx="204.0" cy="940.6" rx="2.7" ry="2.4" fill="#0c0a14" transform="rotate(5 204.0 940.6)"/><ellipse cx="239.2" cy="912.5" rx="2.4" ry="1.8" fill="#0c0a14" transform="rotate(56 239.2 912.5)"/><ellipse cx="223.0" cy="959.7" rx="2.0" ry="1.9" fill="#0c0a14" transform="rotate(145 223.0 959.7)"/><ellipse cx="190.0" cy="923.2" rx="2.1" ry="1.9" fill="#0c0a14" transform="rotate(51 190.0 923.2)"/><ellipse cx="210.1" cy="954.1" rx="2.7" ry="2.6" fill="#0c0a14" transform="rotate(152 210.1 954.1)"/><ellipse cx="245.6" cy="895.7" rx="2.1" ry="2.0" fill="#0c0a14" transform="rotate(54 245.6 895.7)"/><ellipse cx="198.4" cy="933.2" rx="2.1" ry="1.6" fill="#0c0a14" transform="rotate(19 198.4 933.2)"/><ellipse cx="229.5" cy="959.3" rx="2.3" ry="2.2" fill="#0c0a14" transform="rotate(126 229.5 959.3)"/><ellipse cx="211.8" cy="946.1" rx="2.7" ry="2.1" fill="#0c0a14" transform="rotate(103 211.8 946.1)"/><ellipse cx="243.5" cy="923.4" rx="2.9" ry="2.4" fill="#0c0a14" transform="rotate(53 243.5 923.4)"/><ellipse cx="260.3" cy="916.2" rx="2.8" ry="2.5" fill="#0c0a14" transform="rotate(131 260.3 916.2)"/><ellipse cx="201.3" cy="943.8" rx="2.9" ry="2.8" fill="#0c0a14" transform="rotate(50 201.3 943.8)"/><ellipse cx="197.0" cy="940.1" rx="2.4" ry="2.3" fill="#0c0a14" transform="rotate(73 197.0 940.1)"/><ellipse cx="256.7" cy="905.8" rx="3.0" ry="2.3" fill="#0c0a14" transform="rotate(106 256.7 905.8)"/><ellipse cx="185.7" cy="900.2" rx="2.6" ry="2.4" fill="#0c0a14" transform="rotate(131 185.7 900.2)"/><ellipse cx="231.4" cy="918.0" rx="2.7" ry="2.4" fill="#0c0a14" transform="rotate(107 231.4 918.0)"/><ellipse cx="251.5" cy="880.8" rx="2.5" ry="2.3" fill="#0c0a14" transform="rotate(104 251.5 880.8)"/><ellipse cx="233.5" cy="923.5" rx="2.3" ry="1.7" fill="#0c0a14" transform="rotate(91 233.5 923.5)"/><ellipse cx="178.9" cy="904.9" rx="2.8" ry="2.3" fill="#0c0a14" transform="rotate(94 178.9 904.9)"/><ellipse cx="207.5" cy="912.8" rx="2.4" ry="2.1" fill="#0c0a14" transform="rotate(173 207.5 912.8)"/><ellipse cx="267.1" cy="928.4" rx="2.5" ry="2.3" fill="#0c0a14" transform="rotate(5 267.1 928.4)"/><ellipse cx="238.2" cy="899.7" rx="3.0" ry="3.0" fill="#0c0a14" transform="rotate(112 238.2 899.7)"/><ellipse cx="264.2" cy="949.2" rx="2.1" ry="1.6" fill="#0c0a14" transform="rotate(112 264.2 949.2)"/><ellipse cx="228.0" cy="952.6" rx="2.1" ry="2.1" fill="#0c0a14" transform="rotate(64 228.0 952.6)"/><ellipse cx="216.2" cy="922.6" rx="2.5" ry="2.0" fill="#0c0a14" transform="rotate(177 216.2 922.6)"/><ellipse cx="227.3" cy="913.4" rx="3.0" ry="2.6" fill="#0c0a14" transform="rotate(112 227.3 913.4)"/><ellipse cx="196.7" cy="915.5" rx="2.3" ry="2.2" fill="#0c0a14" transform="rotate(125 196.7 915.5)"/><ellipse cx="192.0" cy="919.2" rx="2.0" ry="1.6" fill="#0c0a14" transform="rotate(135 192.0 919.2)"/><ellipse cx="254.2" cy="934.6" rx="1.9" ry="1.6" fill="#0c0a14" transform="rotate(55 254.2 934.6)"/><ellipse cx="196.2" cy="958.0" rx="2.0" ry="1.6" fill="#0c0a14" transform="rotate(174 196.2 958.0)"/><ellipse cx="249.3" cy="939.4" rx="2.8" ry="2.3" fill="#0c0a14" transform="rotate(87 249.3 939.4)"/><ellipse cx="175.7" cy="884.9" rx="2.1" ry="1.9" fill="#0c0a14" transform="rotate(44 175.7 884.9)"/><ellipse cx="166.2" cy="913.1" rx="2.3" ry="2.1" fill="#0c0a14" transform="rotate(180 166.2 913.1)"/><ellipse cx="269.0" cy="908.6" rx="2.6" ry="2.2" fill="#0c0a14" transform="rotate(161 269.0 908.6)"/><ellipse cx="212.9" cy="899.8" rx="2.1" ry="1.7" fill="#0c0a14" transform="rotate(128 212.9 899.8)"/><ellipse cx="207.7" cy="891.2" rx="2.6" ry="2.5" fill="#0c0a14" transform="rotate(134 207.7 891.2)"/><ellipse cx="216.6" cy="933.4" rx="2.4" ry="1.9" fill="#0c0a14" transform="rotate(25 216.6 933.4)"/><ellipse cx="240.0" cy="949.8" rx="2.8" ry="2.4" fill="#0c0a14" transform="rotate(19 240.0 949.8)"/><ellipse cx="225.4" cy="880.7" rx="2.6" ry="2.0" fill="#0c0a14" transform="rotate(4 225.4 880.7)"/><ellipse cx="249.6" cy="934.4" rx="2.6" ry="2.0" fill="#0c0a14" transform="rotate(96 249.6 934.4)"/><ellipse cx="187.9" cy="931.1" rx="2.0" ry="2.0" fill="#0c0a14" transform="rotate(102 187.9 931.1)"/><ellipse cx="219.9" cy="921.8" rx="2.0" ry="1.7" fill="#0c0a14" transform="rotate(37 219.9 921.8)"/><ellipse cx="169.4" cy="886.5" rx="2.7" ry="2.3" fill="#0c0a14" transform="rotate(111 169.4 886.5)"/><ellipse cx="237.6" cy="883.9" rx="2.3" ry="2.3" fill="#0c0a14" transform="rotate(120 237.6 883.9)"/><ellipse cx="191.9" cy="895.5" rx="2.2" ry="2.1" fill="#0c0a14" transform="rotate(115 191.9 895.5)"/><ellipse cx="204.7" cy="885.1" rx="2.4" ry="2.3" fill="#0c0a14" transform="rotate(14 204.7 885.1)"/><ellipse cx="224.2" cy="943.9" rx="2.4" ry="2.2" fill="#0c0a14" transform="rotate(158 224.2 943.9)"/><ellipse cx="219.7" cy="943.9" rx="2.0" ry="1.8" fill="#0c0a14" transform="rotate(58 219.7 943.9)"/><ellipse cx="264.1" cy="903.6" rx="2.4" ry="2.1" fill="#0c0a14" transform="rotate(176 264.1 903.6)"/><ellipse cx="254.3" cy="908.7" rx="2.4" ry="2.1" fill="#0c0a14" transform="rotate(138 254.3 908.7)"/><ellipse cx="248.1" cy="891.2" rx="2.5" ry="2.1" fill="#0c0a14" transform="rotate(171 248.1 891.2)"/><ellipse cx="168.3" cy="905.0" rx="2.4" ry="2.3" fill="#0c0a14" transform="rotate(50 168.3 905.0)"/><ellipse cx="181.2" cy="931.6" rx="2.3" ry="1.9" fill="#0c0a14" transform="rotate(40 181.2 931.6)"/><ellipse cx="184.1" cy="934.7" rx="2.2" ry="2.1" fill="#0c0a14" transform="rotate(73 184.1 934.7)"/><ellipse cx="183.1" cy="892.7" rx="2.8" ry="2.4" fill="#0c0a14" transform="rotate(25 183.1 892.7)"/><ellipse cx="266.1" cy="887.4" rx="2.3" ry="1.9" fill="#0c0a14" transform="rotate(22 266.1 887.4)"/><ellipse cx="191.6" cy="943.7" rx="2.3" ry="1.9" fill="#0c0a14" transform="rotate(131 191.6 943.7)"/><ellipse cx="232.3" cy="912.0" rx="2.3" ry="1.9" fill="#0c0a14" transform="rotate(93 232.3 912.0)"/><ellipse cx="165.0" cy="934.5" rx="2.8" ry="2.8" fill="#0c0a14" transform="rotate(131 165.0 934.5)"/><ellipse cx="247.2" cy="900.4" rx="2.9" ry="2.5" fill="#0c0a14" transform="rotate(70 247.2 900.4)"/><ellipse cx="236.7" cy="920.4" rx="2.8" ry="2.3" fill="#0c0a14" transform="rotate(65 236.7 920.4)"/><ellipse cx="194.4" cy="887.5" rx="2.0" ry="1.7" fill="#0c0a14" transform="rotate(107 194.4 887.5)"/><ellipse cx="208.8" cy="939.4" rx="2.2" ry="2.1" fill="#0c0a14" transform="rotate(74 208.8 939.4)"/><ellipse cx="264.1" cy="898.2" rx="2.1" ry="1.6" fill="#0c0a14" transform="rotate(125 264.1 898.2)"/><ellipse cx="216.7" cy="903.0" rx="2.2" ry="2.2" fill="#0c0a14" transform="rotate(87 216.7 903.0)"/><ellipse cx="167.0" cy="957.3" rx="2.8" ry="2.1" fill="#0c0a14" transform="rotate(38 167.0 957.3)"/><ellipse cx="218.7" cy="911.8" rx="2.4" ry="2.3" fill="#0c0a14" transform="rotate(29 218.7 911.8)"/><ellipse cx="198.9" cy="892.0" rx="2.5" ry="2.2" fill="#0c0a14" transform="rotate(165 198.9 892.0)"/><ellipse cx="176.7" cy="938.2" rx="2.1" ry="1.7" fill="#0c0a14" transform="rotate(106 176.7 938.2)"/><ellipse cx="185.8" cy="906.8" rx="3.0" ry="2.3" fill="#0c0a14" transform="rotate(145 185.8 906.8)"/><ellipse cx="178.6" cy="946.0" rx="2.0" ry="1.9" fill="#0c0a14" transform="rotate(64 178.6 946.0)"/><ellipse cx="173.1" cy="931.9" rx="2.4" ry="2.3" fill="#0c0a14" transform="rotate(61 173.1 931.9)"/><ellipse cx="176.9" cy="935.2" rx="2.4" ry="2.3" fill="#0c0a14" transform="rotate(141 176.9 935.2)"/><ellipse cx="256.0" cy="946.1" rx="1.9" ry="1.7" fill="#0c0a14" transform="rotate(134 256.0 946.1)"/><ellipse cx="195.0" cy="946.7" rx="2.6" ry="2.5" fill="#0c0a14" transform="rotate(139 195.0 946.7)"/><ellipse cx="233.8" cy="932.9" rx="2.9" ry="2.3" fill="#0c0a14" transform="rotate(44 233.8 932.9)"/><ellipse cx="191.1" cy="940.3" rx="2.1" ry="1.9" fill="#0c0a14" transform="rotate(110 191.1 940.3)"/><ellipse cx="252.7" cy="914.2" rx="2.7" ry="2.2" fill="#0c0a14" transform="rotate(23 252.7 914.2)"/><ellipse cx="257.1" cy="932.8" rx="2.7" ry="2.6" fill="#0c0a14" transform="rotate(169 257.1 932.8)"/><ellipse cx="248.5" cy="924.6" rx="2.0" ry="1.8" fill="#0c0a14" transform="rotate(67 248.5 924.6)"/><ellipse cx="207.0" cy="928.4" rx="2.3" ry="1.9" fill="#0c0a14" transform="rotate(100 207.0 928.4)"/><ellipse cx="199.0" cy="950.6" rx="2.1" ry="1.8" fill="#0c0a14" transform="rotate(16 199.0 950.6)"/><ellipse cx="228.5" cy="939.6" rx="2.2" ry="1.7" fill="#0c0a14" transform="rotate(160 228.5 939.6)"/><ellipse cx="168.5" cy="908.8" rx="2.7" ry="2.2" fill="#0c0a14" transform="rotate(85 168.5 908.8)"/><ellipse cx="232.6" cy="902.9" rx="2.7" ry="2.1" fill="#0c0a14" transform="rotate(109 232.6 902.9)"/><ellipse cx="247.6" cy="918.4" rx="2.2" ry="1.9" fill="#0c0a14" transform="rotate(161 247.6 918.4)"/><ellipse cx="204.8" cy="922.5" rx="2.3" ry="2.2" fill="#0c0a14" transform="rotate(104 204.8 922.5)"/><ellipse cx="235.1" cy="941.3" rx="2.4" ry="2.1" fill="#0c0a14" transform="rotate(118 235.1 941.3)"/><ellipse cx="194.6" cy="937.2" rx="2.3" ry="2.1" fill="#0c0a14" transform="rotate(109 194.6 937.2)"/><ellipse cx="192.4" cy="909.3" rx="2.1" ry="1.7" fill="#0c0a14" transform="rotate(8 192.4 909.3)"/><ellipse cx="192.0" cy="899.1" rx="2.6" ry="2.4" fill="#0c0a14" transform="rotate(138 192.0 899.1)"/><ellipse cx="172.8" cy="949.4" rx="2.9" ry="2.4" fill="#0c0a14" transform="rotate(115 172.8 949.4)"/><ellipse cx="184.2" cy="896.1" rx="2.2" ry="1.7" fill="#0c0a14" transform="rotate(101 184.2 896.1)"/><ellipse cx="207.2" cy="943.3" rx="2.8" ry="2.6" fill="#0c0a14" transform="rotate(93 207.2 943.3)"/><ellipse cx="230.1" cy="937.0" rx="2.3" ry="2.3" fill="#0c0a14" transform="rotate(50 230.1 937.0)"/><ellipse cx="213.1" cy="893.9" rx="2.8" ry="2.8" fill="#0c0a14" transform="rotate(47 213.1 893.9)"/><ellipse cx="172.0" cy="896.5" rx="2.9" ry="2.9" fill="#0c0a14" transform="rotate(115 172.0 896.5)"/><ellipse cx="255.6" cy="942.3" rx="2.4" ry="1.9" fill="#0c0a14" transform="rotate(146 255.6 942.3)"/><ellipse cx="179.5" cy="899.3" rx="2.7" ry="2.3" fill="#0c0a14" transform="rotate(85 179.5 899.3)"/>
</g></g>
<text font-size="11" text-anchor="middle" fill="#000" stroke="#000" stroke-width="0.5" transform="translate(21.63 756.80) rotate(-90)" >a-miR Control</text>
<text font-size="11" text-anchor="middle" fill="#000" stroke="#000" stroke-width="0.5" transform="translate(21.63 839.40) rotate(-90)" >a-miR 99b</text>
<text font-size="11" text-anchor="middle" fill="#000" stroke="#000" stroke-width="0.5" transform="translate(21.63 923.00) rotate(-90)" >a-miR 125a</text>
<text font-size="11" text-anchor="middle" fill="#000" stroke="#000" stroke-width="0.5" transform="translate(156.63 757.00) rotate(-90)" >a-miR let-7e</text>
<text font-size="11" text-anchor="middle" fill="#000" stroke="#000" stroke-width="0.5" transform="translate(156.63 839.40) rotate(-90)" >a-miR 132</text>
<text font-size="11" text-anchor="middle" fill="#000" stroke="#000" stroke-width="0.5" transform="translate(156.63 923.00) rotate(-90)" >a-miR 212</text>
<text font-size="10.9" text-anchor="start" fill="#000" stroke="#000" stroke-width="0.4" x="0.00" y="988.80" >4 days after miRNA inhibition and M-CSF/RANKL stimulation</text>
<text font-size="10.8" text-anchor="middle" fill="#14143c" stroke="#14143c" stroke-width="0.5" transform="translate(294.46 816.00) rotate(-90)" >% TRAP+ osteoclasts</text>
<line x1="324.15" y1="774.70" x2="324.15" y2="798.60" stroke="#000" stroke-width="1.5" />
<line x1="321.15" y1="774.70" x2="327.15" y2="774.70" stroke="#000" stroke-width="1.45" />
<rect x="319.92" y="799.17" width="8.45" height="69.73" fill="#7f8e9e" stroke="#000" stroke-width="1.55"/>
<line x1="337.90" y1="849.40" x2="337.90" y2="859.70" stroke="#000" stroke-width="1.5" />
<line x1="334.90" y1="849.40" x2="340.90" y2="849.40" stroke="#000" stroke-width="1.45" />
<rect x="333.82" y="860.27" width="8.15" height="8.62" fill="#e0e6e4" stroke="#000" stroke-width="1.55"/>
<text font-size="11" text-anchor="middle" fill="#000" font-weight="bold" x="337.90" y="847.60" >*</text>
<line x1="351.80" y1="855.30" x2="351.80" y2="861.90" stroke="#000" stroke-width="1.5" />
<line x1="348.80" y1="855.30" x2="354.80" y2="855.30" stroke="#000" stroke-width="1.45" />
<rect x="347.82" y="862.47" width="7.95" height="6.43" fill="#e0e6e4" stroke="#000" stroke-width="1.55"/>
<text font-size="11" text-anchor="middle" fill="#000" font-weight="bold" x="351.80" y="853.80" >*</text>
<line x1="365.75" y1="845.40" x2="365.75" y2="856.40" stroke="#000" stroke-width="1.5" />
<line x1="362.75" y1="845.40" x2="368.75" y2="845.40" stroke="#000" stroke-width="1.45" />
<rect x="361.62" y="856.97" width="8.25" height="11.93" fill="#e0e6e4" stroke="#000" stroke-width="1.55"/>
<text font-size="11" text-anchor="middle" fill="#000" font-weight="bold" x="365.75" y="843.20" >*</text>
<line x1="379.60" y1="854.20" x2="379.60" y2="859.70" stroke="#000" stroke-width="1.5" />
<line x1="376.60" y1="854.20" x2="382.60" y2="854.20" stroke="#000" stroke-width="1.45" />
<rect x="375.52" y="860.27" width="8.15" height="8.62" fill="#e0e6e4" stroke="#000" stroke-width="1.55"/>
<text font-size="11" text-anchor="middle" fill="#000" font-weight="bold" x="379.60" y="852.50" >*</text>
<line x1="393.55" y1="842.60" x2="393.55" y2="847.00" stroke="#000" stroke-width="1.5" />
<line x1="390.55" y1="842.60" x2="396.55" y2="842.60" stroke="#000" stroke-width="1.45" />
<rect x="389.12" y="847.57" width="8.85" height="21.33" fill="#e0e6e4" stroke="#000" stroke-width="1.55"/>
<text font-size="11" text-anchor="middle" fill="#000" font-weight="bold" x="393.55" y="840.40" >*</text>
<rect x="316.10" y="756.50" width="85.70" height="112.40" fill="none" stroke="#000" stroke-width="1.1"/>
<line x1="315.90" y1="868.90" x2="402.30" y2="868.90" stroke="#000" stroke-width="1.5" />
<line x1="316.40" y1="756.50" x2="316.40" y2="868.90" stroke="#000" stroke-width="1.7" />
<line x1="311.70" y1="756.50" x2="316.10" y2="756.50" stroke="#000" stroke-width="1.2" />
<text font-size="9.0" text-anchor="end" fill="#000" stroke="#000" stroke-width="0.5" x="310.70" y="759.74" >8</text>
<line x1="311.70" y1="784.60" x2="316.10" y2="784.60" stroke="#000" stroke-width="1.2" />
<text font-size="9.0" text-anchor="end" fill="#000" stroke="#000" stroke-width="0.5" x="310.70" y="787.84" >6</text>
<line x1="311.70" y1="812.50" x2="316.10" y2="812.50" stroke="#000" stroke-width="1.2" />
<text font-size="9.0" text-anchor="end" fill="#000" stroke="#000" stroke-width="0.5" x="310.70" y="815.74" >4</text>
<line x1="311.70" y1="840.60" x2="316.10" y2="840.60" stroke="#000" stroke-width="1.2" />
<text font-size="9.0" text-anchor="end" fill="#000" stroke="#000" stroke-width="0.5" x="310.70" y="843.84" >2</text>
<line x1="311.70" y1="868.90" x2="316.10" y2="868.90" stroke="#000" stroke-width="1.2" />
<text font-size="9.0" text-anchor="end" fill="#000" stroke="#000" stroke-width="0.5" x="310.70" y="872.14" >0</text>
<line x1="324.15" y1="868.90" x2="324.15" y2="872.10" stroke="#000" stroke-width="1.1" />
<text font-size="8.1" text-anchor="end" fill="#000" stroke="#000" stroke-width="0.5" transform="translate(327.52 875.00) rotate(-90)" >a-miR Control</text>
<line x1="337.90" y1="868.90" x2="337.90" y2="872.10" stroke="#000" stroke-width="1.1" />
<text font-size="8.1" text-anchor="end" fill="#000" stroke="#000" stroke-width="0.5" transform="translate(341.27 875.00) rotate(-90)" >a-miR 99b</text>
<line x1="351.80" y1="868.90" x2="351.80" y2="872.10" stroke="#000" stroke-width="1.1" />
<text font-size="8.1" text-anchor="end" fill="#000" stroke="#000" stroke-width="0.5" transform="translate(355.17 875.00) rotate(-90)" >a-miR 125a</text>
<line x1="365.75" y1="868.90" x2="365.75" y2="872.10" stroke="#000" stroke-width="1.1" />
<text font-size="8.1" text-anchor="end" fill="#000" stroke="#000" stroke-width="0.5" transform="translate(369.12 875.00) rotate(-90)" >a-miR let-7e</text>
<line x1="379.60" y1="868.90" x2="379.60" y2="872.10" stroke="#000" stroke-width="1.1" />
<text font-size="8.1" text-anchor="end" fill="#000" stroke="#000" stroke-width="0.5" transform="translate(382.97 875.00) rotate(-90)" >a-miR 132</text>
<line x1="393.55" y1="868.90" x2="393.55" y2="872.10" stroke="#000" stroke-width="1.1" />
<text font-size="8.1" text-anchor="end" fill="#000" stroke="#000" stroke-width="0.5" transform="translate(396.92 875.00) rotate(-90)" >a-miR 212</text>
<text font-size="10.8" text-anchor="middle" fill="#000" stroke="#000" stroke-width="0.5" transform="translate(421.16 816.30) rotate(-90)" >Cell number</text>
<line x1="455.35" y1="776.70" x2="455.35" y2="781.10" stroke="#000" stroke-width="1.5" />
<line x1="452.35" y1="776.70" x2="458.35" y2="776.70" stroke="#000" stroke-width="1.45" />
<rect x="451.52" y="781.67" width="7.65" height="86.83" fill="#7f8e9e" stroke="#000" stroke-width="1.55"/>
<line x1="467.20" y1="797.80" x2="467.20" y2="813.60" stroke="#000" stroke-width="1.5" />
<line x1="464.20" y1="797.80" x2="470.20" y2="797.80" stroke="#000" stroke-width="1.45" />
<rect x="463.52" y="814.17" width="7.35" height="54.33" fill="#7f8e9e" stroke="#000" stroke-width="1.55"/>
<line x1="478.85" y1="805.90" x2="478.85" y2="822.80" stroke="#000" stroke-width="1.5" />
<line x1="475.85" y1="805.90" x2="481.85" y2="805.90" stroke="#000" stroke-width="1.45" />
<rect x="475.22" y="823.37" width="7.25" height="45.13" fill="#7f8e9e" stroke="#000" stroke-width="1.55"/>
<line x1="490.85" y1="801.10" x2="490.85" y2="806.50" stroke="#000" stroke-width="1.5" />
<line x1="487.85" y1="801.10" x2="493.85" y2="801.10" stroke="#000" stroke-width="1.45" />
<rect x="487.32" y="807.07" width="7.05" height="61.43" fill="#7f8e9e" stroke="#000" stroke-width="1.55"/>
<line x1="502.70" y1="792.70" x2="502.70" y2="808.70" stroke="#000" stroke-width="1.5" />
<line x1="499.70" y1="792.70" x2="505.70" y2="792.70" stroke="#000" stroke-width="1.45" />
<rect x="498.92" y="809.27" width="7.55" height="59.23" fill="#7f8e9e" stroke="#000" stroke-width="1.55"/>
<line x1="514.45" y1="813.60" x2="514.45" y2="827.20" stroke="#000" stroke-width="1.5" />
<line x1="511.45" y1="813.60" x2="517.45" y2="813.60" stroke="#000" stroke-width="1.45" />
<rect x="510.82" y="827.77" width="7.25" height="40.73" fill="#7f8e9e" stroke="#000" stroke-width="1.55"/>
<line x1="534.40" y1="824.10" x2="534.40" y2="836.60" stroke="#000" stroke-width="1.5" />
<line x1="531.40" y1="824.10" x2="537.40" y2="824.10" stroke="#000" stroke-width="1.45" />
<rect x="530.73" y="837.17" width="7.35" height="31.33" fill="#e0e6e4" stroke="#000" stroke-width="1.55"/>
<line x1="545.95" y1="850.30" x2="545.95" y2="859.30" stroke="#000" stroke-width="1.5" />
<line x1="542.95" y1="850.30" x2="548.95" y2="850.30" stroke="#000" stroke-width="1.45" />
<rect x="542.32" y="859.87" width="7.25" height="8.63" fill="#e0e6e4" stroke="#000" stroke-width="1.55"/>
<line x1="557.80" y1="859.70" x2="557.80" y2="864.10" stroke="#000" stroke-width="1.5" />
<line x1="554.80" y1="859.70" x2="560.80" y2="859.70" stroke="#000" stroke-width="1.45" />
<rect x="553.92" y="864.67" width="7.75" height="3.83" fill="#e0e6e4" stroke="#000" stroke-width="1.55"/>
<line x1="593.00" y1="847.20" x2="593.00" y2="854.20" stroke="#000" stroke-width="1.5" />
<line x1="590.00" y1="847.20" x2="596.00" y2="847.20" stroke="#000" stroke-width="1.45" />
<rect x="589.12" y="854.77" width="7.75" height="13.73" fill="#e0e6e4" stroke="#000" stroke-width="1.55"/>
<line x1="612.95" y1="820.20" x2="612.95" y2="827.20" stroke="#000" stroke-width="1.5" />
<line x1="609.95" y1="820.20" x2="615.95" y2="820.20" stroke="#000" stroke-width="1.45" />
<rect x="609.32" y="827.77" width="7.25" height="40.73" fill="#ffffff" stroke="#000" stroke-width="1.55"/>
<line x1="648.10" y1="843.70" x2="648.10" y2="854.20" stroke="#000" stroke-width="1.5" />
<line x1="645.10" y1="843.70" x2="651.10" y2="843.70" stroke="#000" stroke-width="1.45" />
<rect x="644.02" y="854.77" width="8.15" height="13.73" fill="#ffffff" stroke="#000" stroke-width="1.55"/>
<line x1="660.15" y1="854.70" x2="660.15" y2="859.30" stroke="#000" stroke-width="1.5" />
<line x1="657.15" y1="854.70" x2="663.15" y2="854.70" stroke="#000" stroke-width="1.45" />
<rect x="656.52" y="859.87" width="7.25" height="8.63" fill="#ffffff" stroke="#000" stroke-width="1.55"/>
<line x1="672.50" y1="859.70" x2="672.50" y2="864.10" stroke="#000" stroke-width="1.5" />
<line x1="669.50" y1="859.70" x2="675.50" y2="859.70" stroke="#000" stroke-width="1.45" />
<rect x="668.62" y="864.67" width="7.75" height="3.83" fill="#ffffff" stroke="#000" stroke-width="1.55"/>
<rect x="445.00" y="757.60" width="237.40" height="110.90" fill="none" stroke="#000" stroke-width="1.1"/>
<line x1="444.80" y1="868.50" x2="682.90" y2="868.50" stroke="#000" stroke-width="1.5" />
<line x1="445.30" y1="757.60" x2="445.30" y2="868.50" stroke="#000" stroke-width="1.7" />
<line x1="440.00" y1="757.60" x2="445.00" y2="757.60" stroke="#000" stroke-width="1.2" />
<text font-size="9.0" text-anchor="end" fill="#000" stroke="#000" stroke-width="0.5" x="437.40" y="760.84" >8</text>
<line x1="440.00" y1="785.50" x2="445.00" y2="785.50" stroke="#000" stroke-width="1.2" />
<text font-size="9.0" text-anchor="end" fill="#000" stroke="#000" stroke-width="0.5" x="437.40" y="788.74" >6</text>
<line x1="440.00" y1="813.60" x2="445.00" y2="813.60" stroke="#000" stroke-width="1.2" />
<text font-size="9.0" text-anchor="end" fill="#000" stroke="#000" stroke-width="0.5" x="437.40" y="816.84" >4</text>
<line x1="440.00" y1="841.00" x2="445.00" y2="841.00" stroke="#000" stroke-width="1.2" />
<text font-size="9.0" text-anchor="end" fill="#000" stroke="#000" stroke-width="0.5" x="437.40" y="844.24" >2</text>
<line x1="440.00" y1="868.50" x2="445.00" y2="868.50" stroke="#000" stroke-width="1.2" />
<text font-size="9.0" text-anchor="end" fill="#000" stroke="#000" stroke-width="0.5" x="437.40" y="871.74" >0</text>
<text font-size="8.1" text-anchor="end" fill="#000" stroke="#000" stroke-width="0.5" transform="translate(458.72 875.00) rotate(-90)" >a-miR Control</text>
<text font-size="8.1" text-anchor="end" fill="#000" stroke="#000" stroke-width="0.5" transform="translate(470.57 875.00) rotate(-90)" >a-miR 99b</text>
<text font-size="8.1" text-anchor="end" fill="#000" stroke="#000" stroke-width="0.5" transform="translate(482.22 875.00) rotate(-90)" >a-miR 125a</text>
<text font-size="8.1" text-anchor="end" fill="#000" stroke="#000" stroke-width="0.5" transform="translate(494.22 875.00) rotate(-90)" >a-miR let-7e</text>
<text font-size="8.1" text-anchor="end" fill="#000" stroke="#000" stroke-width="0.5" transform="translate(506.07 875.00) rotate(-90)" >a-miR 132</text>
<text font-size="8.1" text-anchor="end" fill="#000" stroke="#000" stroke-width="0.5" transform="translate(517.82 875.00) rotate(-90)" >a-miR 212</text>
<text font-size="8.1" text-anchor="end" fill="#000" stroke="#000" stroke-width="0.5" transform="translate(537.77 875.00) rotate(-90)" >a-miR Control</text>
<text font-size="8.1" text-anchor="end" fill="#000" stroke="#000" stroke-width="0.5" transform="translate(549.32 875.00) rotate(-90)" >a-miR 99b</text>
<text font-size="8.1" text-anchor="end" fill="#000" stroke="#000" stroke-width="0.5" transform="translate(561.17 875.00) rotate(-90)" >a-miR 125a</text>
<text font-size="8.1" text-anchor="end" fill="#000" stroke="#000" stroke-width="0.5" transform="translate(574.17 875.00) rotate(-90)" >a-miR let-7e</text>
<text font-size="8.1" text-anchor="end" fill="#000" stroke="#000" stroke-width="0.5" transform="translate(586.37 875.00) rotate(-90)" >a-miR 132</text>
<text font-size="8.1" text-anchor="end" fill="#000" stroke="#000" stroke-width="0.5" transform="translate(596.37 875.00) rotate(-90)" >a-miR 212</text>
<text font-size="8.1" text-anchor="end" fill="#000" stroke="#000" stroke-width="0.5" transform="translate(616.32 875.00) rotate(-90)" >a-miR Control</text>
<text font-size="8.1" text-anchor="end" fill="#000" stroke="#000" stroke-width="0.5" transform="translate(628.57 875.00) rotate(-90)" >a-miR 99b</text>
<text font-size="8.1" text-anchor="end" fill="#000" stroke="#000" stroke-width="0.5" transform="translate(640.67 875.00) rotate(-90)" >a-miR 125a</text>
<text font-size="8.1" text-anchor="end" fill="#000" stroke="#000" stroke-width="0.5" transform="translate(651.47 875.00) rotate(-90)" >a-miR let-7e</text>
<text font-size="8.1" text-anchor="end" fill="#000" stroke="#000" stroke-width="0.5" transform="translate(663.52 875.00) rotate(-90)" >a-miR 132</text>
<text font-size="8.1" text-anchor="end" fill="#000" stroke="#000" stroke-width="0.5" transform="translate(675.87 875.00) rotate(-90)" >a-miR 212</text>
<rect x="465.20" y="763.90" width="9.50" height="5.90" fill="#7f8e9e" stroke="#000" stroke-width="1.1"/>
<text font-size="8" text-anchor="start" fill="#000" stroke="#000" stroke-width="0.5" x="476.90" y="770.00" >2 nuclei</text>
<rect x="543.50" y="763.90" width="8.80" height="5.90" fill="#e0e6e4" stroke="#000" stroke-width="1.1"/>
<text font-size="8" text-anchor="start" fill="#000" stroke="#000" stroke-width="0.5" x="555.00" y="770.00" >3 nuclei</text>
<rect x="620.90" y="763.90" width="8.70" height="5.90" fill="#ffffff" stroke="#000" stroke-width="1.1"/>
<text font-size="8" text-anchor="start" fill="#000" stroke="#000" stroke-width="0.5" x="632.50" y="770.00" >≥ 4 nuclei</text>
</g>
</svg>
</body></html>
